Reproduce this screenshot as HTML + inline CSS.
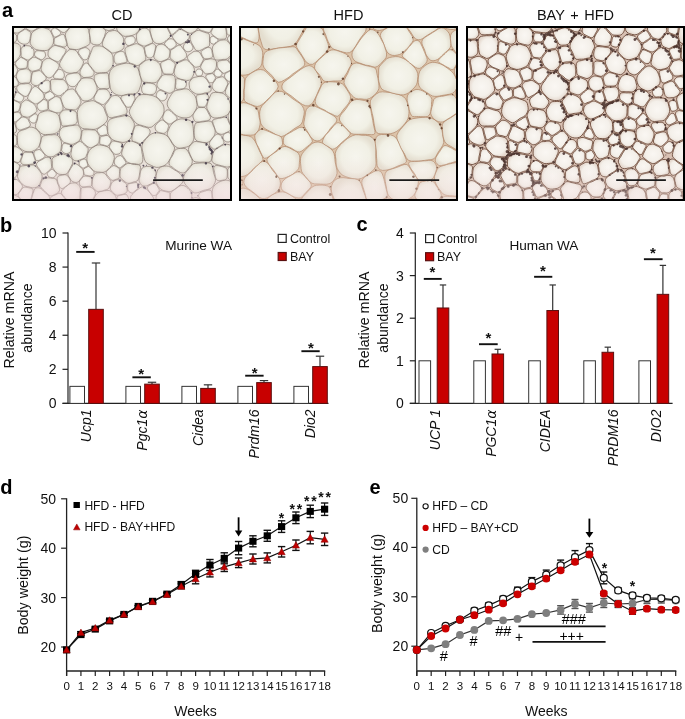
<!DOCTYPE html>
<html><head><meta charset="utf-8"><title>Figure</title>
<style>
html,body{margin:0;padding:0;background:#fff;}
body{width:685px;height:719px;overflow:hidden;}
svg{display:block;font-family:'Liberation Sans', Arial, Helvetica, sans-serif;}
</style></head><body>
<svg width="685" height="719" viewBox="0 0 685 719">
<rect width="685" height="719" fill="#fff"/>
<text x="1.9" y="17.4" font-size="20" font-weight="bold" fill="#000">a</text>
<text x="122" y="19.5" font-size="14.5" text-anchor="middle" fill="#111">CD</text>
<svg x="14" y="28" width="216" height="171" viewBox="0 0 216 171" overflow="hidden"><defs><filter id="blcd" x="0" y="0" width="1" height="1"><feGaussianBlur stdDeviation="0.45"/></filter></defs><g filter="url(#blcd)"><defs><linearGradient id="gcd" x1="0" y1="0" x2="0" y2="1"><stop offset="0" stop-color="#f0d4da" stop-opacity="0"/><stop offset="0.8" stop-color="#f0d4da" stop-opacity="0.0"/><stop offset="1" stop-color="#f0d4da" stop-opacity="0.55"/></linearGradient></defs><rect width="216" height="171" fill="#e8e0d8"/><defs><radialGradient id="rgcd" cx="0.5" cy="0.5" r="0.5"><stop offset="0" stop-color="#f6f5ee"/><stop offset="0.7" stop-color="#f0efe6"/><stop offset="1" stop-color="#e4e0d4"/></radialGradient></defs><g fill="url(#rgcd)" stroke="#766660" stroke-width="0.6"><path d="M45 102.6Q44 104.3 42.2 105Q40.4 105.7 38.6 106Q36.9 106.3 35.1 106.4Q33.4 106.4 31.6 106.6Q29.7 106.8 28.1 105.9Q26.4 105 25.2 103.6Q23.9 102.2 22.5 100.8Q21 99.4 21.4 97.4Q21.8 95.4 22.6 93.8Q23.5 92.1 23.6 90.4Q23.7 88.7 24.3 86.9Q24.9 85.1 26.7 84.5Q28.5 83.9 30.2 83.3Q31.8 82.8 33.5 82.7Q35.2 82.7 36.8 83.2Q38.4 83.7 40.1 84.1Q41.7 84.6 43.2 85.7Q44.7 86.7 45.1 88.5Q45.5 90.3 45.8 92Q46.1 93.7 46.5 95.5Q46.9 97.3 46.5 99.1Q46 100.9 45 102.6Z"/><path d="M221 173.8Q219.7 175.1 218.3 176.2Q216.9 177.4 215.4 178.7Q213.9 180.1 211.9 179.9Q209.9 179.7 208.1 179Q206.4 178.3 204.5 177.8Q202.6 177.2 201 176Q199.4 174.8 199.2 172.7Q199.1 170.6 198.6 168.9Q198.1 167.1 198.1 165.3Q198.2 163.4 198.5 161.5Q198.8 159.6 200 158.1Q201.2 156.5 202.8 155.4Q204.4 154.3 206.2 153.5Q208 152.8 210 152.3Q211.9 151.8 213.9 152.4Q215.9 152.9 217.6 153.9Q219.4 154.9 221.1 156.1Q222.8 157.3 223.5 159.3Q224.2 161.3 224.7 163.3Q225.2 165.2 225.2 167.3Q225.2 169.4 223.7 170.9Q222.2 172.5 221 173.8Z"/><path d="M24.3 119.3Q23.3 120.7 21.8 121.6Q20.3 122.5 18.7 123.2Q17.1 124 15.3 123.8Q13.6 123.7 11.9 123.5Q10.2 123.2 8.8 122.2Q7.4 121.3 6 120.2Q4.7 119.2 4.1 117.6Q3.4 115.9 3.5 114.3Q3.5 112.6 3.5 111Q3.4 109.4 3.3 107.5Q3.2 105.6 4.4 104.3Q5.6 103 7.4 102.4Q9.1 101.9 10.6 101.5Q12.2 101.1 13.8 100Q15.4 98.9 17.3 99.1Q19.2 99.2 20.9 100.2Q22.5 101.2 23.8 102.6Q25.1 103.9 26 105.6Q27 107.2 27.1 109.1Q27.2 111 26.7 112.7Q26.2 114.4 25.8 116.1Q25.3 117.8 24.3 119.3Z"/><path d="M216.2 28Q215.2 29 214.3 30.1Q213.3 31.1 211.9 31.3Q210.5 31.4 209.1 31.4Q207.8 31.5 206.3 31.8Q204.8 32.1 202.9 32.1Q201.1 32.1 200.3 30.5Q199.6 28.9 199.3 27.3Q199 25.8 198.7 24.4Q198.4 23 198.3 21.5Q198.2 20 198.7 18.6Q199.2 17.2 200.5 16.3Q201.8 15.5 202.8 14.5Q203.8 13.6 205 12.9Q206.3 12.2 207.8 12.1Q209.3 11.9 210.9 11.8Q212.5 11.6 213.5 13Q214.4 14.3 215.4 15.4Q216.3 16.4 217 17.6Q217.7 18.8 217.9 20.2Q218 21.6 218.1 23Q218.1 24.4 217.6 25.7Q217.2 27 216.2 28Z"/><path d="M97 138.5Q95.5 139.9 94.2 141.3Q92.8 142.7 91 143.7Q89.2 144.7 87.2 144.3Q85.2 144 83.1 144Q81.1 144 79.6 142.6Q78.1 141.2 76.8 139.8Q75.6 138.4 74.5 136.8Q73.4 135.2 73.1 133.3Q72.7 131.4 73 129.5Q73.2 127.6 73.8 125.8Q74.4 124 75.4 122.4Q76.5 120.7 78.1 119.8Q79.8 118.8 81.5 117.8Q83.2 116.8 85.2 116.9Q87.2 116.9 89 117.4Q90.9 117.9 92.8 118.5Q94.7 119.1 95.7 120.9Q96.7 122.6 98.1 124.1Q99.4 125.6 100 127.5Q100.7 129.5 100.1 131.4Q99.5 133.4 99 135.3Q98.4 137.2 97 138.5Z"/><path d="M180.6 84Q179.5 85.8 178 87.5Q176.5 89.1 174.4 89.6Q172.2 90.1 170 89.9Q167.9 89.7 165.9 89.1Q164 88.5 162.3 87.3Q160.7 86.2 159.4 84.8Q158 83.4 156.3 81.9Q154.7 80.5 153.7 78.4Q152.8 76.3 153.4 74.1Q154.1 71.9 155.2 70.1Q156.3 68.3 157.4 66.4Q158.4 64.6 160.1 63.4Q161.9 62.2 164 62.1Q166.1 61.9 168 61.4Q170 60.8 172.2 60.8Q174.3 60.8 175.8 62.5Q177.3 64.2 178.8 65.4Q180.4 66.7 181.3 68.5Q182.2 70.3 182.4 72.3Q182.6 74.2 183 76.3Q183.3 78.4 182.5 80.2Q181.6 82.1 180.6 84Z"/><path d="M156.2 130.8Q155.1 132.8 153.6 134.9Q152.1 136.9 149.7 137.9Q147.3 138.8 144.7 139.3Q142.1 139.8 139.8 138.6Q137.4 137.3 135 136.5Q132.6 135.7 131.3 133.4Q130.1 131.1 129.8 128.7Q129.5 126.3 128.9 124.3Q128.4 122.2 128 119.9Q127.6 117.7 128.7 115.6Q129.8 113.6 131.2 111.9Q132.6 110.2 134.2 108.6Q135.7 106.9 137.8 105.8Q139.9 104.7 142.3 104.8Q144.7 105 147 105.4Q149.2 105.8 151.4 106.8Q153.5 107.8 154.8 109.8Q156.1 111.7 157.1 113.7Q158.2 115.7 159.8 117.8Q161.4 119.9 160.2 122.2Q158.9 124.5 158.1 126.6Q157.4 128.7 156.2 130.8Z"/><path d="M125.2 61.8Q124.4 64.4 121.9 65.4Q119.3 66.3 116.7 66Q114.2 65.7 112 66.6Q109.8 67.5 107.3 67.5Q104.8 67.5 102.4 66.6Q100 65.6 98.2 63.7Q96.5 61.8 96.2 59.2Q95.9 56.6 95.5 54.3Q95.1 52.1 95.1 49.8Q95 47.5 95.5 45.1Q95.9 42.7 97.5 40.9Q99.1 39.1 101.3 38.1Q103.4 37.1 105.6 36.6Q107.8 36 110 35.5Q112.2 34.9 114.4 35.3Q116.7 35.7 118.9 36.6Q121.2 37.4 122.9 39.1Q124.6 40.9 124.9 43.3Q125.3 45.7 126.1 47.8Q126.9 49.9 127.3 52.3Q127.7 54.7 126.9 56.9Q126 59.2 125.2 61.8Z"/><path d="M101.5 182.2Q99.8 183.3 98.3 184.2Q96.9 185 95.3 185.9Q93.8 186.7 92 187.6Q90.2 188.6 88.5 187.6Q86.7 186.6 85.3 185.4Q84 184.3 82.3 183.4Q80.6 182.5 79.9 180.8Q79.1 179.1 79.1 177.3Q79.1 175.5 79.2 173.8Q79.3 172 80 170.5Q80.7 168.9 81.6 167.4Q82.4 165.8 83.9 164.8Q85.3 163.7 87 163.4Q88.7 163.1 90.4 162.8Q92.1 162.5 94 162.4Q95.8 162.3 97.2 163.6Q98.5 165 99.9 166Q101.3 167.1 101.8 168.8Q102.2 170.5 102.6 172.2Q102.9 173.8 103.1 175.6Q103.3 177.3 103.2 179.2Q103.1 181.2 101.5 182.2Z"/><path d="M37.5 18.3Q36.2 19.5 35.1 20.9Q34.1 22.4 32.2 22.5Q30.4 22.5 28.8 22.5Q27.2 22.5 25.6 22.3Q24 22 22.3 21.6Q20.6 21.2 19.4 19.9Q18.2 18.6 17.1 17.2Q16 15.7 16.2 13.9Q16.4 12.1 16.7 10.5Q17 8.9 17.1 7.1Q17.3 5.4 18.5 4.2Q19.8 3 21.2 2.2Q22.7 1.4 24.1 0.6Q25.5 -0.2 27.2 -0.5Q28.9 -0.8 30.5 -0.1Q32 0.6 33.7 1Q35.5 1.4 36.3 2.9Q37.1 4.5 37.8 5.9Q38.5 7.4 39.1 8.9Q39.6 10.5 39.6 12.2Q39.6 13.8 39.2 15.5Q38.8 17.2 37.5 18.3Z"/><path d="M-6.6 167.6Q-7.7 169 -9.1 170.4Q-10.4 171.8 -12.4 171.6Q-14.4 171.5 -16 171.1Q-17.7 170.7 -19.3 170.6Q-20.9 170.5 -22.7 170.2Q-24.4 169.8 -26.8 169.4Q-29.2 169 -31.4 167.5Q-33.6 166 -34.1 163.5Q-34.6 161 -34.4 158.5Q-34.1 156 -33.1 153.7Q-32.2 151.4 -30.5 149.6Q-28.9 147.7 -26.3 147.5Q-23.7 147.3 -21.7 146.9Q-19.8 146.4 -17.8 146.4Q-15.9 146.3 -14.2 147.3Q-12.5 148.2 -11.2 149.3Q-9.8 150.3 -8 151.1Q-6.3 151.9 -5.7 153.7Q-5.1 155.4 -5 157.2Q-4.9 159 -5 160.7Q-5 162.4 -5.2 164.3Q-5.4 166.1 -6.6 167.6Z"/><path d="M244.9 38.8Q243.8 40.6 242 41.7Q240.1 42.8 237.8 41.9Q235.5 41.1 233.9 40.8Q232.3 40.5 230.9 40Q229.5 39.5 228 39.1Q226.5 38.7 225.2 37.7Q223.9 36.7 223.6 35.1Q223.3 33.5 223 32.1Q222.6 30.6 222.3 29.1Q222.1 27.5 223 26.2Q224 24.9 224.8 23.6Q225.6 22.4 226.6 21.1Q227.6 19.8 229 18.6Q230.4 17.5 232.2 17.9Q233.9 18.3 235.6 18.5Q237.3 18.7 239.2 19Q241.1 19.3 243.1 20.1Q245.1 21 246.1 22.8Q247.2 24.7 247.6 26.8Q248 28.9 248 31Q248.1 33.2 247 35.1Q245.9 36.9 244.9 38.8Z"/><path d="M145.9 91.6Q144.7 93.5 142.9 94.7Q141 95.9 139.2 97.9Q137.4 99.8 134.9 99.4Q132.4 99 130.2 98.2Q128 97.4 125.6 96.9Q123.1 96.3 121.4 94.5Q119.8 92.7 118.4 90.6Q117 88.5 115.8 86.1Q114.6 83.7 115.9 81.2Q117.2 78.7 118.4 76.7Q119.6 74.7 120.8 72.6Q121.9 70.6 123.5 68.6Q125.1 66.6 127.7 66.6Q130.2 66.5 132.5 66.6Q134.8 66.6 137 67.2Q139.1 67.7 141.2 68.6Q143.3 69.5 144.7 71.3Q146 73.2 147.7 74.8Q149.4 76.5 149.8 78.9Q150.3 81.2 150 83.6Q149.8 85.9 148.5 87.8Q147.1 89.8 145.9 91.6Z"/><path d="M214.7 85.4Q213.7 86.9 212.1 87.6Q210.5 88.4 208.8 88.9Q207.2 89.3 205.5 89.6Q203.9 89.8 202 90Q200.1 90.2 198.5 89.3Q196.8 88.4 196.1 86.7Q195.4 84.9 194.5 83.5Q193.5 82.1 192.9 80.4Q192.4 78.8 193 77.1Q193.5 75.4 193.9 73.8Q194.3 72.2 195.1 70.6Q195.9 69 196.7 66.8Q197.6 64.7 199.7 64.5Q201.8 64.2 203.8 64.5Q205.7 64.7 207.6 65Q209.5 65.4 210.9 66.6Q212.3 67.9 213.4 69.2Q214.5 70.6 215.1 72.2Q215.8 73.8 216.2 75.4Q216.7 77.1 216.8 78.8Q217 80.6 216.4 82.3Q215.8 83.9 214.7 85.4Z"/><path d="M198.9 158.3Q197.7 160.2 195.6 160.9Q193.5 161.6 191.6 161.9Q189.6 162.2 187.7 163.1Q185.7 164 183.2 164.8Q180.7 165.6 178.8 164Q176.9 162.4 175.3 160.7Q173.7 159 172 157.2Q170.2 155.4 169.7 152.9Q169.2 150.5 169.9 148.1Q170.5 145.7 172.2 143.9Q174 142.2 175.2 140.5Q176.4 138.7 177.8 137.1Q179.3 135.4 181.5 135.3Q183.8 135.2 185.8 135Q187.9 134.8 190 134.9Q192.2 134.9 194.9 134.9Q197.6 134.9 198.2 137.6Q198.9 140.2 199.2 142.4Q199.4 144.6 200.1 146.4Q200.7 148.3 201.3 150.4Q201.9 152.6 201 154.5Q200 156.5 198.9 158.3Z"/><path d="M-5.6 126.7Q-6.3 128.2 -7.3 129.7Q-8.4 131.2 -10.2 131.6Q-11.9 132 -13.6 131.4Q-15.3 130.8 -16.8 130.3Q-18.2 129.9 -19.8 129.5Q-21.4 129.2 -23.5 128.7Q-25.5 128.2 -27.4 126.8Q-29.3 125.5 -29.9 123.3Q-30.6 121.1 -30.4 118.8Q-30.3 116.5 -29.5 114.3Q-28.7 112.2 -27 110.6Q-25.3 109.1 -23.2 108.6Q-21 108 -19.1 107.8Q-17.1 107.7 -15.4 107.5Q-13.6 107.2 -11.9 107.9Q-10.2 108.5 -8.8 109.5Q-7.4 110.5 -6.7 112.1Q-6 113.6 -5.2 114.9Q-4.4 116.2 -3.5 117.7Q-2.6 119.1 -3.3 120.7Q-4.1 122.2 -4.5 123.7Q-4.9 125.2 -5.6 126.7Z"/><path d="M74.7 16.9Q73 18.1 71.2 18.7Q69.5 19.3 67.9 20Q66.3 20.7 64.5 21.3Q62.7 21.8 60.8 21.5Q58.9 21.3 56.8 21Q54.6 20.7 53.9 18.6Q53.1 16.5 52.9 14.6Q52.7 12.7 52.2 11.1Q51.7 9.5 51.3 7.7Q51 5.9 52.1 4.4Q53.2 2.9 54.3 1.7Q55.4 0.4 56.6 -0.8Q57.8 -2 59.6 -2.2Q61.3 -2.3 62.9 -2.7Q64.5 -3 66.4 -3.5Q68.4 -3.9 69.9 -2.8Q71.5 -1.7 73 -0.6Q74.5 0.6 74.8 2.5Q75 4.5 75.4 6.1Q75.7 7.8 75.7 9.6Q75.7 11.3 76 13.5Q76.4 15.7 74.7 16.9Z"/><path d="M26 155.5Q25.2 157.3 23.7 158.5Q22.2 159.7 20.3 159.8Q18.3 160 16.6 159.4Q14.9 158.8 13.3 158.6Q11.7 158.4 10.3 157.6Q8.9 156.8 7.8 155.6Q6.6 154.5 5.7 153.1Q4.8 151.8 4 150.2Q3.2 148.6 3.6 146.9Q4.1 145.2 4.6 143.6Q5.1 141.9 5.6 140Q6 138 8.1 137.9Q10.2 137.7 11.8 137.5Q13.4 137.2 15 137.1Q16.5 137 18.2 136.9Q19.8 136.7 21.2 137.7Q22.6 138.6 23.4 140Q24.3 141.3 25.3 142.5Q26.4 143.8 27.3 145.3Q28.2 146.9 28.2 148.7Q28.1 150.5 27.4 152.1Q26.7 153.8 26 155.5Z"/><path d="M238.7 99.5Q236.8 101.1 234.3 101.2Q231.9 101.4 230 101.6Q228.1 101.7 226.4 101.8Q224.7 102 222.9 101.7Q221.2 101.4 219.5 100.7Q217.9 99.9 217.2 98.2Q216.5 96.5 215.9 95Q215.3 93.6 214.8 92.1Q214.4 90.6 214.1 88.9Q213.8 87.2 214.6 85.7Q215.5 84.3 216.3 82.8Q217.1 81.3 218.6 80.5Q220.1 79.7 221.6 79.3Q223.2 78.8 224.8 78.4Q226.4 78 227.9 78.7Q229.4 79.4 231 79.9Q232.6 80.4 234.2 81.3Q235.8 82.1 238.3 83.1Q240.8 84.1 241.6 86.4Q242.5 88.6 242.4 91Q242.3 93.4 241.4 95.7Q240.5 98 238.7 99.5Z"/><path d="M89.9 96.3Q88.2 97.7 86.5 98.7Q84.7 99.6 83 100.6Q81.2 101.5 79.2 101.4Q77.2 101.3 75.2 101.1Q73.2 100.8 70.7 100.8Q68.3 100.8 66.5 99.2Q64.8 97.6 64.4 95.2Q64.1 92.8 63.8 90.7Q63.6 88.6 63.3 86.4Q63 84.2 63.7 82.2Q64.5 80.1 65.9 78.4Q67.4 76.7 69.1 75.3Q70.7 73.9 72.9 73.6Q75.1 73.4 77.2 72.8Q79.3 72.2 81.2 73.4Q83 74.6 84.8 75.5Q86.6 76.4 88.1 77.7Q89.7 79 90.3 80.9Q90.8 82.9 91.6 84.7Q92.4 86.6 93.3 88.8Q94.2 91.1 92.9 93Q91.7 95 89.9 96.3Z"/><path d="M4.1 30.6Q3.3 31.7 2.3 32.8Q1.3 33.9 -0 34.5Q-1.4 35.1 -2.9 35Q-4.3 34.9 -5.9 35.1Q-7.5 35.3 -8.7 34.3Q-9.9 33.3 -10.8 32.1Q-11.7 30.9 -12.6 29.7Q-13.5 28.5 -13.8 27.1Q-14.2 25.6 -13.7 24.2Q-13.2 22.7 -12.8 21.4Q-12.4 20 -11.9 18.5Q-11.3 17.1 -10 16.3Q-8.6 15.5 -7.2 15.3Q-5.7 15.1 -4.3 15.1Q-2.9 15.1 -1.4 15Q0.2 14.9 1.8 15.1Q3.5 15.4 5 16.4Q6.4 17.4 6.5 19.2Q6.6 21.1 6.4 22.6Q6.3 24.2 6.4 25.6Q6.4 27 5.7 28.3Q5 29.5 4.1 30.6Z"/><path d="M39 198.2Q38.9 200.7 37.1 201.9Q35.2 203.1 33.2 203.8Q31.1 204.4 28.9 204.7Q26.8 204.9 24.7 204.3Q22.6 203.7 20.4 203.1Q18.2 202.5 17.8 200Q17.4 197.4 17.1 195.6Q16.8 193.8 16.8 192.1Q16.7 190.4 16.8 188.8Q16.9 187.2 17.3 185.7Q17.8 184.1 18.5 182.6Q19.3 181 20.8 180.1Q22.2 179.2 23.9 179Q25.6 178.9 27.1 178.6Q28.7 178.4 30.4 178.4Q32.1 178.4 33.7 179.1Q35.3 179.7 36.4 181.1Q37.5 182.5 38.4 183.9Q39.4 185.4 39.3 187.1Q39.1 188.9 39.3 190.5Q39.4 192.2 39.3 194Q39.1 195.8 39 198.2Z"/><path d="M-0.5 69.6Q-0.9 70.9 -2 71.7Q-3.1 72.5 -4.3 73.2Q-5.5 73.9 -6.9 74.3Q-8.3 74.6 -9.9 74.5Q-11.4 74.4 -12.4 73.2Q-13.4 71.9 -14.3 70.9Q-15.2 69.9 -16.2 68.9Q-17.2 67.8 -18.7 66.5Q-20.1 65.1 -19.1 63.5Q-18.1 61.9 -16.9 60.9Q-15.7 59.8 -14.7 59Q-13.7 58.1 -12.8 57.2Q-11.9 56.2 -10.8 55.3Q-9.7 54.3 -8.3 54.3Q-6.8 54.3 -5.6 55.1Q-4.4 55.8 -3.4 56.5Q-2.3 57.2 -1.2 57.9Q-0 58.6 1 59.6Q2.1 60.7 2 62.1Q1.9 63.6 1.4 64.8Q0.9 66.1 0.4 67.2Q-0 68.4 -0.5 69.6Z"/><path d="M194.6 18.4Q193.3 19.3 191.9 19.6Q190.6 20 189.5 20.7Q188.4 21.5 187 22.1Q185.7 22.8 184.1 22.9Q182.5 23 181.4 21.7Q180.4 20.4 179.9 19Q179.3 17.7 178.6 16.6Q177.9 15.5 177.3 14.3Q176.8 13 176.3 11.6Q175.9 10.1 176.2 8.5Q176.4 6.9 177.8 6Q179.2 5.1 180.3 4.2Q181.5 3.3 182.8 2.6Q184.2 2 185.7 2.5Q187.1 3 188.3 3.5Q189.6 4 190.9 4.4Q192.1 4.8 193.8 5.2Q195.4 5.6 195.5 7.3Q195.5 9 195.5 10.4Q195.6 11.7 195.5 13Q195.4 14.3 195.7 16Q196 17.6 194.6 18.4Z"/><path d="M97.3 40Q96 41.4 94.8 43Q93.5 44.6 91.4 44.6Q89.3 44.6 87.5 44.8Q85.6 44.9 83.6 45Q81.7 45 80.4 43.3Q79.2 41.7 78.1 40.4Q77 39 75.9 37.7Q74.7 36.3 74.1 34.6Q73.4 32.8 74.3 31.1Q75.2 29.4 75.7 27.8Q76.2 26.2 76.9 24.6Q77.6 22.9 78.3 20.5Q79 18 81.3 18Q83.5 17.9 85.6 17.9Q87.6 17.9 89.3 19Q91 20 92.4 21.2Q93.7 22.4 95.2 23.3Q96.8 24.3 97.8 25.8Q98.9 27.4 99 29.2Q99 31.1 99.2 32.9Q99.4 34.7 99 36.6Q98.6 38.5 97.3 40Z"/><path d="M45.8 124Q44.9 125.3 43.4 125.9Q41.9 126.5 40.7 127.6Q39.4 128.7 37.7 128.8Q36.1 129 34.5 128.6Q32.9 128.3 31.7 127.1Q30.5 125.9 29.6 124.7Q28.7 123.5 27.8 122.3Q26.9 121.1 26.1 119.6Q25.3 118.2 26 116.6Q26.6 115.1 26.9 113.5Q27.1 111.9 27.5 110.1Q27.9 108.3 29.7 107.8Q31.5 107.4 33.1 107.1Q34.7 106.8 36.2 106.9Q37.7 107 39.4 106.7Q41.1 106.4 42.7 107Q44.3 107.5 45.2 109.1Q46.1 110.6 46.8 112Q47.5 113.4 47.5 115Q47.5 116.6 47.4 118.1Q47.2 119.6 47 121.2Q46.8 122.8 45.8 124Z"/><path d="M66.3 40.9Q65.4 42.2 64.3 43.4Q63.2 44.5 61.6 44.6Q60 44.7 58.5 45Q57 45.3 55.4 45.2Q53.9 45.1 52.3 44.4Q50.8 43.8 49.8 42.6Q48.7 41.3 47.4 40.1Q46.1 38.9 45.7 37.1Q45.2 35.4 46.3 33.8Q47.3 32.2 48 30.9Q48.8 29.6 49.5 28.3Q50.3 27 51.3 25.7Q52.3 24.4 53.6 22.9Q55 21.4 56.9 21.4Q58.8 21.5 60.6 21.9Q62.4 22.3 63.3 24.1Q64.2 26 65 27.3Q65.8 28.6 66.7 29.8Q67.6 30.9 68.8 32.3Q70 33.7 69.3 35.3Q68.6 36.9 67.9 38.3Q67.2 39.7 66.3 40.9Z"/><path d="M178.7 113.8Q177.5 115.5 176 117.2Q174.6 118.8 172.3 119.1Q170.1 119.4 168 120Q165.9 120.6 163.8 119.9Q161.7 119.1 160.3 117.5Q158.8 115.9 157.9 114.2Q156.9 112.5 155.9 111Q154.8 109.5 153.7 107.8Q152.6 106 153.5 104.1Q154.4 102.2 155.1 100.5Q155.7 98.8 156.8 97.3Q157.8 95.8 159.3 94.6Q160.7 93.3 162.4 92.4Q164.1 91.4 166.1 91Q168.1 90.6 170.1 91.1Q172.1 91.6 174.4 91.9Q176.7 92.2 177.8 94.1Q178.9 96.1 179.1 98.3Q179.3 100.5 179.4 102.3Q179.5 104.1 179.7 106Q179.8 107.8 179.9 109.9Q179.9 112.1 178.7 113.8Z"/><path d="M221.1 135.1Q219.6 136.2 218.2 137Q216.8 137.9 215.4 138.6Q213.9 139.4 212.3 139Q210.6 138.6 209.2 138.2Q207.7 137.8 206.1 137.4Q204.6 137 202.6 136.5Q200.6 136 198.9 134.6Q197.3 133.2 197.9 131Q198.5 128.8 198.7 127Q198.9 125.2 199.8 123.6Q200.6 122 202.2 121.1Q203.8 120.3 205 119.3Q206.2 118.4 207.6 117.7Q209.1 116.9 210.7 116.5Q212.3 116 213.9 116.4Q215.6 116.7 217.1 117.6Q218.5 118.4 219.9 119.5Q221.2 120.6 222 122.2Q222.8 123.7 223.1 125.4Q223.3 127.1 223.2 128.8Q223.2 130.5 222.9 132.3Q222.6 134 221.1 135.1Z"/><path d="M194.1 188.8Q193.7 190.4 192.9 192.4Q192.2 194.4 190.4 195.3Q188.6 196.2 186.5 196.5Q184.5 196.8 182.5 196.3Q180.5 195.7 179 194.3Q177.6 192.9 177.2 190.8Q176.9 188.7 176.5 187.2Q176.1 185.8 175.5 184.4Q174.9 183 174.6 181.4Q174.4 179.8 174.3 177.9Q174.3 176.1 175.4 174.6Q176.5 173.1 177.7 171.5Q178.9 170 180.8 169.6Q182.7 169.3 184.5 170.4Q186.3 171.5 187.8 172Q189.2 172.5 190.4 173.4Q191.6 174.2 193.1 174.8Q194.7 175.4 195.9 176.7Q197.1 178 196.6 179.7Q196.1 181.5 195.7 183Q195.4 184.4 195 185.8Q194.5 187.1 194.1 188.8Z"/><path d="M10 1.2Q8.7 2 7.5 2.8Q6.3 3.6 5.1 4.5Q3.9 5.3 2.4 5.1Q1 4.9 -0.4 4.6Q-1.8 4.4 -3.1 3.7Q-4.3 3 -5.8 2.4Q-7.2 1.7 -8.3 0.4Q-9.4 -0.9 -10.2 -2.5Q-11.1 -4.1 -10.3 -5.8Q-9.6 -7.4 -8.8 -8.9Q-8 -10.3 -6.9 -11.4Q-5.8 -12.5 -4.6 -13.4Q-3.4 -14.4 -1.9 -14.2Q-0.3 -14 1.1 -14.3Q2.4 -14.5 3.7 -14.3Q5.1 -14.1 7 -14.3Q8.9 -14.5 10.2 -13.4Q11.5 -12.3 11.5 -10.4Q11.4 -8.6 11.4 -7.1Q11.4 -5.6 11.1 -4.3Q10.8 -3 11.1 -1.3Q11.4 0.3 10 1.2Z"/><path d="M183.1 1.1Q182.4 2.5 181.1 3.3Q179.7 4 178.3 4.8Q177 5.6 175.5 5.2Q173.9 4.8 172.7 4Q171.5 3.2 170.3 2.6Q169.2 2 168.1 1.2Q167.1 0.4 166.3 -0.8Q165.6 -1.9 165.3 -3.2Q164.9 -4.6 164.3 -6.1Q163.8 -7.6 164.9 -8.8Q166.1 -10 167 -11Q168 -12 169 -12.8Q170.1 -13.7 171.2 -14.7Q172.4 -15.7 173.9 -15.2Q175.3 -14.6 176.6 -14.1Q177.8 -13.7 179 -13.2Q180.2 -12.7 181.6 -12Q182.9 -11.4 184 -10.3Q185.1 -9.2 184.9 -7.6Q184.7 -6 184.6 -4.5Q184.4 -3.1 184.1 -1.7Q183.8 -0.3 183.1 1.1Z"/><path d="M237.5 190.7Q236.4 192.3 234.7 193.5Q233 194.7 231.1 195.2Q229.1 195.7 227.2 196Q225.2 196.3 223.7 194.6Q222.1 193 221.2 191.5Q220.3 190 219.5 188.9Q218.6 187.8 217.6 186.8Q216.7 185.7 216 184.3Q215.3 182.9 215.1 181.3Q215 179.7 216.4 178.6Q217.8 177.5 218.7 176.6Q219.7 175.6 220.7 174.6Q221.6 173.7 222.7 172.4Q223.8 171.1 225.5 170.6Q227.1 170.1 228.7 170.8Q230.2 171.5 231.7 172.3Q233.1 173 234.9 173.7Q236.7 174.3 237.9 175.8Q239.1 177.4 239.8 179.3Q240.5 181.2 240.3 183.2Q240.1 185.2 239.4 187.1Q238.7 189 237.5 190.7Z"/><path d="M122.9 192.9Q122.9 194.8 122.2 197Q121.4 199.1 119.4 199.5Q117.4 199.8 115.4 200.1Q113.4 200.5 111.4 200.3Q109.3 200.1 108.2 198.1Q107.1 196.2 106.7 194.3Q106.3 192.5 106.1 191Q106 189.5 105.4 188.3Q104.9 187 104.7 185.6Q104.4 184.1 104.2 182.4Q104 180.6 105.5 179.7Q107 178.8 108.3 178.1Q109.6 177.4 111 176.9Q112.3 176.3 113.8 175.8Q115.3 175.2 116.8 175.7Q118.3 176.2 119.5 177.1Q120.8 177.9 121.8 179Q122.8 180.1 123.7 181.4Q124.6 182.6 124.3 184.1Q124 185.7 123.8 187Q123.6 188.3 123.2 189.6Q122.9 191 122.9 192.9Z"/><path d="M123.1 4.7Q121.9 6 120.4 6.6Q118.9 7.3 117.4 7.6Q115.9 8 114.4 8.1Q112.9 8.2 111.3 8.4Q109.7 8.5 108.5 7.4Q107.3 6.2 106.1 5.3Q104.8 4.4 103.7 3.1Q102.7 1.8 102.7 0.2Q102.7 -1.5 103.2 -3Q103.6 -4.5 104.1 -5.9Q104.5 -7.3 104.9 -9Q105.2 -10.8 106.7 -11.6Q108.2 -12.5 109.8 -12.6Q111.5 -12.7 113 -12.6Q114.5 -12.5 116 -12.5Q117.6 -12.5 118.9 -11.7Q120.2 -10.9 121 -9.6Q121.8 -8.3 122.5 -7Q123.1 -5.8 123.8 -4.4Q124.4 -3 125.2 -1.3Q126 0.4 125.1 2Q124.2 3.5 123.1 4.7Z"/><path d="M178.7 48.5Q177.9 49.9 176.9 51.1Q175.8 52.4 174.1 52.4Q172.4 52.5 170.9 52.1Q169.5 51.7 168.1 51.5Q166.7 51.3 165.4 50.8Q164 50.2 162.8 49.4Q161.5 48.5 160.8 47.2Q160.1 45.8 160.1 44.3Q160.2 42.8 160.6 41.4Q161.1 40.1 161.4 38.8Q161.7 37.4 162.4 36.3Q163.2 35.1 164.5 34.6Q165.8 34.1 167 33.5Q168.2 32.9 169.6 32.3Q170.9 31.7 172.4 31.8Q173.9 32 174.8 33.3Q175.7 34.6 176.8 35.5Q177.8 36.4 178.7 37.5Q179.6 38.6 180.1 40Q180.6 41.3 180.4 42.8Q180.2 44.3 179.8 45.7Q179.4 47.1 178.7 48.5Z"/><path d="M117 109.5Q116.2 111.3 114.5 112.5Q112.9 113.7 110.9 114.2Q109 114.7 107 114.2Q105.1 113.8 103.4 113.4Q101.6 113 99.9 112.3Q98.1 111.7 97 110.2Q95.8 108.8 94.8 107.2Q93.7 105.7 93.7 103.9Q93.7 102 93.7 100.2Q93.6 98.4 93.5 96.3Q93.4 94.2 94.7 92.6Q96 91 98 90.5Q100 89.9 101.7 89.5Q103.4 89 105.2 88.8Q107 88.6 109.1 88Q111.2 87.3 113.5 87.7Q115.9 88.1 117.1 90Q118.4 91.9 119.6 93.8Q120.8 95.7 120.3 97.9Q119.9 100.2 119.1 102Q118.2 103.8 118 105.7Q117.9 107.6 117 109.5Z"/><path d="M163.4 159.2Q162.1 160.4 160.7 161.3Q159.3 162.3 157.7 163.1Q156.2 163.9 154.5 163.6Q152.8 163.2 151.2 162.9Q149.6 162.7 148.1 162Q146.5 161.3 145.5 160Q144.5 158.7 143.6 157.3Q142.7 155.9 142.1 154.3Q141.6 152.7 141.9 151.1Q142.2 149.4 142.3 147.6Q142.4 145.8 143 143.7Q143.5 141.7 145 140.3Q146.5 138.9 148.6 138.4Q150.6 138 152.6 138Q154.6 138 156.3 139.1Q158 140.3 159.4 141.2Q160.9 142.2 162.6 143.1Q164.2 144 165.8 145.4Q167.4 146.8 168.4 148.8Q169.4 150.8 169 153Q168.6 155.2 166.7 156.6Q164.8 158 163.4 159.2Z"/><path d="M40.4 -4.7Q39.9 -3.5 38.9 -2.4Q37.9 -1.3 36.6 -0.4Q35.4 0.6 33.8 0.1Q32.3 -0.4 31 -0.9Q29.6 -1.3 28 -1.5Q26.4 -1.6 26 -3.2Q25.6 -4.8 25.1 -6Q24.7 -7.2 24.3 -8.5Q23.9 -9.7 23.8 -11Q23.7 -12.4 24.3 -13.6Q24.9 -14.8 25.5 -16.1Q26.1 -17.3 26.9 -18.7Q27.7 -20 28.9 -21.9Q30.1 -23.7 32 -23.5Q34 -23.3 35.3 -21.7Q36.7 -20.1 37.7 -19.1Q38.8 -18 39.6 -16.9Q40.4 -15.9 41.4 -14.8Q42.3 -13.8 42.6 -12.4Q42.8 -11 42.3 -9.7Q41.7 -8.4 41.4 -7.2Q41 -6 40.4 -4.7Z"/><path d="M55.2 142Q54.5 143.2 53.7 144.6Q52.9 146 51.4 146.3Q49.9 146.5 48.4 146.5Q46.9 146.5 45.5 146.3Q44 146.2 43 145.1Q41.9 144.1 41 143.1Q40.1 142 39.3 140.9Q38.6 139.8 38.4 138.4Q38.2 137.1 38.4 135.7Q38.6 134.4 38.1 132.6Q37.6 130.9 38.9 129.8Q40.1 128.8 41.6 128.3Q43 127.7 44.2 126.8Q45.4 125.9 46.9 125.8Q48.5 125.7 49.9 126.2Q51.3 126.7 52.9 127.1Q54.4 127.5 55.7 128.4Q57 129.4 58 130.8Q58.9 132.2 58.8 133.9Q58.8 135.6 57.9 137Q57 138.4 56.5 139.7Q55.9 140.9 55.2 142Z"/><path d="M136.7 176.8Q135.5 177.9 134.4 179.2Q133.4 180.4 131.7 180.6Q130.1 180.7 128.5 181Q127 181.3 125.6 180.7Q124.1 180.1 122.9 179.2Q121.7 178.4 120.6 177.4Q119.6 176.4 118.1 175.4Q116.7 174.4 116.6 172.7Q116.4 171 116.5 169.4Q116.6 167.8 117.9 166.7Q119.3 165.5 120.2 164.5Q121.1 163.5 122.2 162.7Q123.3 162 124.5 161Q125.6 159.9 127.2 159.1Q128.7 158.4 130.2 159.2Q131.7 160 132.6 161.3Q133.6 162.6 134.7 163.4Q135.8 164.3 136.5 165.5Q137.2 166.8 138.4 168.1Q139.5 169.4 139.8 171.2Q140 172.9 138.9 174.3Q137.8 175.7 136.7 176.8Z"/><path d="M230.2 -3.9Q229.8 -2.6 229.2 -1Q228.5 0.6 227.1 1.1Q225.6 1.7 224.1 1Q222.6 0.3 221.4 -0.4Q220.3 -1.2 219.2 -1.8Q218.1 -2.3 217.1 -3.1Q216.1 -3.8 214.4 -4.5Q212.7 -5.3 212.8 -6.8Q212.9 -8.4 213.6 -9.8Q214.2 -11.1 214.7 -12.3Q215.2 -13.6 215.7 -14.9Q216.2 -16.2 217 -17.7Q217.8 -19.2 219.2 -20.3Q220.6 -21.3 222.4 -21.3Q224.1 -21.2 225.4 -19.7Q226.6 -18.1 227.5 -17.1Q228.4 -16.1 229.2 -15.1Q230 -14.2 230.9 -13.3Q231.8 -12.3 231.7 -11Q231.7 -9.7 231.4 -8.6Q231.2 -7.4 230.9 -6.3Q230.6 -5.1 230.2 -3.9Z"/><path d="M85.7 -5Q85.2 -3.5 83.6 -3.1Q82 -2.8 80.6 -2.4Q79.2 -2.1 77.8 -1.2Q76.4 -0.3 74.9 -0.8Q73.4 -1.2 72.1 -2.1Q70.8 -3 69.6 -3.9Q68.3 -4.9 68 -6.4Q67.7 -8 67.3 -9.4Q66.9 -10.8 66.9 -12.3Q66.8 -13.8 67.4 -15.1Q68 -16.5 68.4 -18.2Q68.8 -19.9 69.5 -22.2Q70.1 -24.5 72.2 -25Q74.2 -25.5 76.2 -25.9Q78.3 -26.2 79.7 -24Q81.1 -21.8 81.9 -20.4Q82.8 -19 83.8 -18Q84.7 -17 85.2 -15.9Q85.8 -14.7 86.4 -13.4Q87 -12.2 86.8 -10.8Q86.6 -9.4 86.4 -8Q86.2 -6.6 85.7 -5Z"/><path d="M145.5 50.4Q144.7 51.8 143.6 53.1Q142.5 54.4 140.9 54.7Q139.2 54.9 137.6 54.8Q136 54.6 134.4 54.5Q132.9 54.3 130.9 54.3Q128.9 54.3 128.1 52.6Q127.4 50.9 126.8 49.3Q126.2 47.8 126 46.2Q125.8 44.6 125.3 42.9Q124.7 41.2 124.9 39.3Q125.1 37.4 126.6 36.3Q128.2 35.2 129.5 34Q130.8 32.8 132.4 32.2Q134.1 31.6 135.9 31.5Q137.7 31.4 139.4 31.9Q141.1 32.4 142.6 33.2Q144.1 34.1 145.2 35.5Q146.2 36.9 146.6 38.4Q147.1 40 147.5 41.6Q147.8 43.1 148 44.7Q148.2 46.4 147.3 47.7Q146.3 49.1 145.5 50.4Z"/><path d="M139.4 -5.8Q138.7 -4.3 137.6 -3Q136.5 -1.7 135 -1Q133.4 -0.2 131.7 -0.1Q130 0 128.2 -0.3Q126.5 -0.7 125.6 -2.4Q124.7 -4.1 124.1 -5.3Q123.4 -6.6 122.7 -7.8Q122 -8.9 121.3 -10.2Q120.7 -11.5 120.9 -12.9Q121.1 -14.4 121.5 -15.7Q122 -17.1 122.7 -18.4Q123.4 -19.7 124.2 -21.2Q125.1 -22.8 126.5 -24.5Q127.8 -26.1 129.9 -26.2Q131.9 -26.4 133.9 -26.1Q136 -25.9 137.9 -25Q139.8 -24.1 140.3 -21.8Q140.8 -19.6 140.6 -17.7Q140.4 -15.7 140.2 -14.3Q140 -12.8 139.9 -11.5Q139.9 -10.2 140 -8.7Q140 -7.2 139.4 -5.8Z"/><path d="M153.9 11Q152.7 11.9 151.8 12.9Q150.8 13.9 149.5 14.6Q148.2 15.4 146.7 15.6Q145.3 15.8 143.7 15.7Q142.1 15.6 140.9 14.7Q139.6 13.8 138.9 12.4Q138.3 11 137.9 9.7Q137.5 8.4 137.2 7.1Q136.9 5.8 136.4 4.4Q135.9 3 135.9 1.3Q135.9 -0.4 137 -1.6Q138.1 -2.8 139.5 -3.6Q140.9 -4.3 142.4 -4.4Q144 -4.4 145.3 -4.2Q146.7 -4.1 148.1 -3.9Q149.4 -3.7 150.7 -3.3Q152.1 -2.8 152.7 -1.6Q153.4 -0.3 153.8 0.9Q154.2 2.2 154.8 3.4Q155.5 4.5 156.4 6.1Q157.2 7.6 156.2 8.9Q155.1 10.2 153.9 11Z"/><path d="M228.2 67.9Q228 69.4 226.6 69.9Q225.3 70.3 223.9 70.3Q222.6 70.2 221.4 70.4Q220.3 70.5 219 70.6Q217.7 70.7 216.5 70.2Q215.2 69.8 214.3 68.8Q213.3 67.9 212.3 66.9Q211.3 65.8 211.2 64.4Q211.1 62.9 211.8 61.7Q212.5 60.4 212.9 59.3Q213.2 58.1 213.8 56.9Q214.3 55.7 215.4 54.9Q216.4 54 217.7 53.7Q218.9 53.3 220.2 53.4Q221.5 53.6 222.6 54.1Q223.7 54.6 224.9 55Q226.1 55.3 227.3 56Q228.5 56.6 229.5 57.7Q230.4 58.7 230.3 60.2Q230.1 61.6 229.6 62.9Q229.1 64.1 228.8 65.3Q228.5 66.4 228.2 67.9Z"/><path d="M16.3 53.6Q15.9 54.8 14.6 55Q13.2 55.1 12.1 55Q11 54.9 10.1 55.1Q9.1 55.3 8.1 55.4Q7 55.4 6 55.1Q4.9 54.8 4.5 53.8Q4 52.7 3.5 51.8Q3.1 51 2.6 50Q2.2 49 2.3 48Q2.5 47 2.8 46Q3.1 44.9 3.6 44Q4.1 43 5 42.3Q5.9 41.6 7 41.6Q8.1 41.5 9.1 41.4Q10.2 41.2 11.4 40.9Q12.6 40.5 13.7 41.1Q14.7 41.7 15.6 42.6Q16.4 43.5 17 44.5Q17.5 45.6 17.3 46.8Q17 48 17 49.1Q17.1 50.2 16.9 51.3Q16.6 52.4 16.3 53.6Z"/><path d="M195.5 63.9Q193.6 64.6 192 64.8Q190.3 64.9 189.2 65.5Q188 66.1 186.7 66.1Q185.4 66.1 184 66.2Q182.6 66.3 181.4 65.6Q180.2 65 179 64.1Q177.8 63.3 176.7 62.1Q175.7 61 175.5 59.4Q175.4 57.8 175.1 56.2Q174.9 54.6 175.9 53.3Q176.9 52 177.8 50.9Q178.7 49.7 180.2 49.4Q181.8 49.1 183 48.8Q184.2 48.5 185.5 48.4Q186.7 48.4 188.1 48.3Q189.4 48.3 190.4 49.2Q191.3 50.1 192.2 51Q193.1 51.8 193.6 53Q194.1 54.1 195.1 55.3Q196.1 56.4 196.5 57.9Q197 59.5 197.2 61.4Q197.4 63.3 195.5 63.9Z"/><path d="M19.7 85.9Q18.7 86.5 17.9 87.1Q17.1 87.7 16.1 88.3Q15.2 89 14.1 89.2Q13 89.4 12 89Q10.9 88.7 9.6 88.5Q8.4 88.3 7.8 87.3Q7.1 86.2 6.7 85.2Q6.3 84.1 6.1 83Q5.8 81.9 6 80.9Q6.3 79.8 6.6 78.8Q6.9 77.7 7.1 76.4Q7.2 75 8.3 74.3Q9.4 73.7 10.5 72.6Q11.5 71.6 12.9 72Q14.3 72.4 15.3 73.2Q16.4 73.9 17.5 74.4Q18.5 74.9 19.4 75.7Q20.3 76.4 21 77.4Q21.7 78.4 22.2 79.6Q22.6 80.8 23 82.2Q23.3 83.5 22 84.4Q20.7 85.3 19.7 85.9Z"/><path d="M124 151.8Q123.4 153.2 121.7 153.5Q120.1 153.7 118.9 154.2Q117.6 154.8 116.3 155.1Q114.9 155.5 113.5 155.2Q112.1 154.8 111.1 153.9Q110 152.9 108.9 152.1Q107.7 151.4 106.8 150.2Q105.9 149 106 147.6Q106 146.1 106.1 144.8Q106.2 143.4 106.3 141.9Q106.4 140.4 107.7 139.6Q109 138.8 110 137.8Q110.9 136.8 112.2 136.1Q113.4 135.3 114.9 135.3Q116.4 135.2 117.7 135.9Q119 136.5 120.7 136.5Q122.4 136.4 124.6 136.8Q126.7 137.2 126.5 139.3Q126.3 141.5 126 143.1Q125.8 144.7 125.5 146.2Q125.3 147.6 125 149Q124.7 150.4 124 151.8Z"/><path d="M154.5 193.4Q153.7 195.2 152.1 196.4Q150.5 197.7 148.6 198.4Q146.8 199.1 144.8 199.1Q142.8 199 140.7 198.9Q138.7 198.8 137.7 196.8Q136.7 194.7 136.2 193Q135.7 191.3 135.4 189.9Q135.1 188.5 135 187.2Q134.9 185.9 134.5 184.5Q134 183.1 134.2 181.6Q134.4 180.1 135.4 179Q136.4 177.8 137.4 176.6Q138.5 175.5 139.9 174.9Q141.4 174.3 143 174.8Q144.5 175.4 145.8 175.8Q147.2 176.2 148.6 176.6Q150 176.9 150.8 178.2Q151.5 179.5 151.9 180.8Q152.2 182.1 152.6 183.4Q153.1 184.6 153.9 186.1Q154.7 187.6 155 189.6Q155.3 191.6 154.5 193.4Z"/><path d="M198.6 109.9Q197.6 111 196.6 112.3Q195.7 113.6 194.2 114.2Q192.8 114.8 191.2 114.6Q189.6 114.4 188.1 114.3Q186.5 114.1 184.9 113.7Q183.3 113.3 182 112.1Q180.8 110.9 180.5 109.2Q180.3 107.5 180.2 106Q180.1 104.5 180.1 103Q180.1 101.5 180.3 99.9Q180.5 98.4 181 96.6Q181.4 94.8 183.3 94.6Q185.2 94.3 186.7 94.1Q188.3 94 189.7 93.8Q191.1 93.5 192.8 93.2Q194.5 92.9 196.3 93.2Q198.2 93.4 198.6 95.4Q199.1 97.3 199.8 98.7Q200.6 100 200.9 101.5Q201.3 103 201.2 104.6Q201.1 106.2 200.3 107.5Q199.5 108.8 198.6 109.9Z"/><path d="M28.1 72.1Q27.2 72.8 26.4 73.4Q25.6 74 24.8 74.6Q23.9 75.2 22.8 75.8Q21.6 76.4 20.6 75.7Q19.5 75.1 18.6 74.5Q17.7 73.8 16.8 73.2Q15.9 72.5 14.6 71.8Q13.2 71.2 13.6 69.8Q14 68.4 14.5 67.3Q15 66.2 15.6 65.3Q16.2 64.5 16.6 63.5Q17 62.5 17.6 61.4Q18.2 60.3 19.2 59.3Q20.2 58.3 21.6 58.5Q22.9 58.6 23.9 59.7Q24.9 60.8 25.6 61.6Q26.3 62.4 27.1 63Q27.9 63.6 28.5 64.4Q29.2 65.2 29.6 66.2Q30.1 67.3 30.1 68.4Q30.2 69.5 29.6 70.5Q28.9 71.5 28.1 72.1Z"/><path d="M109.1 20.9Q107.8 22.1 106.3 22.8Q104.8 23.5 103.3 23.9Q101.8 24.3 100.2 24.9Q98.7 25.6 97.3 24.5Q95.9 23.4 94.9 22.5Q93.8 21.5 92.5 20.8Q91.2 20.1 89.8 19Q88.4 17.9 88.3 16.3Q88.2 14.6 88.9 13.1Q89.5 11.6 90.1 10.3Q90.8 9 91.4 7.6Q91.9 6.2 93 4.9Q94 3.6 95.6 3.3Q97.2 3 98.8 2.6Q100.4 2.3 102 2.7Q103.5 3.2 104.6 4.5Q105.6 5.8 106.7 6.7Q107.9 7.6 108.8 8.8Q109.7 10.1 109.6 11.6Q109.5 13.1 109.7 14.6Q109.9 16.1 110.1 17.9Q110.3 19.7 109.1 20.9Z"/><path d="M41.3 44.5Q40.8 45.5 40 46.4Q39.2 47.3 38.3 48.5Q37.3 49.6 35.9 49.9Q34.4 50.2 33.2 49.3Q32 48.4 31.1 47.4Q30.3 46.3 29.6 45.4Q28.9 44.5 28.2 43.6Q27.5 42.7 27.2 41.6Q26.9 40.4 27.3 39.3Q27.7 38.2 27.8 37Q27.9 35.9 28.3 34.6Q28.7 33.3 29.7 32.5Q30.7 31.6 31.9 30.9Q33.1 30.2 34.5 30.3Q35.9 30.4 37.1 31Q38.3 31.6 39.3 32.3Q40.4 32.9 41.5 33.6Q42.6 34.3 43.9 35.2Q45.1 36.2 45.2 37.7Q45.2 39.1 44.3 40.4Q43.4 41.7 42.6 42.6Q41.8 43.5 41.3 44.5Z"/><path d="M65.8 170.9Q65.7 172.6 64 172.6Q62.3 172.7 61.1 172.8Q59.8 172.9 58.6 173.3Q57.4 173.6 56 173.7Q54.7 173.9 53.7 172.9Q52.8 171.9 52.1 170.9Q51.4 169.8 50.4 169Q49.4 168.1 48.4 166.8Q47.4 165.6 47.4 164.1Q47.5 162.5 48.8 161.5Q50.2 160.5 51 159.6Q51.8 158.6 52.8 157.9Q53.9 157.2 54.9 156.3Q56 155.5 57.4 155.2Q58.8 154.9 60.3 154.9Q61.8 154.8 63.1 155.7Q64.3 156.5 65.3 157.7Q66.2 158.8 66.4 160.2Q66.6 161.7 66.3 163Q66 164.3 66.1 165.5Q66.1 166.6 66 167.9Q65.9 169.2 65.8 170.9Z"/><path d="M236.1 53.8Q235.1 55 233.8 55.8Q232.5 56.6 231 56.7Q229.6 56.8 228.3 56Q227 55.1 225.9 54.8Q224.9 54.5 223.9 54.1Q222.8 53.7 221.7 53.1Q220.6 52.6 220.3 51.4Q219.9 50.2 220 49.1Q220.1 47.9 220 46.8Q220 45.8 219.9 44.4Q219.7 43.1 219.9 41.6Q220.2 40 221.5 39.5Q222.9 38.9 224.3 38.8Q225.7 38.8 226.9 39.3Q228.1 39.9 229.1 40.2Q230.2 40.5 231.2 40.8Q232.3 41.1 233.7 41.4Q235.2 41.7 236.5 42.6Q237.9 43.6 238.3 45.1Q238.7 46.6 238.6 48.2Q238.4 49.8 237.8 51.3Q237.2 52.7 236.1 53.8Z"/><path d="M-4.8 89.8Q-5.2 91 -6.4 91.3Q-7.7 91.7 -8.8 92.1Q-9.8 92.5 -11 92.8Q-12.2 93.2 -13.3 92.8Q-14.4 92.3 -15.4 91.7Q-16.4 91.1 -17.4 90.4Q-18.4 89.7 -19.9 89Q-21.3 88.2 -21.7 86.8Q-22.1 85.3 -21.4 84Q-20.7 82.6 -19.7 81.6Q-18.7 80.6 -17.8 79.9Q-16.9 79.2 -16 78.7Q-15 78.2 -14.1 77.4Q-13.3 76.6 -12 75.8Q-10.8 75.1 -9.5 75.3Q-8.1 75.5 -7.3 76.7Q-6.5 77.9 -6 79Q-5.5 80.1 -5 81Q-4.5 82 -3.8 83Q-3.1 84 -3.1 85.2Q-3.2 86.4 -3.8 87.5Q-4.3 88.6 -4.8 89.8Z"/><path d="M7 182.2Q5.9 183 5 183.7Q4 184.4 3 185.2Q1.9 186 0.7 185.8Q-0.6 185.6 -1.8 185.4Q-3.1 185.2 -4.3 184.8Q-5.5 184.4 -6.4 183.5Q-7.4 182.6 -8.3 181.5Q-9.1 180.5 -10 179.1Q-10.8 177.8 -10.8 176.3Q-10.9 174.7 -10.3 173.2Q-9.7 171.8 -8.5 170.7Q-7.3 169.7 -6.2 168.6Q-5.1 167.6 -3.7 167.1Q-2.2 166.6 -0.8 166.9Q0.7 167.2 2 167.7Q3.4 168.2 4.3 169.1Q5.3 170 6.1 171Q6.9 171.9 7.4 173Q7.9 174.2 8 175.3Q8.1 176.5 8.1 177.7Q8.2 178.9 8.1 180.2Q8 181.5 7 182.2Z"/><path d="M94.7 160.3Q93.8 161.4 92.4 161.7Q91 162.1 89.8 162.4Q88.6 162.8 87.4 163.1Q86.2 163.3 84.7 163.5Q83.3 163.7 82.2 162.9Q81.1 162 80.2 161Q79.3 160 78.6 158.8Q77.8 157.7 78.1 156.3Q78.4 154.9 78.4 153.7Q78.5 152.5 78.6 151.2Q78.6 149.9 79.3 148.7Q79.9 147.5 80.8 146.1Q81.6 144.8 83.2 144.8Q84.8 144.9 86.2 144.7Q87.5 144.4 88.9 144.7Q90.3 145 91.3 146Q92.3 147 92.9 148.2Q93.5 149.3 94.4 150.3Q95.2 151.2 96.3 152.4Q97.3 153.6 96.8 155Q96.3 156.4 96 157.8Q95.6 159.2 94.7 160.3Z"/><path d="M81 66.6Q80.3 67.9 79.3 69.3Q78.4 70.7 76.9 71.5Q75.4 72.2 73.7 72.7Q71.9 73.1 70.1 72.9Q68.2 72.8 67.3 71Q66.4 69.1 65.4 68Q64.3 66.9 63.6 65.6Q62.9 64.2 61.9 62.8Q60.9 61.4 61.8 59.8Q62.7 58.3 63.3 56.9Q63.8 55.5 64.7 54.4Q65.6 53.2 66.5 51.9Q67.5 50.6 69 50.2Q70.6 49.9 72.1 49.9Q73.6 49.9 75.2 50Q76.8 50.1 78.3 50.7Q79.7 51.4 80.4 52.9Q81.1 54.3 81.7 55.7Q82.3 57 82.7 58.4Q83.2 59.8 83.2 61.3Q83.2 62.8 82.4 64.1Q81.7 65.3 81 66.6Z"/><path d="M53.2 181.9Q52.6 183.3 51 183.4Q49.5 183.5 48.3 183.7Q47.1 184 45.9 184.1Q44.8 184.3 43.5 184.4Q42.2 184.5 40.8 184.2Q39.4 183.9 38.5 182.9Q37.5 181.9 36.7 180.7Q35.8 179.5 35 178.2Q34.2 176.8 34.7 175.3Q35.3 173.8 35.7 172.3Q36 170.9 36.8 169.6Q37.6 168.2 39.1 167.7Q40.6 167.3 41.9 166.6Q43.2 165.9 44.7 165.3Q46.2 164.6 47.4 166.1Q48.5 167.6 49.3 168.6Q50.2 169.6 50.8 170.5Q51.5 171.4 52.4 172.2Q53.3 173 54 174.2Q54.6 175.4 54.4 176.7Q54.2 177.9 54 179.3Q53.7 180.6 53.2 181.9Z"/><path d="M2.9 147.2Q2.4 148.6 1.2 149.4Q0 150.3 -1.4 150.7Q-2.8 151.1 -4.3 151.3Q-5.7 151.6 -7 150.9Q-8.3 150.2 -9.4 149.4Q-10.5 148.5 -11.6 147.8Q-12.8 147 -13.7 145.9Q-14.7 144.8 -14.2 143.3Q-13.6 141.8 -13.3 140.6Q-12.9 139.4 -12.4 138.4Q-11.9 137.4 -11.5 136.1Q-11.2 134.9 -10.5 133.6Q-9.8 132.3 -8.4 131.7Q-7.1 131.2 -5.7 131.6Q-4.3 132.1 -3.2 132.8Q-2.1 133.5 -0.8 133.7Q0.5 134 1.8 134.6Q3.1 135.1 4.5 136.1Q5.9 137.1 5.5 138.8Q5.1 140.5 4.6 141.8Q4 143.1 3.7 144.4Q3.3 145.7 2.9 147.2Z"/><path d="M234.7 117.8Q233.1 118.5 231.8 118.9Q230.4 119.3 229.3 119.9Q228.1 120.4 226.8 120.6Q225.5 120.9 224 121.1Q222.5 121.3 221.4 120.3Q220.3 119.4 219.3 118.4Q218.2 117.5 217.6 116.2Q217.1 114.9 217.3 113.5Q217.5 112.1 217.8 111Q218.1 109.8 218.2 108.5Q218.4 107.2 218.7 105.8Q219 104.4 220.1 103.3Q221.2 102.3 222.7 102.4Q224.2 102.5 225.6 102.3Q226.9 102.2 228.3 102.1Q229.8 102 231.5 102Q233.3 102.1 235.3 102.7Q237.3 103.3 238.1 105Q239 106.8 239.4 108.7Q239.8 110.6 239.6 112.5Q239.4 114.4 237.8 115.7Q236.3 117.1 234.7 117.8Z"/><path d="M130.6 32.7Q129.2 33.7 127.9 34.5Q126.6 35.3 125.3 36.8Q124.1 38.2 122.4 37.5Q120.6 36.7 119.2 36.1Q117.8 35.5 116.2 35.2Q114.7 34.8 114.1 33.3Q113.4 31.8 113.1 30.4Q112.8 29 112.3 27.8Q111.9 26.5 111.4 25Q111 23.5 110.9 21.8Q110.8 20 112.4 19.2Q114 18.4 115.4 17.9Q116.8 17.4 118.1 17Q119.4 16.6 120.8 16Q122.2 15.3 123.6 15.9Q124.9 16.5 126.2 17.2Q127.5 17.8 128.6 18.7Q129.7 19.7 130.1 21.1Q130.5 22.4 130.6 23.8Q130.7 25.2 131.2 26.6Q131.7 28.1 131.9 29.9Q132 31.6 130.6 32.7Z"/><path d="M128.6 133.3Q128.3 135.4 126.4 136Q124.5 136.7 122.5 136.1Q120.5 135.5 119.1 135.6Q117.6 135.8 116.2 135.3Q114.8 134.8 113.5 134.2Q112.3 133.6 111.6 132.2Q111 130.9 110.1 129.9Q109.3 128.8 108.3 127.5Q107.3 126.2 107.7 124.7Q108.1 123.2 108.5 121.7Q109 120.3 109.5 118.7Q110.1 117.1 111.2 115.7Q112.3 114.3 114 113.5Q115.6 112.8 117.4 113.1Q119.2 113.5 120.8 114.1Q122.3 114.8 123.8 115.6Q125.2 116.3 126.2 117.6Q127.1 118.9 127.4 120.4Q127.6 122 127.8 123.4Q127.9 124.8 128.3 126.2Q128.6 127.7 128.8 129.5Q129 131.3 128.6 133.3Z"/><path d="M50.8 63.9Q50 64.8 49 65.5Q48.1 66.2 47.1 67.1Q46.1 68.1 44.8 67.9Q43.5 67.8 42.4 67.2Q41.3 66.6 40.4 65.9Q39.4 65.3 38.7 64.5Q37.9 63.7 37.4 62.6Q37 61.6 36.9 60.6Q36.8 59.5 36.8 58.4Q36.8 57.3 36.6 56Q36.4 54.7 36.5 53Q36.6 51.4 38.3 51.4Q40 51.3 41.3 51.3Q42.5 51.4 43.6 51.5Q44.7 51.6 45.8 51.6Q47 51.6 48.3 51.6Q49.7 51.6 50.6 52.6Q51.4 53.6 52.1 54.7Q52.9 55.7 53.6 57Q54.4 58.2 54.3 59.7Q54.2 61.2 52.9 62.1Q51.6 63 50.8 63.9Z"/><path d="M200.2 43Q199.6 43.9 198.8 44.5Q198 45.2 197 45.3Q196 45.5 195 45.6Q194 45.7 192.9 45.9Q191.7 46.2 190.9 45.5Q190 44.8 189.5 43.9Q188.9 43 188.3 42.1Q187.8 41.3 187 40.3Q186.3 39.4 186.7 38.3Q187.2 37.2 187.6 36.2Q188.1 35.3 188.7 34.4Q189.3 33.5 189.9 32.5Q190.6 31.5 191.8 31.5Q193 31.5 194 31.2Q195.1 30.9 196.3 30.8Q197.5 30.8 198.8 31Q200.2 31.3 201.3 32.1Q202.4 32.9 202.5 34.4Q202.5 35.8 202.5 37Q202.4 38.2 202.2 39.3Q202 40.4 201.4 41.3Q200.8 42.2 200.2 43Z"/><path d="M64.7 113.2Q63.4 114.2 62.2 114.8Q60.9 115.5 59.7 116Q58.4 116.5 57 116.4Q55.7 116.2 54.5 115.7Q53.3 115.2 52 115Q50.6 114.7 49.4 114Q48.1 113.2 47.5 111.9Q46.9 110.6 46.2 109.2Q45.5 107.8 45.2 106.2Q45 104.6 45.6 103.1Q46.3 101.6 47.4 100.3Q48.4 99.1 50.1 98.8Q51.7 98.6 53.1 98.3Q54.4 98.1 55.7 97.9Q57.1 97.7 58.5 97.5Q60 97.3 62.1 97Q64.1 96.7 65.1 98.3Q66.1 99.8 66.9 101.3Q67.6 102.9 67.3 104.6Q67 106.3 66.9 107.8Q66.7 109.4 66.3 110.8Q65.9 112.3 64.7 113.2Z"/><path d="M212.3 9.4Q212 10.7 210.6 11Q209.2 11.2 208 11.2Q206.9 11.3 205.8 11.2Q204.8 11.2 203.9 10.7Q203 10.2 202.3 9.7Q201.6 9.1 200.8 8.6Q200.1 8 199.1 7.4Q198.1 6.8 197.3 5.7Q196.6 4.7 197.2 3.6Q197.8 2.4 198.3 1.5Q198.8 0.5 199.2 -0.6Q199.7 -1.6 200.3 -2.8Q201 -3.9 202.1 -5Q203.1 -6 204.6 -5.8Q206 -5.5 207.5 -5.4Q208.9 -5.3 209.9 -4.3Q210.9 -3.4 211.2 -1.9Q211.5 -0.5 211.7 0.6Q211.9 1.6 212.1 2.6Q212.3 3.6 212.4 4.6Q212.4 5.6 212.6 6.9Q212.7 8.1 212.3 9.4Z"/><path d="M33.5 176.2Q32.8 177.4 31.3 177.7Q29.7 177.9 28.5 178.1Q27.2 178.3 26 178.4Q24.8 178.5 23.6 178.5Q22.3 178.6 21.2 177.9Q20.1 177.2 19.4 176.1Q18.8 175 18.2 174Q17.5 173 17.5 171.8Q17.4 170.6 17.9 169.6Q18.4 168.5 18.6 167.4Q18.7 166.3 19.1 165.3Q19.6 164.2 20 162.4Q20.4 160.7 21.8 160.1Q23.2 159.6 24.7 159.8Q26.2 159.9 27.4 160.9Q28.5 161.9 29.3 162.8Q30.2 163.8 31 164.5Q31.9 165.3 32.9 166.1Q33.8 166.9 35 168.1Q36.1 169.3 35.6 170.7Q35.1 172.2 34.6 173.5Q34.2 174.9 33.5 176.2Z"/><path d="M174.1 175.5Q173.3 177 171.5 177.1Q169.7 177.2 168.3 177.5Q167 177.8 165.7 178Q164.3 178.2 163.1 177.7Q161.8 177.3 161 176.3Q160.1 175.3 159 174.7Q157.9 174.1 157.3 172.9Q156.7 171.8 156.6 170.6Q156.5 169.3 156.3 168Q156.1 166.8 156.5 165.5Q156.8 164.2 157.9 163.5Q159.1 162.7 160 162Q161 161.3 162.1 160.6Q163.1 159.9 164.5 158.7Q165.9 157.6 167.6 157.4Q169.4 157.1 170.9 158Q172.5 158.8 173.7 160.1Q174.9 161.4 176.3 162.7Q177.6 164.1 177.8 165.9Q178 167.8 177.6 169.6Q177.3 171.4 176.1 172.8Q174.8 174.1 174.1 175.5Z"/><path d="M64.9 78.5Q63.9 79.8 62.8 81.1Q61.7 82.3 59.9 81.9Q58.1 81.5 56.7 81.5Q55.3 81.5 53.9 81.3Q52.5 81 51.3 80.3Q50.1 79.6 49.6 78.3Q49 77 48.6 75.9Q48.2 74.7 47.8 73.6Q47.4 72.4 46.9 71.1Q46.4 69.7 47.2 68.6Q48 67.4 48.9 66.6Q49.9 65.7 50.7 64.7Q51.6 63.8 52.7 62.7Q53.8 61.7 55.3 61.4Q56.8 61 58.4 60.9Q60.1 60.8 60.9 62.5Q61.7 64.3 62.6 65.3Q63.4 66.3 64.1 67.4Q64.8 68.6 65.6 69.8Q66.3 71.1 66.9 72.7Q67.4 74.3 66.6 75.8Q65.8 77.2 64.9 78.5Z"/><path d="M44.8 163.9Q43.8 164.9 42.6 165.6Q41.4 166.3 40.1 166.9Q38.9 167.6 37.4 167.9Q36 168.2 34.9 167.1Q33.7 166 32.8 165.2Q31.9 164.4 31.1 163.5Q30.4 162.7 29.4 161.8Q28.5 160.9 27.1 159.8Q25.8 158.6 26.3 157.2Q26.9 155.7 27.3 154.3Q27.7 152.9 28.5 151.6Q29.3 150.4 30.8 150.1Q32.4 149.8 33.7 149.8Q35 149.8 36.2 150Q37.3 150.3 38.5 150.3Q39.6 150.4 40.8 150.6Q42.1 150.8 42.6 152Q43.2 153.1 43.3 154.2Q43.5 155.4 44 156.4Q44.5 157.3 44.9 158.5Q45.2 159.7 45.5 161.3Q45.8 162.8 44.8 163.9Z"/><path d="M197.1 132.4Q196.5 134.3 194.2 134.3Q191.9 134.2 190.3 134.2Q188.6 134.1 187.2 134.2Q185.8 134.4 184.3 134.2Q182.8 134.1 181.2 133.8Q179.6 133.5 178.8 132.1Q178 130.7 177.4 129.3Q176.7 128 176.1 126.5Q175.5 125.1 174.8 123.4Q174 121.6 174.7 119.9Q175.3 118.2 176.6 116.9Q177.9 115.7 179.2 114.4Q180.5 113.2 182.3 113.5Q184.2 113.8 185.7 114Q187.2 114.3 188.7 114.5Q190.1 114.7 191.6 115.2Q193 115.7 194.1 116.8Q195.2 117.8 196.1 119.2Q196.9 120.5 197.5 122Q198 123.5 198 125.2Q198 126.9 197.9 128.7Q197.8 130.5 197.1 132.4Z"/><path d="M29.3 53.3Q28.5 53.9 27.8 54.4Q27.1 54.8 26.3 55.4Q25.6 56 24.6 56.8Q23.6 57.6 22.4 57.6Q21.1 57.7 19.9 57.2Q18.8 56.8 17.8 55.8Q16.9 54.9 17.1 53.5Q17.2 52.1 17.3 51.1Q17.4 50 17.5 49Q17.6 48.1 17.8 47.1Q18.1 46.2 18.3 45Q18.5 43.8 19.7 43.7Q20.9 43.5 21.9 43.3Q22.8 43.1 23.8 42.8Q24.7 42.5 25.7 42.6Q26.7 42.7 27.3 43.6Q27.9 44.6 28.5 45.2Q29.1 45.9 29.8 46.5Q30.4 47.2 31.3 48.1Q32.3 49 32.3 50.1Q32.3 51.3 31.2 52Q30.1 52.8 29.3 53.3Z"/><path d="M102.2 -2.2Q102 -0.8 101 0.2Q100 1.2 98.6 1.6Q97.3 2 95.9 2.4Q94.5 2.7 93.1 2.3Q91.7 1.8 90.5 1Q89.4 0.2 88.1 -0.6Q86.9 -1.4 86.3 -2.7Q85.7 -4.1 86.1 -5.5Q86.6 -7 86.9 -8.2Q87.2 -9.3 87.4 -10.5Q87.6 -11.8 88.5 -12.6Q89.4 -13.4 90.5 -13.8Q91.6 -14.2 92.6 -14.8Q93.6 -15.3 94.7 -15.8Q95.9 -16.3 97 -15.8Q98.1 -15.2 99 -14.5Q99.9 -13.9 100.9 -13.2Q102 -12.6 103.3 -11.8Q104.7 -11.1 104.3 -9.6Q103.8 -8.2 103.8 -7Q103.7 -5.7 103 -4.7Q102.4 -3.6 102.2 -2.2Z"/><path d="M170.1 31.3Q169 31.9 168 32.2Q166.9 32.6 166 33Q165.1 33.3 164 33.9Q163 34.4 161.9 34.2Q160.7 34 159.9 33.2Q159.1 32.4 158.1 31.8Q157.2 31.2 156.5 30.3Q155.8 29.3 156 28.2Q156.2 27 156.2 25.9Q156.3 24.9 156.3 23.7Q156.3 22.5 157.3 21.8Q158.3 21.2 159.3 20.7Q160.2 20.2 161 19.5Q161.9 18.7 163.1 17.9Q164.3 17 165.6 17.2Q167 17.3 167.7 18.7Q168.4 20.1 169.1 20.9Q169.9 21.8 170.5 22.7Q171.1 23.7 171.9 24.8Q172.7 25.8 172.7 27.2Q172.7 28.5 172 29.6Q171.2 30.7 170.1 31.3Z"/><path d="M2 46.9Q1.4 47.7 0.5 48Q-0.5 48.3 -1.3 48.7Q-2.1 49 -3 49.2Q-3.9 49.3 -5.1 49.6Q-6.2 50 -7.6 50.1Q-9.1 50.2 -9.8 49.1Q-10.5 48 -11 46.9Q-11.6 45.8 -11.9 44.6Q-12.2 43.4 -11.7 42.2Q-11.2 41.1 -10.6 40.2Q-10 39.2 -9.6 38.1Q-9.2 37 -8.3 36.4Q-7.3 35.8 -6.1 35.8Q-5 35.8 -4 35.8Q-3 35.7 -1.8 35.6Q-0.7 35.4 0.1 36.2Q0.9 36.9 1.5 37.8Q2.1 38.6 2.6 39.5Q3.1 40.3 3.5 41.3Q3.9 42.3 3.4 43.2Q2.9 44.2 2.7 45.1Q2.5 46 2 46.9Z"/><path d="M1 104.9Q-0.4 105.5 -1.6 105.9Q-2.7 106.2 -3.7 106.8Q-4.7 107.4 -5.8 107.8Q-7 108.2 -8.3 108.1Q-9.5 108 -10.7 107.4Q-11.9 106.8 -12.8 106Q-13.8 105.1 -13.6 103.6Q-13.4 102.2 -13.3 101.1Q-13.2 100 -12.9 99.1Q-12.7 98.2 -12.7 97.1Q-12.7 96.1 -12.4 95Q-12 93.9 -11 93.4Q-9.9 93 -8.9 92.8Q-7.9 92.6 -6.8 92.1Q-5.8 91.6 -4.7 91.8Q-3.5 92 -2.6 92.6Q-1.6 93.2 -0.7 93.9Q0.2 94.7 0.7 95.7Q1.2 96.7 1.5 97.9Q1.7 99 2.1 100.2Q2.5 101.5 2.5 102.9Q2.4 104.3 1 104.9Z"/><path d="M15.2 64.9Q14.8 65.7 14.3 66.6Q13.8 67.5 12.9 68.1Q12 68.7 10.9 68.4Q9.9 68.1 9.1 67.5Q8.2 66.9 7.5 66.4Q6.8 66 6.2 65.4Q5.5 64.9 4.7 64.2Q3.9 63.6 3.5 62.7Q3 61.8 2.7 60.6Q2.4 59.5 3.2 58.6Q3.9 57.7 4.6 57Q5.3 56.2 6.4 56Q7.4 55.8 8.3 55.9Q9.2 55.9 10 55.9Q10.8 55.9 11.6 55.7Q12.5 55.6 13.6 55.5Q14.7 55.4 15.7 56Q16.6 56.6 17.3 57.5Q18 58.4 17.6 59.6Q17.2 60.8 16.8 61.7Q16.4 62.6 16 63.4Q15.6 64.1 15.2 64.9Z"/><path d="M216.1 42.4Q215.1 42.9 214.3 43.3Q213.5 43.8 212.6 44.1Q211.8 44.4 210.8 45.1Q209.9 45.8 209 45.2Q208.1 44.5 207.5 43.6Q207 42.8 206.3 42.2Q205.7 41.7 205 41.1Q204.4 40.4 203.8 39.6Q203.2 38.7 203.2 37.6Q203.1 36.6 203 35.4Q203 34.1 204 33.4Q205 32.7 206.2 32.7Q207.4 32.6 208.3 32.4Q209.2 32.3 210 32.2Q210.9 32.2 211.9 32Q212.8 31.7 213.5 32.4Q214.2 33.1 214.7 33.9Q215.2 34.6 215.9 35.3Q216.6 35.9 217 36.8Q217.5 37.7 218.4 38.9Q219.4 40.2 218.3 41Q217.2 41.9 216.1 42.4Z"/><path d="M54.7 0.3Q54.1 1.1 53.3 2Q52.6 2.9 51.6 3.9Q50.6 5 49.3 4.6Q48 4.3 47 3.5Q46 2.7 45.2 2.1Q44.3 1.5 43.4 0.8Q42.6 0.2 41.5 -0.5Q40.5 -1.3 40.6 -2.5Q40.7 -3.8 41.1 -4.8Q41.5 -5.9 42 -6.8Q42.4 -7.7 42.9 -8.7Q43.3 -9.7 43.9 -10.8Q44.5 -11.9 45.6 -12.5Q46.7 -13.2 48 -13.4Q49.3 -13.6 50.4 -12.8Q51.5 -11.9 52.4 -11.2Q53.3 -10.5 54.4 -10Q55.5 -9.4 55.7 -8.2Q55.9 -7 56.2 -5.9Q56.5 -4.9 56.7 -3.7Q57 -2.5 56.2 -1.5Q55.4 -0.6 54.7 0.3Z"/><path d="M48.4 82.3Q47.5 83.3 46.5 84.2Q45.5 85 44.2 84.9Q42.8 84.8 41.6 84.5Q40.5 84.2 39.6 83.8Q38.6 83.3 37.6 83Q36.6 82.7 35.6 82.2Q34.5 81.7 34.5 80.5Q34.4 79.3 34.4 78.3Q34.4 77.3 34.3 76.3Q34.3 75.3 34.4 74.2Q34.4 73.1 35.3 72.5Q36.2 71.9 37 71.4Q37.8 70.9 38.7 70.3Q39.5 69.7 40.6 69Q41.7 68.3 42.9 68.6Q44 68.8 45.1 69.4Q46.2 69.9 46.6 71.1Q47 72.4 47.3 73.4Q47.6 74.4 47.9 75.3Q48.2 76.3 48.5 77.4Q48.8 78.5 49.1 79.9Q49.4 81.3 48.4 82.3Z"/><path d="M26.4 40.1Q26.1 41.1 25.1 41.5Q24.1 41.9 23.2 42.1Q22.3 42.4 21.3 42.6Q20.4 42.7 19.2 43.2Q17.9 43.8 17.1 43Q16.2 42.1 15.3 41.5Q14.3 40.8 14 39.7Q13.8 38.5 13.9 37.5Q14.1 36.4 14.1 35.4Q14.2 34.4 14.4 33.5Q14.7 32.5 15.5 31.9Q16.3 31.3 17 30.7Q17.7 30.1 18.5 29.5Q19.4 29 20.4 29.2Q21.4 29.4 22.2 29.7Q23 30.1 23.8 30.6Q24.5 31 25.4 31.5Q26.2 31.9 27.3 32.5Q28.3 33.1 28 34.3Q27.6 35.4 27.5 36.4Q27.3 37.3 27 38.2Q26.7 39.1 26.4 40.1Z"/><path d="M72.2 128.3Q72 129.6 70.8 130Q69.6 130.4 68.6 130.9Q67.5 131.3 66.3 131.8Q65.1 132.3 63.6 132.7Q62.1 133.1 60.6 132.6Q59.2 132.1 58.4 130.7Q57.7 129.3 57.2 128Q56.6 126.7 56.9 125.3Q57.2 123.9 57.4 122.7Q57.5 121.5 57.8 120.3Q58.2 119.2 58.8 118.1Q59.5 117 60.6 116.5Q61.8 116 62.8 115.1Q63.8 114.2 65.2 113.5Q66.5 112.9 67.7 114.1Q68.8 115.3 69.7 116.1Q70.6 116.9 71.4 117.8Q72.1 118.6 73.3 119.4Q74.4 120.1 74.2 121.4Q74.1 122.7 73.8 123.9Q73.6 125 73 126Q72.4 127 72.2 128.3Z"/><path d="M160.7 61.3Q160.3 62.8 159.1 63.7Q157.9 64.5 156.6 65.1Q155.2 65.6 153.8 64.9Q152.3 64.1 151.2 63.7Q150 63.2 149.1 62.6Q148.1 62 146.7 61.6Q145.3 61.2 144.3 60.1Q143.4 59 143 57.6Q142.6 56.1 143.4 54.8Q144.1 53.5 144.8 52.4Q145.5 51.3 146.2 50.4Q147 49.4 147.7 48.3Q148.5 47.2 149.8 46.8Q151.1 46.5 152.3 46.7Q153.6 46.9 154.9 46.8Q156.2 46.8 157.8 46.9Q159.3 47 160.3 48.1Q161.2 49.3 161.3 50.8Q161.4 52.3 161.4 53.6Q161.4 54.8 161.2 56Q161 57.2 161 58.5Q161 59.8 160.7 61.3Z"/><path d="M175.5 138.9Q174.4 139.9 173.5 141.3Q172.6 142.8 171.3 144.1Q169.9 145.3 168.1 145Q166.3 144.6 164.8 143.7Q163.3 142.8 162 142Q160.7 141.2 159.6 140.2Q158.5 139.1 156.6 138.2Q154.8 137.2 155 135.4Q155.2 133.5 155.9 131.9Q156.6 130.3 157.5 129.1Q158.4 127.9 159 126.5Q159.6 125 160.3 123.3Q161.1 121.5 162.8 121Q164.5 120.5 166.3 120.4Q168 120.4 169.9 120.4Q171.8 120.3 172.9 121.9Q174.1 123.4 174.8 124.9Q175.5 126.4 176.1 127.8Q176.7 129.1 177.5 130.5Q178.3 131.9 178.3 133.5Q178.3 135.1 177.5 136.5Q176.7 137.9 175.5 138.9Z"/><path d="M48.2 28.9Q47.8 29.8 47.2 30.7Q46.6 31.6 45.7 33Q44.9 34.3 43.6 33.8Q42.3 33.3 41.2 32.9Q40.1 32.4 39.1 31.9Q38.1 31.3 37.1 30.7Q36.1 30 35.1 29.1Q34 28.2 34 26.9Q34 25.6 34.1 24.3Q34.1 23 35 22Q35.8 21 36.7 20.3Q37.6 19.6 38.3 18.7Q39.1 17.9 40.2 17.6Q41.3 17.2 42.3 17.6Q43.4 18.1 44.4 18.3Q45.3 18.5 46.3 18.8Q47.3 19 48.5 19.5Q49.7 19.9 51.1 20.6Q52.6 21.4 52 22.9Q51.4 24.3 50.7 25.4Q50 26.5 49.3 27.3Q48.6 28 48.2 28.9Z"/><path d="M215.7 102.8Q214.5 103.5 213.4 104.1Q212.3 104.6 211.3 105.1Q210.2 105.6 209 106.1Q207.8 106.6 206.5 106.2Q205.3 105.9 204 105.5Q202.7 105.1 202.2 103.8Q201.6 102.6 201.2 101.4Q200.8 100.3 200.4 99.2Q200.1 98 199.5 96.7Q199 95.4 198.6 93.6Q198.2 91.8 200.1 91.4Q201.9 90.9 203.2 90.6Q204.6 90.3 205.7 90.2Q206.9 90.1 207.9 89.7Q209 89.3 210.3 89.2Q211.6 89.1 212.6 89.8Q213.7 90.5 214 91.8Q214.3 93.1 214.7 94.1Q215.1 95 215.7 96Q216.3 96.9 216.7 98.1Q217 99.4 217 100.8Q217 102.2 215.7 102.8Z"/><path d="M229 149.8Q229.1 151.6 227.9 152.5Q226.8 153.5 225.4 154.2Q224.1 154.9 222.5 155Q221 155.1 219.7 154.2Q218.4 153.2 217.1 152.7Q215.8 152.1 214.8 151.1Q213.8 150.1 213.8 148.7Q213.8 147.2 213.8 146Q213.8 144.8 213.7 143.6Q213.6 142.4 213.8 141.2Q214.1 140 215.3 139.4Q216.5 138.9 217.3 138.2Q218.1 137.5 219 136.7Q220 135.9 221.2 135.2Q222.5 134.6 223.9 134.5Q225.4 134.5 226.5 135.5Q227.6 136.4 228.4 137.6Q229.1 138.7 229.1 140.1Q229.1 141.5 229 142.6Q228.8 143.7 229 144.8Q229.1 145.8 229 147Q228.9 148.1 229 149.8Z"/><path d="M112.2 164.7Q111.2 165.5 110.1 165.9Q108.9 166.3 107.8 166.5Q106.7 166.6 105.7 166.9Q104.6 167.1 103.4 167.3Q102.2 167.4 101.3 166.6Q100.4 165.8 99.5 165.1Q98.6 164.4 97.8 163.4Q97 162.5 96.4 161.3Q95.9 160.1 96.3 158.8Q96.7 157.6 97.1 156.4Q97.6 155.3 98.3 154.2Q99 153.2 100.1 152.8Q101.3 152.3 102.4 152Q103.5 151.7 104.7 151.3Q105.8 150.9 106.8 151.6Q107.9 152.3 108.6 153.1Q109.4 153.8 110.4 154.3Q111.4 154.8 112.2 155.7Q112.9 156.6 112.8 157.7Q112.7 158.9 112.9 160Q113.1 161.2 113.2 162.5Q113.2 163.8 112.2 164.7Z"/><path d="M84 115.8Q83.1 116.7 82 117.2Q81 117.8 79.9 118.4Q78.9 119.1 77.7 119.6Q76.4 120.1 75.2 119.5Q74 119 73 118.2Q72 117.4 71.2 116.6Q70.4 115.7 69.2 114.9Q68 114.1 67.4 112.7Q66.8 111.4 67.1 110Q67.5 108.5 67.6 107Q67.7 105.5 68 103.6Q68.2 101.8 70.2 101.7Q72.2 101.7 73.7 101.7Q75.2 101.7 76.5 101.8Q77.8 101.9 79.1 101.9Q80.4 101.8 81.6 102.5Q82.7 103.3 83.3 104.4Q84 105.6 84.7 106.6Q85.4 107.6 85.4 108.8Q85.4 110.1 85.3 111.3Q85.2 112.4 85 113.7Q84.9 115 84 115.8Z"/><path d="M227.9 16.7Q227.3 17.7 225.9 17.6Q224.5 17.5 223.5 17.5Q222.6 17.5 221.7 17.5Q220.9 17.6 220 17.7Q219 17.8 218.3 17.3Q217.5 16.8 216.9 16.1Q216.3 15.4 215.7 14.7Q215.1 14 214.4 13.1Q213.8 12.2 213.4 11.1Q213.1 9.9 214 9.1Q214.9 8.2 215.8 7.7Q216.8 7.1 217.6 6.8Q218.5 6.5 219.3 6.2Q220.1 5.8 220.9 5.4Q221.8 5 223 4.5Q224.2 4 225.4 4.4Q226.5 4.8 226.7 6.2Q226.9 7.6 227.2 8.5Q227.5 9.4 227.5 10.3Q227.6 11.3 227.8 12.2Q228 13.2 228.3 14.4Q228.6 15.7 227.9 16.7Z"/><path d="M197.6 1.5Q197.1 2.5 196.5 3.6Q195.9 4.7 194.6 4.5Q193.3 4.3 192.3 4Q191.2 3.7 190.4 3.3Q189.5 3 188.5 2.8Q187.5 2.7 186.5 2.2Q185.5 1.7 184.8 0.8Q184 -0.1 184.4 -1.2Q184.8 -2.4 184.9 -3.4Q185 -4.4 185 -5.5Q185.1 -6.6 185.3 -7.8Q185.6 -9.1 186.6 -9.7Q187.7 -10.3 189 -10Q190.3 -9.7 191.2 -9.7Q192.2 -9.7 193.2 -9.6Q194.2 -9.6 195.5 -9.6Q196.7 -9.5 197.8 -8.9Q198.8 -8.2 199.4 -7.1Q199.9 -6 200.1 -4.7Q200.2 -3.5 199.6 -2.4Q199.1 -1.3 198.6 -0.3Q198.1 0.6 197.6 1.5Z"/><path d="M154.4 -6.5Q153.5 -5.6 152.6 -4.8Q151.7 -4 150.5 -4.2Q149.2 -4.4 148.2 -4.4Q147.2 -4.5 146.2 -4.7Q145.2 -4.9 143.9 -4.8Q142.7 -4.8 141.4 -5.3Q140.1 -5.8 140.5 -7.4Q140.8 -8.9 140.6 -9.9Q140.4 -11 140.6 -12Q140.8 -13 140.8 -14.1Q140.8 -15.2 140.9 -16.8Q140.9 -18.3 141.9 -19.3Q142.9 -20.3 144.2 -20.9Q145.5 -21.5 147 -21.9Q148.5 -22.3 149.9 -21.7Q151.3 -21.1 151.9 -19.5Q152.5 -17.9 153 -16.9Q153.5 -15.8 154 -14.9Q154.5 -14 155 -13Q155.5 -12 156.1 -10.8Q156.6 -9.5 155.9 -8.4Q155.2 -7.3 154.4 -6.5Z"/><path d="M79.4 170.5Q78.9 171.5 78 172.2Q77.1 172.8 76 172.9Q74.9 172.9 73.9 173Q72.9 173 72 172.7Q71 172.5 69.8 172.4Q68.7 172.3 67.6 171.8Q66.4 171.3 66.7 169.9Q66.9 168.4 66.8 167.5Q66.8 166.5 66.9 165.6Q67 164.6 66.9 163.5Q66.9 162.4 67 161.1Q67.1 159.7 68.4 159.5Q69.8 159.3 70.9 159.3Q72 159.3 72.9 159.2Q73.9 159.1 75 159.1Q76.1 159 77 159.4Q78 159.9 78.9 160.6Q79.9 161.2 80.5 162.2Q81.1 163.2 81.4 164.3Q81.6 165.5 81.2 166.6Q80.9 167.7 80.3 168.6Q79.8 169.5 79.4 170.5Z"/><path d="M68 149.3Q67.3 150.1 66.6 151Q66 152 65.1 153.1Q64.2 154.2 62.8 154.4Q61.5 154.6 60.2 154.2Q58.9 153.9 57.8 153Q56.7 152.2 56.3 151Q55.8 149.7 54.9 148.9Q54.1 148 53.9 146.8Q53.7 145.6 54.4 144.5Q55.1 143.4 55.6 142.5Q56.1 141.6 56.6 140.7Q57.1 139.8 57.7 138.9Q58.3 137.9 59.2 136.3Q60 134.8 61.4 135.5Q62.8 136.2 63.9 136.9Q64.9 137.7 65.7 138.5Q66.5 139.3 67.4 139.8Q68.3 140.4 68.7 141.4Q69.2 142.4 69.4 143.4Q69.5 144.5 69.6 145.5Q69.7 146.6 69.2 147.6Q68.7 148.5 68 149.3Z"/><path d="M154.7 29.9Q154 30.9 152.9 31.3Q151.8 31.7 150.8 32.2Q149.8 32.6 148.7 33Q147.6 33.5 146.2 33.6Q144.9 33.8 143.8 33Q142.7 32.3 141.6 31.5Q140.4 30.8 140 29.5Q139.5 28.2 140 26.9Q140.6 25.5 140.9 24.5Q141.1 23.4 141.4 22.4Q141.7 21.4 141.9 20.2Q142.1 18.9 142.9 17.8Q143.6 16.7 145 16.5Q146.3 16.4 147.6 16.2Q148.8 16.1 149.9 16.8Q151 17.5 151.8 18.2Q152.7 19 153.4 19.8Q154.1 20.6 154.9 21.4Q155.8 22.2 155.9 23.3Q156 24.4 155.7 25.5Q155.5 26.6 155.4 27.8Q155.4 28.9 154.7 29.9Z"/><path d="M110.7 86.6Q108.5 87.1 107 87.5Q105.5 87.8 104.3 88.2Q103 88.6 101.7 88.7Q100.4 88.9 98.8 89.5Q97.2 90.1 95.6 89.6Q94.1 89 93.5 87.4Q93 85.7 92.4 84.4Q91.9 83.1 91.5 81.7Q91.1 80.3 90.8 78.8Q90.5 77.3 91.6 76.2Q92.7 75 93.6 74Q94.5 73 95.2 71.6Q95.9 70.1 97.2 68.8Q98.5 67.6 100.3 67.5Q102 67.3 103.7 67.8Q105.4 68.3 106.2 70Q107.1 71.6 107.8 72.9Q108.5 74.1 109.2 75.3Q110 76.4 110.9 77.6Q111.9 78.9 112.6 80.6Q113.3 82.3 113.1 84.2Q112.8 86.1 110.7 86.6Z"/><path d="M211.9 59.9Q211.6 60.8 211.1 62Q210.6 63.2 209.5 63.9Q208.5 64.5 207.2 64.6Q205.9 64.6 204.7 64.4Q203.4 64.2 202.2 63.8Q200.9 63.4 200.1 62.3Q199.2 61.3 198.5 60.2Q197.8 59.1 198 57.7Q198.1 56.4 198.9 55.3Q199.6 54.3 200.2 53.5Q200.9 52.7 201.3 51.8Q201.7 50.9 202.5 50.4Q203.4 49.9 204.3 49.7Q205.2 49.4 206.1 49.2Q207.1 48.9 208.2 48.7Q209.3 48.5 210 49.4Q210.7 50.3 211.3 51.1Q211.9 51.9 212.5 52.6Q213.2 53.4 213.6 54.3Q214 55.3 213.6 56.3Q213.2 57.3 212.8 58.1Q212.3 59 211.9 59.9Z"/><path d="M36.4 141.4Q35.7 142.1 35 142.7Q34.3 143.4 33.4 144Q32.6 144.7 31.5 145.7Q30.4 146.6 29.2 146.1Q28 145.6 27.3 144.5Q26.6 143.4 26.1 142.4Q25.6 141.5 25 140.7Q24.4 139.9 23.6 139Q22.8 138 22.5 136.8Q22.2 135.5 23.2 134.6Q24.2 133.7 25.1 133.1Q26.1 132.5 27 132.1Q27.9 131.7 28.8 131.2Q29.6 130.7 30.6 130Q31.7 129.3 32.9 129.2Q34.2 129.1 35.5 129.5Q36.7 129.9 37 131.4Q37.2 132.9 37.3 134Q37.3 135.1 37.4 136.1Q37.5 137 37.6 138Q37.8 138.9 37.5 139.9Q37.2 140.8 36.4 141.4Z"/><path d="M187.3 35.5Q186.8 36.3 186.4 37.5Q185.9 38.7 184.8 38.8Q183.6 38.9 182.5 39.2Q181.4 39.5 180.5 38.7Q179.6 37.9 179 37.1Q178.5 36.2 177.8 35.7Q177.2 35.1 176.6 34.4Q176 33.7 175.1 32.9Q174.3 32 173.7 30.8Q173.2 29.6 173.6 28.4Q174 27.1 175.2 26.5Q176.4 25.8 177.3 25.2Q178.2 24.5 179.2 23.8Q180.2 23.2 181.4 23.2Q182.6 23.1 183.8 23.4Q185 23.6 185.7 24.6Q186.5 25.5 186.9 26.5Q187.4 27.5 187.9 28.3Q188.3 29.2 189.1 30.1Q189.8 31 189.3 32Q188.8 33 188.3 33.8Q187.8 34.7 187.3 35.5Z"/><path d="M172.9 12.6Q171.9 13.3 171.1 13.9Q170.3 14.6 169.4 15.2Q168.4 15.8 167.3 16.3Q166.1 16.7 165 16.3Q163.9 15.9 163 15Q162.2 14.2 161.5 13.3Q160.9 12.5 160.2 11.7Q159.5 10.8 158.8 9.8Q158.1 8.7 158.7 7.6Q159.3 6.5 160.3 5.8Q161.4 5.2 162 4.5Q162.5 3.8 163.2 3.3Q163.9 2.7 164.6 2Q165.3 1.3 166.3 1.3Q167.3 1.4 168.1 1.9Q168.9 2.4 169.7 2.8Q170.5 3.1 171.3 3.6Q172.1 4.1 173.2 4.7Q174.2 5.3 174.9 6.4Q175.5 7.5 175.4 8.7Q175.4 10 174.6 11Q173.9 12 172.9 12.6Z"/><path d="M89.1 11.1Q88.8 12.2 88.2 13.6Q87.7 15 86.5 15.9Q85.3 16.8 83.8 16.9Q82.3 16.9 80.8 16.7Q79.3 16.6 78 15.8Q76.7 15 76.5 13.2Q76.4 11.5 76.3 10.3Q76.1 9.1 75.9 8Q75.7 7 75.5 5.9Q75.2 4.8 75.3 3.5Q75.3 2.3 75.8 0.9Q76.2 -0.4 77.6 -0.6Q79.1 -0.7 80.2 -1.1Q81.3 -1.4 82.5 -1.9Q83.7 -2.3 85 -2.3Q86.3 -2.2 87.3 -1.4Q88.3 -0.5 89.3 0.3Q90.3 1.1 91.4 2.1Q92.4 3 91.7 4.5Q91.1 5.9 90.8 7Q90.6 8.2 90.1 9.1Q89.5 10 89.1 11.1Z"/><path d="M24 -0.3Q23 0.2 22.3 0.8Q21.6 1.4 20.7 1.9Q19.9 2.4 18.9 2.9Q17.8 3.4 16.8 3.1Q15.8 2.7 14.8 2.2Q13.8 1.7 12.9 1.1Q11.9 0.5 11.9 -0.7Q12 -2 11.9 -3Q11.9 -3.9 11.8 -4.9Q11.7 -5.8 11.9 -6.9Q12.1 -7.9 12.1 -9.3Q12.2 -10.7 13.5 -10.9Q14.7 -11.1 15.8 -11.2Q16.9 -11.3 17.9 -11.1Q18.9 -11 19.9 -11Q20.9 -10.9 21.8 -10.5Q22.8 -10.2 23.1 -9.2Q23.5 -8.2 23.9 -7.4Q24.3 -6.6 24.6 -5.7Q24.8 -4.8 25.2 -3.8Q25.6 -2.8 25.3 -1.8Q25 -0.8 24 -0.3Z"/><path d="M20.5 135.5Q19.4 136.1 18.3 136.2Q17.1 136.3 16.2 136.4Q15.4 136.4 14.5 136.5Q13.7 136.6 12.8 136.7Q11.9 136.7 10.8 136.7Q9.7 136.7 8.6 136.3Q7.5 135.8 7 134.7Q6.6 133.6 6.9 132.5Q7.2 131.3 7.7 130.4Q8.1 129.5 8.3 128.6Q8.5 127.7 8.8 126.7Q9.1 125.7 9.8 124.9Q10.5 124.1 11.6 124.2Q12.7 124.2 13.7 124.3Q14.6 124.4 15.6 124.3Q16.6 124.2 17.7 124.5Q18.7 124.7 19.1 125.8Q19.6 126.8 19.8 127.7Q19.9 128.7 20.3 129.5Q20.7 130.4 21 131.4Q21.4 132.4 21.5 133.7Q21.6 134.9 20.5 135.5Z"/><path d="M5.1 82.2Q5.1 83.2 4.1 83.4Q3.2 83.7 2.4 83.8Q1.6 83.9 0.8 84.1Q-0 84.4 -0.9 84.4Q-1.8 84.4 -2.5 83.8Q-3.1 83.3 -3.6 82.6Q-4 81.9 -4.3 81.1Q-4.5 80.4 -4.8 79.6Q-5.2 78.9 -5.8 78Q-6.5 77 -6.5 75.9Q-6.5 74.8 -5.4 74.3Q-4.3 73.9 -3.5 73.4Q-2.7 72.9 -1.8 72.5Q-1 72.1 -0.1 72.4Q0.8 72.6 1.6 73.1Q2.3 73.6 3.1 73.7Q4 73.8 4.7 74.3Q5.5 74.7 6.1 75.5Q6.7 76.2 6.4 77.2Q6 78.2 6 79Q5.9 79.8 5.6 80.5Q5.2 81.2 5.1 82.2Z"/><path d="M137.5 15.4Q136.1 15.9 135.1 16.3Q134.2 16.7 133.2 17.1Q132.3 17.5 131.3 17.9Q130.2 18.4 129.2 18Q128.1 17.6 127.2 17.1Q126.2 16.7 125.2 16.1Q124.2 15.5 123.5 14.5Q122.9 13.5 122.7 12.3Q122.6 11.1 122.5 9.9Q122.3 8.7 122.4 7.3Q122.5 6 123.4 5Q124.4 4.1 125.2 2.8Q126 1.6 127.3 0.9Q128.6 0.2 130.1 0.1Q131.6 0.1 132.9 0.6Q134.3 1.2 135.1 2.5Q135.9 3.7 136.2 5.1Q136.4 6.4 136.7 7.3Q137 8.2 137.3 9.2Q137.6 10.1 138.1 11.2Q138.6 12.3 138.8 13.6Q138.9 15 137.5 15.4Z"/><path d="M7 130.5Q6.6 131.5 6.2 132.9Q5.8 134.3 4.5 134.5Q3.3 134.7 2.1 134.2Q0.9 133.7 -0 133.2Q-1 132.8 -1.9 132.4Q-2.8 132 -3.8 131.5Q-4.8 131 -5.3 130Q-5.9 129.1 -5.5 127.9Q-5.1 126.8 -4.8 125.9Q-4.4 125.1 -4.2 124.2Q-3.9 123.4 -3.5 122.6Q-3.1 121.8 -2.7 120.6Q-2.3 119.5 -1.2 119.2Q-0.1 118.8 0.9 118.7Q2 118.5 3 119Q4 119.5 4.8 120.2Q5.6 120.8 6.4 121.5Q7.1 122.1 8.1 122.8Q9.1 123.5 8.8 124.7Q8.4 125.9 8.2 126.8Q8 127.8 7.7 128.7Q7.4 129.6 7 130.5Z"/><path d="M14 99.4Q13 99.8 12.1 100Q11.2 100.2 10.5 100.6Q9.8 100.9 9 101.1Q8.2 101.4 7.1 101.9Q6 102.3 5 102Q3.9 101.7 3.3 100.8Q2.7 99.9 2.3 98.9Q2 97.9 1.8 96.9Q1.6 95.9 1.8 95Q2 94 2.9 93.4Q3.8 92.8 4.4 92.3Q4.9 91.8 5.5 91.3Q6.1 90.9 6.7 90.2Q7.3 89.5 8.2 89.1Q9.1 88.8 10 89.1Q10.9 89.4 11.8 89.7Q12.7 90.1 13.5 90.7Q14.2 91.3 14.5 92.2Q14.7 93.2 15.3 94.1Q16 94.9 16.3 96.1Q16.7 97.2 15.9 98.1Q15 99 14 99.4Z"/><path d="M139.9 153.9Q139.1 154.8 138.1 155.4Q137 155.9 136 156.3Q134.9 156.8 133.7 157.4Q132.6 158 131.2 158.1Q129.8 158.1 128.4 157.6Q127.1 157.1 126.4 155.8Q125.7 154.5 125.2 153.3Q124.7 152.1 125.2 150.7Q125.7 149.4 125.9 148.4Q126 147.3 126.1 146.2Q126.2 145 126.5 143.7Q126.8 142.4 127.5 141.1Q128.2 139.7 129.6 139.1Q131 138.6 132.5 138.4Q134 138.3 135.6 138.4Q137.1 138.5 138.4 139.4Q139.7 140.3 140.7 141.4Q141.7 142.6 141.9 144.1Q142.2 145.6 141.7 147Q141.2 148.3 141.2 149.5Q141.1 150.6 140.9 151.8Q140.7 153 139.9 153.9Z"/><path d="M1.3 13.9Q0.4 14.5 -0.8 14.4Q-2 14.3 -2.7 14.4Q-3.5 14.6 -4.2 14.7Q-4.9 14.8 -5.7 14.8Q-6.5 14.8 -7.6 14.9Q-8.6 15 -9.6 14.5Q-10.5 14 -11.1 13.1Q-11.6 12.2 -11.3 11.1Q-11 10 -10.8 9.1Q-10.6 8.2 -10.3 7.4Q-10 6.6 -9.7 5.7Q-9.4 4.7 -8.7 4Q-8 3.2 -7 3Q-6 2.7 -5.1 3.1Q-4.1 3.4 -3.4 3.9Q-2.6 4.5 -1.9 4.7Q-1.1 4.9 -0.2 5.3Q0.7 5.6 1.6 6.3Q2.5 6.9 2.7 8Q2.8 9.1 2.8 10.1Q2.8 11.2 2.5 12.2Q2.2 13.3 1.3 13.9Z"/><path d="M18 29.5Q17.2 30 16.5 30.5Q15.9 31.1 15.1 31.7Q14.4 32.3 13.5 32Q12.6 31.7 11.8 31.4Q11.1 31 10.4 30.6Q9.7 30.3 9 29.8Q8.2 29.4 7.5 28.8Q6.7 28.2 7 27.2Q7.2 26.2 7.2 25.4Q7.1 24.5 7 23.5Q6.8 22.4 7 21.2Q7.2 19.9 8.1 19.2Q9 18.4 10.1 18Q11.2 17.5 12.4 17.6Q13.6 17.7 14.8 17.8Q16 17.9 16.9 18.7Q17.7 19.6 18.6 20.3Q19.4 21 19.8 22.1Q20.2 23.2 20.1 24.2Q19.9 25.3 19.9 26.3Q19.8 27.3 19.3 28.1Q18.7 28.9 18 29.5Z"/><path d="M61.6 96Q60.3 96.7 58.9 97Q57.6 97.2 56.5 97.2Q55.3 97.3 54.3 97.5Q53.2 97.8 52 97.9Q50.9 98 49.3 98.1Q47.8 98.2 47.5 96.7Q47.3 95.1 47 93.9Q46.8 92.8 46.5 91.8Q46.1 90.8 45.9 89.6Q45.7 88.4 45.6 87.1Q45.5 85.7 46.5 84.8Q47.5 83.9 48.4 83Q49.4 82.1 50.7 81.9Q52 81.7 53.2 81.8Q54.4 81.8 55.6 82Q56.8 82.1 58.2 82.3Q59.6 82.5 61 83.2Q62.3 83.9 62.7 85.3Q63.1 86.8 62.9 88.2Q62.8 89.6 63.1 91Q63.5 92.3 63.2 93.8Q62.9 95.2 61.6 96Z"/><path d="M6.1 162.6Q5.7 163.3 5.1 163.9Q4.5 164.5 3.8 165.6Q3.2 166.7 2.1 166.7Q1 166.7 -0.1 166.5Q-1.2 166.4 -2.1 165.8Q-3 165.2 -3.8 164.5Q-4.6 163.7 -4.6 162.5Q-4.5 161.4 -4.6 160.5Q-4.6 159.6 -4.5 158.7Q-4.4 157.8 -4.6 156.8Q-4.7 155.7 -4.4 154.5Q-4.1 153.4 -3.1 152.9Q-2.1 152.3 -1.1 151.9Q-0.1 151.5 1 151.3Q2.1 151.2 3.1 151.7Q4.1 152.3 4.8 153.1Q5.5 153.9 6.1 154.6Q6.8 155.2 7.3 156Q7.9 156.8 8.4 157.7Q8.9 158.6 8.3 159.5Q7.7 160.5 7.2 161.2Q6.6 161.9 6.1 162.6Z"/><path d="M17.1 170.6Q16.8 171.6 15.9 172Q15 172.4 14 172.3Q13 172.2 12.2 172.4Q11.4 172.6 10.4 172.7Q9.5 172.7 8.6 172.4Q7.7 172 7.1 171.3Q6.4 170.6 5.7 169.8Q5 169.1 4.3 168.1Q3.7 167.1 4.3 166.1Q4.9 165 5.6 164.3Q6.3 163.5 6.7 162.7Q7.2 161.9 7.8 161.1Q8.4 160.3 9.3 159.6Q10.2 158.9 11.3 159.1Q12.3 159.3 13.4 159.5Q14.4 159.7 15.5 159.9Q16.7 160 18 160.5Q19.4 160.9 19.1 162.4Q18.8 164 18.6 165Q18.4 166.1 18 166.9Q17.6 167.8 17.5 168.7Q17.3 169.6 17.1 170.6Z"/><path d="M12.9 39.2Q12.6 40.1 11.6 40.3Q10.6 40.4 9.8 40.5Q8.9 40.6 8.2 40.7Q7.4 40.7 6.5 40.9Q5.6 41 4.8 40.6Q4 40.3 3.5 39.5Q2.9 38.8 2.5 38.1Q2 37.4 1.5 36.5Q1 35.7 1.5 34.8Q2.1 34 2.6 33.3Q3.2 32.7 3.7 32.2Q4.3 31.8 4.8 31.2Q5.3 30.6 5.9 29.8Q6.4 29 7.3 29.5Q8.2 29.9 8.8 30.3Q9.5 30.6 10.1 30.9Q10.7 31.3 11.3 31.7Q11.9 32.2 12.8 32.6Q13.6 33 13.5 33.9Q13.3 34.8 13.4 35.6Q13.4 36.5 13.3 37.3Q13.2 38.2 12.9 39.2Z"/><path d="M113.2 175.6Q112.2 176 111.5 176.3Q110.8 176.6 110.1 177Q109.4 177.4 108.6 177.7Q107.7 178 106.8 178.2Q105.8 178.3 104.9 177.8Q104.1 177.4 103.9 176.3Q103.7 175.3 103.6 174.5Q103.6 173.6 103.4 172.9Q103.3 172.2 103.2 171.5Q103.1 170.8 103 169.9Q102.9 169 103.5 168.4Q104.1 167.8 104.9 167.6Q105.7 167.4 106.5 167.3Q107.2 167.2 107.9 167Q108.6 166.7 109.4 166.6Q110.2 166.5 111.3 166.3Q112.5 166.2 113 167.1Q113.5 167.9 114 168.8Q114.4 169.6 114.6 170.5Q114.8 171.4 114.9 172.4Q114.9 173.4 114.6 174.3Q114.2 175.2 113.2 175.6Z"/><path d="M15.7 12.3Q15.6 13.3 15 14.2Q14.5 15.2 13.5 15.6Q12.5 16.1 11.4 16.2Q10.3 16.3 9.2 16.1Q8.1 15.8 7.1 15.4Q6.1 14.9 5.2 14.1Q4.3 13.4 3.9 12.4Q3.4 11.3 3.4 10.2Q3.5 9.1 3.4 8Q3.3 6.9 4.1 6.1Q4.9 5.3 5.6 4.7Q6.3 4 7.1 3.6Q7.9 3.2 8.7 2.7Q9.5 2.2 10.4 1.6Q11.4 1 12.3 1.5Q13.3 2.1 14.1 2.6Q15 3.1 15.9 3.6Q16.9 4.1 16.9 5.2Q16.9 6.3 16.7 7.2Q16.5 8.2 16.3 8.9Q16.2 9.7 16.1 10.5Q15.9 11.3 15.7 12.3Z"/><path d="M35.7 62.5Q35.2 63.1 34.5 63.4Q33.8 63.8 33.1 64.2Q32.4 64.5 31.6 64.8Q30.8 65.1 30 64.8Q29.2 64.4 28.7 63.8Q28.2 63.2 27.7 62.6Q27.3 62.1 26.6 61.6Q25.9 61.1 25.2 60.3Q24.5 59.6 24.5 58.6Q24.4 57.6 25.3 57Q26.2 56.4 26.8 55.9Q27.5 55.4 28.1 54.9Q28.7 54.5 29.4 54Q30 53.6 30.9 53Q31.7 52.4 32.8 52.2Q33.9 52 34.8 52.5Q35.7 53.1 36 54.2Q36.3 55.3 36.2 56.3Q36.1 57.3 36.1 58Q36.1 58.8 36.1 59.5Q36.2 60.2 36.2 61.1Q36.3 61.9 35.7 62.5Z"/><path d="M207.6 117.1Q206.9 117.6 206.2 118Q205.5 118.5 204.8 118.8Q204.1 119 203.2 119.7Q202.4 120.4 201.1 121.1Q199.9 121.7 199 120.8Q198.1 120 197.4 119.2Q196.6 118.4 195.9 117.4Q195.2 116.5 195.4 115.3Q195.6 114.1 196.3 113.2Q196.9 112.3 197.5 111.7Q198.1 111 198.5 110.3Q199 109.7 199.5 109.1Q200.1 108.5 200.8 107.6Q201.4 106.8 202.5 106.3Q203.5 105.8 204.5 106.3Q205.5 106.7 206.5 107.1Q207.5 107.5 207.8 108.6Q208 109.8 208.5 110.6Q209 111.4 209.3 112.3Q209.7 113.2 210 114.2Q210.4 115.3 209.4 115.9Q208.3 116.6 207.6 117.1Z"/><path d="M159.8 43.2Q159.7 44.4 159 45.5Q158.3 46.5 157 46.3Q155.7 46.1 154.6 46.1Q153.6 46.1 152.5 46.1Q151.4 46 150.3 45.8Q149.1 45.5 148.8 44.3Q148.5 43 148.1 42.1Q147.8 41.2 147.5 40.2Q147.2 39.3 147 38.3Q146.7 37.2 146.6 36Q146.6 34.7 147.7 34.1Q148.8 33.5 149.8 33.2Q150.8 32.8 151.7 32.4Q152.6 32 153.7 31.5Q154.7 31 155.7 31.4Q156.7 31.8 157.5 32.6Q158.3 33.3 159.2 33.8Q160.1 34.3 160.9 35.2Q161.6 36 161.2 37.2Q160.8 38.4 160.6 39.3Q160.3 40.2 160.1 41.1Q159.9 42 159.8 43.2Z"/><path d="M155.2 173.1Q154.5 173.7 153.7 174.2Q152.9 174.6 152.1 175.2Q151.3 175.9 150.3 176.1Q149.3 176.3 148.3 176.1Q147.3 175.8 146.3 175.4Q145.3 175 144.4 174.4Q143.4 173.8 142.9 172.8Q142.4 171.8 142.1 170.7Q141.9 169.6 142.2 168.5Q142.4 167.4 143.2 166.6Q143.9 165.8 144.5 165.1Q145.2 164.3 145.7 163.3Q146.2 162.3 147.3 162.6Q148.5 162.9 149.4 163.2Q150.2 163.4 151 163.5Q151.8 163.7 152.7 163.9Q153.5 164.1 154.7 164.3Q155.9 164.5 155.9 165.7Q155.8 166.8 155.8 167.7Q155.8 168.6 155.8 169.5Q155.9 170.4 155.9 171.4Q156 172.4 155.2 173.1Z"/><path d="M198.3 29.2Q197.7 30 196.8 30.2Q195.9 30.5 195.1 30.6Q194.2 30.7 193.4 30.7Q192.7 30.7 191.8 30.8Q190.9 31 190.2 30.5Q189.5 30 189.1 29.3Q188.7 28.5 188.3 27.9Q187.9 27.2 187.7 26.4Q187.4 25.7 187.1 24.8Q186.7 23.9 187.3 23.2Q187.9 22.4 188.7 22.1Q189.5 21.7 190.1 21.3Q190.7 20.9 191.3 20.6Q192 20.2 192.7 19.8Q193.5 19.4 194.4 19.3Q195.3 19.2 196.2 19.6Q197 20.1 197.3 21Q197.7 21.8 197.9 22.6Q198 23.4 198.1 24.2Q198.1 24.9 198.4 25.7Q198.6 26.5 198.7 27.5Q198.9 28.5 198.3 29.2Z"/><path d="M163.3 2.4Q162.8 3 162.2 3.4Q161.6 3.8 161 4.4Q160.4 4.9 159.6 5.7Q158.7 6.5 157.7 6.4Q156.6 6.4 156.3 5.1Q155.9 3.9 155.6 3.1Q155.2 2.4 154.9 1.8Q154.6 1.2 154.2 0.5Q153.8 -0.2 153.5 -1.1Q153.2 -1.9 153.1 -3Q153 -4 153.6 -4.8Q154.3 -5.5 155.1 -6.2Q155.8 -6.9 156.8 -7.2Q157.7 -7.5 158.8 -7.5Q159.8 -7.6 160.7 -7.4Q161.7 -7.2 162.6 -6.7Q163.5 -6.2 164 -5.3Q164.5 -4.5 164.6 -3.6Q164.8 -2.6 165 -1.8Q165.3 -1 165.2 -0.1Q165.2 0.7 164.5 1.3Q163.8 1.9 163.3 2.4Z"/><path d="M194.6 92.3Q193.3 92.8 192.1 92.9Q190.9 93 189.9 93.1Q189 93.2 188.2 93.3Q187.3 93.4 186.3 93.7Q185.3 93.9 184 94Q182.6 94.2 181.4 93.6Q180.2 93 179.9 91.7Q179.5 90.4 179 89.2Q178.6 88 179.1 86.8Q179.6 85.5 180.3 84.6Q180.9 83.6 181.6 82.7Q182.3 81.8 183 80.8Q183.6 79.7 184.8 79.5Q186.1 79.3 187.2 79.4Q188.4 79.4 189.6 79.4Q190.8 79.3 191.6 80.3Q192.3 81.3 192.9 82.2Q193.5 83.1 193.9 84Q194.2 85 194.8 85.9Q195.4 86.8 196.1 88.1Q196.9 89.3 196.4 90.6Q195.9 91.8 194.6 92.3Z"/><path d="M105.3 149.3Q105.1 150.4 104 150.8Q103 151.1 102 151.4Q101.1 151.6 100.1 152.1Q99.1 152.6 98 152.3Q97 152.1 96.3 151.1Q95.7 150.2 95.1 149.4Q94.6 148.7 93.9 148Q93.2 147.3 92.6 146.4Q92.1 145.5 92.2 144.4Q92.4 143.3 93.3 142.6Q94.2 141.9 94.8 141.3Q95.4 140.7 96 140.1Q96.7 139.6 97.4 138.8Q98.2 138.1 99.2 137.7Q100.2 137.4 101.1 137.9Q102.1 138.3 103 138.9Q103.8 139.4 104.7 139.9Q105.5 140.5 105.6 141.6Q105.6 142.7 105.5 143.6Q105.5 144.5 105.5 145.4Q105.4 146.2 105.4 147.2Q105.4 148.1 105.3 149.3Z"/><path d="M93.4 72.8Q92.8 73.6 92.1 74.4Q91.4 75.2 90.5 76.1Q89.6 77.1 88.4 76.6Q87.2 76.2 86.3 75.6Q85.4 74.9 84.5 74.6Q83.5 74.3 82.6 73.8Q81.7 73.2 80.7 72.4Q79.7 71.7 79.9 70.4Q80.1 69.2 80.6 68.2Q81.1 67.1 81.6 66.3Q82.2 65.5 82.6 64.7Q83 63.8 83.5 62.7Q84 61.6 85.1 61.5Q86.2 61.4 87.3 61.2Q88.4 61.1 89.5 61.1Q90.6 61.2 91.9 61.3Q93.2 61.5 94 62.4Q94.8 63.4 95.4 64.5Q96 65.6 96.3 66.8Q96.6 68 96.1 69.2Q95.6 70.3 94.8 71.2Q94 72 93.4 72.8Z"/><path d="M64.3 54.4Q63.8 55 63.2 55.8Q62.7 56.5 62 57.4Q61.3 58.4 60.2 58.6Q59.1 58.8 57.9 58.7Q56.7 58.6 55.8 57.9Q54.8 57.3 54.1 56.4Q53.4 55.5 52.9 54.5Q52.4 53.6 51.9 52.5Q51.4 51.5 51.5 50.3Q51.7 49.1 52.2 48.1Q52.6 47 53.7 46.6Q54.8 46.1 55.8 45.9Q56.8 45.7 57.6 45.6Q58.5 45.4 59.3 45.3Q60.1 45.2 60.9 45.1Q61.8 45.1 63.1 44.9Q64.3 44.6 65 45.5Q65.6 46.4 66.2 47.3Q66.8 48.2 67.1 49.3Q67.3 50.4 66.6 51.3Q66 52.3 65.4 53Q64.8 53.7 64.3 54.4Z"/><path d="M192.8 75.5Q192.4 76.2 192.1 77.3Q191.7 78.4 190.7 78.8Q189.7 79.1 188.7 79.1Q187.6 79 186.6 79Q185.5 79 184.6 78.5Q183.6 77.9 183.5 76.7Q183.4 75.5 183.2 74.7Q183 73.8 182.9 73.1Q182.7 72.3 182.6 71.5Q182.5 70.7 182.3 69.6Q182.1 68.6 182.6 67.7Q183.1 66.9 184.2 66.8Q185.3 66.6 186.1 66.5Q187 66.4 187.8 66.3Q188.6 66.3 189.5 66Q190.5 65.8 191.7 65.7Q192.9 65.6 193.6 66.5Q194.2 67.4 194.6 68.4Q195 69.4 194.5 70.5Q194.1 71.5 193.8 72.3Q193.5 73.1 193.4 73.9Q193.2 74.7 192.8 75.5Z"/><path d="M52.3 17.9Q51.6 18.8 50.4 19Q49.2 19.1 48.1 18.7Q47.1 18.3 46.3 18.1Q45.6 17.9 45 17.8Q44.3 17.7 43.5 17.5Q42.8 17.4 41.9 17.1Q41 16.9 40.3 16.2Q39.6 15.5 39.9 14.6Q40.2 13.6 40.2 12.8Q40.2 11.9 40.3 11Q40.3 10.1 41.3 9.8Q42.3 9.5 42.9 9.1Q43.5 8.7 44.2 8.4Q44.9 8 45.6 7.6Q46.4 7.1 47.6 6.5Q48.7 5.9 49.7 6.4Q50.6 7 50.8 8.2Q51 9.4 51.2 10.3Q51.5 11.1 51.7 12Q52 12.8 52.3 13.7Q52.6 14.6 52.8 15.8Q53 17 52.3 17.9Z"/><path d="M95.5 58.9Q95.6 60.6 94 60.7Q92.4 60.8 91.1 60.6Q89.8 60.5 88.8 60.6Q87.7 60.7 86.6 60.6Q85.5 60.6 84.6 59.9Q83.8 59.2 83.3 58.2Q82.9 57.3 82.4 56.4Q82 55.6 81.6 54.7Q81.2 53.7 80.7 52.6Q80.3 51.5 80.1 50.1Q79.9 48.7 80.7 47.5Q81.4 46.4 82.8 46Q84.1 45.6 85.3 45.4Q86.6 45.3 87.7 45.3Q88.8 45.2 90.1 45.2Q91.3 45.1 92.9 45Q94.5 45 94.5 46.8Q94.5 48.6 94.6 49.7Q94.6 50.9 94.8 51.8Q95.1 52.8 95 53.7Q95 54.7 95.2 55.9Q95.4 57.1 95.5 58.9Z"/><path d="M34 80.5Q34.1 81.6 33.1 81.8Q32.2 82 31.4 82.2Q30.6 82.3 29.8 82.6Q29 82.8 28 83Q27.1 83.1 26.2 82.8Q25.3 82.4 24.7 81.7Q24 81 23.6 80.1Q23.1 79.3 23 78.4Q22.9 77.4 23.5 76.6Q24 75.8 24.7 75.3Q25.4 74.8 25.9 74.4Q26.4 74 26.9 73.6Q27.4 73.3 27.9 72.8Q28.4 72.3 29.1 71.8Q29.8 71.2 30.6 71.5Q31.3 71.8 32 72.2Q32.6 72.7 33.2 73.2Q33.7 73.8 33.7 74.6Q33.7 75.4 33.7 76Q33.8 76.7 33.8 77.3Q33.8 77.9 33.8 78.7Q33.8 79.4 34 80.5Z"/><path d="M213.1 149.4Q212.9 150.7 211.8 151.4Q210.7 152 209.4 152.1Q208.2 152.3 207 152.5Q205.9 152.8 204.6 152.7Q203.4 152.6 202.5 151.6Q201.7 150.6 201.5 149.4Q201.3 148.2 201.1 147.2Q201 146.3 200.8 145.5Q200.7 144.7 200.5 143.8Q200.3 142.9 199.9 141.7Q199.5 140.4 199.9 139.3Q200.3 138.1 201.5 137.7Q202.7 137.3 203.9 137.6Q205.1 137.8 206 138.1Q206.9 138.3 207.7 138.5Q208.6 138.7 209.4 139Q210.2 139.3 211.2 139.6Q212.3 140 212.8 140.9Q213.3 141.8 213.3 142.8Q213.4 143.8 213.3 144.8Q213.3 145.8 213.3 146.9Q213.3 148 213.1 149.4Z"/><path d="M219.5 50.9Q219.6 51.8 218.9 52.2Q218.3 52.6 217.6 52.9Q216.9 53.3 216.1 53.3Q215.4 53.4 214.6 53.3Q213.8 53.2 213.3 52.5Q212.9 51.8 212.4 51.3Q211.9 50.8 211.4 50.3Q210.9 49.8 210.7 49.1Q210.5 48.3 210.5 47.6Q210.5 46.8 211 46.2Q211.4 45.6 212 45.2Q212.5 44.7 213.1 44.5Q213.7 44.3 214.3 43.9Q214.8 43.6 215.5 43.3Q216.1 43 216.9 43Q217.6 43 218.3 43.3Q219 43.7 219.1 44.5Q219.3 45.3 219.3 46Q219.3 46.6 219.4 47.2Q219.4 47.7 219.4 48.2Q219.4 48.8 219.5 49.4Q219.5 50 219.5 50.9Z"/><path d="M8.6 72.6Q8.2 73.3 7.5 73.8Q6.9 74.2 6 74.1Q5.2 74 4.5 73.8Q3.9 73.5 3.3 73.2Q2.8 72.9 2.3 72.7Q1.7 72.6 1.1 72.3Q0.5 72 -0 71.5Q-0.5 71 -0.2 70.3Q0.2 69.5 0.4 69Q0.6 68.5 0.8 68Q1.1 67.6 1.3 67Q1.4 66.5 1.7 65.8Q1.9 65.2 2.5 64.4Q3 63.6 3.7 64.2Q4.5 64.7 5 65.1Q5.6 65.6 6 65.9Q6.4 66.3 6.9 66.6Q7.4 66.9 7.9 67.3Q8.5 67.7 9.2 68.3Q9.9 68.9 9.8 69.7Q9.8 70.5 9.4 71.2Q9 71.9 8.6 72.6Z"/><path d="M79.1 47.6Q78.3 48.5 77.1 48.8Q76 49.1 75 49.2Q74 49.3 73 49.3Q72.1 49.3 71 49.5Q69.9 49.8 69 49.3Q68 48.8 67.4 48Q66.7 47.2 66.2 46.2Q65.8 45.3 65.9 44.3Q66.1 43.2 66.4 42.4Q66.8 41.5 67.2 40.8Q67.6 40.1 68 39.4Q68.4 38.6 68.9 37.8Q69.4 36.9 70.1 36Q70.9 35.1 72 34.9Q73.2 34.7 74 35.8Q74.8 36.8 75.3 37.6Q75.9 38.4 76.4 39Q76.9 39.6 77.3 40.2Q77.7 40.9 78.3 41.6Q78.9 42.3 79.7 43.4Q80.4 44.5 80.1 45.6Q79.9 46.8 79.1 47.6Z"/><path d="M77.6 157.2Q77.5 158.3 76.5 158.4Q75.4 158.4 74.6 158.4Q73.7 158.4 73 158.5Q72.3 158.6 71.4 158.7Q70.6 158.8 69.5 158.9Q68.4 159 67.5 158.5Q66.5 157.9 65.9 157Q65.2 156.1 65.2 155Q65.1 153.9 65.8 152.9Q66.5 152 67 151.3Q67.6 150.6 68.1 150Q68.6 149.3 69.2 148.8Q69.8 148.2 70.7 148.1Q71.5 147.9 72.2 148.1Q73 148.2 73.8 148.3Q74.5 148.3 75.3 148.5Q76.2 148.7 77 149.1Q77.9 149.5 77.9 150.4Q77.9 151.4 77.8 152.2Q77.7 153 77.6 153.7Q77.4 154.4 77.6 155.3Q77.7 156.1 77.6 157.2Z"/><path d="M5.2 90.7Q4.8 91.1 4.4 91.5Q4 91.9 3.5 92.3Q3.1 92.8 2.4 93.4Q1.7 94 0.9 94Q0 94 -0.6 93.5Q-1.3 93 -1.9 92.4Q-2.4 91.8 -2.9 91.1Q-3.3 90.4 -3.4 89.6Q-3.5 88.8 -3.3 88.1Q-3.1 87.3 -2.9 86.6Q-2.6 85.8 -2 85.3Q-1.4 84.9 -0.7 84.8Q0.1 84.7 0.7 84.6Q1.3 84.5 1.9 84.4Q2.4 84.2 3.1 84.2Q3.7 84.2 4.6 84.1Q5.5 84 5.7 84.7Q6 85.5 6.4 86.1Q6.9 86.7 7.3 87.4Q7.8 88 7.3 88.7Q6.7 89.4 6.2 89.9Q5.7 90.4 5.2 90.7Z"/><path d="M131.5 110.7Q130.7 111.3 130.1 112.1Q129.5 112.8 128.7 114.1Q128 115.4 126.8 115.6Q125.5 115.7 124.4 115.2Q123.2 114.6 122.1 114.2Q120.9 113.8 119.4 113.4Q118 112.9 117.9 111.4Q117.8 109.9 118.1 108.6Q118.4 107.3 118.7 106.3Q118.9 105.2 119.1 104.1Q119.2 103 119.7 101.9Q120.2 100.8 120.6 99.1Q121.1 97.4 122.6 97.3Q124.1 97.2 125.5 97.5Q126.8 97.7 128 98.3Q129.1 98.9 130.5 99.1Q131.8 99.3 133.3 99.8Q134.8 100.4 135.6 101.7Q136.5 103 136.1 104.5Q135.7 106.1 134.6 107.3Q133.4 108.4 132.9 109.3Q132.3 110.1 131.5 110.7Z"/><path d="M17.5 180.6Q17 181.2 16.3 181.8Q15.7 182.3 14.9 182.6Q14.1 182.9 13.3 182.8Q12.4 182.7 11.6 182.6Q10.8 182.5 10.1 182.1Q9.4 181.7 9 181Q8.6 180.3 8.6 179.4Q8.7 178.6 8.5 178Q8.4 177.4 8.6 176.8Q8.7 176.2 8.7 175.5Q8.6 174.7 8.8 174Q9.1 173.3 9.9 173.2Q10.7 173 11.3 173Q12 173 12.6 172.9Q13.2 172.9 13.8 172.9Q14.4 172.8 15.3 172.7Q16.3 172.6 16.8 173.2Q17.3 173.8 17.7 174.4Q18.2 175.1 18.5 175.9Q18.7 176.7 18.6 177.5Q18.5 178.3 18.3 179.1Q18.1 180 17.5 180.6Z"/><path d="M153.4 102.6Q153 103.5 152.2 104.2Q151.5 104.9 150.5 105.2Q149.5 105.6 148.5 105.3Q147.4 105.1 146.5 104.8Q145.6 104.5 144.6 104.4Q143.5 104.3 142.8 103.5Q142.1 102.8 141.6 101.8Q141.2 100.9 141 99.9Q140.9 98.9 141.2 98Q141.5 97 142.3 96.4Q143 95.7 143.6 95.2Q144.1 94.6 144.7 94Q145.2 93.4 145.9 93Q146.7 92.5 147.5 92.1Q148.4 91.7 149.2 92.3Q150 92.8 150.6 93.5Q151.1 94.1 151.8 94.6Q152.5 95 153.2 95.6Q153.9 96.2 154.5 97.1Q155.2 97.9 154.7 98.8Q154.1 99.8 153.9 100.7Q153.7 101.6 153.4 102.6Z"/><path d="M112.3 34.3Q111.2 34.7 110.3 34.8Q109.5 35 108.7 35.1Q108 35.1 107.3 35.3Q106.7 35.5 105.8 35.7Q105 35.9 103.7 36.2Q102.5 36.5 101.8 35.7Q101.1 34.9 100.6 34Q100 33.1 100.1 32Q100.1 31 100 30Q99.8 28.9 100.2 27.9Q100.6 27 101.1 26.1Q101.7 25.2 102.7 24.7Q103.7 24.3 104.6 23.9Q105.5 23.6 106.5 23.4Q107.6 23.2 108.6 23.4Q109.6 23.5 110.2 24.5Q110.9 25.4 111 26.4Q111.2 27.4 111.5 28.1Q111.8 28.7 112 29.4Q112.2 30.1 112.5 30.9Q112.7 31.8 113.1 32.9Q113.5 34 112.3 34.3Z"/><path d="M53.9 156.9Q53.2 157.4 52.5 157.8Q51.9 158.3 51.2 158.8Q50.5 159.3 49.6 160Q48.7 160.8 47.6 160.6Q46.6 160.4 46 159.4Q45.3 158.5 45.1 157.6Q44.9 156.6 44.5 156Q44 155.3 43.9 154.5Q43.7 153.8 43.5 152.9Q43.4 152.1 43.1 151Q42.9 149.9 43.5 149.1Q44.1 148.2 45 147.8Q46 147.4 46.9 147.3Q47.9 147.2 48.8 147Q49.7 146.9 50.7 146.7Q51.8 146.6 52.7 147.1Q53.6 147.6 54.1 148.4Q54.7 149.3 55.2 150.1Q55.7 151 56.2 151.9Q56.7 152.9 56.4 153.9Q56.2 154.9 55.4 155.6Q54.5 156.3 53.9 156.9Z"/><path d="M160.5 182.1Q160.2 182.6 159.8 183.3Q159.3 183.9 158.8 184.9Q158.3 185.8 157.3 185.9Q156.4 186.1 155.5 185.7Q154.6 185.4 154 184.6Q153.5 183.8 153.2 183Q153 182.2 152.6 181.6Q152.2 181 152 180.4Q151.7 179.7 151.3 178.9Q151 178 151.2 177.2Q151.4 176.4 152.2 175.9Q152.9 175.4 153.6 174.9Q154.2 174.4 154.9 173.9Q155.6 173.4 156.4 173.7Q157.2 174 157.9 174.6Q158.5 175.1 159 175.4Q159.5 175.8 160 176.2Q160.5 176.6 161.1 177.1Q161.8 177.5 162.5 178.2Q163.1 178.9 162.5 179.6Q161.8 180.4 161.3 181Q160.8 181.5 160.5 182.1Z"/><path d="M49.2 50.4Q48.6 51 47.8 51Q46.9 51.1 46.2 51Q45.5 51 45 50.9Q44.4 50.8 43.8 50.7Q43.3 50.7 42.5 50.8Q41.8 50.8 41 50.6Q40.1 50.4 39.7 49.7Q39.2 49 39.4 48.2Q39.7 47.3 40.2 46.7Q40.7 46.1 41.1 45.7Q41.5 45.2 41.8 44.8Q42.1 44.4 42.4 43.9Q42.8 43.5 43.2 42.8Q43.6 42.1 44.4 41.6Q45.1 41.2 45.9 41.3Q46.7 41.5 47.5 41.9Q48.2 42.3 48.8 42.9Q49.3 43.5 49.7 44.3Q50.1 45 50.2 45.8Q50.4 46.6 50.4 47.4Q50.4 48.3 50.1 49Q49.8 49.8 49.2 50.4Z"/><path d="M143.7 164.7Q143.3 165.4 142.8 166.2Q142.4 167 141.5 167.3Q140.7 167.6 139.8 167.6Q138.9 167.6 138.2 167Q137.4 166.4 137 165.7Q136.6 165 136.1 164.6Q135.7 164.1 135.3 163.5Q134.9 163 134.5 162.4Q134 161.7 133.5 160.9Q133 160 133.4 159.1Q133.7 158.3 134.5 157.8Q135.3 157.3 136 157Q136.8 156.7 137.5 156.3Q138.1 155.8 139 155.5Q139.8 155.1 140.7 155.3Q141.5 155.5 142 156.3Q142.5 157.1 143 157.7Q143.4 158.3 143.8 159Q144.1 159.6 144.6 160.3Q145.1 161 145.3 161.8Q145.5 162.7 144.8 163.4Q144.1 164 143.7 164.7Z"/><path d="M200.2 52.4Q199.9 53 199.5 53.6Q199.1 54.2 198.4 54.5Q197.8 54.8 197 54.8Q196.3 54.9 195.6 54.5Q195 54.1 194.6 53.5Q194.2 52.9 194 52.4Q193.7 51.9 193.4 51.5Q193.1 51 192.7 50.5Q192.2 50 191.9 49.3Q191.6 48.6 191.8 47.9Q192.1 47.2 192.8 46.9Q193.5 46.5 194.1 46.4Q194.8 46.2 195.3 46.1Q195.9 46 196.4 45.9Q197 45.8 197.6 45.6Q198.3 45.4 198.8 45.7Q199.4 46 199.8 46.6Q200.1 47.1 200.5 47.6Q200.8 48.1 201.2 48.8Q201.6 49.4 201.5 50Q201.3 50.7 200.9 51.3Q200.5 51.8 200.2 52.4Z"/><path d="M160.7 93.1Q159.9 93.7 159.1 94.2Q158.4 94.7 157.6 95.3Q156.9 95.9 155.9 96.1Q154.9 96.3 154.1 95.7Q153.3 95 152.6 94.5Q151.9 94 151.2 93.5Q150.6 92.9 149.9 92.3Q149.2 91.6 148.9 90.7Q148.5 89.8 148.8 88.8Q149.1 87.9 149.4 87Q149.7 86.1 150 85.2Q150.4 84.2 151.1 83.4Q151.8 82.5 152.8 82Q153.8 81.6 154.9 82Q156 82.3 156.7 83.2Q157.5 84 158 84.5Q158.6 85.1 159.2 85.6Q159.8 86 160.4 86.6Q161.1 87.2 161.8 88Q162.6 88.8 163.1 89.9Q163.5 91.1 162.5 91.8Q161.5 92.6 160.7 93.1Z"/><path d="M29 130.2Q28.4 130.6 27.9 130.9Q27.3 131.2 26.7 131.5Q26.2 131.8 25.5 132.2Q24.8 132.6 24 132.7Q23.2 132.8 22.4 132.5Q21.6 132.2 21.4 131.3Q21.2 130.4 21 129.7Q20.8 129 20.6 128.4Q20.3 127.7 20.1 127Q19.9 126.2 19.8 125.3Q19.8 124.4 20.3 123.7Q20.8 122.9 21.6 122.5Q22.3 122.1 23.2 121.9Q24 121.6 24.8 121.5Q25.7 121.4 26.4 121.9Q27.1 122.3 27.6 123Q28.1 123.6 28.5 124.1Q28.9 124.6 29.3 125.2Q29.8 125.7 30.4 126.3Q31.1 127 31.1 127.8Q31.2 128.7 30.4 129.3Q29.6 129.8 29 130.2Z"/><path d="M4 56.9Q3.4 57.5 2.8 58.1Q2.2 58.7 1.3 58.6Q0.4 58.5 -0.3 58.1Q-1 57.7 -1.5 57.3Q-2 57 -2.4 56.6Q-2.8 56.3 -3.3 56Q-3.8 55.8 -4.5 55.4Q-5.1 55 -6 54.4Q-6.9 53.8 -6.7 53Q-6.5 52.1 -6.2 51.3Q-5.9 50.5 -5 50.2Q-4.2 49.9 -3.5 49.7Q-2.8 49.5 -2.2 49.5Q-1.6 49.5 -1 49.1Q-0.4 48.8 0.4 48.7Q1.1 48.6 1.6 49.2Q2 49.8 2.3 50.3Q2.6 50.9 2.8 51.5Q2.9 52.1 3.3 52.6Q3.7 53.1 4 53.8Q4.3 54.5 4.4 55.4Q4.5 56.3 4 56.9Z"/><path d="M198.3 172.7Q197.9 173.7 197.1 174.5Q196.3 175.4 195.1 174.9Q193.8 174.4 193 174Q192.1 173.7 191.4 173.4Q190.7 173.1 190.1 172.7Q189.4 172.4 188.7 172Q188 171.7 187 171.2Q186.1 170.7 185.3 169.8Q184.5 168.9 184.6 167.7Q184.7 166.6 185.2 165.6Q185.7 164.6 186.9 164.2Q188.1 163.9 189 163.7Q189.9 163.5 190.6 163.2Q191.4 163 192.2 162.7Q192.9 162.4 193.9 162.2Q194.9 162 196 162.1Q197.2 162.1 197.4 163.3Q197.7 164.4 197.8 165.4Q197.9 166.3 197.9 167.1Q197.9 167.9 197.9 168.7Q198 169.5 198.3 170.6Q198.6 171.6 198.3 172.7Z"/><path d="M222.7 35Q222.5 35.7 222 36.1Q221.5 36.5 220.8 36.8Q220.2 37 219.5 37Q218.8 37 218.2 36.9Q217.6 36.7 217.2 36.1Q216.8 35.5 216.5 35Q216.2 34.6 215.9 34.1Q215.5 33.7 215.1 33.2Q214.7 32.7 214.7 32Q214.6 31.3 215 30.8Q215.4 30.3 215.8 29.8Q216.3 29.4 216.7 28.9Q217.1 28.5 217.6 28.2Q218.2 27.9 218.9 27.7Q219.5 27.6 220.2 27.7Q220.9 27.9 221.4 28.3Q221.9 28.8 222 29.5Q222.1 30.2 222.3 30.7Q222.4 31.2 222.5 31.6Q222.5 32.1 222.6 32.6Q222.8 33.1 222.8 33.8Q222.9 34.4 222.7 35Z"/><path d="M77.1 180.8Q76.6 181.4 75.9 181.8Q75.1 182.2 74.4 182.6Q73.7 183 72.9 182.9Q72.1 182.7 71.5 182.2Q70.8 181.8 70.2 181.5Q69.7 181.1 69 180.8Q68.4 180.4 67.7 179.9Q67 179.4 66.8 178.5Q66.7 177.7 66.7 176.9Q66.8 176.1 67.1 175.3Q67.5 174.6 67.9 173.8Q68.3 173.1 69.2 173Q70.1 173 70.9 173.1Q71.6 173.2 72.2 173.3Q72.8 173.3 73.4 173.3Q74 173.2 74.8 173.3Q75.5 173.4 76.4 173.6Q77.2 173.8 77.6 174.5Q78 175.3 78.1 176.1Q78.3 176.9 78.2 177.8Q78.2 178.6 77.9 179.3Q77.6 180.1 77.1 180.8Z"/><path d="M178.2 21.8Q177.8 22.4 177.2 22.8Q176.6 23.2 176 23.4Q175.3 23.5 174.6 23.7Q173.9 23.9 173.2 23.7Q172.5 23.5 171.9 23.2Q171.3 22.9 170.9 22.3Q170.5 21.7 170.1 21.1Q169.6 20.6 169.5 19.9Q169.3 19.2 169.4 18.5Q169.5 17.8 169.8 17.2Q170.1 16.6 170.4 15.9Q170.8 15.3 171.4 15Q172 14.6 172.6 14.4Q173.2 14.1 173.9 14.1Q174.6 14.1 175.3 14.2Q176 14.2 176.5 14.7Q177 15.2 177.3 15.8Q177.6 16.4 177.9 16.9Q178.1 17.4 178.4 18Q178.7 18.5 178.9 19.2Q179.2 19.9 178.9 20.6Q178.6 21.2 178.2 21.8Z"/><path d="M30.4 30Q30 30.6 29.3 31.1Q28.7 31.6 27.9 31.7Q27.1 31.9 26.4 31.4Q25.7 30.9 25.2 30.7Q24.6 30.4 24.1 30.2Q23.5 29.9 23.1 29.6Q22.6 29.2 21.9 28.8Q21.2 28.4 20.8 27.7Q20.4 27 20.4 26.2Q20.5 25.4 20.9 24.7Q21.3 24 21.7 23.4Q22 22.7 22.9 22.7Q23.8 22.7 24.5 22.7Q25.2 22.8 25.7 22.8Q26.3 22.9 26.8 23Q27.4 23 28 23.1Q28.6 23.2 29.6 23.3Q30.5 23.3 30.8 24Q31.1 24.8 31.3 25.5Q31.5 26.3 31.6 27.1Q31.6 27.9 31.2 28.6Q30.9 29.3 30.4 30Z"/><path d="M79 147.3Q78.4 148 77.5 148Q76.5 148.1 75.7 148Q75 147.9 74.4 147.7Q73.8 147.6 73.2 147.5Q72.6 147.4 71.9 147.3Q71.3 147.3 70.6 146.9Q70 146.5 70 145.8Q70 145.1 69.8 144.5Q69.6 143.9 69.6 143.2Q69.5 142.6 69.4 141.8Q69.3 141 70 140.6Q70.7 140.2 71.3 139.9Q71.9 139.6 72.5 139.3Q73.1 139 73.8 138.6Q74.4 138.1 75 138.7Q75.6 139.3 76.1 139.8Q76.5 140.3 76.9 140.7Q77.3 141.1 77.8 141.5Q78.3 142 79 142.6Q79.7 143.2 80 144Q80.3 144.9 79.9 145.8Q79.6 146.6 79 147.3Z"/><path d="M171.1 59.6Q170.5 60.3 169.6 60.5Q168.8 60.7 168 60.8Q167.2 60.9 166.5 61Q165.8 61.1 164.9 61.3Q164 61.6 163.1 61.4Q162.2 61.2 161.8 60.3Q161.4 59.4 161.5 58.5Q161.5 57.6 161.7 56.9Q161.9 56.2 161.9 55.6Q161.8 54.9 161.8 54.3Q161.9 53.6 161.8 52.5Q161.7 51.4 162.4 50.9Q163.1 50.4 164.1 50.7Q165.1 51 165.8 51.2Q166.5 51.4 167 51.7Q167.6 51.9 168.3 52.1Q168.9 52.2 169.7 52.4Q170.6 52.6 171.3 53.1Q172 53.7 172.2 54.6Q172.5 55.5 172.4 56.4Q172.3 57.3 172 58.1Q171.8 59 171.1 59.6Z"/><path d="M2.8 115.4Q2.8 116.3 2.3 116.8Q1.7 117.4 0.9 117.7Q0.1 118 -0.7 118.2Q-1.5 118.3 -2.2 117.7Q-2.9 117.2 -3.3 116.5Q-3.7 115.8 -4.1 115.3Q-4.4 114.8 -4.7 114.3Q-5 113.8 -5.3 113.2Q-5.6 112.6 -6.1 111.9Q-6.5 111.1 -6.4 110.3Q-6.3 109.5 -5.7 108.8Q-5.2 108.2 -4.5 107.8Q-3.8 107.3 -3 107.1Q-2.3 106.8 -1.5 106.6Q-0.7 106.4 0.2 106.6Q1 106.7 1.7 107.2Q2.3 107.8 2.5 108.6Q2.7 109.5 2.6 110.2Q2.5 111 2.6 111.5Q2.7 112 2.7 112.6Q2.8 113.2 2.8 113.8Q2.8 114.5 2.8 115.4Z"/><path d="M220.6 4.9Q219.9 5.2 219.4 5.4Q218.8 5.6 218.3 5.9Q217.8 6.2 217.2 6.5Q216.7 6.8 215.9 7.1Q215.1 7.4 214.4 7.1Q213.7 6.7 213.2 6Q212.8 5.4 212.8 4.6Q212.8 3.8 212.7 3.2Q212.7 2.6 212.6 1.9Q212.4 1.3 212.4 0.5Q212.3 -0.3 212.7 -1Q213.1 -1.6 213.8 -2Q214.4 -2.5 215.1 -2.8Q215.8 -3.2 216.6 -2.7Q217.3 -2.3 217.9 -1.9Q218.4 -1.6 219 -1.3Q219.5 -1.1 220 -0.7Q220.6 -0.4 221.4 -0Q222.1 0.4 222.3 1.1Q222.4 1.9 222.3 2.6Q222.1 3.4 221.7 4Q221.4 4.7 220.6 4.9Z"/><path d="M140.2 25.4Q140.1 26.2 139.7 27.2Q139.4 28.3 138.5 29Q137.7 29.8 136.5 30Q135.4 30.1 134.3 29.8Q133.2 29.6 132.7 28.5Q132.1 27.3 131.8 26.4Q131.5 25.5 131.4 24.7Q131.3 23.9 131.1 23.2Q130.9 22.5 130.7 21.7Q130.5 20.9 130.5 20Q130.5 19.1 131.3 18.6Q132 18.1 132.8 17.9Q133.5 17.6 134.2 17.4Q134.9 17.2 135.7 16.7Q136.4 16.2 137.5 15.7Q138.6 15.2 139.5 15.7Q140.5 16.1 141.2 16.9Q141.9 17.7 141.7 18.9Q141.5 20.1 141.3 20.9Q141.1 21.8 140.9 22.5Q140.6 23.1 140.5 23.8Q140.4 24.5 140.2 25.4Z"/><path d="M110.3 136.7Q109.7 137.1 109.2 137.4Q108.6 137.8 108.1 138.3Q107.6 138.9 106.8 139.5Q106.1 140.2 105.2 139.8Q104.4 139.5 103.8 138.9Q103.2 138.4 102.4 137.9Q101.7 137.5 101.1 136.8Q100.6 136.1 100.4 135.2Q100.2 134.3 100.3 133.4Q100.3 132.5 100.6 131.7Q100.9 130.8 101.5 130.1Q102 129.3 102.7 128.8Q103.4 128.2 104.3 128Q105.2 127.8 106.1 127.5Q107 127.1 107.7 128Q108.4 129 108.9 129.5Q109.4 130.1 109.7 130.7Q110.1 131.2 110.4 131.8Q110.8 132.3 111.1 132.9Q111.5 133.5 112 134.4Q112.5 135.2 111.7 135.7Q110.9 136.3 110.3 136.7Z"/><path d="M63 180.5Q62.4 180.8 62 181Q61.5 181.2 61.1 181.4Q60.6 181.6 60.1 181.9Q59.6 182.2 58.9 182.5Q58.2 182.8 57.5 182.5Q56.8 182.3 56.2 181.8Q55.6 181.4 55.3 180.7Q55 180 54.8 179.3Q54.6 178.6 54.7 177.8Q54.8 177.1 55.1 176.4Q55.4 175.7 55.8 175.1Q56.2 174.5 56.9 174.3Q57.7 174.2 58.3 174.1Q59 174 59.6 174Q60.2 174 60.8 173.9Q61.5 173.8 62.3 173.9Q63 174 63.5 174.6Q64 175.1 64.4 175.7Q64.8 176.3 64.9 177.1Q65 177.8 65 178.6Q64.9 179.3 64.2 179.7Q63.5 180.2 63 180.5Z"/><path d="M160 19.4Q159.5 19.8 159 20.1Q158.4 20.4 157.9 20.8Q157.3 21.2 156.7 21.3Q156 21.5 155.4 21.1Q154.8 20.7 154.4 20.2Q154 19.7 153.6 19.4Q153.2 19 152.7 18.6Q152.2 18.2 151.6 17.6Q151 17 150.6 16.1Q150.2 15.3 150.9 14.6Q151.6 14 152.1 13.5Q152.6 12.9 153.2 12.4Q153.8 11.9 154.4 11.4Q155.1 10.9 155.9 10.8Q156.8 10.7 157.6 10.8Q158.5 10.9 159.2 11.4Q160 11.8 160.4 12.6Q160.8 13.3 161.3 13.9Q161.9 14.6 162.1 15.4Q162.4 16.2 162.3 17.1Q162.1 17.9 161.3 18.4Q160.5 18.9 160 19.4Z"/><path d="M141 65.2Q140.5 66.2 139.3 66.3Q138.2 66.5 137.3 66.6Q136.4 66.7 135.5 66.7Q134.6 66.6 133.8 66.5Q133 66.4 132 66.2Q131 66.1 129.9 65.8Q128.9 65.4 128.4 64.4Q127.9 63.4 127.7 62.3Q127.6 61.3 127.6 60.2Q127.6 59.1 128.1 58.1Q128.6 57.2 129.1 56.2Q129.6 55.2 130.8 55.1Q131.9 54.9 132.9 55Q133.9 55 134.7 55.1Q135.5 55.2 136.3 55.2Q137.1 55.3 138 55.5Q138.9 55.6 140 56Q141 56.3 141.6 57.2Q142.1 58.1 142.4 59.2Q142.6 60.2 142.5 61.3Q142.4 62.3 142 63.3Q141.6 64.3 141 65.2Z"/><path d="M22.4 92.2Q22.3 92.7 22.1 93.4Q22 94.2 21.4 94.6Q20.8 95 20.1 95.1Q19.4 95.1 18.8 95Q18.1 94.9 17.4 94.5Q16.8 94.2 16.3 93.7Q15.8 93.2 15.5 92.6Q15.2 91.9 15 91.3Q14.8 90.6 15.2 89.9Q15.7 89.3 16.3 89Q16.8 88.6 17.2 88.3Q17.6 88.1 18 87.8Q18.4 87.6 18.7 87.3Q19.1 87 19.6 86.6Q20.1 86.2 20.8 85.9Q21.5 85.6 22.1 86Q22.7 86.3 23.2 86.8Q23.7 87.3 23.6 88.1Q23.5 88.8 23.4 89.4Q23.2 90 23.1 90.4Q22.9 90.9 22.8 91.3Q22.6 91.7 22.4 92.2Z"/><path d="M122.4 161.8Q121.9 162.2 121.4 162.6Q120.9 162.9 120.4 163.4Q119.9 164 119.1 164.7Q118.4 165.3 117.6 165Q116.8 164.7 116 164.3Q115.3 164 114.7 163.3Q114.1 162.7 113.8 161.9Q113.6 161.1 113.6 160.3Q113.6 159.5 113.6 158.8Q113.7 158 113.6 157.1Q113.5 156.2 114.4 155.9Q115.3 155.6 116.1 155.5Q116.8 155.4 117.4 155.3Q118 155.3 118.6 155.1Q119.2 154.9 119.9 154.8Q120.5 154.7 121.5 154.5Q122.5 154.4 123.1 154.9Q123.7 155.5 124.1 156.3Q124.5 157.1 124.7 157.9Q124.8 158.7 124.6 159.5Q124.3 160.3 123.6 160.8Q122.8 161.3 122.4 161.8Z"/><path d="M107.2 123.4Q107 124.5 106.1 125.2Q105.3 125.8 104.3 126.1Q103.2 126.3 102.2 126.4Q101.2 126.5 100.3 125.9Q99.4 125.3 98.9 124.5Q98.4 123.7 97.9 123Q97.4 122.4 97 121.8Q96.7 121.1 96 120.4Q95.4 119.6 95.4 118.7Q95.5 117.8 95.8 117Q96.1 116.1 96.6 115.4Q97.1 114.6 97.7 113.7Q98.3 112.9 99.3 113Q100.4 113.2 101.3 113.4Q102.1 113.5 102.9 113.7Q103.7 113.8 104.5 114.1Q105.4 114.3 106.4 114.6Q107.5 114.9 108.1 115.8Q108.7 116.6 108.9 117.7Q109.2 118.7 108.7 119.7Q108.3 120.6 107.8 121.5Q107.4 122.4 107.2 123.4Z"/><path d="M45.1 7.2Q44.4 7.5 44 7.8Q43.5 8.1 43 8.3Q42.5 8.5 42 8.8Q41.4 9.2 40.7 9.2Q40 9.3 39.7 8.5Q39.5 7.8 39.2 7.3Q39 6.8 38.7 6.4Q38.5 6 38.3 5.5Q38.1 5 37.8 4.4Q37.5 3.8 37.4 3.1Q37.2 2.3 37.6 1.7Q38.1 1.1 38.7 0.8Q39.4 0.4 40 0Q40.6 -0.3 41.3 0Q42 0.3 42.5 0.8Q43 1.2 43.5 1.5Q43.9 1.9 44.4 2.2Q44.8 2.5 45.3 2.9Q45.8 3.3 46.3 3.8Q46.9 4.4 46.8 5.1Q46.7 5.9 46.2 6.4Q45.7 7 45.1 7.2Z"/><path d="M38.4 70Q37.9 70.3 37.5 70.4Q37.1 70.6 36.7 70.9Q36.3 71.2 35.7 71.6Q35.2 71.9 34.5 72.2Q33.8 72.4 33.2 72.1Q32.6 71.7 32 71.3Q31.4 70.9 31 70.3Q30.5 69.7 30.6 68.9Q30.6 68.2 30.6 67.5Q30.5 66.7 30.9 66.1Q31.4 65.6 32 65.3Q32.7 65 33.2 64.7Q33.7 64.5 34.2 64.3Q34.7 64.1 35.3 63.7Q35.9 63.4 36.5 63.5Q37.1 63.7 37.5 64.2Q37.9 64.6 38.3 65Q38.7 65.4 39.3 65.8Q40 66.2 40.4 66.8Q40.8 67.5 40.6 68.2Q40.3 68.9 39.6 69.3Q38.9 69.7 38.4 70Z"/><path d="M95.5 116.1Q95 116.8 94.5 117.6Q94 118.5 92.9 118.1Q91.9 117.8 91.1 117.5Q90.4 117.3 89.7 117Q89.1 116.8 88.3 116.8Q87.5 116.8 86.6 116.5Q85.7 116.2 85.7 115.3Q85.6 114.4 85.7 113.6Q85.7 112.8 85.8 112.1Q85.9 111.4 86 110.7Q86 109.9 86.3 109.1Q86.6 108.4 87.5 108.2Q88.4 108.1 89.1 108.1Q89.8 108 90.4 107.8Q91.1 107.6 91.8 107.5Q92.6 107.5 93.5 107.5Q94.4 107.6 94.8 108.4Q95.2 109.1 95.8 109.8Q96.4 110.4 97 111.2Q97.5 112 97.3 112.9Q97 113.9 96.5 114.6Q96.1 115.4 95.5 116.1Z"/><path d="M56.8 123.2Q56.6 124 56 124.5Q55.4 125.1 54.6 125.2Q53.8 125.4 53 125.6Q52.2 125.7 51.5 125.5Q50.7 125.3 49.9 125Q49.1 124.7 48.7 124Q48.2 123.4 47.7 122.7Q47.3 122 47.6 121.2Q48 120.3 48 119.7Q48 119 48.1 118.3Q48.3 117.6 48.5 116.9Q48.8 116.1 49.4 115.6Q50 115.1 50.8 115.2Q51.7 115.3 52.3 115.6Q53 115.8 53.5 116Q54.1 116.3 54.7 116.3Q55.4 116.4 56.2 116.6Q56.9 116.8 57.3 117.5Q57.7 118.1 57.7 118.9Q57.7 119.7 57.4 120.3Q57.2 121 57.1 121.7Q57 122.4 56.8 123.2Z"/><path d="M74.4 28.8Q74.2 29.6 73.8 30.5Q73.4 31.3 72.5 31.5Q71.6 31.8 70.7 31.9Q69.8 32.1 69.1 31.4Q68.4 30.7 68 30Q67.6 29.4 67.2 28.9Q66.8 28.4 66.5 27.8Q66.1 27.3 65.7 26.7Q65.2 26.1 64.6 25.2Q64.1 24.4 64.4 23.5Q64.7 22.6 65.3 21.9Q65.8 21.2 66.7 20.9Q67.6 20.6 68.3 20.4Q69.1 20.2 69.9 19.8Q70.8 19.4 71.7 19.6Q72.6 19.7 73.3 20.2Q74.1 20.7 74.8 21.3Q75.5 21.9 75.8 22.7Q76.2 23.5 75.9 24.4Q75.7 25.3 75.5 26.1Q75.2 26.8 74.9 27.4Q74.6 28.1 74.4 28.8Z"/><path d="M118.7 75.6Q118.2 76.4 117.8 77.5Q117.5 78.7 116.4 78.9Q115.3 79.2 114.3 79.3Q113.2 79.4 112.4 78.7Q111.5 78 111 77.1Q110.5 76.2 110.1 75.6Q109.7 74.9 109.4 74.3Q109 73.7 108.6 73Q108.2 72.3 107.5 71.4Q106.9 70.4 107 69.4Q107.1 68.3 108.2 67.9Q109.3 67.4 110.2 67.3Q111.2 67.1 111.9 67Q112.7 67 113.4 66.8Q114.2 66.6 115 66.6Q115.8 66.6 116.9 66.4Q118 66.3 119 66.8Q119.9 67.4 120.4 68.4Q120.9 69.3 121 70.4Q121 71.4 120.4 72.3Q119.7 73.2 119.4 74.1Q119.2 74.9 118.7 75.6Z"/><path d="M217.1 111.9Q217.1 112.7 216.5 113.1Q216 113.5 215.3 113.8Q214.7 114.1 214 114Q213.3 114 212.6 113.9Q212 113.7 211.4 113.3Q210.8 113 210.3 112.5Q209.8 112.1 209.6 111.5Q209.4 110.8 209.1 110.2Q208.9 109.6 208.9 108.9Q208.9 108.2 209.2 107.6Q209.5 106.9 209.9 106.4Q210.3 105.8 210.9 105.6Q211.5 105.3 212.1 105Q212.7 104.8 213.4 104.5Q214 104.3 214.7 104.5Q215.3 104.8 215.9 105.1Q216.5 105.5 216.9 106Q217.4 106.5 217.6 107.1Q217.8 107.7 217.7 108.3Q217.6 109 217.4 109.5Q217.3 110 217.2 110.6Q217.2 111.2 217.1 111.9Z"/><path d="M202.6 13.9Q202.3 14.2 202 14.5Q201.6 14.8 201.2 15.1Q200.9 15.4 200.3 15.9Q199.8 16.3 199.2 16.2Q198.6 16 198 15.8Q197.5 15.6 197 15.1Q196.6 14.7 196.3 14.1Q196.1 13.5 196.2 12.9Q196.2 12.3 196.1 11.7Q196 11.1 196.1 10.5Q196.2 9.9 196.6 9.4Q197 8.9 197.5 8.6Q198 8.2 198.7 8.2Q199.3 8.3 199.8 8.6Q200.3 9 200.7 9.2Q201.1 9.4 201.4 9.7Q201.7 9.9 202.1 10.1Q202.4 10.4 202.8 10.6Q203.2 10.9 203.9 11.3Q204.6 11.7 204.3 12.3Q204 12.9 203.5 13.2Q202.9 13.6 202.6 13.9Z"/><path d="M73.4 138.2Q72.8 138.6 72.2 138.8Q71.7 139 71.2 139.3Q70.7 139.6 70.2 139.9Q69.6 140.3 68.9 140.1Q68.3 140 67.8 139.6Q67.3 139.2 66.9 138.7Q66.5 138.2 66 137.8Q65.4 137.4 65.2 136.7Q65 136 65.1 135.4Q65.1 134.7 65.4 134Q65.7 133.4 66.1 132.8Q66.4 132.2 67.1 132Q67.8 131.7 68.4 131.6Q69 131.4 69.6 131.2Q70.3 131 71 131Q71.7 131 72 131.7Q72.3 132.5 72.6 133Q72.8 133.6 72.9 134Q73.1 134.5 73.2 135Q73.4 135.5 73.5 136Q73.7 136.5 73.8 137.2Q74 137.9 73.4 138.2Z"/><path d="M207.3 47.5Q207 47.9 206.5 48.3Q206.1 48.7 205.5 48.8Q204.9 48.9 204.3 49Q203.8 49.1 203.2 49Q202.6 48.9 202.1 48.6Q201.6 48.3 201.3 47.9Q201 47.4 200.6 46.9Q200.3 46.5 200.1 45.9Q199.9 45.3 200 44.7Q200.1 44.2 200.5 43.7Q200.9 43.3 201.1 42.8Q201.4 42.3 201.7 41.8Q202 41.3 202.6 41.1Q203.2 41 203.8 41.1Q204.4 41.3 204.7 41.8Q205.1 42.2 205.4 42.5Q205.7 42.8 206.1 43.1Q206.4 43.3 206.7 43.6Q207.1 43.9 207.6 44.4Q208.1 44.8 208.2 45.4Q208.3 46 207.9 46.5Q207.6 47 207.3 47.5Z"/><path d="M119.8 15.5Q119.1 15.9 118.5 16.1Q117.9 16.3 117.4 16.5Q116.9 16.7 116.3 17.1Q115.7 17.4 115 17.6Q114.2 17.7 113.5 17.4Q112.9 17 112.3 16.5Q111.8 16 111.5 15.3Q111.2 14.6 111 13.9Q110.8 13.2 110.7 12.4Q110.7 11.6 110.9 10.9Q111.2 10.1 111.7 9.6Q112.2 9 113 8.8Q113.8 8.7 114.5 8.6Q115.1 8.4 115.7 8.4Q116.4 8.3 117.1 8.1Q117.9 8 118.6 8.2Q119.3 8.4 119.9 8.9Q120.5 9.5 120.9 10.2Q121.3 10.8 121.3 11.6Q121.3 12.4 121.2 13.2Q121.1 13.9 120.8 14.6Q120.5 15.2 119.8 15.5Z"/><path d="M152.1 70.8Q151.7 71.5 151 72Q150.4 72.5 149.6 72.7Q148.8 72.9 148 72.9Q147.2 73 146.6 72.4Q146 71.8 145.5 71.4Q145 71 144.5 70.6Q144 70.1 143.5 69.6Q143 69.2 142.5 68.5Q142 67.8 142.2 67Q142.3 66.3 142.6 65.5Q142.8 64.8 143.2 64.1Q143.6 63.4 144.3 63Q145 62.6 145.7 62.4Q146.5 62.3 147.2 62.6Q148 62.9 148.5 63.2Q149.1 63.5 149.7 63.7Q150.2 64 150.8 64.3Q151.5 64.6 152.3 65Q153.1 65.4 153.2 66.2Q153.3 67 153.1 67.8Q153 68.6 152.8 69.4Q152.6 70.1 152.1 70.8Z"/><path d="M188 46.9Q187.8 47.4 187.3 47.6Q186.8 47.8 186.3 47.9Q185.8 47.9 185.3 48Q184.8 48.1 184.3 48.1Q183.7 48.2 183.3 47.9Q182.8 47.7 182.4 47.3Q182.1 46.9 182 46.4Q181.8 45.9 181.7 45.4Q181.5 44.9 181.5 44.4Q181.5 43.9 181.7 43.4Q181.8 42.9 182.2 42.5Q182.6 42.2 182.9 41.7Q183.2 41.3 183.8 41.2Q184.3 41 184.8 41Q185.3 40.9 185.8 41.1Q186.4 41.2 186.8 41.5Q187.3 41.8 187.6 42.1Q188 42.5 188.2 43Q188.5 43.4 188.6 43.9Q188.7 44.4 188.6 44.9Q188.6 45.4 188.4 45.9Q188.3 46.4 188 46.9Z"/><path d="M93.2 106.3Q92.8 106.9 92 106.9Q91.2 107 90.6 107.1Q90 107.2 89.5 107.3Q88.9 107.5 88.2 107.6Q87.6 107.7 86.7 107.7Q85.9 107.7 85.5 107Q85.2 106.3 84.9 105.7Q84.5 105 84 104.4Q83.5 103.7 83.1 102.8Q82.8 101.9 83.5 101.3Q84.3 100.6 85 100.2Q85.6 99.7 86.2 99.3Q86.8 99 87.4 98.4Q88 97.9 88.9 97.3Q89.7 96.6 90.6 96.9Q91.5 97.2 92.1 97.9Q92.8 98.5 92.9 99.5Q92.9 100.5 93.1 101.2Q93.2 101.8 93.3 102.4Q93.3 103 93.5 103.6Q93.7 104.3 93.7 105Q93.7 105.8 93.2 106.3Z"/><path d="M225.3 76.8Q225 77.4 224.4 77.7Q223.9 78 223.2 78.1Q222.6 78.1 222 78.3Q221.4 78.5 220.8 78.4Q220.1 78.3 219.6 77.9Q219.1 77.6 218.6 77.2Q218.1 76.8 217.8 76.2Q217.6 75.6 217.5 75Q217.3 74.4 217.3 73.8Q217.4 73.1 217.7 72.6Q218 72.1 218.4 71.6Q218.8 71.2 219.4 71.1Q220 71 220.5 71Q221.1 71 221.5 71Q221.9 71 222.4 71Q222.9 70.9 223.5 70.9Q224.1 70.9 224.7 71.1Q225.3 71.4 225.6 72Q225.9 72.5 226 73.2Q226.2 73.8 226.1 74.4Q226.1 75 225.8 75.6Q225.6 76.2 225.3 76.8Z"/><path d="M41.4 148.1Q41 148.6 40.5 149Q39.9 149.3 39.3 149.6Q38.7 149.8 38.1 149.7Q37.5 149.6 36.9 149.5Q36.3 149.4 35.7 149.2Q35.1 149.1 34.6 148.6Q34.1 148.2 33.8 147.6Q33.5 147 33.3 146.4Q33.1 145.8 33.3 145.1Q33.6 144.5 34.1 144.1Q34.7 143.7 35.1 143.4Q35.5 143.1 35.8 142.8Q36.2 142.5 36.6 142.1Q37 141.8 37.6 141.4Q38.1 141 38.7 141.4Q39.2 141.7 39.5 142.2Q39.8 142.7 40.2 143Q40.6 143.3 41 143.7Q41.3 144.1 41.7 144.6Q42.2 145.1 42.3 145.8Q42.4 146.4 42.1 147Q41.8 147.6 41.4 148.1Z"/><path d="M224.3 23.2Q223.9 23.6 223.6 24Q223.3 24.4 222.8 24.7Q222.3 25 221.8 25Q221.2 25 220.7 25Q220.1 24.9 219.6 24.6Q219.2 24.3 218.9 23.8Q218.7 23.3 218.7 22.8Q218.7 22.2 218.6 21.8Q218.5 21.4 218.5 20.9Q218.4 20.5 218.4 20Q218.5 19.5 218.6 18.9Q218.7 18.4 219.3 18.3Q219.9 18.2 220.4 18.2Q220.9 18.2 221.3 18.2Q221.7 18.3 222.2 18.2Q222.7 18.1 223.3 18.1Q223.9 18 224.3 18.4Q224.7 18.8 224.9 19.3Q225.2 19.8 225.3 20.4Q225.4 20.9 225.3 21.5Q225.3 22 224.9 22.4Q224.6 22.9 224.3 23.2Z"/></g><path fill="#3a3040" opacity="0.8" d="M47 124.1a0.9 0.9 0 1 0 0.01 0ZM29.5 149.2a1.1 1.1 0 1 0 0.01 0ZM112.1 86.9a0.6 0.6 0 1 0 0.01 0ZM20.6 133.2a1.4 1.4 0 1 0 0.01 0ZM136.8 30.9a1 1 0 1 0 0.01 0ZM77.9 149a0.9 0.9 0 1 0 0.01 0ZM191.9 134.1a1.2 1.2 0 1 0 0.01 0ZM60.6 134.6a0.9 0.9 0 1 0 0.01 0ZM178.4 93.1a1 1 0 1 0 0.01 0ZM178.5 92.8a1 1 0 1 0 0.01 0ZM139.8 153.5a1.1 1.1 0 1 0 0.01 0ZM177.5 164a1 1 0 1 0 0.01 0ZM129.4 136.7a0.9 0.9 0 1 0 0.01 0ZM132.4 136.8a0.5 0.5 0 1 0 0.01 0ZM115.1 112a1 1 0 1 0 0.01 0ZM192.5 115.1a1 1 0 1 0 0.01 0ZM171.8 53.1a0.7 0.7 0 1 0 0.01 0ZM128.1 113.9a0.9 0.9 0 1 0 0.01 0ZM172.1 90.6a1.2 1.2 0 1 0 0.01 0ZM46.4 124.1a0.7 0.7 0 1 0 0.01 0ZM3.1 142.5a1.4 1.4 0 1 0 0.01 0ZM183.6 167.2a0.6 0.6 0 1 0 0.01 0ZM124.1 157.9a1 1 0 1 0 0.01 0ZM112.4 157.8a0.6 0.6 0 1 0 0.01 0ZM10.3 16.7a0.8 0.8 0 1 0 0.01 0ZM130.2 54.3a1.2 1.2 0 1 0 0.01 0ZM174.8 12.5a1.2 1.2 0 1 0 0.01 0ZM125.9 0.3a0.9 0.9 0 1 0 0.01 0ZM64 132.7a0.6 0.6 0 1 0 0.01 0ZM56.5 82a1 1 0 1 0 0.01 0ZM7.5 125.2a1.2 1.2 0 1 0 0.01 0ZM109.4 14.5a1.3 1.3 0 1 0 0.01 0ZM141.2 141.6a0.8 0.8 0 1 0 0.01 0ZM173.1 13.3a0.9 0.9 0 1 0 0.01 0ZM163.1 33.8a1 1 0 1 0 0.01 0ZM3.3 142.2a1.3 1.3 0 1 0 0.01 0ZM64.3 132.6a0.7 0.7 0 1 0 0.01 0ZM141.4 104a0.7 0.7 0 1 0 0.01 0ZM6.1 136.4a0.6 0.6 0 1 0 0.01 0ZM115 66.2a1.1 1.1 0 1 0 0.01 0ZM166.2 0.6a0.6 0.6 0 1 0 0.01 0ZM175 12a1.2 1.2 0 1 0 0.01 0ZM140.9 148.8a1 1 0 1 0 0.01 0ZM99.1 36.9a0.8 0.8 0 1 0 0.01 0ZM36.3 129.6a0.6 0.6 0 1 0 0.01 0ZM57.4 117a0.9 0.9 0 1 0 0.01 0ZM198.6 137.7a0.7 0.7 0 1 0 0.01 0ZM195.9 119.6a1.3 1.3 0 1 0 0.01 0ZM31.8 148.2a1.3 1.3 0 1 0 0.01 0ZM196.8 120.5a1.4 1.4 0 1 0 0.01 0ZM131.2 159.6a0.8 0.8 0 1 0 0.01 0ZM126 116.1a1 1 0 1 0 0.01 0ZM212.3 88.4a0.7 0.7 0 1 0 0.01 0ZM173.3 13.6a0.9 0.9 0 1 0 0.01 0ZM211.2 115.7a0.9 0.9 0 1 0 0.01 0ZM120.4 65.5a1 1 0 1 0 0.01 0ZM199.2 137.6a0.6 0.6 0 1 0 0.01 0ZM214 70.2a0.7 0.7 0 1 0 0.01 0ZM54.3 126a1.1 1.1 0 1 0 0.01 0ZM168.6 146.1a1.3 1.3 0 1 0 0.01 0ZM124.6 155.4a1 1 0 1 0 0.01 0ZM138.4 138.4a1.2 1.2 0 1 0 0.01 0ZM174.4 12.2a0.7 0.7 0 1 0 0.01 0ZM171.8 13.5a0.7 0.7 0 1 0 0.01 0ZM123.9 156.3a0.9 0.9 0 1 0 0.01 0ZM178.1 169.1a0.6 0.6 0 1 0 0.01 0ZM44.4 125.6a1 1 0 1 0 0.01 0ZM177.5 5.7a0.6 0.6 0 1 0 0.01 0ZM25.1 157a0.8 0.8 0 1 0 0.01 0ZM0.9 150.6a0.6 0.6 0 1 0 0.01 0ZM117.7 105a0.9 0.9 0 1 0 0.01 0ZM120.7 37.3a1.2 1.2 0 1 0 0.01 0ZM173.9 11.5a0.6 0.6 0 1 0 0.01 0ZM197.6 121.2a1.2 1.2 0 1 0 0.01 0ZM208.1 109.5a0.5 0.5 0 1 0 0.01 0ZM17.8 19.4a0.5 0.5 0 1 0 0.01 0ZM47.6 125a1 1 0 1 0 0.01 0ZM55 127.3a0.9 0.9 0 1 0 0.01 0ZM173.8 5.7a0.9 0.9 0 1 0 0.01 0ZM125.6 65a1.1 1.1 0 1 0 0.01 0ZM18.7 123.7a0.6 0.6 0 1 0 0.01 0ZM54.9 127.8a0.8 0.8 0 1 0 0.01 0ZM151.4 64.7a0.8 0.8 0 1 0 0.01 0ZM1.7 63.2a0.8 0.8 0 1 0 0.01 0ZM180.1 43.1a0.8 0.8 0 1 0 0.01 0ZM43.7 105.3a0.7 0.7 0 1 0 0.01 0ZM-0.6 68.7a0.8 0.8 0 1 0 0.01 0ZM21.3 137.5a0.6 0.6 0 1 0 0.01 0ZM192.4 115.6a1.1 1.1 0 1 0 0.01 0ZM198.3 122.6a1.3 1.3 0 1 0 0.01 0ZM195 118.2a0.9 0.9 0 1 0 0.01 0ZM27.7 54a1.1 1.1 0 1 0 0.01 0ZM131.6 159.2a0.6 0.6 0 1 0 0.01 0ZM197.4 124.4a1 1 0 1 0 0.01 0ZM202.9 119.7a0.6 0.6 0 1 0 0.01 0ZM108.3 115.7a0.7 0.7 0 1 0 0.01 0ZM195.5 57.5a1.1 1.1 0 1 0 0.01 0ZM108 117.1a1.2 1.2 0 1 0 0.01 0ZM105.8 151.5a1.2 1.2 0 1 0 0.01 0ZM14.8 136.7a1.4 1.4 0 1 0 0.01 0ZM56.9 116.9a1.2 1.2 0 1 0 0.01 0ZM193.3 64.9a0.9 0.9 0 1 0 0.01 0ZM53.7 126.2a1.3 1.3 0 1 0 0.01 0ZM97.5 63.9a0.5 0.5 0 1 0 0.01 0ZM124.2 65a0.5 0.5 0 1 0 0.01 0ZM112.4 86.3a1.2 1.2 0 1 0 0.01 0ZM97 66.1a0.8 0.8 0 1 0 0.01 0ZM193.4 70.7a1 1 0 1 0 0.01 0ZM130.1 158.3a1.2 1.2 0 1 0 0.01 0ZM156.8 6.7a1.1 1.1 0 1 0 0.01 0Z"/><rect width="216" height="171" fill="url(#gcd)"/></g></svg>
<rect x="13" y="27" width="218" height="173" fill="none" stroke="#000" stroke-width="2"/>
<line x1="153.1" y1="180.2" x2="202.8" y2="180.2" stroke="#1a1a1a" stroke-width="1.8"/>
<text x="348.5" y="19.5" font-size="14.5" text-anchor="middle" fill="#111">HFD</text>
<svg x="241" y="28" width="215" height="171" viewBox="0 0 215 171" overflow="hidden"><defs><filter id="blhfd" x="0" y="0" width="1" height="1"><feGaussianBlur stdDeviation="0.45"/></filter></defs><g filter="url(#blhfd)"><defs><linearGradient id="ghfd" x1="0" y1="0" x2="0" y2="1"><stop offset="0" stop-color="#f2d8da" stop-opacity="0"/><stop offset="0.75" stop-color="#f2d8da" stop-opacity="0.0"/><stop offset="1" stop-color="#f2d8da" stop-opacity="0.45"/></linearGradient></defs><rect width="215" height="171" fill="#dcc4aa"/><defs><radialGradient id="rghfd" cx="0.5" cy="0.5" r="0.5"><stop offset="0" stop-color="#f6f5ee"/><stop offset="0.7" stop-color="#f1f0e5"/><stop offset="1" stop-color="#e4decf"/></radialGradient></defs><g fill="url(#rghfd)" stroke="#b08466" stroke-width="0.7"><path d="M61.8 3.3Q60.1 6.3 58.5 9.2Q57 12.1 54.9 15Q52.8 17.9 49.3 18.4Q45.8 19 42.5 19.3Q39.3 19.7 35.7 20.3Q32.1 21 27.3 21.6Q22.6 22.3 21.3 17.7Q19.9 13.2 18.9 9.7Q18 6.1 17.7 2.8Q17.4 -0.5 16.8 -3.8Q16.2 -7 17.3 -10.2Q18.4 -13.4 19.9 -16.4Q21.4 -19.5 23 -23.4Q24.6 -27.3 27.1 -32.9Q29.7 -38.5 34.9 -44.2Q40.1 -49.8 46.6 -48.7Q53.1 -47.5 55.2 -38.9Q57.2 -30.2 59.3 -26.1Q61.4 -21.9 63 -18.2Q64.6 -14.5 65.5 -10.7Q66.3 -6.9 64.9 -3.3Q63.4 0.3 61.8 3.3Z"/><path d="M201.7 117.5Q200 120.2 198.3 122.6Q196.5 125.1 195 128.3Q193.6 131.5 190.1 131.7Q186.6 131.8 183.6 132.4Q180.6 133 177.4 133.1Q174.1 133.2 170.3 133.1Q166.5 133 165.1 129.4Q163.6 125.8 161.7 123.1Q159.8 120.5 158.4 117.4Q157.1 114.3 156 110.7Q155 107.1 157.3 104.2Q159.6 101.2 161.8 98.7Q164 96.2 166.2 93.8Q168.5 91.4 171.7 90.7Q175 90.1 178 89.7Q181.1 89.3 184.4 89.2Q187.7 89.1 190.8 90.3Q193.9 91.5 196.4 93.7Q198.9 95.9 200.1 99.1Q201.2 102.2 201.5 105.3Q201.8 108.4 202.6 111.6Q203.3 114.7 201.7 117.5Z"/><path d="M61.6 93.3Q61 96.4 58 98Q55 99.5 52.8 101.1Q50.6 102.7 48.3 104.4Q46 106.1 43.1 107.7Q40.3 109.4 37.4 108Q34.5 106.6 32 105Q29.5 103.5 26.7 102.2Q23.8 100.9 21.7 98.5Q19.5 96.1 19.2 92.8Q18.8 89.6 18.6 86.4Q18.5 83.3 19.6 80.4Q20.8 77.4 23.2 75.4Q25.5 73.4 27.5 71.2Q29.5 69.1 31.8 66.3Q34 63.5 37.4 63.2Q40.9 62.9 43.8 64.8Q46.7 66.7 49 68.6Q51.2 70.6 53.7 72.1Q56.1 73.6 58.9 75.5Q61.6 77.4 62.7 80.6Q63.9 83.7 63 86.9Q62.2 90.1 61.6 93.3Z"/><path d="M20.3 134.2Q17.4 136.8 15 138.6Q12.5 140.4 10.7 142.7Q9 144.9 6.5 146.6Q4 148.3 1 148.6Q-2 148.9 -4.9 148Q-7.7 147 -10.2 145.6Q-12.7 144.2 -15.9 143.3Q-19.1 142.3 -23.1 140.6Q-27.1 138.9 -34.4 135.9Q-41.7 133 -36.7 128Q-31.8 123 -27.2 120.4Q-22.7 117.9 -19.6 116.3Q-16.5 114.7 -14.3 113Q-12 111.3 -9.6 109.9Q-7.2 108.6 -4.3 107.5Q-1.5 106.5 1.5 106.9Q4.5 107.3 7.7 108Q10.8 108.6 12.7 111.2Q14.6 113.8 15.8 116.6Q16.9 119.5 18.2 122.2Q19.5 124.9 21.3 128.3Q23.2 131.6 20.3 134.2Z"/><path d="M135.1 135.2Q135.4 138.6 133.2 141.1Q131.1 143.6 128.5 145.3Q125.8 147.1 123.2 148.9Q120.5 150.8 117.3 151.1Q114 151.3 111 150.5Q107.9 149.7 104.8 148.7Q101.7 147.8 99.5 145.4Q97.3 143 96.1 140.2Q94.9 137.3 95 134.2Q95.1 131.2 94.4 128.3Q93.7 125.5 95 122.8Q96.3 120.2 98.2 118.1Q100.2 116.1 102.1 114.2Q104.1 112.4 106.4 110.6Q108.8 108.9 111.7 107.6Q114.6 106.3 117.7 106.8Q120.9 107.4 124.6 107.3Q128.4 107.3 131.3 109.6Q134.2 111.8 134.7 115.7Q135.1 119.5 134.9 122.7Q134.8 126 134.8 128.9Q134.9 131.9 135.1 135.2Z"/><path d="M20.9 35.2Q20.6 39 17 40.9Q13.4 42.8 10.7 44.7Q8.1 46.6 4.9 47Q1.8 47.5 -1.2 46.8Q-4.1 46.2 -6.7 45.7Q-9.3 45.2 -12.2 44.9Q-15.1 44.6 -18.7 43.8Q-22.2 43 -27.5 41.7Q-32.8 40.3 -37.3 36.4Q-41.9 32.5 -38.6 27.5Q-35.4 22.6 -30.3 20Q-25.2 17.4 -21.9 15.9Q-18.7 14.3 -16.1 13.1Q-13.6 11.9 -11.2 11Q-8.8 10 -6.2 8.9Q-3.6 7.8 -1.1 9.1Q1.4 10.4 3.8 11.4Q6.2 12.4 8.9 13.4Q11.6 14.5 15.4 15.9Q19.3 17.3 20.7 20.7Q22.2 24.1 21.7 27.8Q21.2 31.4 20.9 35.2Z"/><path d="M120.4 9Q118.6 11.2 117.4 13.4Q116.1 15.7 114.7 18.1Q113.2 20.6 111 23Q108.7 25.4 105.6 24.9Q102.4 24.3 99.6 23.4Q96.9 22.5 94.1 21.8Q91.3 21 89.7 18.4Q88.2 15.9 87.1 13.5Q85.9 11.1 85.3 8.6Q84.6 6.1 82.9 3.2Q81.3 0.4 83.7 -1.9Q86 -4.1 87.9 -5.9Q89.9 -7.7 91.6 -9.4Q93.4 -11.1 95.5 -12.8Q97.5 -14.6 100.2 -16.9Q102.9 -19.2 105.6 -16.9Q108.3 -14.6 110.3 -12.7Q112.3 -10.9 114.2 -9.3Q116.1 -7.7 118.1 -5.8Q120.2 -4 123.4 -1.7Q126.6 0.6 124.4 3.7Q122.2 6.8 120.4 9Z"/><path d="M167.6 88.2Q167.2 90.8 165.7 93.1Q164.2 95.3 162.4 97.3Q160.6 99.4 158.3 101.4Q156 103.5 153 104.7Q150 106 146.6 105.9Q143.2 105.9 139.1 105.8Q135.1 105.7 134.2 101.5Q133.2 97.2 132.8 94Q132.5 90.7 131.8 88Q131.1 85.3 130.5 82.5Q129.9 79.7 129.3 76.1Q128.6 72.6 130.9 70.2Q133.3 67.8 135.7 65.7Q138.2 63.6 141.6 63.8Q145 64.1 147.7 64.4Q150.5 64.7 152.9 65.3Q155.4 66 158 66.6Q160.5 67.2 162.7 68.9Q164.8 70.5 165.7 73.1Q166.6 75.6 167.3 78Q167.9 80.5 168 83.1Q168.1 85.6 167.6 88.2Z"/><path d="M240.1 110.4Q235.8 112.5 233.3 113.8Q230.7 115.2 229 116.8Q227.2 118.4 225.1 119.6Q223.1 120.9 220.6 122.1Q218.2 123.3 215.8 121.9Q213.4 120.6 211.3 119.3Q209.3 118.1 207 116.9Q204.8 115.7 203.7 113.5Q202.6 111.2 202.2 108.8Q201.7 106.4 201.6 104Q201.5 101.6 201.1 98.8Q200.8 95.9 202.9 94.1Q205 92.3 207.2 91.1Q209.4 89.9 211.5 88.5Q213.6 87 216.1 85.4Q218.6 83.9 221.7 83.8Q224.7 83.7 227.3 85.3Q229.8 86.9 232.8 88.3Q235.7 89.6 239.9 91.2Q244.1 92.9 249 96.2Q253.8 99.6 249.1 103.9Q244.4 108.3 240.1 110.4Z"/><path d="M176.3 54.1Q175.9 57 173.8 59.1Q171.8 61.2 169.7 63.2Q167.6 65.1 165 66.2Q162.3 67.3 159.5 66.8Q156.7 66.3 154.2 65.8Q151.7 65.3 149.2 64.4Q146.7 63.5 143.7 62.7Q140.6 61.9 139.5 59.1Q138.4 56.3 137.8 53.5Q137.2 50.7 137.5 47.9Q137.8 45.1 137.6 42Q137.4 38.9 139.7 36.8Q142 34.8 143.9 32.5Q145.7 30.1 148.6 29.5Q151.5 28.8 154.4 28.6Q157.2 28.4 159.8 29.4Q162.4 30.4 164.6 31.7Q166.9 33 168.7 34.8Q170.5 36.6 172.5 38.5Q174.5 40.3 175.8 42.9Q177.1 45.4 176.9 48.3Q176.7 51.2 176.3 54.1Z"/><path d="M95.9 142.1Q96.6 145.4 95.2 148.2Q93.8 151.1 91.6 153.6Q89.4 156.1 85.9 156.2Q82.5 156.3 79.5 156.1Q76.6 155.9 73.7 155.9Q70.8 155.8 68.7 153.6Q66.7 151.3 65 149.4Q63.4 147.4 61.8 145.4Q60.2 143.4 60.1 140.8Q60 138.2 59.6 135.8Q59.3 133.3 59.5 130.6Q59.6 127.9 61.2 125.7Q62.7 123.5 64.7 121.6Q66.6 119.7 68.8 117.4Q70.9 115 74 114.3Q77.1 113.5 80.1 114.6Q83.1 115.7 85.5 117.5Q87.9 119.3 90.1 121.1Q92.3 122.9 93.1 125.7Q93.8 128.5 93.9 131.1Q94 133.8 94.6 136.3Q95.2 138.9 95.9 142.1Z"/><path d="M227.1 156.2Q225.9 158.3 224.5 160.1Q223 161.8 221.7 163.9Q220.4 165.9 218.2 167.2Q216.1 168.5 213.6 168.1Q211.1 167.7 208.7 167.7Q206.3 167.7 204 166.9Q201.6 166.1 200.3 164Q198.9 162 197.5 160.1Q196.1 158.2 195 156Q194 153.7 193.5 151.2Q193.1 148.6 194.1 146.2Q195.1 143.8 196.2 141.4Q197.3 139 200 138.3Q202.6 137.5 204.8 136.8Q207 136.1 209.3 135.7Q211.5 135.3 214.1 134.7Q216.7 134 218.3 136.3Q219.8 138.5 221.7 139.8Q223.5 141.1 225 142.9Q226.4 144.8 228.7 146.8Q230.9 148.9 229.6 151.5Q228.3 154.1 227.1 156.2Z"/><path d="M126.5 175.6Q127.6 178.8 126.1 181.6Q124.6 184.4 123.2 188.1Q121.8 191.8 119.8 198Q117.7 204.2 112.6 205.6Q107.5 207 103 203.8Q98.4 200.6 97.1 194.3Q95.8 188 95.1 184.5Q94.4 181 93.9 178.5Q93.3 176 93.5 173.7Q93.6 171.5 92.5 169.2Q91.3 167 90.6 164Q89.9 161.1 90.6 157.9Q91.3 154.8 93.6 152.5Q95.9 150.3 99.1 149.8Q102.3 149.4 105.2 150Q108.2 150.7 111 150.6Q113.8 150.6 116.5 151.6Q119.1 152.6 120.1 155.6Q121 158.5 121.7 160.9Q122.4 163.2 123.3 165.3Q124.2 167.4 124.8 169.9Q125.4 172.3 126.5 175.6Z"/><path d="M216.3 58.2Q215.8 61.2 213.8 63.4Q211.7 65.7 208.7 66.2Q205.6 66.8 203.2 67.1Q200.7 67.5 198.4 68Q196.2 68.5 193.8 68.4Q191.4 68.4 189.4 66.9Q187.5 65.5 185.4 64.3Q183.4 63.1 180.9 61.5Q178.5 59.9 177.8 57.3Q177 54.6 177.2 51.8Q177.4 49.1 177.8 46.3Q178.2 43.5 180.1 41.3Q181.9 39.2 184.1 37.6Q186.3 35.9 188.8 34.9Q191.3 34 193.9 34.4Q196.6 34.9 198.9 35.7Q201.1 36.5 203 37.8Q204.9 39.1 206.8 40.4Q208.6 41.7 210.5 43.3Q212.3 45 213.6 47.3Q214.9 49.6 215.9 52.4Q216.9 55.2 216.3 58.2Z"/><path d="M223.3 189.1Q222.5 191.1 222.2 193.7Q222 196.4 221.1 199.7Q220.2 203 219 210Q217.8 217 213 219.1Q208.3 221.3 202.9 221Q197.6 220.7 194 216.6Q190.3 212.5 190.1 206.5Q189.8 200.6 189.9 196.7Q189.9 192.9 189.9 190Q189.9 187.1 189.7 184.3Q189.5 181.6 191.5 179.5Q193.6 177.5 194.9 175.5Q196.3 173.6 197.9 171.8Q199.6 170 201.8 169.1Q204.1 168.1 206.5 168.4Q208.9 168.6 211.3 168.6Q213.7 168.5 216.2 168.9Q218.8 169.4 220.3 171.5Q221.8 173.6 223 175.7Q224.1 177.8 224.5 180.1Q224.8 182.5 224.5 184.8Q224.2 187 223.3 189.1Z"/><path d="M20.9 184.3Q20.6 187.2 20.1 190.7Q19.5 194.2 19.3 200.2Q19.1 206.2 15.1 209.2Q11.2 212.2 6.2 212.2Q1.2 212.3 -3.5 211.4Q-8.3 210.6 -12.6 208.5Q-17 206.5 -21 203.7Q-25 200.9 -27.3 196.5Q-29.6 192.1 -30 187.3Q-30.4 182.5 -25.1 178.7Q-19.9 174.9 -17.4 172.7Q-15 170.5 -12.7 169.1Q-10.4 167.6 -8.5 166.3Q-6.7 164.9 -4.8 163.5Q-2.9 162.1 -0.5 160.9Q1.9 159.6 4.4 160.4Q6.9 161.2 9 162.6Q11.1 164.1 13.1 165.5Q15.1 167 17 168.8Q19 170.6 20.8 173.1Q22.5 175.6 21.8 178.5Q21.2 181.4 20.9 184.3Z"/><path d="M61.5 189.6Q62.6 193.1 63.5 198.3Q64.5 203.6 62.8 209Q61.2 214.5 56.1 215.7Q51 216.9 46.1 219Q41.1 221.2 36.2 218.9Q31.3 216.7 26.5 215.1Q21.6 213.5 20.1 208Q18.6 202.6 19.5 197.6Q20.3 192.6 21 189.2Q21.7 185.8 22.1 183Q22.5 180.2 22.4 177.2Q22.4 174.2 24.6 172.2Q26.9 170.2 29 168.4Q31.2 166.6 33.7 165.6Q36.3 164.5 39.1 164Q41.8 163.5 44.4 164.4Q47.1 165.4 49.2 166.9Q51.4 168.4 53.5 169.8Q55.7 171.3 57.4 173.4Q59.1 175.5 59.8 178.1Q60.5 180.7 60.4 183.4Q60.4 186.2 61.5 189.6Z"/><path d="M175.7 161Q175.2 163.3 174 165.4Q172.7 167.5 170.8 168.9Q168.8 170.3 166.7 171.6Q164.7 173 162.2 174Q159.7 174.9 157.3 173.8Q154.9 172.7 152.6 171.7Q150.4 170.7 148.7 168.9Q146.9 167.1 146.4 164.8Q145.8 162.4 145.5 160.2Q145.2 158.1 144.7 155.9Q144.3 153.7 143.9 151Q143.5 148.3 144.2 145.6Q145 142.8 147.7 141.9Q150.5 141 152.9 140.3Q155.3 139.7 157.8 138.6Q160.2 137.4 163.2 136.5Q166.3 135.6 168 138.4Q169.7 141.3 171 143.5Q172.3 145.7 173.9 147.5Q175.6 149.2 176.7 151.5Q177.9 153.8 177.1 156.2Q176.2 158.7 175.7 161Z"/><path d="M94 181.3Q94.6 184 95.2 187.9Q95.7 191.9 95.9 198.3Q96 204.8 91.6 206.6Q87.1 208.5 82.4 209.4Q77.7 210.3 72.9 209.3Q68.2 208.4 65.8 203.4Q63.4 198.5 62.8 194.1Q62.1 189.7 61.7 186.7Q61.2 183.7 60.4 181.1Q59.5 178.6 59.4 175.9Q59.2 173.2 60.6 170.9Q61.9 168.6 63.7 166.8Q65.5 165 67.1 163.2Q68.8 161.3 70.8 159.4Q72.9 157.5 75.6 157.3Q78.3 157.1 81.1 157.1Q83.9 157.1 86.7 158.1Q89.4 159.1 89.8 162.5Q90.2 165.9 91.1 168Q92 170 92.3 172.2Q92.7 174.3 93 176.4Q93.3 178.6 94 181.3Z"/><path d="M198.2 -0.6Q195.9 1.5 193.6 2.9Q191.4 4.2 189.6 5.3Q187.7 6.4 185.9 7.6Q184.1 8.7 181.9 10.4Q179.8 12 177.2 11.8Q174.6 11.6 173 9.3Q171.4 7.1 170.3 5.1Q169.2 3.2 167.8 1.6Q166.4 0 165 -1.9Q163.6 -3.8 162.6 -6.3Q161.5 -8.8 161.8 -11.6Q162.2 -14.4 163.2 -17.1Q164.3 -19.9 165.3 -23.8Q166.4 -27.7 168.5 -33.4Q170.7 -39.1 175.5 -40Q180.4 -40.8 185.3 -40.1Q190.2 -39.3 191.9 -32.9Q193.6 -26.6 195.1 -23.3Q196.5 -20 197 -16.8Q197.5 -13.7 198.7 -11.1Q199.9 -8.6 200.2 -5.7Q200.5 -2.8 198.2 -0.6Z"/><path d="M77.4 63.1Q76.5 65.3 75.5 67.5Q74.5 69.7 73.2 72.3Q72 74.9 69.7 76.8Q67.3 78.6 64.3 77.7Q61.4 76.7 59.2 75Q57 73.3 55.2 71.9Q53.5 70.5 51.9 69.2Q50.3 67.8 48.1 66.5Q45.9 65.2 43.2 63.1Q40.4 61.1 40.8 58.1Q41.2 55.1 44 53.2Q46.7 51.2 48.7 49.9Q50.6 48.5 52.2 47.2Q53.8 45.9 55.6 44.5Q57.4 43.1 59.6 41.5Q61.8 39.9 65 38.3Q68.2 36.7 70.9 38.4Q73.6 40.1 75.1 42.9Q76.5 45.6 78.1 48Q79.6 50.3 80.2 53Q80.8 55.7 79.6 58.3Q78.3 60.9 77.4 63.1Z"/><path d="M244.6 -8.2Q240.2 -5.4 235.9 -4.5Q231.6 -3.7 229.3 -2.6Q226.9 -1.5 224.5 -1.4Q222 -1.3 219.9 -0.6Q217.7 0.1 215.1 0.9Q212.5 1.8 209.6 1.5Q206.7 1.2 203.9 -0.3Q201.2 -1.7 200.6 -4.9Q200.1 -8 199.5 -10.7Q198.8 -13.4 198.1 -16.2Q197.3 -19.1 196.7 -22.6Q196.2 -26.1 195.6 -31.2Q194.9 -36.3 197.9 -39.7Q200.9 -43.1 205.2 -44.6Q209.4 -46.1 213.9 -46.5Q218.3 -47 222.8 -46.8Q227.4 -46.6 231.3 -44.4Q235.3 -42.2 238.7 -39.3Q242.2 -36.4 244.6 -32.6Q247 -28.7 248.1 -24.4Q249.2 -20 249.1 -15.5Q249 -11 244.6 -8.2Z"/><path d="M255.6 24.6Q254.3 28.8 247.8 28.9Q241.3 29 238.1 29.4Q235 29.7 232.5 29.6Q230 29.4 228 29.8Q225.9 30.2 223.8 30Q221.7 29.8 219.7 29.1Q217.6 28.4 216.3 26.7Q214.9 25 213.8 23.2Q212.6 21.5 211.3 19.6Q210 17.7 209.8 15.3Q209.7 13 209.4 10.2Q209.1 7.5 210.5 5.2Q211.9 2.9 214.6 2.2Q217.3 1.4 219.5 0.5Q221.6 -0.5 224 -0.5Q226.3 -0.5 229.1 -1.8Q231.8 -3.1 235.6 -3.8Q239.4 -4.6 244.3 -4.3Q249.2 -4 252 -0.6Q254.7 2.9 255.8 7.2Q256.8 11.5 256.9 15.9Q256.9 20.3 255.6 24.6Z"/><path d="M263.7 139.6Q262.1 143.9 258.1 146.3Q254.1 148.8 249.7 149.1Q245.3 149.3 242 149.4Q238.7 149.5 235.9 149.2Q233.1 148.9 231 147Q228.9 145.1 227.3 143.5Q225.8 141.8 224.4 140.5Q222.9 139.2 221.4 137.8Q219.8 136.4 218.6 134.4Q217.4 132.5 217.6 130.2Q217.8 127.9 218.3 125.7Q218.8 123.5 221.1 122.5Q223.3 121.5 224.9 120.3Q226.4 119.2 228.1 118.3Q229.7 117.3 231.6 116Q233.6 114.7 236.4 113.1Q239.2 111.4 244.3 108.7Q249.5 105.9 253.3 108.1Q257.1 110.3 259.8 113.9Q262.5 117.5 263.6 121.9Q264.7 126.2 265 130.8Q265.2 135.3 263.7 139.6Z"/><path d="M61.7 39.1Q58.9 41.1 56.9 42.4Q54.9 43.8 53.2 44.9Q51.4 46 49.8 47.6Q48.2 49.2 45.9 50.5Q43.7 51.9 40.5 53.6Q37.4 55.4 35.2 52.9Q33.1 50.4 31.4 48.2Q29.7 46 27.3 44.2Q24.9 42.4 23.1 39.7Q21.4 37 21.9 33.8Q22.3 30.6 22.6 27.4Q22.9 24.1 26.4 22.8Q29.9 21.6 32.7 21Q35.4 20.5 37.7 20.1Q39.9 19.7 42 19.6Q44.1 19.5 46.3 19.2Q48.5 19 51.4 18.7Q54.3 18.3 55.6 20.6Q57 23 58.5 24.9Q59.9 26.9 61.4 29.2Q62.9 31.5 63.7 34.4Q64.5 37.2 61.7 39.1Z"/><path d="M39.2 157.8Q38.7 160.4 37 162.5Q35.3 164.6 32.9 165.8Q30.5 167 28.4 168.5Q26.3 170 23.7 170.6Q21 171.1 18.7 169.5Q16.5 167.9 14.7 166.3Q13 164.7 11.2 163.5Q9.5 162.2 7.3 160.8Q5.1 159.4 3.7 157Q2.3 154.7 3 152.1Q3.8 149.5 5.8 147.7Q7.9 145.9 9.5 144.5Q11 143.1 12.3 141.5Q13.6 139.9 15.3 138.4Q17 136.9 19.2 134.7Q21.5 132.5 24.1 133.5Q26.7 134.5 28.2 136.9Q29.8 139.3 30.9 141.2Q32.1 143 33.5 144.6Q34.9 146.2 36.6 148.1Q38.4 150 39.1 152.5Q39.7 155.1 39.2 157.8Z"/><path d="M260.1 76.1Q259.2 79.9 257 83.3Q254.8 86.6 251.8 89.2Q248.7 91.7 244.3 90.8Q240 89.9 236.8 88.9Q233.6 87.9 231 86.8Q228.4 85.8 226 84.5Q223.7 83.3 221.8 81.5Q219.9 79.8 218.9 77.4Q218 75 217.1 72.6Q216.1 70.3 215.1 67.6Q214.1 64.9 214.9 62.2Q215.7 59.4 218 57.7Q220.3 56 222.9 55.3Q225.4 54.5 227.6 54.1Q229.8 53.7 231.9 52.9Q234 52 236.6 51.1Q239.3 50.2 243.1 49.2Q246.9 48.1 250.8 49.2Q254.8 50.2 257.1 53.4Q259.5 56.6 260.4 60.5Q261.2 64.4 261.1 68.3Q261.1 72.2 260.1 76.1Z"/><path d="M2.7 64.6Q2.8 66.7 2.8 69.5Q2.7 72.3 0.7 73.7Q-1.4 75.2 -3.7 76.2Q-6 77.1 -8.5 78.4Q-10.9 79.8 -13.9 80Q-16.8 80.3 -20.3 80.3Q-23.8 80.2 -27.6 79.1Q-31.4 77.9 -35.8 75.6Q-40.1 73.4 -41.3 69Q-42.6 64.6 -42.7 60Q-42.8 55.4 -40.9 51.2Q-39.1 47 -35.9 43.9Q-32.8 40.7 -27.2 41.9Q-21.5 43.1 -18.3 43.9Q-15.1 44.6 -12.8 45.2Q-10.5 45.9 -8.5 46.4Q-6.6 46.9 -4.3 47.1Q-2.1 47.4 0.6 47.9Q3.3 48.5 3.4 51.3Q3.4 54.2 3.3 56.3Q3.3 58.5 3 60.5Q2.6 62.5 2.7 64.6Z"/><path d="M171.1 14.4Q169.4 16.2 168.4 18Q167.4 19.7 165.7 21Q164.1 22.2 162.5 24Q160.9 25.7 158.6 26.5Q156.3 27.2 153.7 27.5Q151.1 27.7 148.8 26.4Q146.5 25.2 145.4 22.8Q144.3 20.4 143.5 18.3Q142.7 16.2 142 14.1Q141.2 12.1 140 9.7Q138.7 7.3 139.9 5.1Q141 2.8 143.3 1.6Q145.6 0.4 147.3 -0.8Q149 -1.9 150.8 -2.9Q152.6 -3.8 154.6 -4.7Q156.7 -5.6 159.1 -6.1Q161.6 -6.5 163.1 -4.3Q164.6 -2.2 165.7 -0.4Q166.7 1.4 167.8 3Q168.8 4.6 170.1 6.4Q171.5 8.1 172.1 10.4Q172.7 12.6 171.1 14.4Z"/><path d="M107.2 75.9Q105.7 77.9 104.2 79.5Q102.6 81.1 101.4 83.1Q100.2 85.1 98.4 87.2Q96.5 89.3 93.9 87.7Q91.3 86.1 89.3 85.4Q87.3 84.7 85.7 83.5Q84.1 82.2 82.2 81.4Q80.2 80.7 78 79.4Q75.7 78.1 74.7 75.8Q73.6 73.5 74.5 71.1Q75.3 68.6 76.3 66.6Q77.3 64.5 78.3 62.4Q79.3 60.4 80.4 57.7Q81.4 55.1 84 54.3Q86.5 53.6 89.1 53.7Q91.7 53.8 94.2 54Q96.7 54.2 99.2 54.9Q101.7 55.6 103.3 57.7Q104.8 59.9 106.2 62Q107.5 64.1 108.8 66.4Q110.2 68.7 109.4 71.3Q108.7 73.9 107.2 75.9Z"/><path d="M58.1 138.8Q57.9 141 56.2 142.5Q54.5 144 53 145.3Q51.4 146.7 49.5 147.6Q47.6 148.5 45.5 149.3Q43.5 150.1 41 150.6Q38.5 151.1 37 148.8Q35.6 146.6 34.4 144.8Q33.3 143.1 32 141.5Q30.7 140 29.3 138.2Q27.8 136.4 26.4 133.9Q25 131.4 27.2 129.5Q29.3 127.6 31.2 126.2Q33.1 124.9 34.8 123.9Q36.5 122.8 38 121.3Q39.6 119.8 41.7 118.9Q43.9 118 46 118.8Q48.2 119.6 50 120.8Q51.8 121.9 54 122.8Q56.2 123.7 57.5 125.6Q58.9 127.6 58.8 129.9Q58.6 132.3 58.4 134.4Q58.2 136.6 58.1 138.8Z"/><path d="M160.7 -9.6Q159.5 -7.4 157.2 -6.2Q154.9 -5.1 153 -4.2Q151.2 -3.4 149.5 -2.3Q147.9 -1.3 145.9 -0.2Q144 0.8 141.4 1.8Q138.8 2.8 136.1 2.4Q133.3 1.9 131.7 -0.4Q130.1 -2.7 130.3 -5.6Q130.6 -8.6 130.7 -10.7Q130.7 -12.8 130.9 -14.7Q131.1 -16.6 131.2 -18.6Q131.3 -20.6 131.5 -23.2Q131.6 -25.8 132.1 -29.4Q132.6 -33.1 134.3 -38.5Q135.9 -43.9 140.2 -44.6Q144.5 -45.2 148.8 -44.5Q153.1 -43.8 157.1 -42.1Q161.2 -40.4 163.7 -36.8Q166.2 -33.2 165.5 -28.5Q164.7 -23.7 163.7 -20.3Q162.6 -17 162.3 -14.4Q161.9 -11.8 160.7 -9.6Z"/><path d="M145.6 27Q145.6 29.6 143.7 31.4Q141.9 33.2 140.2 35.2Q138.6 37.1 136.3 38.5Q134.1 39.9 131.4 38.7Q128.8 37.5 126.5 37.4Q124.2 37.3 122.1 36.3Q120 35.4 117.3 34.7Q114.6 34 112.8 31.9Q111 29.7 110.9 27Q110.8 24.2 112.5 21.8Q114.1 19.5 115.3 17.7Q116.5 15.9 117.6 14.3Q118.6 12.6 119.9 10.9Q121.1 9.2 122.8 7.4Q124.4 5.6 126.8 3.1Q129.2 0.7 132 1.7Q134.8 2.8 136.6 5.1Q138.4 7.5 139.5 9.8Q140.5 12.1 141.6 13.9Q142.8 15.7 143.4 17.8Q143.9 19.8 144.8 22.1Q145.7 24.4 145.6 27Z"/><path d="M160.3 189.9Q160.2 192.1 160.3 195.1Q160.5 198.2 160.5 203.2Q160.5 208.3 157.3 210.7Q154 213.1 150 213.8Q145.9 214.6 142 213.3Q138.2 212 134.3 210.8Q130.4 209.6 127.7 206.6Q124.9 203.6 122.3 200.4Q119.7 197.3 121.6 192.9Q123.5 188.5 125 185.5Q126.6 182.5 128.3 180.1Q129.9 177.8 132.2 176.5Q134.5 175.1 136.6 174.2Q138.7 173.4 140.5 172.3Q142.3 171.3 144.4 170.5Q146.5 169.7 148.6 170.5Q150.6 171.3 152.5 172.3Q154.3 173.3 156.4 174.3Q158.4 175.3 159.2 177.3Q160.1 179.4 160.1 181.6Q160.2 183.7 160.3 185.7Q160.5 187.7 160.3 189.9Z"/><path d="M32 66.1Q30.3 67.9 28.7 69.4Q27.1 70.8 25.7 72.3Q24.3 73.8 22.6 75.3Q20.9 76.8 18.6 77.9Q16.3 79 14 78.1Q11.7 77.2 9.5 76.4Q7.3 75.5 5.1 74.3Q2.9 73 3.1 70.2Q3.4 67.3 3.2 65.3Q3.1 63.2 3.3 61.4Q3.6 59.5 3.7 57.5Q3.8 55.5 4 52.9Q4.1 50.4 5.8 48.6Q7.4 46.9 9.6 45.5Q11.7 44.2 14.3 42.8Q16.8 41.4 19.7 41.5Q22.7 41.6 24.8 43.6Q27 45.7 28.9 47.6Q30.7 49.5 32.8 51.5Q34.8 53.4 36.5 56Q38.2 58.6 36 61.4Q33.8 64.2 32 66.1Z"/><path d="M138 57.9Q138.4 60.7 136.8 63.1Q135.2 65.4 133.1 67.3Q131.1 69.2 128.5 70.5Q126 71.8 123.1 71.3Q120.3 70.7 117.5 70.9Q114.8 71.1 112.7 69.2Q110.6 67.3 109.1 65.3Q107.6 63.2 106.4 61.2Q105.3 59.1 103.8 56.9Q102.4 54.7 103.3 52.3Q104.2 49.8 105.4 47.8Q106.7 45.8 107.5 43.6Q108.3 41.5 109.4 38.9Q110.5 36.4 113 35.4Q115.5 34.5 118.1 35.4Q120.7 36.4 122.9 37Q125 37.7 127.3 38.1Q129.6 38.6 132.4 39.3Q135.2 39.9 135.5 42.8Q135.8 45.6 136.4 47.9Q137 50.2 137.3 52.6Q137.7 55 138 57.9Z"/><path d="M19 96.8Q18.6 99.2 17.7 101.7Q16.7 104.1 14.6 105.7Q12.5 107.4 9.8 107.2Q7 107.1 4.8 107.1Q2.5 107 0.5 106.3Q-1.5 105.6 -3.3 104.5Q-5 103.4 -6 101.7Q-6.9 99.9 -7.8 98.3Q-8.6 96.7 -9 95Q-9.5 93.3 -10.3 91.4Q-11.1 89.5 -12.7 86.6Q-14.2 83.7 -12.5 81.8Q-10.7 79.8 -8.1 79.1Q-5.6 78.4 -3.7 77Q-1.8 75.7 0.6 75Q2.9 74.2 5.3 75.1Q7.6 75.9 9.8 76.8Q11.9 77.7 14.1 79Q16.3 80.2 17 82.6Q17.8 85 17.9 87.4Q18.1 89.7 18.8 92Q19.5 94.3 19 96.8Z"/><path d="M87.4 20.1Q87 22.4 85.3 24Q83.6 25.7 82 27.3Q80.4 28.9 78.5 30.5Q76.7 32.1 74.2 34.7Q71.7 37.2 68.7 36.3Q65.8 35.3 64.1 32.5Q62.4 29.7 61.1 27.6Q59.9 25.5 58.5 23.6Q57.1 21.8 55.9 19.7Q54.6 17.5 56 15.3Q57.5 13 58.5 11.2Q59.5 9.4 60.6 7.8Q61.7 6.2 62.7 4.3Q63.8 2.3 65.3 -0.2Q66.8 -2.8 69.5 -2.7Q72.1 -2.5 74.5 -1.7Q76.9 -0.9 79.4 -0.3Q81.8 0.2 82.4 3.1Q82.9 6 83.8 7.8Q84.7 9.6 85.5 11.5Q86.2 13.4 87 15.6Q87.9 17.8 87.4 20.1Z"/><path d="M207.9 21.3Q206.2 22.9 204.8 24.1Q203.4 25.2 202.2 26.4Q200.9 27.6 199.6 29.1Q198.2 30.5 196.3 31.6Q194.4 32.6 192.1 32.8Q189.8 33.1 188.2 31.2Q186.7 29.3 185.6 27.6Q184.5 25.9 184.2 24Q183.8 22.2 183 20.6Q182.2 19 181.4 17.1Q180.6 15.2 180.9 13.2Q181.3 11.2 183.1 10Q184.8 8.8 186.4 7.8Q188 6.9 189.5 5.9Q191.1 4.9 192.9 3.8Q194.7 2.6 197.5 0.8Q200.2 -0.9 202.6 0.2Q205.1 1.4 206.9 3.5Q208.6 5.5 209 8.2Q209.3 10.9 209.6 13.1Q209.8 15.4 209.7 17.6Q209.6 19.7 207.9 21.3Z"/><path d="M91.8 97.8Q90 99.3 89.1 100.8Q88.3 102.3 87.1 103.8Q85.9 105.2 84.5 107Q83.1 108.7 80.9 111Q78.8 113.2 76 113Q73.3 112.8 71.3 110.8Q69.3 108.8 68.1 106.5Q67 104.2 65.7 102.4Q64.4 100.5 63.4 98.4Q62.3 96.3 62.9 94Q63.5 91.7 63.8 89.4Q64.2 87.1 64.5 84.3Q64.9 81.5 66.8 79.6Q68.7 77.6 71.6 77.9Q74.6 78.2 76.9 79.5Q79.2 80.7 80.9 81.5Q82.6 82.3 84.2 83.1Q85.7 83.9 87.3 84.8Q88.9 85.7 91 86.8Q93.1 87.9 95 89.8Q96.8 91.8 95.2 94.1Q93.5 96.4 91.8 97.8Z"/><path d="M132.2 95.1Q132.7 97.9 133.8 102.5Q134.9 107.1 130.4 106.7Q125.9 106.4 123 106.3Q120.1 106.3 117.7 106.3Q115.3 106.3 112.9 106.2Q110.5 106.2 108.8 104.3Q107.2 102.4 105.6 100.9Q104.1 99.4 102.7 97.7Q101.3 96 99.6 94.1Q97.9 92.1 98.5 89.7Q99.2 87.2 100.9 85.5Q102.7 83.7 103.9 82.1Q105.1 80.6 106.3 78.7Q107.4 76.9 109.1 74.8Q110.7 72.6 113.2 71.9Q115.7 71.1 118.3 71.6Q120.9 72.1 123.8 72.5Q126.6 72.9 127.9 75.5Q129.2 78.2 129.6 80.7Q130.1 83.3 130.4 85.5Q130.8 87.8 131.3 90Q131.8 92.3 132.2 95.1Z"/><path d="M189.3 190Q189.6 192.6 189.7 196Q189.7 199.4 188.3 203Q187 206.6 183.8 208.5Q180.6 210.4 176.8 210.4Q173.1 210.3 169.4 210.2Q165.7 210.1 163.2 207.1Q160.8 204.1 160.9 199.8Q161 195.5 160.6 193.1Q160.3 190.8 160.5 188.7Q160.7 186.6 160.6 184.8Q160.5 183 160.6 180.9Q160.6 178.9 161.2 176.8Q161.7 174.6 163.8 173.7Q165.8 172.7 167.6 171.9Q169.5 171 171.6 170.3Q173.6 169.7 175.4 171Q177.3 172.4 178.6 173.8Q179.9 175.2 181.4 176.1Q182.9 177 184.5 178.2Q186.2 179.3 187.7 181.1Q189.2 182.9 189.1 185.1Q189 187.4 189.3 190Z"/><path d="M-3.9 4.1Q-3.7 6.1 -5.2 7.3Q-6.7 8.5 -8.3 9.3Q-9.9 10.2 -11.4 10.9Q-12.9 11.6 -14.6 12.3Q-16.3 13.1 -18.5 14.1Q-20.7 15.2 -24.3 16.7Q-28 18.1 -32.5 18Q-37 17.9 -39.1 14.5Q-41.1 11.2 -42.7 7.6Q-44.4 3.9 -44.2 -0.1Q-43.9 -4.2 -42.3 -7.8Q-40.7 -11.4 -38.8 -14.8Q-36.8 -18.2 -33.8 -20.8Q-30.9 -23.4 -27.2 -24.9Q-23.6 -26.4 -19.7 -25.3Q-15.8 -24.1 -13.2 -20.9Q-10.7 -17.6 -8.7 -15.7Q-6.8 -13.9 -5.4 -12Q-4.1 -10 -4.1 -7.5Q-4.2 -5.1 -4.1 -3.2Q-3.9 -1.4 -4 0.3Q-4.1 2 -3.9 4.1Z"/><path d="M257.4 174.3Q256.5 177.7 252 178.3Q247.6 179 244.6 179Q241.7 179 239.6 178.9Q237.5 178.8 235.8 178.8Q234.1 178.9 232.4 178.8Q230.7 178.7 228.7 178.7Q226.6 178.8 225.2 177.5Q223.7 176.1 222.6 174.5Q221.4 172.9 220.2 171Q219.1 169.2 220.6 167.2Q222 165.3 222.9 163.8Q223.8 162.2 224.8 161Q225.8 159.7 226.7 158Q227.5 156.3 228.8 154.4Q230.1 152.4 232.3 151Q234.5 149.7 237.1 149.6Q239.7 149.6 242.7 149.7Q245.7 149.8 249.4 150.5Q253.1 151.3 255.1 154.2Q257.1 157.1 258.1 160.5Q259.1 163.9 258.7 167.4Q258.2 170.9 257.4 174.3Z"/><path d="M107.1 42.4Q106.2 44.4 105 46.2Q103.8 47.9 102.7 50.3Q101.7 52.6 99.3 52.9Q96.9 53.1 94.7 53Q92.5 52.9 90.2 53.3Q87.9 53.6 85.1 53.6Q82.4 53.5 81.2 51.1Q80 48.8 78.5 46.9Q76.9 45 74.9 42.8Q73 40.6 73.6 37.9Q74.2 35.2 76.3 33.2Q78.3 31.3 80 29.8Q81.7 28.3 83.2 26.9Q84.8 25.5 86.5 24Q88.3 22.5 90.5 22Q92.8 21.5 95.1 22.2Q97.3 23 99.4 23.7Q101.6 24.5 104 25.5Q106.4 26.5 108 28.5Q109.6 30.5 110.3 33.1Q111 35.6 109.5 38Q107.9 40.4 107.1 42.4Z"/><path d="M94.9 -13.5Q93.2 -12 91.9 -10.8Q90.6 -9.7 89.5 -8.5Q88.3 -7.2 87 -5.9Q85.6 -4.6 83.8 -2.4Q81.9 -0.1 79.7 -1.1Q77.5 -2.1 75.1 -2.6Q72.8 -3.2 69.9 -3.8Q67 -4.5 66.4 -7.3Q65.8 -10 65 -12.5Q64.2 -14.9 63.1 -17.6Q62 -20.4 61.5 -23.8Q60.9 -27.2 62.9 -29.9Q64.8 -32.6 67.4 -34.5Q70.1 -36.4 73 -37.9Q75.8 -39.5 79.1 -39.9Q82.4 -40.2 85.7 -39.9Q89 -39.6 92.1 -38.3Q95.2 -37 97.3 -34.5Q99.5 -31.9 101.1 -29.2Q102.8 -26.4 102.5 -23.1Q102.2 -19.9 99.4 -17.4Q96.6 -15 94.9 -13.5Z"/><path d="M165.2 131.4Q166.4 134.3 163.7 135.5Q161 136.6 158.9 137.3Q156.8 138 155 138.9Q153.2 139.8 151.2 140.5Q149.3 141.2 146.9 141.8Q144.5 142.4 141.7 142.4Q138.9 142.3 137.3 140.1Q135.8 137.8 135.8 135.1Q135.9 132.3 135.6 130.2Q135.4 128.1 135.4 126.1Q135.4 124.1 135.2 121.8Q134.9 119.4 134.3 115.9Q133.6 112.3 135.3 109.3Q136.9 106.3 140.4 106.5Q143.9 106.6 146.8 106.6Q149.7 106.6 152.2 107.8Q154.8 109 156.1 111.6Q157.4 114.2 158.3 116.2Q159.1 118.1 159.8 119.8Q160.5 121.4 161.5 123Q162.4 124.6 163.2 126.6Q163.9 128.6 165.2 131.4Z"/><path d="M216.9 84.3Q214.6 85.9 212.9 87.1Q211.3 88.2 209.8 89.2Q208.3 90.1 206.8 91Q205.3 91.9 203.6 93.1Q201.8 94.3 199.7 94.1Q197.7 93.9 195.9 93Q194 92.1 192.6 90.6Q191.2 89.1 190.3 87.3Q189.4 85.6 189.8 83.5Q190.3 81.5 190.7 79.9Q191.2 78.3 191.6 76.8Q192 75.3 192.2 73.4Q192.4 71.5 193.8 70.3Q195.2 69.2 197 68.8Q198.7 68.5 200.4 68.3Q202.1 68.2 204 67.7Q205.9 67.2 208.5 66.8Q211 66.3 213 67.6Q215 69 215.6 71.3Q216.3 73.7 217.2 75.8Q218.1 77.9 218.6 80.3Q219.1 82.7 216.9 84.3Z"/><path d="M190.2 79.9Q189.8 81.5 189.6 83.5Q189.4 85.5 188.2 87.1Q187 88.8 184.9 88.7Q182.8 88.7 181 88.7Q179.2 88.6 177.5 88.6Q175.7 88.5 173.5 88.7Q171.2 88.9 170.2 87.1Q169.1 85.3 168.6 83.4Q168.1 81.6 167.9 79.8Q167.7 78.1 167.1 76.4Q166.6 74.6 166.2 72.4Q165.8 70.2 166.4 67.9Q167.1 65.7 169 64.4Q170.9 63 173 62.1Q175 61.1 177.3 61.5Q179.6 61.9 181.5 62.8Q183.4 63.7 184.9 64.8Q186.4 66 187.9 67.1Q189.3 68.2 190.3 69.7Q191.3 71.3 190.8 73.2Q190.4 75.1 190.5 76.7Q190.6 78.3 190.2 79.9Z"/><path d="M246.7 46.4Q243.5 48.7 240.4 49.6Q237.4 50.5 235.2 51Q232.9 51.5 231.2 52.2Q229.5 52.9 227.7 53.2Q225.8 53.5 223.7 54.1Q221.6 54.8 219.1 54.7Q216.6 54.7 215.8 52.2Q215 49.7 214.3 47.8Q213.5 45.9 213.3 44Q213.1 42.1 214 40.4Q214.9 38.7 215.5 37.2Q216 35.7 216.8 34.3Q217.5 32.9 218.6 31.6Q219.7 30.4 221.4 30.1Q223 29.8 224.6 29.9Q226.1 30 227.7 30Q229.2 30 231.1 29.9Q232.9 29.9 235.6 30Q238.2 30.1 243.2 30.3Q248.3 30.5 248.9 33.9Q249.5 37.3 249.7 40.7Q249.9 44.1 246.7 46.4Z"/><path d="M-2.4 161Q-3.8 162.4 -5.2 163.3Q-6.6 164.2 -7.7 165Q-8.8 165.8 -9.9 166.8Q-11.1 167.9 -12.6 168.9Q-14.1 169.9 -16.5 171.8Q-18.9 173.7 -22.4 174.8Q-26 175.9 -28.3 173.8Q-30.5 171.7 -32.2 169Q-33.8 166.4 -34.7 163.4Q-35.5 160.5 -35.4 157.4Q-35.4 154.3 -34.6 151.3Q-33.7 148.3 -31.9 145.8Q-30.1 143.2 -27.2 142.1Q-24.3 141 -21.1 142.3Q-17.9 143.5 -15.8 144.4Q-13.8 145.3 -12.2 146Q-10.6 146.6 -8.9 147.1Q-7.2 147.5 -5.5 148.3Q-3.7 149 -1.4 150Q0.9 151 1.2 153.3Q1.4 155.6 0.2 157.6Q-0.9 159.7 -2.4 161Z"/><path d="M146.2 165Q146.8 167.1 145.7 168.7Q144.6 170.3 142.8 170.9Q140.9 171.6 139.4 172.5Q137.8 173.3 136 174.3Q134.3 175.3 131.8 176.7Q129.3 178 128 175.5Q126.7 173 125.7 171.2Q124.8 169.4 124.5 167.6Q124.1 165.8 123.6 164.3Q123.1 162.7 122.6 161Q122 159.3 121.2 157Q120.4 154.6 121.1 152.4Q121.9 150.1 123.9 148.9Q125.9 147.6 127.9 146.4Q129.9 145.3 132.3 143.9Q134.7 142.6 137.4 142.6Q140.1 142.7 141.3 145.9Q142.5 149.1 143 151.3Q143.5 153.6 143.9 155.2Q144.2 156.9 144.6 158.4Q144.9 159.9 145.3 161.4Q145.6 163 146.2 165Z"/><path d="M257.5 197Q256.1 200.2 254.2 203Q252.3 205.9 250 208.5Q247.7 211.2 244.3 212.3Q240.9 213.4 237.5 214.4Q234 215.3 230.6 214.4Q227.1 213.5 224 212Q220.9 210.4 221.3 205.5Q221.8 200.6 222.2 197.9Q222.6 195.1 223.2 193.2Q223.7 191.3 223.7 189.8Q223.7 188.3 224.3 186.9Q224.9 185.5 225.2 183.8Q225.4 182 226.7 180.9Q228 179.8 229.7 179.7Q231.5 179.7 233 179.6Q234.5 179.5 236.1 179.4Q237.6 179.3 239.6 179.2Q241.5 179.2 244.4 179Q247.4 178.9 251.9 179.5Q256.5 180.1 257.4 183.5Q258.3 186.8 258.6 190.3Q258.9 193.8 257.5 197Z"/><path d="M199.6 169.4Q198.4 171 197.1 172.2Q195.8 173.4 194.7 174.6Q193.5 175.9 192.2 177.5Q190.9 179 188.9 179.1Q187 179.2 185.4 178.1Q183.7 176.9 182.5 175.8Q181.3 174.7 179.7 174Q178.2 173.3 176.7 172.1Q175.3 171 174.3 169.2Q173.3 167.5 174.1 165.7Q175 163.8 175.8 162.3Q176.7 160.8 177.1 159Q177.5 157.1 178.6 155.5Q179.7 153.8 181.7 153.5Q183.7 153.2 185.5 152.8Q187.3 152.4 189.3 152.3Q191.3 152.2 192.6 153.8Q194 155.4 194.8 156.9Q195.7 158.5 196.6 159.8Q197.5 161.2 198.4 162.6Q199.4 164.1 200.1 166Q200.8 167.8 199.6 169.4Z"/><path d="M17.6 3.9Q17.9 5.7 18.1 8.1Q18.2 10.4 17.4 13.2Q16.6 15.9 13.7 14.8Q10.8 13.7 8.8 12.9Q6.9 12.1 5.4 11.4Q4 10.6 2.5 10.1Q1.1 9.5 -0.3 8.8Q-1.8 8 -2.7 6.6Q-3.6 5.3 -3.5 3.6Q-3.3 1.9 -3.5 0.4Q-3.7 -1.1 -3.3 -2.7Q-3 -4.2 -3.3 -6.5Q-3.5 -8.9 -1.6 -9.6Q0.3 -10.3 2.1 -10.3Q4 -10.3 5.6 -10.3Q7.2 -10.4 8.8 -10.6Q10.5 -10.7 12.3 -10.5Q14.2 -10.2 15.4 -8.9Q16.6 -7.6 16.6 -5.6Q16.6 -3.7 16.6 -2.2Q16.7 -0.7 17 0.7Q17.2 2.1 17.6 3.9Z"/><path d="M69.3 159.8Q67.8 161.5 66.5 162.8Q65.3 164.2 64 165.5Q62.8 166.9 61.4 168.5Q59.9 170.2 57.9 170Q55.8 169.8 53.9 169.2Q52.1 168.5 50.5 167.6Q48.9 166.6 47.2 165.6Q45.5 164.7 43.2 163.6Q40.9 162.6 40.3 160.3Q39.7 158 40.4 155.8Q41.1 153.6 42.8 152Q44.5 150.5 46.1 149.5Q47.7 148.6 49.1 147.9Q50.5 147.2 51.8 146.3Q53 145.5 54.6 144.6Q56.1 143.7 57.9 143.8Q59.6 143.9 60.8 145.3Q62.1 146.6 63.2 147.7Q64.4 148.7 65.3 150Q66.2 151.3 67.8 152.7Q69.3 154.1 70.1 156.2Q70.9 158.2 69.3 159.8Z"/><path d="M-6.1 104.7Q-5.8 106.6 -7.5 107.7Q-9.1 108.8 -10.7 109.4Q-12.2 110.1 -13.5 111.2Q-14.7 112.3 -16.4 113.3Q-18.1 114.3 -20.5 115.8Q-22.9 117.2 -26.4 118.1Q-29.9 119 -31.9 116.7Q-33.9 114.4 -35.5 111.9Q-37.1 109.4 -37.7 106.5Q-38.2 103.6 -38.5 100.6Q-38.8 97.7 -38 94.8Q-37.2 91.9 -35.4 89.4Q-33.7 87 -31.4 85Q-29.1 83.1 -26.3 81.9Q-23.6 80.7 -20.6 81.6Q-17.7 82.5 -15.5 84.1Q-13.3 85.7 -12.4 88.5Q-11.5 91.2 -10.8 92.7Q-10 94.3 -9.4 95.6Q-8.8 96.9 -8.2 98.2Q-7.6 99.6 -6.9 101.2Q-6.3 102.8 -6.1 104.7Z"/><path d="M130.3 -14Q130 -12.6 130 -10.8Q129.9 -9 129.7 -6.2Q129.4 -3.5 127.7 -1.3Q126 0.8 123.5 -1.8Q121 -4.3 119.4 -5.3Q117.9 -6.3 116.8 -7.5Q115.7 -8.6 114.7 -9.5Q113.6 -10.4 112.5 -11.5Q111.4 -12.5 109.8 -13.8Q108.2 -15.1 106 -17.3Q103.8 -19.5 103.2 -22.5Q102.6 -25.5 104 -28.2Q105.4 -30.8 107.7 -32.6Q110.1 -34.3 112.9 -35.3Q115.7 -36.2 118.5 -36.9Q121.4 -37.6 124.2 -36.8Q127 -36 129.7 -34.9Q132.3 -33.8 131.9 -29.7Q131.5 -25.6 131.3 -23.4Q131.1 -21.2 130.7 -19.6Q130.2 -18 130.4 -16.7Q130.6 -15.3 130.3 -14Z"/><path d="M216.8 131.4Q216.5 133.1 214.5 133.6Q212.5 134.2 211.2 134.6Q210 135.1 208.7 135.2Q207.5 135.3 206.4 135.9Q205.3 136.6 204 136.8Q202.6 137 200.6 137.5Q198.7 138.1 197.3 137Q195.9 135.9 194.9 134.4Q194 132.9 194.4 131.1Q194.8 129.2 195.8 127.9Q196.8 126.5 197.4 125.4Q198.1 124.4 198.8 123.5Q199.4 122.5 200.1 121.4Q200.7 120.4 201.6 119Q202.5 117.5 204 117.5Q205.5 117.6 206.8 118.2Q208.1 118.9 209.4 119.5Q210.6 120 211.7 120.8Q212.8 121.6 214.6 122.3Q216.3 123 216.7 124.7Q217.1 126.3 217 128Q217 129.7 216.8 131.4Z"/><path d="M194.4 144.9Q193.9 146.5 193.2 148.1Q192.6 149.8 191.2 150.9Q189.8 152.1 188 152.2Q186.2 152.3 184.6 152.6Q183 153 181.3 153.2Q179.5 153.4 178.1 152.3Q176.7 151.2 175.8 149.8Q174.9 148.4 174.3 147Q173.6 145.7 172.6 144.3Q171.5 143 170.2 141.1Q168.9 139.2 167.8 136.5Q166.8 133.7 170.5 133.6Q174.1 133.4 176.1 133.4Q178.1 133.3 179.5 133.2Q180.8 133 182 132.9Q183.3 132.8 184.6 132.8Q185.9 132.7 187.6 132.4Q189.3 132.2 191 132.7Q192.8 133.3 193.8 134.8Q194.8 136.3 195.5 138Q196.2 139.7 195.5 141.5Q194.9 143.3 194.4 144.9Z"/><path d="M40.4 118.3Q38.9 119.7 37.5 120.7Q36.1 121.6 35.1 122.8Q34.1 123.9 32.8 124.9Q31.4 125.8 29.8 127.2Q28.2 128.6 25.7 129.9Q23.3 131.3 21.9 128.9Q20.6 126.5 19.8 124.6Q18.9 122.7 18.3 121.1Q17.7 119.5 16.7 117.9Q15.7 116.4 15.1 114.5Q14.6 112.6 13.9 110.1Q13.1 107.6 14.7 105.8Q16.3 104 17.9 102.4Q19.6 100.8 22.2 101.5Q24.8 102.3 26.7 103.1Q28.5 103.8 29.9 104.5Q31.3 105.2 32.6 105.7Q33.9 106.3 35.5 106.8Q37.2 107.3 39 108.2Q40.8 109.2 41.1 111.1Q41.3 113 41.6 114.9Q41.8 116.8 40.4 118.3Z"/><path d="M185.8 29.6Q186.7 31.6 185.9 33.4Q185.2 35.2 183.7 36.6Q182.2 37.9 180.6 39.4Q178.9 40.9 176.7 40.3Q174.6 39.7 173 38.2Q171.4 36.8 170.1 35.9Q168.7 35.1 167.7 34Q166.7 32.8 165.3 31.8Q164 30.7 162.1 29.3Q160.3 27.9 161.8 26Q163.4 24.2 164.6 23Q165.8 21.8 166.6 20.6Q167.3 19.4 168.4 18.5Q169.5 17.6 170.5 16Q171.5 14.4 173.2 13.2Q174.9 11.9 176.8 12.5Q178.7 13 179.6 15.1Q180.5 17.2 181.2 18.6Q181.8 20 182.3 21.2Q182.7 22.4 183.3 23.6Q183.9 24.8 184.4 26.2Q184.9 27.6 185.8 29.6Z"/><path d="M70.3 115.3Q68.3 117.1 66.5 118.4Q64.8 119.7 63.4 121Q62 122.3 60.2 123.4Q58.5 124.4 56.5 123.7Q54.5 122.9 53 121.9Q51.6 120.8 50.2 120.1Q48.9 119.5 47.2 118.9Q45.5 118.4 43.9 117.3Q42.3 116.1 42.3 114.2Q42.3 112.3 42.5 110.5Q42.6 108.8 44.1 107.6Q45.6 106.4 47 105.7Q48.3 105 49.4 104.5Q50.5 104 51.5 103.3Q52.4 102.7 53.6 102.1Q54.8 101.4 56.5 100.4Q58.1 99.3 60.2 99.2Q62.3 99.1 63.4 100.7Q64.4 102.4 65.8 103.8Q67.3 105.1 68.2 106.9Q69.2 108.8 70.8 111.1Q72.4 113.4 70.3 115.3Z"/><path d="M105.3 110.6Q104 111.7 103 112.6Q102 113.4 101.1 114.2Q100.2 115 99.2 115.9Q98.2 116.8 96.9 118.3Q95.5 119.7 93.4 120.8Q91.3 121.9 89.8 120.5Q88.2 119.1 86.3 118.2Q84.5 117.3 82.6 115.9Q80.6 114.5 81.8 112Q82.9 109.5 84.1 107.8Q85.4 106.2 86.5 105.1Q87.6 104 88.4 103Q89.2 102.1 90 101.1Q90.9 100.1 91.8 98.9Q92.8 97.7 94.3 96Q95.8 94.3 97.7 94.7Q99.5 95.2 100.8 96.6Q102.1 98.1 103.5 99Q104.9 100 105.9 101.4Q107 102.8 108.6 104.3Q110.3 105.9 108.4 107.7Q106.6 109.5 105.3 110.6Z"/><path d="M216.4 34.3Q215.8 35.5 215.3 36.6Q214.7 37.7 214.1 39Q213.5 40.4 212.3 41.3Q211.1 42.3 209.6 41.2Q208.1 40 207 39.5Q206 39.1 205 38.5Q204.1 38 203.2 37.4Q202.3 36.8 201 36.2Q199.8 35.6 197.9 34.5Q196.1 33.4 197.5 31.9Q198.9 30.4 199.8 29.4Q200.8 28.4 201.7 27.7Q202.7 27 203.4 26.2Q204.2 25.5 205 24.6Q205.9 23.7 207.1 22.6Q208.3 21.5 209.7 21.7Q211.2 21.9 212.4 22.9Q213.5 23.8 214.4 24.8Q215.2 25.9 216.1 26.9Q217 28 217.5 29.3Q218 30.6 217.4 31.9Q216.9 33.2 216.4 34.3Z"/></g><path fill="#5a3420" opacity="0.8" d="M145.7 168.2a0.9 0.9 0 1 0 0.01 0ZM110.9 70.5a1.2 1.2 0 1 0 0.01 0ZM38.7 119.4a1 1 0 1 0 0.01 0ZM186.9 152a0.7 0.7 0 1 0 0.01 0ZM188.6 89a1.2 1.2 0 1 0 0.01 0ZM168.6 89.5a0.8 0.8 0 1 0 0.01 0ZM146.8 105.9a0.7 0.7 0 1 0 0.01 0ZM172.4 147.4a1.3 1.3 0 1 0 0.01 0ZM63.6 101.1a0.7 0.7 0 1 0 0.01 0ZM126.5 71.7a1.1 1.1 0 1 0 0.01 0ZM12.6 16.3a0.5 0.5 0 1 0 0.01 0ZM100.7 97a0.6 0.6 0 1 0 0.01 0ZM133.7 110.8a0.9 0.9 0 1 0 0.01 0ZM86.1 53.4a0.6 0.6 0 1 0 0.01 0ZM171.7 9.1a0.6 0.6 0 1 0 0.01 0ZM88.4 18a1 1 0 1 0 0.01 0ZM161.8 23.2a0.9 0.9 0 1 0 0.01 0ZM136.8 3.4a0.8 0.8 0 1 0 0.01 0ZM101.9 49.5a1.2 1.2 0 1 0 0.01 0ZM62.1 2.3a1.1 1.1 0 1 0 0.01 0ZM35.4 147.2a0.7 0.7 0 1 0 0.01 0ZM62.8 99a0.6 0.6 0 1 0 0.01 0ZM27.9 20.1a0.7 0.7 0 1 0 0.01 0ZM128.7 0.2a0.7 0.7 0 1 0 0.01 0ZM175.4 159.4a1.2 1.2 0 1 0 0.01 0ZM185.7 65.3a0.7 0.7 0 1 0 0.01 0ZM118.3 151.6a0.6 0.6 0 1 0 0.01 0ZM54.6 14.7a1.3 1.3 0 1 0 0.01 0ZM129.1 78.8a0.8 0.8 0 1 0 0.01 0ZM97.4 54.6a1.4 1.4 0 1 0 0.01 0ZM196.2 138.8a0.7 0.7 0 1 0 0.01 0ZM43.5 65.3a0.7 0.7 0 1 0 0.01 0ZM15.4 79.6a1 1 0 1 0 0.01 0ZM0.9 151.4a0.8 0.8 0 1 0 0.01 0ZM110.6 34.8a0.6 0.6 0 1 0 0.01 0ZM37.2 62.3a0.7 0.7 0 1 0 0.01 0ZM32.9 51.6a1.2 1.2 0 1 0 0.01 0ZM89.4 157.9a0.7 0.7 0 1 0 0.01 0ZM211.2 21a0.5 0.5 0 1 0 0.01 0ZM98.6 147.6a0.9 0.9 0 1 0 0.01 0ZM197.3 161.2a0.5 0.5 0 1 0 0.01 0ZM72.3 75.8a1.3 1.3 0 1 0 0.01 0ZM147 106.2a1.3 1.3 0 1 0 0.01 0ZM58 143.1a0.5 0.5 0 1 0 0.01 0ZM128.3 77.1a1.1 1.1 0 1 0 0.01 0ZM200.6 99.1a1.1 1.1 0 1 0 0.01 0ZM170.3 62.5a0.8 0.8 0 1 0 0.01 0ZM166.7 76.6a0.7 0.7 0 1 0 0.01 0ZM111.2 70.4a1.1 1.1 0 1 0 0.01 0ZM77.8 47.9a0.9 0.9 0 1 0 0.01 0ZM106.9 27.6a0.6 0.6 0 1 0 0.01 0ZM211.7 65.9a0.6 0.6 0 1 0 0.01 0ZM168.7 89.4a1 1 0 1 0 0.01 0ZM21.1 99.9a0.9 0.9 0 1 0 0.01 0ZM200.8 168a1.3 1.3 0 1 0 0.01 0ZM1.3 156.3a0.5 0.5 0 1 0 0.01 0ZM134.8 141.3a0.8 0.8 0 1 0 0.01 0ZM82.3 5.2a0.9 0.9 0 1 0 0.01 0ZM86.1 22.2a1.3 1.3 0 1 0 0.01 0ZM23.2 132.1a0.9 0.9 0 1 0 0.01 0ZM35.3 147.7a1.1 1.1 0 1 0 0.01 0ZM0.7 10.2a1 1 0 1 0 0.01 0ZM37.9 161.6a1.3 1.3 0 1 0 0.01 0ZM199.1 95.2a1.2 1.2 0 1 0 0.01 0ZM126.3 146.4a0.8 0.8 0 1 0 0.01 0ZM89.2 165.1a1.4 1.4 0 1 0 0.01 0ZM38 161a0.8 0.8 0 1 0 0.01 0ZM80.4 53.6a0.6 0.6 0 1 0 0.01 0ZM190.7 152a0.9 0.9 0 1 0 0.01 0ZM111.7 71.6a0.6 0.6 0 1 0 0.01 0Z"/><rect width="215" height="171" fill="url(#ghfd)"/></g></svg>
<rect x="240" y="27" width="217" height="173" fill="none" stroke="#000" stroke-width="2"/>
<line x1="389.4" y1="180.2" x2="439.2" y2="180.2" stroke="#1a1a1a" stroke-width="1.8"/>
<text x="575.5" y="19.5" font-size="14.5" text-anchor="middle" fill="#111" word-spacing="1.6">BAY + HFD</text>
<svg x="468" y="28" width="215" height="171" viewBox="0 0 215 171" overflow="hidden"><defs><filter id="blbay" x="0" y="0" width="1" height="1"><feGaussianBlur stdDeviation="0.45"/></filter></defs><g filter="url(#blbay)"><defs><linearGradient id="gbay" x1="0" y1="0" x2="0" y2="1"><stop offset="0" stop-color="#f0dada" stop-opacity="0"/><stop offset="0.8" stop-color="#f0dada" stop-opacity="0.0"/><stop offset="1" stop-color="#f0dada" stop-opacity="0.4"/></linearGradient></defs><rect width="215" height="171" fill="#d8c0b2"/><defs><radialGradient id="rgbay" cx="0.5" cy="0.5" r="0.5"><stop offset="0" stop-color="#faf7f3"/><stop offset="0.7" stop-color="#f4f0ea"/><stop offset="1" stop-color="#e6dad0"/></radialGradient></defs><g fill="url(#rgbay)" stroke="#664232" stroke-width="0.85"><path d="M201.6 83.5Q201.3 85.2 200.4 86.7Q199.6 88.1 198.7 89.6Q197.8 91 196.4 92Q195 93 193.2 92.9Q191.5 92.9 189.9 93.2Q188.2 93.4 186.4 93.5Q184.6 93.6 183.1 92.6Q181.6 91.5 180.6 90.1Q179.5 88.6 178.7 87Q177.9 85.5 177.3 83.7Q176.6 82 177.4 80.2Q178.1 78.5 178.8 76.9Q179.6 75.3 180.5 73.8Q181.5 72.4 182.9 71Q184.2 69.7 186.2 69.8Q188.1 69.9 189.8 69.9Q191.5 69.8 193.4 69.9Q195.2 70 197.1 70.7Q198.9 71.4 199.6 73.3Q200.2 75.2 200.6 76.9Q200.9 78.6 201.4 80.2Q201.9 81.9 201.6 83.5Z"/><path d="M92.5 181.7Q91.2 183.5 90.1 184.9Q88.9 186.3 87.8 187.5Q86.6 188.7 85.6 190.4Q84.6 192.2 83 194.3Q81.4 196.5 78.8 197.7Q76.3 199 73.7 198.1Q71.1 197.2 69.4 195.1Q67.8 192.9 67.5 190.2Q67.2 187.5 67.3 185.4Q67.4 183.3 67.4 181.6Q67.3 180 66.8 178.1Q66.3 176.2 67.2 174.6Q68.1 173 69.4 171.7Q70.7 170.5 72.3 169.7Q73.9 168.9 75.5 168.3Q77.1 167.7 79 167Q80.9 166.3 82.3 167.7Q83.8 169.2 85.2 170.2Q86.5 171.2 87.7 172.3Q89 173.4 90.7 174.7Q92.5 175.9 93.2 177.9Q93.8 179.9 92.5 181.7Z"/><path d="M100.5 60.8Q100.6 62.8 99.6 64.6Q98.6 66.4 97.1 67.7Q95.6 69 94.3 70.6Q92.9 72.2 90.8 72.4Q88.8 72.6 86.8 72.5Q84.8 72.4 83 71.8Q81.1 71.2 79.8 69.8Q78.5 68.4 77.2 67.1Q75.9 65.8 74.7 64.3Q73.5 62.8 73.1 60.8Q72.8 58.9 73.8 57.1Q74.8 55.3 75.9 54Q77.1 52.7 77.9 51.1Q78.7 49.6 80 48.4Q81.4 47.2 82.9 45.5Q84.5 43.7 86.6 44Q88.8 44.3 90.4 45.7Q92 47.2 93.3 48.5Q94.5 49.8 95.8 50.9Q97.2 52.1 98.6 53.5Q100 54.9 100.2 56.8Q100.4 58.8 100.5 60.8Z"/><path d="M84.4 -5.7Q83.9 -3.9 83.8 -1.9Q83.8 0.1 82.7 1.7Q81.5 3.4 79.7 4.2Q77.8 5 75.9 4.8Q73.9 4.6 72.3 4.3Q70.6 3.9 68.8 3.9Q67.1 3.9 65.5 3.1Q63.9 2.2 62.9 0.8Q61.9 -0.7 60.2 -2Q58.6 -3.3 58.1 -5.3Q57.6 -7.3 58.9 -9.1Q60.2 -10.8 61.1 -12.3Q62 -13.8 63.2 -15.1Q64.3 -16.3 65.5 -17.9Q66.6 -19.5 68.2 -21.5Q69.8 -23.6 72.2 -24Q74.6 -24.4 76.2 -22.2Q77.9 -19.9 78.9 -18.2Q80 -16.4 81 -15Q81.9 -13.7 83 -12.3Q84.1 -10.9 84.4 -9.1Q84.8 -7.4 84.4 -5.7Z"/><path d="M62.9 30.1Q62.2 31.8 61.5 33.3Q60.8 34.9 60 36.5Q59.3 38.2 57.5 38.8Q55.8 39.5 54.2 40.2Q52.6 40.9 50.7 41.3Q48.8 41.7 47 41.1Q45.3 40.5 43.3 39.9Q41.3 39.3 40.6 37.4Q39.9 35.4 39.3 33.7Q38.7 32 38.3 30.2Q37.9 28.5 38.5 26.8Q39.2 25.1 40.1 23.6Q40.9 22.2 41.5 20.3Q42 18.5 43.7 17.6Q45.4 16.8 47.1 16.4Q48.9 16 50.7 16.1Q52.4 16.2 54.1 16.8Q55.7 17.4 57.5 17.9Q59.3 18.4 60.1 20.1Q60.9 21.8 61.7 23.4Q62.4 24.9 63 26.7Q63.6 28.4 62.9 30.1Z"/><path d="M9.3 96.1Q8.6 97.9 7.3 99.3Q5.9 100.7 4.8 101.9Q3.6 103.1 2.4 104.3Q1.1 105.5 -0.6 106.3Q-2.2 107 -4 106.9Q-5.9 106.8 -7.8 106.7Q-9.7 106.6 -10.9 105.1Q-12.1 103.5 -13.5 102.4Q-14.8 101.2 -16.8 99.9Q-18.7 98.6 -17.7 96.5Q-16.7 94.3 -16.1 92.6Q-15.5 91 -14.6 89.5Q-13.8 88.1 -13.1 86.4Q-12.4 84.8 -11.3 83Q-10.1 81.2 -8.1 80.7Q-6.2 80.2 -4.2 80.5Q-2.2 80.7 -0.7 82Q0.9 83.3 2.5 84Q4.1 84.7 5.4 86Q6.7 87.3 8.1 88.8Q9.4 90.2 9.7 92.2Q9.9 94.2 9.3 96.1Z"/><path d="M32.4 175.7Q32.8 177.6 31.7 179.2Q30.7 180.8 29.3 182Q27.8 183.1 26.4 184.2Q25 185.3 23.4 186.1Q21.7 186.9 19.9 186.2Q18.1 185.5 16.5 185.1Q14.9 184.6 13.1 184.2Q11.2 183.7 10.1 182.3Q8.9 180.9 8.5 179.1Q8.2 177.3 7.8 175.6Q7.5 173.9 7.4 172.1Q7.3 170.2 8.5 168.8Q9.7 167.4 10.8 166.1Q11.8 164.8 13 163.3Q14.2 161.8 15.9 160.5Q17.6 159.3 19.6 160Q21.6 160.7 23.1 161.9Q24.7 163 26.3 163.7Q27.9 164.4 29.1 165.7Q30.4 167 30.7 168.7Q31 170.5 31.5 172.2Q32 173.8 32.4 175.7Z"/><path d="M26.6 60.6Q26.9 62.5 25.6 63.9Q24.3 65.3 23.1 66.5Q21.9 67.7 20.5 68.8Q19.2 69.8 17.6 70.9Q16 71.9 14.2 71.1Q12.4 70.4 10.8 70Q9.2 69.6 7.4 69.1Q5.6 68.6 4.7 67Q3.8 65.4 2.6 64Q1.4 62.5 1.3 60.7Q1.1 58.8 1.2 56.9Q1.2 55 1.5 53Q1.8 50.9 3.2 49.4Q4.6 47.9 6.7 47.6Q8.8 47.3 10.5 46.9Q12.2 46.4 14.1 45.9Q16 45.4 17.4 46.7Q18.9 48.1 20.4 48.9Q21.8 49.7 23.1 50.9Q24.3 52.1 24.9 53.8Q25.5 55.4 25.9 57.1Q26.3 58.7 26.6 60.6Z"/><path d="M237.9 5.8Q235.8 7.8 234.1 9Q232.4 10.3 231.2 11.4Q230 12.6 228.8 13.8Q227.5 15 225.9 15.6Q224.3 16.3 222.5 16.1Q220.8 15.9 219 15.7Q217.2 15.5 214.8 15.5Q212.5 15.5 211.7 13.4Q211 11.3 210.6 9.4Q210.1 7.6 210.5 5.8Q210.8 4 211 2.3Q211.3 0.7 211.8 -0.9Q212.3 -2.6 213.5 -3.7Q214.8 -4.8 216 -6.1Q217.2 -7.4 218.9 -8Q220.6 -8.6 222.4 -8.4Q224.1 -8.2 226 -8Q227.8 -7.9 229.8 -7.4Q231.7 -6.9 234.2 -6.1Q236.7 -5.3 238.1 -3.2Q239.4 -1.1 239.7 1.4Q240 3.9 237.9 5.8Z"/><path d="M96.9 150.9Q97.4 152.8 96.3 154.3Q95.2 155.8 93.9 157.1Q92.6 158.3 91.2 159.4Q89.7 160.4 88 160.6Q86.2 160.8 84.5 161.1Q82.8 161.3 81.1 160.8Q79.4 160.3 78.2 159.1Q76.9 157.8 75.7 156.7Q74.5 155.5 73.7 154Q72.9 152.5 72.9 150.8Q72.9 149.1 73 147.4Q73.1 145.7 73.7 144.1Q74.3 142.5 75.1 140.8Q75.9 139.1 77.5 138.2Q79.1 137.4 80.8 136.3Q82.5 135.3 84.4 135.6Q86.3 136 87.8 137.2Q89.3 138.4 90.7 139.3Q92 140.3 93.4 141.3Q94.8 142.4 95.6 143.9Q96.5 145.5 96.4 147.2Q96.3 149 96.9 150.9Z"/><path d="M-2.8 -4.1Q-3.9 -2.4 -4.6 -0.9Q-5.3 0.6 -6 2.3Q-6.7 4 -8.1 5.3Q-9.5 6.6 -11.4 6.4Q-13.4 6.2 -15 5.8Q-16.7 5.5 -18.3 5.2Q-20 5 -22.2 5.1Q-24.4 5.1 -27.4 4.6Q-30.3 4.1 -31.8 1.9Q-33.2 -0.3 -33.3 -3Q-33.5 -5.6 -33.3 -8.3Q-33.2 -10.9 -31.8 -13.2Q-30.5 -15.5 -28.7 -17.3Q-26.9 -19.2 -24.9 -20.9Q-23 -22.7 -20.2 -22Q-17.4 -21.3 -15.4 -19.7Q-13.4 -18.1 -11.9 -17Q-10.5 -15.9 -9 -15.2Q-7.5 -14.5 -6.2 -13.4Q-4.9 -12.3 -4 -10.8Q-3.2 -9.2 -2.4 -7.5Q-1.6 -5.7 -2.8 -4.1Z"/><path d="M228.2 125.9Q228 127.5 227.9 129.3Q227.7 131.1 226.5 132.4Q225.2 133.7 224 135Q222.7 136.4 221 137.6Q219.3 138.9 217.3 138Q215.4 137.1 213.8 136.1Q212.3 135.1 210.9 134.2Q209.5 133.3 208.1 132.2Q206.8 131.1 205.4 129.7Q204 128.3 204.4 126.4Q204.8 124.4 205.3 122.7Q205.8 121.1 206.4 119.5Q207 117.9 207.9 116.4Q208.8 114.8 210.6 114.4Q212.4 114 213.9 113.2Q215.4 112.5 217.2 111.8Q219 111.1 220.7 111.9Q222.4 112.7 223.9 113.8Q225.3 114.8 226.9 116Q228.4 117.1 228.6 119Q228.8 120.9 228.5 122.6Q228.3 124.3 228.2 125.9Z"/><path d="M59.8 83.1Q59.1 85 58.1 86.5Q57.1 88 55.4 88.8Q53.7 89.5 52.3 90.2Q51 91 49.7 92.1Q48.3 93.2 46.5 94.3Q44.6 95.4 42.9 94.3Q41.2 93.2 39.5 92.3Q37.9 91.4 36.5 90.1Q35.2 88.7 34.4 87Q33.5 85.2 33.6 83.3Q33.6 81.4 34.2 79.6Q34.7 77.9 35.3 76.2Q35.9 74.6 37.3 73.5Q38.7 72.4 40.3 71.8Q41.9 71.2 43.4 70.4Q44.8 69.6 46.5 69.7Q48.2 69.9 49.8 70.3Q51.3 70.8 53 71.3Q54.7 71.9 56.7 72.7Q58.8 73.4 59.3 75.4Q59.8 77.4 60.1 79.3Q60.5 81.3 59.8 83.1Z"/><path d="M54.9 169.9Q54.9 171.6 53.9 173Q52.9 174.3 51.8 175.5Q50.8 176.7 49.7 178Q48.5 179.3 46.9 180Q45.3 180.7 43.5 180.9Q41.7 181.1 39.7 181.1Q37.7 181.1 35.9 180.1Q34.2 179.1 33.7 177Q33.2 174.9 32.9 173.2Q32.6 171.6 32.3 169.9Q32 168.3 31.9 166.6Q31.8 164.9 32.8 163.5Q33.8 162.1 35 161Q36.1 159.9 37.3 158.7Q38.5 157.4 40.2 157.5Q41.9 157.5 43.5 157.4Q45 157.2 46.9 156.8Q48.9 156.4 50.3 157.6Q51.7 158.8 53 160.1Q54.2 161.4 54.6 163.1Q54.9 164.9 54.9 166.6Q55 168.3 54.9 169.9Z"/><path d="M126 20.5Q125 22.1 124.5 23.8Q124 25.4 123.6 27.6Q123.3 29.9 121.1 30Q118.9 30.2 117.2 30.7Q115.5 31.3 113.7 31.2Q111.9 31.1 109.9 31.4Q107.8 31.8 106.8 29.9Q105.8 27.9 105.3 26.3Q104.7 24.6 104 23.3Q103.2 21.9 102.4 20.4Q101.7 18.9 102 17.2Q102.3 15.5 103.1 14.1Q104 12.6 104.9 11.2Q105.8 9.8 106.9 8.3Q108.1 6.8 109.8 5.9Q111.6 5 113.4 6Q115.3 7 116.7 8.1Q118.1 9.1 119.8 9.4Q121.5 9.7 123 10.7Q124.6 11.7 125 13.5Q125.5 15.3 126.3 17.1Q127.1 18.8 126 20.5Z"/><path d="M173.1 21.6Q172.7 23.2 171.8 24.5Q171 25.8 170.3 27.4Q169.6 28.9 168.1 29.6Q166.6 30.2 165.1 30.7Q163.5 31.2 161.9 31.6Q160.2 31.9 158.6 31.4Q157 30.9 155.7 29.8Q154.4 28.8 153.3 27.5Q152.3 26.3 150.9 25Q149.6 23.7 149.9 21.9Q150.2 20.1 150.8 18.6Q151.5 17 152.3 15.7Q153.1 14.5 153.6 12.8Q154.2 11.2 155.2 9.6Q156.3 7.9 158.1 7Q159.8 6.1 161.7 6.9Q163.6 7.6 165.5 7.8Q167.4 8 168.3 9.7Q169.3 11.4 170.4 12.7Q171.4 13.9 172.4 15.3Q173.4 16.6 173.5 18.3Q173.6 20 173.1 21.6Z"/><path d="M89.8 125.4Q89 127 88.5 128.5Q87.9 129.9 87 131.3Q86.1 132.6 84.9 133.9Q83.7 135.3 82 135.3Q80.2 135.4 78.5 135.6Q76.8 135.9 75.3 135.1Q73.8 134.3 72.4 133.5Q70.9 132.7 69.5 131.7Q68.1 130.7 66.6 129.3Q65.1 127.9 65.1 125.9Q65.1 124 65.2 122Q65.3 120.1 66.7 118.7Q68 117.2 69.5 116.3Q71 115.3 72.3 114.4Q73.7 113.4 75.3 113.6Q77 113.7 78.5 113.2Q80.1 112.7 81.6 113.3Q83.1 113.8 84.3 114.8Q85.5 115.8 86.3 117.1Q87.1 118.4 88.4 119.5Q89.7 120.6 90.2 122.2Q90.6 123.9 89.8 125.4Z"/><path d="M192.2 52.4Q192.3 54 191.7 55.6Q191.2 57.2 189.5 57.9Q187.9 58.6 186.7 59.5Q185.5 60.4 184.1 61.5Q182.8 62.5 181 62.9Q179.3 63.3 177.7 62.5Q176.1 61.7 174.4 61Q172.8 60.3 171.6 59Q170.4 57.6 169.8 56Q169.1 54.3 168.8 52.6Q168.6 50.8 169 49.1Q169.4 47.4 170.6 46.1Q171.8 44.9 172.8 43.7Q173.9 42.6 175 41.4Q176.2 40.2 177.7 39.1Q179.1 38 181 37.9Q182.8 37.9 184.3 39.1Q185.8 40.3 187.1 41.2Q188.5 42.1 189.3 43.5Q190.1 44.9 190.6 46.4Q191.1 47.8 191.6 49.3Q192.1 50.7 192.2 52.4Z"/><path d="M119.2 99.1Q118.5 100.6 117.7 101.9Q116.8 103.2 116 104.4Q115.1 105.7 114.1 107Q113 108.4 111.5 109.2Q109.9 110 108.1 110Q106.3 110.1 104.6 109.6Q102.8 109.2 101.5 108Q100.2 106.7 98.9 105.5Q97.7 104.3 96.6 102.8Q95.5 101.3 95.2 99.5Q94.9 97.6 95.2 95.8Q95.6 93.9 96.9 92.6Q98.1 91.2 98.9 89.6Q99.7 88 101.6 87.7Q103.4 87.4 104.9 87.1Q106.5 86.9 108.1 86.5Q109.7 86.2 111.6 85.7Q113.6 85.2 115.1 86.5Q116.5 87.8 117.8 89.1Q119.2 90.4 120.3 92Q121.4 93.6 120.7 95.6Q120 97.5 119.2 99.1Z"/><path d="M144.8 101.2Q144.9 102.7 144.3 104.1Q143.7 105.5 142.6 106.6Q141.5 107.7 140.5 108.9Q139.4 110.1 137.8 110.4Q136.2 110.7 134.6 110.7Q133 110.6 131.4 110.4Q129.8 110.2 128.7 109Q127.6 107.8 126.8 106.5Q126.1 105.2 125.5 103.8Q125 102.5 124.2 101.1Q123.3 99.7 122.7 97.9Q122.2 96.1 122.7 94.2Q123.1 92.4 125.1 91.7Q127.1 91.1 128.4 90.2Q129.8 89.3 131.3 88.6Q132.8 87.8 134.7 86.8Q136.5 85.9 137.9 87.4Q139.4 89 140.8 89.9Q142.1 90.9 143.2 92.1Q144.3 93.3 144.5 95Q144.6 96.7 144.6 98.2Q144.6 99.6 144.8 101.2Z"/><path d="M118.7 184.2Q118.9 185.8 119.3 188.1Q119.8 190.4 118.5 192Q117.2 193.7 115.5 195Q113.9 196.4 111.8 196.8Q109.6 197.2 107.5 197.2Q105.4 197.2 103.8 195.8Q102.1 194.5 101.1 192.8Q100.1 191.1 99.5 189.6Q98.9 188.1 98 186.8Q97.1 185.6 96.2 184.1Q95.3 182.6 94.8 180.6Q94.2 178.7 95.2 177Q96.2 175.3 97.8 174.3Q99.4 173.3 101.2 173.1Q103 172.8 104.5 172.4Q105.9 172 107.5 171.4Q109.1 170.8 110.5 171.9Q111.8 172.9 112.9 173.9Q114 174.9 115.2 175.8Q116.4 176.7 117.2 178.1Q117.9 179.4 118.2 181Q118.5 182.5 118.7 184.2Z"/><path d="M27.4 146.8Q26.4 148.4 25.5 149.8Q24.6 151.1 23.7 152.4Q22.8 153.6 21.7 155Q20.6 156.4 18.9 157.3Q17.3 158.1 15.5 157.8Q13.7 157.5 12.3 156.4Q10.9 155.4 9.5 154.6Q8.1 153.8 6.8 152.7Q5.5 151.6 5.1 150Q4.7 148.4 4.7 146.9Q4.7 145.3 4.8 143.7Q5 142.2 5.3 140.6Q5.6 139 6.8 137.8Q8 136.7 9.3 135.7Q10.6 134.7 12.2 134.7Q13.9 134.6 15.4 134.9Q16.8 135.3 18.3 135.5Q19.8 135.7 20.9 136.7Q21.9 137.7 22.7 138.8Q23.5 140 24.7 141.1Q26 142.1 27.1 143.7Q28.3 145.2 27.4 146.8Z"/><path d="M-5.2 192.5Q-4.8 194.3 -4.2 196.7Q-3.6 199.1 -4.8 201.1Q-5.9 203.1 -7.7 204.5Q-9.6 206 -11.8 206.8Q-14.1 207.7 -16.5 207.5Q-18.9 207.3 -21.2 206.7Q-23.5 206.1 -25.3 204.6Q-27 203 -28.7 201.4Q-30.3 199.7 -31.2 197.6Q-32.1 195.5 -32.5 193.2Q-32.9 190.9 -32.6 188.6Q-32.3 186.3 -31.1 184.3Q-30 182.3 -27.1 182.2Q-24.1 182.2 -22.5 181.9Q-20.8 181.6 -19.4 181.3Q-18 180.9 -16.6 181.1Q-15.2 181.2 -13.6 181Q-12 180.8 -10 180.9Q-8 180.9 -7.4 182.7Q-6.8 184.6 -6.4 186.1Q-5.9 187.7 -5.7 189.3Q-5.6 190.8 -5.2 192.5Z"/><path d="M40 120Q40.2 121.5 40.3 123.3Q40.5 125.2 39.7 126.8Q38.8 128.5 36.9 128.8Q35 129.1 33.3 128.8Q31.6 128.5 30.2 128.4Q28.8 128.3 27.4 128.1Q26 127.8 24.8 127Q23.7 126.2 22.8 125Q21.9 123.9 20.8 122.8Q19.7 121.7 18.4 120.2Q17.2 118.6 17.7 116.9Q18.3 115.1 19.6 113.9Q20.9 112.7 22.2 111.8Q23.5 111 24.8 110.3Q26 109.6 27.3 108.6Q28.6 107.7 30.1 108Q31.6 108.3 33.1 108.6Q34.6 108.9 36.2 109.3Q37.8 109.8 38.7 111.1Q39.7 112.5 39.6 114.1Q39.5 115.8 39.6 117.2Q39.8 118.6 40 120Z"/><path d="M29.5 19.7Q29.4 21 29.4 22.7Q29.5 24.3 28.2 25.2Q26.9 26 25.7 26.8Q24.4 27.5 23.1 28.5Q21.9 29.5 20.2 30.2Q18.5 30.9 17 29.8Q15.5 28.7 13.9 28.2Q12.2 27.6 11.7 26Q11.1 24.3 10.9 22.8Q10.6 21.2 10.5 19.8Q10.4 18.4 10.4 17Q10.3 15.5 10.2 13.7Q10 11.9 10.9 10.2Q11.7 8.6 13.6 8.3Q15.4 7.9 17 7.8Q18.6 7.6 20.2 7.7Q21.7 7.8 23.5 7.5Q25.2 7.3 26.8 8.1Q28.4 8.9 29.3 10.4Q30.2 11.9 30.2 13.7Q30.1 15.4 29.9 16.9Q29.7 18.3 29.5 19.7Z"/><path d="M203.5 32.8Q202.9 34.1 202.4 35.4Q201.9 36.7 201.2 37.9Q200.4 39.1 199.2 39.8Q197.9 40.4 196.6 40.8Q195.2 41.1 193.8 41.4Q192.4 41.7 190.8 41.6Q189.2 41.6 188.1 40.6Q186.9 39.5 185.4 38.7Q183.9 37.9 183.3 36.4Q182.6 34.8 183.3 33.2Q183.9 31.5 184 30.1Q184.2 28.7 184.6 27.3Q185 25.9 186 24.8Q187.1 23.8 188.2 22.8Q189.4 21.9 190.7 20.6Q192 19.4 193.7 19.6Q195.5 19.7 196.9 20.7Q198.3 21.6 199.5 22.5Q200.8 23.4 201.2 24.9Q201.5 26.5 202.1 27.7Q202.7 28.9 203.3 30.2Q204 31.5 203.5 32.8Z"/><path d="M202.3 -17.1Q201.8 -15.4 201 -13.9Q200.3 -12.4 199.5 -10.8Q198.7 -9.3 197 -8.7Q195.3 -8.2 193.6 -8.4Q192 -8.6 190.5 -8.6Q189.1 -8.5 187.5 -8.7Q186 -8.8 184 -8.9Q182.1 -8.9 181.4 -10.6Q180.6 -12.3 180.9 -14.1Q181.1 -15.9 181.1 -17.3Q181.1 -18.7 181.3 -20Q181.5 -21.3 181.5 -22.9Q181.5 -24.4 181.7 -26.5Q181.8 -28.6 183.1 -30.2Q184.4 -31.8 186.4 -32.2Q188.4 -32.6 190.5 -33Q192.5 -33.4 194.5 -32.6Q196.4 -31.8 197.9 -30.4Q199.4 -29.1 200.8 -27.7Q202.3 -26.3 202.9 -24.4Q203.5 -22.5 203.1 -20.6Q202.7 -18.7 202.3 -17.1Z"/><path d="M226.7 153.8Q226.7 155.1 226.6 156.6Q226.4 158.1 225.6 159.4Q224.7 160.6 223.2 161.1Q221.7 161.5 220.3 161.5Q218.9 161.5 217.6 161.7Q216.3 161.8 214.8 161.8Q213.4 161.8 212 161.1Q210.6 160.5 209.4 159.5Q208.1 158.6 207.8 157Q207.6 155.4 207.1 153.9Q206.7 152.5 206.6 150.9Q206.6 149.2 207.4 147.9Q208.3 146.5 209.5 145.6Q210.8 144.7 212 143.8Q213.2 143 214.6 142.1Q215.9 141.2 217.6 140.5Q219.3 139.9 220.7 141.1Q222.1 142.4 223.1 143.6Q224.2 144.8 225 146Q225.8 147.1 226.3 148.4Q226.9 149.7 226.8 151Q226.7 152.4 226.7 153.8Z"/><path d="M243.9 59.4Q243.7 61.7 242.6 63.6Q241.4 65.5 239 66Q236.6 66.5 234.8 66.7Q233 66.9 231.6 67.2Q230.1 67.5 228.6 68Q227 68.5 225.5 68Q224 67.5 222.7 66.5Q221.5 65.6 219.9 64.7Q218.3 63.9 218 62.2Q217.7 60.5 218.3 58.9Q218.9 57.3 219 55.9Q219.1 54.5 219.1 52.9Q219.1 51.2 220.4 50.3Q221.8 49.5 223.2 49.1Q224.6 48.6 226 48.5Q227.3 48.3 228.6 47.9Q230 47.5 231.7 47Q233.5 46.6 236 46.1Q238.6 45.7 240.1 47.3Q241.7 48.8 242.5 50.9Q243.3 52.9 243.7 55.1Q244.1 57.2 243.9 59.4Z"/><path d="M62 136.4Q61.5 137.8 61.1 139.2Q60.7 140.6 59.7 141.8Q58.7 142.9 57.2 143.1Q55.6 143.3 54.4 143.8Q53.2 144.4 51.8 145Q50.3 145.7 48.9 145.1Q47.5 144.5 46.2 143.8Q44.8 143.2 43.7 142.1Q42.6 141 40.9 139.9Q39.3 138.7 39.4 136.9Q39.5 135 39.5 133.2Q39.4 131.4 40.2 129.8Q41 128.1 42.7 127.3Q44.5 126.6 45.9 125.9Q47.4 125.3 48.9 125.2Q50.4 125.1 51.7 125.6Q53.1 126 54.4 126.2Q55.7 126.4 57.2 126.7Q58.6 127.1 60.7 127.5Q62.8 127.9 63 129.8Q63.2 131.6 62.8 133.3Q62.5 135 62 136.4Z"/><path d="M247.4 107.7Q247 109.7 246.2 111.6Q245.3 113.5 243.8 114.9Q242.3 116.3 240.2 116.6Q238.2 116.9 236.4 116.8Q234.7 116.7 233 116.9Q231.4 117.2 229.9 116.6Q228.4 116 227.2 114.8Q226.1 113.7 224.7 112.9Q223.2 112 222.2 110.6Q221.2 109.2 221.4 107.5Q221.7 105.7 221.6 104Q221.5 102.4 222.1 100.7Q222.6 99.1 224.6 98.6Q226.5 98.2 227.8 97.6Q229 97 230.3 96.5Q231.6 96 233.1 95.6Q234.5 95.2 236.5 94.4Q238.5 93.6 240.5 94.1Q242.5 94.7 244.1 96.1Q245.7 97.5 246.5 99.5Q247.3 101.4 247.6 103.5Q247.8 105.6 247.4 107.7Z"/><path d="M159 84.6Q159 86 158.7 87.3Q158.4 88.7 157.4 89.6Q156.3 90.6 155.2 91.3Q154.1 92.1 152.7 92.3Q151.4 92.5 150 92.6Q148.7 92.7 147.3 92.6Q145.9 92.6 144.6 91.9Q143.3 91.1 142.3 90.1Q141.3 89 140.1 87.8Q138.8 86.7 138 85Q137.2 83.4 137.6 81.6Q138 79.8 138.8 78.3Q139.7 76.7 141.2 75.9Q142.8 75.1 144.2 74.5Q145.7 73.9 147.1 73.3Q148.5 72.6 150 72.6Q151.5 72.6 152.8 73.5Q154.1 74.5 155.2 75.2Q156.4 75.9 157.9 76.6Q159.4 77.3 159.3 79Q159.2 80.6 159.1 82Q159 83.3 159 84.6Z"/><path d="M158 36.8Q158.1 38.4 157.9 40.2Q157.7 42 156.7 43.6Q155.6 45.2 154 46.2Q152.4 47.1 150.4 46.4Q148.4 45.7 146.9 45.3Q145.5 44.9 144.1 44.5Q142.8 44.1 141.7 43.3Q140.5 42.5 139.9 41.2Q139.3 40 138.9 38.8Q138.5 37.6 137.9 36.4Q137.2 35.2 137.3 33.8Q137.3 32.4 138.2 31.3Q139.1 30.2 139.9 29.2Q140.8 28.2 141.7 27Q142.6 25.9 143.8 24.4Q145 22.9 146.8 23.2Q148.5 23.5 149.6 25Q150.8 26.4 151.8 27.4Q152.7 28.3 153.9 29.1Q155.1 29.8 155.9 31Q156.8 32.2 157.4 33.6Q158 35.1 158 36.8Z"/><path d="M220.6 105.6Q220.5 107.2 219.8 108.7Q219 110.1 217.5 110.8Q215.9 111.4 214.6 111.8Q213.3 112.2 212.1 112.8Q210.9 113.4 209.4 114.1Q208 114.7 206.7 113.8Q205.5 112.8 204.2 112.2Q202.9 111.7 201.9 110.6Q200.9 109.6 200.5 108.2Q200.1 106.8 199.5 105.5Q198.9 104.1 199 102.6Q199.1 101 200 99.8Q200.8 98.5 202.1 97.8Q203.4 97.1 204.6 96.6Q205.9 96.2 207 95.6Q208.2 95 209.5 94.9Q210.8 94.7 212.1 95.1Q213.4 95.4 214.8 95.8Q216.2 96.2 217.9 96.9Q219.5 97.5 220.3 99.1Q221.1 100.6 220.9 102.3Q220.8 104 220.6 105.6Z"/><path d="M11.3 127.3Q10.9 128.6 10.9 130Q10.9 131.5 10.4 133Q9.8 134.5 8.4 135.1Q6.9 135.6 5.5 136.3Q4.1 136.9 2.7 136.3Q1.2 135.6 -0.1 135.3Q-1.4 134.9 -2.7 134.4Q-4.1 133.8 -4.8 132.6Q-5.5 131.3 -5.8 130Q-6.1 128.7 -6.7 127.5Q-7.3 126.2 -7.5 124.7Q-7.8 123.2 -6.4 122.2Q-5 121.3 -4.1 120.5Q-3.1 119.6 -2.2 118.8Q-1.2 118 -0.1 117Q1.1 116 2.5 115.8Q4 115.7 5.4 116.3Q6.8 116.9 8.3 117.3Q9.8 117.8 11.2 118.7Q12.7 119.6 12.5 121.4Q12.2 123.3 11.9 124.7Q11.7 126.1 11.3 127.3Z"/><path d="M178.5 -2.2Q178 -0.8 177.2 0.4Q176.3 1.6 175.1 2.4Q174 3.2 172.9 3.9Q171.8 4.7 170.7 5.5Q169.5 6.3 168 6.7Q166.5 7 165 6.6Q163.5 6.2 161.9 5.8Q160.3 5.3 159 4.2Q157.7 3 157.5 1.3Q157.3 -0.5 157 -2.1Q156.8 -3.6 157.3 -5.1Q157.8 -6.6 159 -7.7Q160.1 -8.7 160.8 -9.9Q161.6 -11.1 162.5 -12.4Q163.4 -13.7 164.9 -14.3Q166.3 -15 167.9 -14.3Q169.4 -13.5 170.6 -12.9Q171.9 -12.3 173.2 -11.8Q174.6 -11.3 176.3 -10.7Q178 -10.1 178.9 -8.6Q179.8 -7.2 179.3 -5.4Q178.9 -3.7 178.5 -2.2Z"/><path d="M131.3 -10.6Q131.2 -9.3 131.2 -7.9Q131.2 -6.4 131 -4.6Q130.8 -2.8 128.9 -2.8Q127 -2.9 125.6 -3.1Q124.2 -3.4 123 -3.5Q121.8 -3.6 120.4 -3.4Q119 -3.2 117.4 -3.3Q115.8 -3.5 115.4 -5.1Q115.1 -6.7 114.5 -7.9Q113.9 -9.1 113.6 -10.4Q113.2 -11.7 112.8 -13.3Q112.4 -14.8 113.1 -16.2Q113.8 -17.6 114.3 -19.3Q114.9 -21 116 -22.7Q117.1 -24.5 119 -25.2Q120.9 -25.8 122.8 -25.6Q124.8 -25.3 126.7 -24.8Q128.6 -24.4 130.3 -23.3Q131.9 -22.2 131.8 -19.8Q131.6 -17.4 131.6 -15.8Q131.6 -14.3 131.4 -13Q131.3 -11.8 131.3 -10.6Z"/><path d="M79.1 92.1Q79.1 93.6 78.3 94.9Q77.6 96.1 76.7 97.3Q75.8 98.5 74.6 99.3Q73.3 100.1 71.8 99.8Q70.3 99.5 69.1 99.2Q67.8 99 66.6 98.7Q65.5 98.4 64 98.3Q62.6 98.1 62 96.9Q61.4 95.6 61 94.4Q60.6 93.2 60.3 91.9Q60 90.7 59.4 89.2Q58.7 87.7 59.3 86.3Q59.9 84.9 60.6 83.3Q61.2 81.8 62.8 81.2Q64.4 80.7 66 81Q67.6 81.3 69 81.3Q70.3 81.3 71.7 81.5Q73 81.8 74.5 82.2Q76 82.5 76.9 83.7Q77.9 84.9 78.1 86.4Q78.3 87.9 78.7 89.3Q79.1 90.6 79.1 92.1Z"/><path d="M178.5 170.6Q179 171.9 177.9 172.9Q176.9 173.9 175.9 174.7Q174.9 175.4 174.1 176.5Q173.3 177.5 172.2 178.6Q171 179.7 169.6 179.4Q168.1 179.2 166.6 179Q165.2 178.7 163.5 178.4Q161.9 178 161.6 176.3Q161.3 174.5 161.2 173.1Q161 171.7 160.8 170.5Q160.7 169.2 160.4 167.9Q160.1 166.5 159.8 164.6Q159.5 162.8 160.6 161.5Q161.6 160.2 163.3 159.8Q165 159.4 166.4 158.8Q167.9 158.2 169.4 158.6Q170.9 159.1 172.2 159.8Q173.4 160.5 174.7 161.1Q175.9 161.8 176.5 163Q177.2 164.2 177.5 165.5Q177.8 166.7 177.9 168Q178 169.2 178.5 170.6Z"/><path d="M158.1 154.6Q158.5 156.1 158.9 158.2Q159.4 160.2 157.5 160.9Q155.6 161.5 154 161.9Q152.5 162.2 151.1 162.5Q149.7 162.8 148.4 162.7Q147 162.5 145.9 161.8Q144.7 161.2 143.6 160.6Q142.4 160.1 141 159.4Q139.7 158.8 139 157.5Q138.3 156.2 137.7 154.7Q137 153.2 137.4 151.7Q137.7 150.1 139.1 149.2Q140.6 148.3 141.7 147.5Q142.7 146.8 143.7 146.1Q144.7 145.4 145.8 144.6Q146.9 143.9 148.4 142.9Q149.9 141.9 151.8 141.5Q153.8 141.1 154.8 142.8Q155.7 144.6 156.1 146.2Q156.5 147.9 156.6 149.3Q156.8 150.7 157.2 151.9Q157.6 153.2 158.1 154.6Z"/><path d="M131.1 145.8Q131.5 147.4 130.5 148.7Q129.6 150.1 128.2 150.8Q126.8 151.6 125.5 151.9Q124.2 152.3 123 153Q121.9 153.7 120.4 154.4Q119 155 116.9 155.8Q114.9 156.5 114.2 154.4Q113.5 152.3 113.1 150.8Q112.6 149.3 112.4 148Q112.3 146.7 112.1 145.5Q112 144.3 111.8 143Q111.5 141.7 111.1 139.8Q110.7 138 112.2 137.2Q113.6 136.4 114.9 135.7Q116.2 134.9 117.5 134.4Q118.9 133.9 120.4 134.3Q121.8 134.7 123.4 134.6Q124.9 134.5 126.7 134.6Q128.6 134.8 129.2 136.5Q129.8 138.2 130 139.8Q130.2 141.4 130.5 142.8Q130.8 144.2 131.1 145.8Z"/><path d="M138.6 180.8Q137.3 182.1 136.4 183.1Q135.5 184 134.8 185Q134.1 186 133.2 186.9Q132.3 187.8 131.2 189Q130.1 190.3 128.3 191.6Q126.6 193 124.6 192.7Q122.7 192.4 121.6 190.7Q120.5 188.9 120.3 186.9Q120.1 185 119.6 183.6Q119.2 182.3 119.1 180.9Q118.9 179.6 119.3 178.3Q119.7 177 120.4 175.9Q121 174.8 121.9 173.9Q122.8 173 123.6 171.9Q124.5 170.8 125.8 170.3Q127.1 169.7 128.5 169.7Q129.9 169.7 131.3 169.8Q132.8 170 134 170.9Q135.2 171.7 136.4 172.7Q137.5 173.7 138.5 175Q139.5 176.3 139.7 177.9Q139.9 179.5 138.6 180.8Z"/><path d="M33.1 90.9Q32.1 92.4 31 93.5Q30 94.6 29 95.5Q28.1 96.4 27 97.2Q25.9 98 24.6 98Q23.3 97.9 22 98Q20.8 98 19.5 98Q18.2 98 16.3 98.1Q14.5 98.2 13.1 97.2Q11.6 96.2 11.2 94.6Q10.7 92.9 10.5 91.2Q10.4 89.6 11 88Q11.7 86.5 12.7 85.4Q13.7 84.2 14.8 83.4Q15.9 82.5 16.8 81.3Q17.7 80.1 19.2 80.1Q20.6 80.2 21.9 80.6Q23.2 81.1 24.3 81.5Q25.5 81.9 26.8 82.2Q28.1 82.5 29.8 82.9Q31.4 83.4 32 84.9Q32.6 86.4 33.4 87.9Q34.2 89.5 33.1 90.9Z"/><path d="M207.2 157.7Q207.6 159.2 206.2 160.1Q204.8 161.1 203.8 161.9Q202.9 162.8 201.9 163.6Q200.9 164.5 199.6 164.8Q198.4 165.1 197.1 164.9Q195.9 164.8 194.5 164.9Q193.1 165 192.2 163.9Q191.4 162.8 190.6 161.8Q189.8 160.8 188.8 159.9Q187.8 158.9 187.8 157.5Q187.7 156.2 187.8 154.8Q188 153.5 188.2 152Q188.3 150.6 189.6 149.8Q190.8 149 192 148.4Q193.3 147.9 194.6 148.1Q195.9 148.3 197.1 147.9Q198.3 147.5 199.7 147.4Q201.1 147.2 202.6 147.6Q204 148.1 204.9 149.3Q205.8 150.5 206.1 151.9Q206.5 153.4 206.7 154.7Q206.9 156.1 207.2 157.7Z"/><path d="M15.7 -10.8Q15.9 -9.5 15 -8.6Q14 -7.7 13.3 -6.7Q12.6 -5.8 11.7 -4.8Q10.9 -3.8 9.7 -3Q8.5 -2.1 7.2 -2.7Q5.8 -3.2 4.6 -3.5Q3.3 -3.8 1.9 -4.2Q0.5 -4.5 -0.4 -5.6Q-1.4 -6.6 -1.7 -8Q-2.1 -9.4 -2.5 -10.7Q-2.8 -12.1 -2.3 -13.4Q-1.8 -14.7 -1 -15.7Q-0.1 -16.7 0.3 -18Q0.8 -19.3 1.7 -20.5Q2.6 -21.8 3.9 -23.4Q5.2 -25.1 7.1 -25.5Q9 -25.9 10.6 -24.7Q12.2 -23.4 12.7 -21.3Q13.2 -19.3 13.6 -17.9Q13.9 -16.6 14.2 -15.4Q14.5 -14.3 15.1 -13.2Q15.6 -12.1 15.7 -10.8Z"/><path d="M185.9 108Q185.7 109.2 185.2 110.2Q184.6 111.3 184.4 112.8Q184.1 114.3 182.9 115Q181.7 115.8 180.4 116.1Q179 116.4 177.7 115.7Q176.4 115.1 175.4 114.6Q174.3 114 173.2 113.6Q172.1 113.2 170.8 112.6Q169.5 112.1 169 110.8Q168.5 109.5 168.4 108.2Q168.2 106.8 168 105.4Q167.9 104 168.3 102.6Q168.7 101.1 169.9 100.2Q171 99.3 172.4 98.8Q173.7 98.3 175 98.4Q176.4 98.4 177.7 97.7Q179 97 180.4 97.3Q181.8 97.5 182.5 98.9Q183.2 100.3 183.9 101.3Q184.5 102.4 185.2 103.3Q185.9 104.3 186 105.6Q186.2 106.8 185.9 108Z"/><path d="M112 164.2Q111.1 165.6 110.6 166.9Q110 168.1 109.1 169.2Q108.2 170.3 106.9 170.7Q105.6 171.2 104.3 171.6Q103.1 171.9 101.7 172.3Q100.4 172.6 98.6 173.1Q96.9 173.6 96.1 172Q95.3 170.4 95 168.9Q94.7 167.4 94.2 166.3Q93.7 165.2 93.4 164.1Q93.2 162.9 92.7 161.5Q92.2 160.1 93.3 159.1Q94.3 158.1 95.1 157.1Q95.9 156.1 96.7 154.9Q97.5 153.7 98.9 153.6Q100.3 153.5 101.6 154Q102.9 154.5 104.1 154.7Q105.3 154.9 106.6 155.3Q107.9 155.7 110 155.9Q112.1 156.1 113.2 157.6Q114.4 159.1 113.6 161Q112.9 162.8 112 164.2Z"/><path d="M91.9 32Q92.1 33.3 92.1 34.8Q92.1 36.3 91.3 37.7Q90.6 39 89.4 40.1Q88.2 41.2 86.7 42.1Q85.2 43 83.4 42.7Q81.7 42.4 80.4 41.4Q79 40.3 77.8 39.4Q76.6 38.6 75.9 37.3Q75.2 36 74.7 34.8Q74.2 33.5 73.7 32.1Q73.2 30.8 74.3 29.6Q75.3 28.4 75.9 27.4Q76.6 26.4 77.4 25.6Q78.1 24.8 78.9 23.7Q79.6 22.5 80.8 22.4Q82.1 22.3 83.3 22.2Q84.6 22.1 86.1 21.7Q87.7 21.2 88.7 22.3Q89.7 23.4 90 24.8Q90.4 26.2 90.7 27.3Q91 28.5 91.3 29.6Q91.6 30.7 91.9 32Z"/><path d="M171.6 130.9Q170.5 132.2 169.9 133.4Q169.3 134.6 168.5 135.7Q167.7 136.8 166.6 137.7Q165.6 138.7 164.2 139.2Q162.9 139.7 161.4 139.9Q159.9 140 158.1 140.5Q156.2 140.9 154.5 140.3Q152.7 139.7 152 137.9Q151.3 136.1 150.5 134.6Q149.8 133 150.9 131.3Q152.1 129.6 152.9 128.5Q153.6 127.3 154.1 126.3Q154.6 125.3 155.3 124.3Q155.9 123.3 156.6 122Q157.3 120.8 158.6 120.3Q160 119.8 161.4 119.6Q162.8 119.5 164 120.4Q165.1 121.4 166 122.3Q166.9 123.2 167.9 124Q168.8 124.7 169.8 125.8Q170.8 126.8 171.7 128.2Q172.7 129.5 171.6 130.9Z"/><path d="M98.4 86.1Q98.9 87.6 97.8 88.8Q96.7 90 96 91.3Q95.2 92.5 94.1 93.8Q93 95 91.3 94.4Q89.6 93.9 88.3 93.7Q87 93.4 85.7 93.2Q84.4 93 82.9 92.7Q81.5 92.3 80.9 91Q80.3 89.7 79.6 88.5Q79 87.3 78.7 85.9Q78.4 84.6 78.3 83.1Q78.2 81.6 79 80.4Q79.8 79.2 80.6 77.9Q81.4 76.7 82.3 75.1Q83.2 73.6 84.9 73.6Q86.6 73.6 88.2 73.5Q89.8 73.4 91.4 73.6Q93.1 73.8 93.8 75.5Q94.6 77.1 95.1 78.5Q95.5 79.8 96 80.9Q96.5 82.1 97.3 83.3Q98 84.5 98.4 86.1Z"/><path d="M163.4 -15Q162.4 -13.6 161.5 -12.5Q160.7 -11.3 159.6 -10.5Q158.5 -9.8 157.7 -8.5Q156.9 -7.2 155.5 -6.8Q154.1 -6.4 152.8 -6.8Q151.4 -7.1 150.1 -7.6Q148.9 -8 147.7 -8.7Q146.5 -9.3 146.1 -10.6Q145.7 -11.9 145.2 -13Q144.6 -14 144.3 -15.2Q144 -16.4 143.5 -17.8Q143 -19.2 142.2 -21.4Q141.4 -23.6 142.7 -25Q144 -26.3 145.6 -27.3Q147.2 -28.2 149 -28.5Q150.8 -28.8 152.7 -29.1Q154.5 -29.4 156.2 -28.8Q158 -28.1 159.7 -27.3Q161.4 -26.6 162.5 -25Q163.6 -23.5 163.6 -21.6Q163.6 -19.7 164 -18.1Q164.5 -16.5 163.4 -15Z"/><path d="M115 78.3Q114.9 79.8 114.6 81.4Q114.4 83 113.1 83.9Q111.7 84.8 110.2 85Q108.7 85.2 107.4 85.3Q106.1 85.4 104.8 85.7Q103.6 86 102 86.3Q100.4 86.6 99.6 85.3Q98.7 84 98.2 82.7Q97.7 81.5 97.3 80.4Q96.9 79.3 96.2 78.1Q95.5 76.9 94.6 75.3Q93.7 73.7 94.6 72.3Q95.6 71 96.6 69.8Q97.7 68.7 98.8 67.4Q99.9 66.1 101.6 66Q103.2 65.9 104.7 66.5Q106.2 67 107.5 67.6Q108.8 68.2 110 68.9Q111.2 69.5 111.9 70.7Q112.5 71.9 113.3 73Q114 74.2 114.5 75.5Q115.1 76.9 115 78.3Z"/><path d="M195.5 127.1Q196.4 128.9 195 130Q193.5 131.2 192.2 132Q190.9 132.8 189.7 133.5Q188.5 134.2 187.3 135.1Q186 136 184.6 135.6Q183.1 135.2 181.9 134.5Q180.7 133.8 179.7 133Q178.6 132.2 177.6 131.4Q176.6 130.5 175.3 129.5Q174 128.5 174.8 127Q175.6 125.5 176.1 124.3Q176.6 123.1 177.2 122.1Q177.7 121.1 178.3 120Q178.8 118.9 179.7 117.9Q180.6 116.9 181.8 116.5Q183.1 116.2 184.5 116.1Q185.8 116.1 186.9 116.8Q188.1 117.5 189.3 118Q190.5 118.4 191.6 119.3Q192.6 120.1 193.2 121.4Q193.7 122.7 194.2 124Q194.6 125.4 195.5 127.1Z"/><path d="M113.9 -5.3Q114.4 -3.8 113.9 -2.5Q113.4 -1.1 112.7 0.3Q112 1.7 110.9 3Q109.8 4.4 108 3.9Q106.2 3.5 104.9 2.7Q103.5 1.9 102.4 1.3Q101.4 0.8 100.5 -0Q99.7 -0.8 98.4 -1.3Q97.1 -1.7 97.1 -3.1Q97.1 -4.4 97 -5.5Q97 -6.6 96.7 -7.8Q96.3 -9.1 96.4 -10.5Q96.4 -11.9 97.4 -12.9Q98.3 -14 99.7 -14.2Q101.1 -14.5 102.3 -14.5Q103.6 -14.6 104.7 -14.5Q105.8 -14.4 107 -14.4Q108.3 -14.5 110 -14.6Q111.7 -14.8 112 -13.2Q112.3 -11.5 112.6 -10.3Q113 -9.1 113.2 -7.9Q113.3 -6.7 113.9 -5.3Z"/><path d="M198.7 2.6Q198.8 4 197.7 5Q196.6 6 195.7 6.8Q194.8 7.7 194 8.8Q193.2 10 191.9 10.8Q190.7 11.6 189.3 11.2Q187.8 10.8 186.5 10.3Q185.2 9.9 184.2 9Q183.2 8.1 182.8 6.9Q182.3 5.7 181.3 4.7Q180.3 3.8 179.8 2.5Q179.3 1.2 179.4 -0.2Q179.5 -1.6 179.8 -3.1Q180.1 -4.5 180.5 -6.5Q180.8 -8.4 182.8 -8.2Q184.9 -8 186.4 -7.8Q187.9 -7.6 189.1 -7.4Q190.3 -7.2 191.7 -7.4Q193.1 -7.6 194.9 -7.6Q196.7 -7.6 198 -6.4Q199.2 -5.3 198.8 -3.4Q198.5 -1.6 198.5 -0.2Q198.5 1.2 198.7 2.6Z"/><path d="M54.2 52.8Q54.5 54.2 53.7 55.4Q53 56.5 51.8 57.2Q50.7 57.9 49.6 58.4Q48.5 58.9 47.4 59.5Q46.3 60 45.1 60Q43.8 60 42.7 59.6Q41.5 59.2 40.4 58.7Q39.2 58.2 38.6 57.1Q37.9 56 37.8 54.8Q37.6 53.7 37.4 52.6Q37.2 51.5 36.8 50.2Q36.4 48.9 35.9 47.2Q35.5 45.4 36.4 44Q37.3 42.6 38.6 41.4Q39.9 40.3 41.7 40.8Q43.5 41.3 45 41.4Q46.4 41.5 47.8 42Q49.1 42.5 50.1 43.5Q51 44.5 51.5 45.8Q51.9 47 52.2 48.1Q52.6 49.2 53.2 50.3Q53.9 51.4 54.2 52.8Z"/><path d="M143 11.4Q142.8 12.4 142.6 13.6Q142.5 14.7 142.2 16.1Q142 17.6 140.7 18Q139.4 18.4 138.1 18.4Q136.9 18.4 135.7 18.2Q134.6 18 133.5 17.8Q132.5 17.5 130.9 17.6Q129.4 17.6 128.3 16.8Q127.1 15.9 126.5 14.6Q126 13.3 126 11.8Q126 10.4 126.5 9.1Q127 7.9 127.7 6.7Q128.3 5.6 129.1 4.6Q129.8 3.7 130.5 2.2Q131.2 0.7 132.6 -0.2Q134 -1.1 135.6 -0.5Q137.1 0.1 138.1 1.4Q139.1 2.7 139.9 3.7Q140.6 4.7 141.4 5.4Q142.2 6.1 143 7.1Q143.7 8 143.5 9.2Q143.3 10.3 143 11.4Z"/><path d="M141.5 121Q141.2 122.2 141 123.5Q140.8 124.9 140.5 126.5Q140.2 128.2 138.7 128.8Q137.3 129.4 135.8 130Q134.4 130.6 132.8 130.9Q131.2 131.2 130 130Q128.7 128.8 128 127.5Q127.3 126.2 126.8 125.1Q126.3 124 125.5 123.1Q124.8 122.2 124.8 121Q124.8 119.8 125 118.7Q125.1 117.5 125.2 116.3Q125.4 115 125.8 113.6Q126.3 112.3 127.5 111.5Q128.7 110.7 130.1 111Q131.6 111.3 132.8 111.2Q134.1 111.1 135.3 111.4Q136.5 111.7 137.6 112.3Q138.8 112.9 139.6 113.9Q140.4 114.9 141 116Q141.6 117.2 141.7 118.5Q141.8 119.7 141.5 121Z"/><path d="M105.3 134.2Q105.8 135.7 104.9 136.7Q104 137.8 102.8 138.5Q101.7 139.2 100.6 139.8Q99.6 140.4 98.5 141.2Q97.5 142 96.2 141.6Q94.9 141.3 93.9 140.6Q92.9 139.9 92.1 139.2Q91.2 138.5 90.2 137.9Q89.3 137.3 88.1 136.4Q86.9 135.6 87.2 134.2Q87.4 132.9 87.9 131.7Q88.3 130.6 88.9 129.6Q89.5 128.6 90 127.5Q90.5 126.4 91.2 125Q91.8 123.5 93.3 123.5Q94.7 123.5 96 124.1Q97.3 124.7 98.3 125.1Q99.4 125.6 100.4 126.1Q101.5 126.6 102.3 127.5Q103.1 128.3 103.5 129.4Q103.8 130.5 104.3 131.7Q104.7 132.8 105.3 134.2Z"/><path d="M228.5 26.4Q227.9 27.4 227.5 28.4Q227.1 29.4 226.6 30.4Q226.1 31.3 225.4 32.6Q224.8 33.9 223.5 34.3Q222.2 34.7 220.8 35.1Q219.4 35.5 218.3 34.6Q217.1 33.7 216 32.9Q215 32.2 214.1 31.3Q213.3 30.3 213.2 29Q213.1 27.7 213.3 26.5Q213.4 25.4 213.4 24.3Q213.3 23.2 213.4 21.9Q213.5 20.6 213.3 18.6Q213.2 16.6 215 16.5Q216.8 16.5 218.2 16.6Q219.6 16.8 220.8 16.9Q222.1 16.9 223.3 17Q224.6 17.1 225.7 17.8Q226.8 18.5 227.4 19.6Q228 20.8 228.7 21.8Q229.5 22.8 229.3 24.1Q229.1 25.3 228.5 26.4Z"/><path d="M64.6 9Q64.5 10.1 64.5 11.5Q64.5 12.9 63.8 14.1Q63.1 15.3 62.1 16.4Q61 17.5 59.5 17.2Q57.9 16.9 56.6 16.6Q55.4 16.2 54.2 16Q53 15.7 51.8 15.3Q50.5 14.8 49.7 13.8Q48.9 12.8 48.7 11.5Q48.6 10.2 48.4 9Q48.3 7.9 48.4 6.7Q48.5 5.5 48.4 4Q48.2 2.5 48.7 1Q49.3 -0.5 50.7 -1.1Q52.2 -1.6 53.6 -2.4Q54.9 -3.2 56.5 -3.1Q58.1 -3 59.2 -1.7Q60.3 -0.5 61.2 0.5Q62.1 1.4 63 2.2Q64 3 64.6 4.1Q65.1 5.3 64.8 6.6Q64.6 7.8 64.6 9Z"/><path d="M124.8 42.5Q124.7 43.5 124.9 44.9Q125.1 46.3 124.2 47.2Q123.3 48.1 122.3 48.9Q121.3 49.7 120.1 50.3Q118.9 50.8 117.6 50.3Q116.3 49.7 115.2 49.4Q114 49.1 112.8 48.6Q111.6 48.2 110.4 47.5Q109.1 46.9 108.9 45.5Q108.6 44.1 108.7 42.8Q108.8 41.5 108.5 40.1Q108.3 38.8 108.2 37.1Q108.1 35.5 109.1 34.2Q110.1 32.9 111.8 32.8Q113.5 32.7 114.8 32.2Q116 31.7 117.5 31.6Q118.9 31.4 120.6 31.2Q122.2 30.9 123.6 31.8Q125 32.7 124.9 34.7Q124.8 36.7 124.8 38Q124.8 39.2 124.9 40.3Q125 41.4 124.8 42.5Z"/><path d="M73.3 108Q73 109 72.9 110.2Q72.9 111.5 72.2 112.5Q71.5 113.5 70.5 114.3Q69.5 115 68.3 115.9Q67.2 116.8 65.8 116.8Q64.4 116.9 63.2 115.9Q62.1 115 61.2 114.1Q60.3 113.2 59.4 112.5Q58.4 111.7 58.1 110.5Q57.8 109.3 57.7 108.1Q57.6 106.9 57.5 105.7Q57.3 104.5 57.9 103.4Q58.5 102.3 59.3 101.3Q60 100.3 61 99.5Q61.9 98.6 63.3 98.9Q64.6 99.2 65.7 99.5Q66.8 99.8 67.8 99.9Q68.9 100 70 100.3Q71.2 100.6 72.8 100.9Q74.5 101.3 74.2 102.9Q73.9 104.5 73.8 105.7Q73.7 106.9 73.3 108Z"/><path d="M105.5 8.7Q104.5 9.9 103.8 10.9Q103.2 11.9 102.5 12.9Q101.9 14 101.1 15.2Q100.3 16.3 99 16.7Q97.7 17.1 96.3 17.1Q94.9 17.2 93.4 17.2Q91.9 17.2 90.9 16Q90 14.8 89.6 13.5Q89.1 12.1 88.3 11.1Q87.5 10.1 86.9 8.8Q86.3 7.5 85.5 5.8Q84.6 4.1 86.5 3.3Q88.3 2.4 89.6 1.9Q91 1.4 92.1 1Q93.1 0.6 94.1 0.3Q95.2 -0 96.3 -0.3Q97.4 -0.5 98.4 0Q99.4 0.6 100.3 1.1Q101.3 1.7 102.3 2.3Q103.4 2.9 104.7 3.7Q106.1 4.6 106.3 6Q106.5 7.5 105.5 8.7Z"/><path d="M56 -9.9Q56.8 -8.3 56.3 -6.8Q55.8 -5.3 54.5 -4.3Q53.2 -3.3 51.9 -2.6Q50.6 -1.9 49.2 -1.1Q47.8 -0.4 46.2 -0.8Q44.7 -1.1 43.4 -1.8Q42.1 -2.5 41.3 -3.7Q40.5 -4.9 40 -6Q39.5 -7.1 39.1 -8.2Q38.6 -9.2 38 -10.3Q37.3 -11.4 37.5 -12.6Q37.7 -13.9 38.3 -15Q38.9 -16 39.6 -17.1Q40.3 -18.2 41 -19.5Q41.8 -20.8 43.2 -21.7Q44.5 -22.6 46.1 -22.6Q47.7 -22.7 48.9 -21.3Q50 -20 50.8 -18.8Q51.5 -17.6 52.1 -16.6Q52.6 -15.6 53.2 -14.6Q53.7 -13.7 54.5 -12.6Q55.2 -11.5 56 -9.9Z"/><path d="M136.8 161.5Q136.2 162.7 135.7 163.7Q135.2 164.8 134.7 165.9Q134.2 167 133.2 167.9Q132.3 168.8 130.9 168.9Q129.6 168.9 128.4 169Q127.2 169 125.9 168.9Q124.6 168.9 123.8 167.8Q123 166.7 122.1 165.9Q121.3 165 120.4 164Q119.6 163 118.7 161.8Q117.8 160.5 118 159Q118.1 157.5 119.2 156.3Q120.2 155.2 121.5 154.6Q122.8 154.1 124 153.7Q125.1 153.3 126.1 152.7Q127.1 152 128.4 151.6Q129.7 151.1 131.3 150.8Q132.9 150.5 134.1 151.4Q135.4 152.3 136.1 153.6Q136.8 155 137.2 156.3Q137.7 157.7 137.5 159Q137.3 160.4 136.8 161.5Z"/><path d="M-1.8 157.2Q-2.1 158.3 -2.7 159.2Q-3.3 160.1 -3.6 161.3Q-3.9 162.5 -4.5 163.9Q-5.1 165.3 -6.5 166Q-7.8 166.6 -9.2 165.9Q-10.6 165.1 -11.7 164.4Q-12.7 163.7 -13.8 163.1Q-14.8 162.6 -16.1 162Q-17.4 161.4 -18.5 160.3Q-19.6 159.3 -20 157.8Q-20.4 156.2 -19.2 155Q-18.1 153.7 -17.2 152.7Q-16.3 151.8 -15.6 150.8Q-14.9 149.8 -13.9 149.1Q-13 148.4 -11.8 147.7Q-10.7 147.1 -9.5 147.7Q-8.2 148.3 -7.2 148.8Q-6.2 149.3 -5.3 149.9Q-4.4 150.5 -3.3 151Q-2.1 151.5 -1.3 152.5Q-0.5 153.6 -1 154.9Q-1.5 156.2 -1.8 157.2Z"/><path d="M167.8 110.9Q168 112.2 167.2 113.3Q166.4 114.3 165.7 115.3Q164.9 116.2 164 117.3Q163.2 118.3 161.9 118.6Q160.6 118.9 159.2 119Q157.9 119.1 156.8 118.2Q155.7 117.4 154.8 116.6Q153.9 115.9 153.2 115Q152.5 114 152.4 112.9Q152.2 111.8 152.1 110.7Q151.9 109.7 151.8 108.6Q151.7 107.5 151.9 106.3Q152.1 105.1 153.1 104.5Q154.1 103.9 155 103.1Q155.8 102.3 157 102.3Q158.1 102.4 159.2 102.5Q160.2 102.6 161.3 102.6Q162.4 102.7 163.6 102.9Q164.9 103.1 166 103.9Q167.1 104.6 167.3 105.9Q167.6 107.2 167.6 108.4Q167.7 109.7 167.8 110.9Z"/><path d="M225.1 76.7Q225.2 77.9 225.1 79.2Q224.9 80.5 223.9 81.3Q222.9 82.2 221.8 82.9Q220.8 83.6 219.5 83.5Q218.2 83.4 217.1 83.1Q216 82.8 215 82.5Q214 82.2 212.9 82Q211.7 81.7 211 80.8Q210.4 79.8 210.2 78.7Q210 77.6 209.8 76.6Q209.6 75.5 209.2 74.3Q208.8 73.1 208.6 71.5Q208.5 70 209.3 68.8Q210.2 67.6 211.4 66.8Q212.7 66 214.1 65.2Q215.4 64.3 217 64.8Q218.5 65.2 219.7 66.1Q220.9 67.1 222.1 67.7Q223.3 68.2 224.2 69.3Q225 70.4 225.2 71.7Q225.4 73 225.2 74.2Q225.1 75.5 225.1 76.7Z"/><path d="M66.1 182.6Q66.3 183.8 66.5 185.4Q66.6 187 66.1 188.5Q65.5 190.1 64.2 191.1Q62.8 192 61.2 192.5Q59.7 193 58 192.8Q56.4 192.7 55.5 190.8Q54.6 188.9 53.8 188Q53.1 187.1 52.6 186.2Q52.2 185.2 51.5 184.4Q50.8 183.6 50.3 182.5Q49.7 181.5 49.8 180.3Q49.9 179.1 50.8 178.3Q51.7 177.4 52.4 176.6Q53.1 175.9 53.8 175Q54.6 174.1 55.7 173.8Q56.8 173.4 57.9 173.4Q59.1 173.5 60.2 173.8Q61.3 174.1 62.7 174.2Q64.1 174.3 64.7 175.5Q65.3 176.7 65.6 177.9Q65.8 179.1 65.8 180.3Q65.9 181.4 66.1 182.6Z"/><path d="M119.7 59Q119.7 60.2 118.7 61Q117.7 61.8 116.9 62.5Q116.2 63.2 115.3 63.7Q114.5 64.3 113.6 65.1Q112.7 66 111.4 66.6Q110.1 67.3 108.9 66.8Q107.6 66.3 106.2 65.9Q104.9 65.4 103.2 64.8Q101.5 64.2 101.5 62.5Q101.6 60.7 101.5 59.3Q101.5 57.8 101.3 56.3Q101.2 54.8 102.1 53.6Q102.9 52.4 104.1 51.6Q105.3 50.8 106.4 50Q107.5 49.2 108.8 49Q110.2 48.9 111.4 49.3Q112.6 49.7 113.7 50.1Q114.7 50.6 115.9 51Q117 51.4 118.1 52.1Q119.2 52.8 119.4 54.1Q119.7 55.3 119.7 56.6Q119.8 57.8 119.7 59Z"/><path d="M201.7 184.1Q201.1 185.2 200.7 186.1Q200.3 187.1 199.9 188.3Q199.6 189.5 198.9 191Q198.3 192.5 196.9 193.4Q195.6 194.3 194 194.2Q192.4 194.1 190.8 193.8Q189.2 193.6 187.7 192.9Q186.1 192.2 185.9 190.4Q185.6 188.5 185.9 187Q186.2 185.4 186.4 184.3Q186.6 183.1 186.6 182.1Q186.7 181 186.9 179.9Q187.1 178.7 187.3 177.2Q187.5 175.7 188.8 175.1Q190 174.6 191.4 175Q192.8 175.3 193.9 175.6Q195 175.8 196 176.1Q197.1 176.3 198.3 176.4Q199.5 176.6 200.6 177.4Q201.6 178.1 202.7 179.2Q203.7 180.2 203 181.6Q202.2 183.1 201.7 184.1Z"/><path d="M187.1 154.1Q187 155.3 186.8 156.7Q186.7 158 185.4 158.4Q184 158.9 183 159.3Q181.9 159.7 180.9 160Q179.9 160.4 178.8 160.9Q177.7 161.4 176.6 160.9Q175.5 160.4 174.3 160Q173.1 159.6 171.9 158.9Q170.6 158.3 170 157Q169.4 155.8 170 154.4Q170.5 153 170.8 151.9Q171.1 150.7 171.4 149.6Q171.7 148.4 172.5 147.5Q173.2 146.5 174.4 146.2Q175.6 145.9 176.7 145.6Q177.7 145.3 178.8 145.1Q180 144.9 181.4 144.5Q182.8 144.2 184.1 144.8Q185.4 145.4 186.2 146.5Q187 147.7 187.3 149Q187.5 150.4 187.3 151.7Q187.1 152.9 187.1 154.1Z"/><path d="M-5.8 133.4Q-5.5 134.7 -6.3 135.6Q-7.2 136.6 -8 137.5Q-8.7 138.4 -9.6 139.3Q-10.5 140.1 -11.7 140.9Q-12.8 141.6 -14.1 141.1Q-15.4 140.6 -16.5 140.1Q-17.5 139.6 -18.6 139.1Q-19.7 138.6 -21 138Q-22.4 137.5 -24 136.5Q-25.7 135.6 -25.7 133.9Q-25.7 132.2 -25.8 130.5Q-25.8 128.8 -25.1 127.2Q-24.4 125.6 -23.1 124.5Q-21.8 123.4 -20.3 122.9Q-18.7 122.4 -17.2 122Q-15.7 121.7 -14.2 121.8Q-12.8 122 -11.4 122.5Q-10 122.9 -9.2 124.1Q-8.3 125.4 -7.9 126.6Q-7.4 127.8 -7.2 128.9Q-6.9 130 -6.5 131.1Q-6.2 132.1 -5.8 133.4Z"/><path d="M228.6 182.8Q228 184.1 227.2 185.1Q226.5 186.2 225.9 187.4Q225.4 188.6 224.6 190Q223.8 191.3 222.4 192Q220.9 192.6 219.3 192.8Q217.7 193 216.7 191.4Q215.6 189.8 214.9 188.6Q214.3 187.4 213.7 186.5Q213.2 185.5 212.6 184.6Q212 183.8 211.3 182.7Q210.6 181.6 210.6 180.4Q210.7 179.1 211.6 178.2Q212.5 177.2 213.3 176.5Q214.2 175.7 215 174.9Q215.9 174.1 217 173.8Q218.1 173.4 219.3 173.4Q220.4 173.5 221.7 173.4Q223.1 173.3 224 174.2Q224.9 175.1 225.5 176.1Q226.2 177.1 227.4 178Q228.6 178.8 228.9 180.2Q229.3 181.6 228.6 182.8Z"/><path d="M2.8 41.8Q3.1 43 3.4 44.7Q3.7 46.3 3 47.7Q2.3 49.2 0.6 49.5Q-1 49.8 -2.5 49.5Q-4 49.2 -5.1 48.8Q-6.3 48.5 -7.6 48.5Q-8.8 48.5 -10 48.1Q-11.2 47.6 -11.7 46.4Q-12.2 45.2 -12.7 44.1Q-13.2 43 -13.6 41.8Q-14.1 40.7 -14.8 39.1Q-15.6 37.6 -14.3 36.6Q-13 35.6 -11.9 35Q-10.7 34.3 -9.8 33.5Q-8.8 32.7 -7.7 31.9Q-6.6 31.1 -5.1 30.3Q-3.6 29.4 -2.1 30Q-0.6 30.5 0.3 31.8Q1.2 33.2 1.6 34.6Q1.9 36 2 37.3Q2 38.5 2.2 39.5Q2.4 40.6 2.8 41.8Z"/><path d="M160.2 173.2Q160.5 174.4 160.9 176.1Q161.2 177.7 160 178.6Q158.8 179.4 157.6 180.1Q156.4 180.9 155 180.6Q153.5 180.4 152.3 180.5Q151.1 180.5 149.8 180.6Q148.4 180.6 146.8 180.4Q145.3 180.2 144.3 179.1Q143.3 177.9 143.2 176.3Q143 174.8 143.6 173.4Q144.2 172.1 144.9 171.1Q145.5 170.1 146.1 169.2Q146.6 168.4 147 167.4Q147.4 166.5 148 165.2Q148.6 163.9 149.8 163.8Q151.1 163.7 152.3 163.3Q153.6 162.9 155.2 162.6Q156.7 162.3 157.8 163.4Q158.8 164.5 159 166.1Q159.1 167.6 159.4 168.8Q159.6 169.9 159.7 171Q159.8 172 160.2 173.2Z"/><path d="M136.4 82.2Q136.3 83.8 135.2 85Q134.1 86.2 132.8 86.9Q131.5 87.6 130.4 88.1Q129.2 88.6 128 89.2Q126.8 89.7 125.4 90.4Q124 91.2 122.4 91Q120.9 90.8 119.7 89.7Q118.6 88.6 117.7 87.5Q116.7 86.3 116.1 85Q115.4 83.6 115.5 82.1Q115.7 80.7 116 79.3Q116.4 78 117.4 77Q118.4 76.1 119.6 75.7Q120.8 75.3 121.7 74.8Q122.5 74.2 123.5 73.7Q124.4 73.3 125.5 73.1Q126.6 73 127.5 73.5Q128.5 74 129.5 74.4Q130.5 74.8 131.5 75.4Q132.6 76 134.2 76.8Q135.9 77.5 136.2 79.1Q136.5 80.6 136.4 82.2Z"/><path d="M215.1 170.9Q215.4 172 214.8 173Q214.2 173.9 213.5 174.8Q212.8 175.7 212 176.5Q211.2 177.3 210.2 178.3Q209.1 179.3 207.8 179.2Q206.4 179 205 179Q203.6 178.9 202.7 177.8Q201.8 176.7 201.6 175.3Q201.3 173.9 201.3 172.8Q201.2 171.8 201 170.8Q200.9 169.8 200.8 168.8Q200.8 167.8 201 166.7Q201.2 165.6 201.9 164.8Q202.7 164 203.6 163.4Q204.5 162.8 205.5 162Q206.5 161.2 207.7 161Q209 160.9 210.1 161.4Q211.3 161.9 212.3 162.6Q213.3 163.3 213.6 164.6Q213.8 165.9 214.2 166.8Q214.5 167.8 214.6 168.8Q214.8 169.8 215.1 170.9Z"/><path d="M217.5 40.8Q217.3 41.9 217.2 43.3Q217.2 44.6 216.5 45.8Q215.9 47 214.5 47.2Q213.1 47.4 211.9 47.7Q210.7 47.9 209.5 48Q208.4 48 207 48.1Q205.7 48.1 205.2 46.8Q204.6 45.4 204 44.6Q203.3 43.7 202.6 42.8Q202 41.9 201.5 40.8Q201 39.7 201.8 38.7Q202.6 37.7 203.1 36.8Q203.6 35.9 204 34.9Q204.5 33.9 205.4 33.3Q206.3 32.7 207.4 32.6Q208.5 32.5 209.6 32Q210.7 31.6 211.8 31.8Q213 31.9 214 32.6Q215.1 33.3 215.8 34.2Q216.6 35.1 217.5 36.1Q218.3 37.1 218 38.4Q217.7 39.7 217.5 40.8Z"/><path d="M65.2 153Q65.8 154.1 65.4 155.3Q65 156.5 64.4 157.6Q63.7 158.7 62.5 159.2Q61.3 159.6 60.1 159.8Q58.9 160 57.7 160.3Q56.5 160.5 55.3 160.2Q54 159.9 53.2 159Q52.3 158.1 51.2 157.4Q50.1 156.7 49.8 155.5Q49.5 154.2 49.7 153Q49.8 151.8 49.7 150.6Q49.6 149.5 49.9 148.2Q50.1 146.9 51.3 146.4Q52.5 145.8 53.5 145.4Q54.6 145 55.6 144.8Q56.7 144.6 57.8 144Q58.9 143.3 60.2 143.5Q61.4 143.6 62.1 144.8Q62.8 145.9 63.2 146.9Q63.7 147.9 64.1 148.9Q64.4 149.8 64.5 150.8Q64.6 151.8 65.2 153Z"/><path d="M47.6 9.3Q47.5 10.4 47.7 11.8Q48 13.2 47.1 14.2Q46.3 15.3 45.1 15.8Q43.9 16.4 42.6 16.2Q41.3 16 40.2 15.4Q39.2 14.9 38.3 14.7Q37.3 14.5 36.4 14.1Q35.4 13.7 34.4 13.2Q33.3 12.7 32 11.9Q30.8 11 30 9.6Q29.2 8.3 29.4 6.7Q29.7 5.2 31.3 4.4Q32.9 3.6 33.9 2.9Q34.9 2.2 35.9 1.7Q36.9 1.2 37.9 0.6Q38.9 -0 40.2 -0.7Q41.5 -1.4 42.8 -1Q44.2 -0.7 45.6 -0.2Q47 0.3 47.2 1.9Q47.4 3.5 47.2 4.9Q47.1 6.2 47.4 7.2Q47.6 8.2 47.6 9.3Z"/><path d="M168.9 58.7Q168.9 60.1 168 61.3Q167.1 62.4 166 63.2Q164.9 64 163.6 64Q162.2 63.9 161.1 63.8Q160.1 63.7 159.1 63.8Q158.2 63.8 157.2 63.7Q156.2 63.6 154.8 63.7Q153.5 63.9 152.4 63.1Q151.3 62.3 150.7 61.2Q150.1 60 150 58.7Q149.9 57.3 150.3 56.1Q150.6 54.8 151.1 53.7Q151.5 52.5 152 51.1Q152.5 49.7 153.5 48.6Q154.6 47.6 156 46.9Q157.5 46.2 159 46.5Q160.6 46.8 162 47.3Q163.4 47.8 164.8 48.4Q166.2 49 166.8 50.5Q167.4 51.9 167.7 53.3Q168 54.7 168.4 56Q168.9 57.3 168.9 58.7Z"/><path d="M38.5 35.1Q38.8 36.4 38.7 37.9Q38.5 39.4 37.4 40.4Q36.3 41.4 35.3 42.5Q34.3 43.7 32.6 42.7Q30.9 41.7 29.8 41.2Q28.7 40.8 27.8 40.4Q26.9 40 25.9 39.7Q24.9 39.3 24 38.7Q23.2 38 21.9 37.3Q20.6 36.5 20.3 35.2Q20 33.8 20.1 32.4Q20.3 31.1 21.6 30.3Q23 29.5 23.9 28.8Q24.8 28.2 25.7 27.6Q26.6 27.1 27.6 26.5Q28.5 25.8 29.7 25.7Q30.9 25.5 31.9 26Q33 26.5 34.1 26.9Q35.3 27.3 36.2 28.2Q37 29 37.3 30.2Q37.6 31.5 37.9 32.6Q38.3 33.8 38.5 35.1Z"/><path d="M56.5 108.4Q56.4 109.5 56.3 110.7Q56.2 111.9 54.9 112.3Q53.7 112.7 52.9 113.2Q52 113.7 51.1 114.2Q50.2 114.7 49.2 114.3Q48.2 113.9 47.3 113.6Q46.4 113.2 45.6 112.8Q44.7 112.4 43.6 112Q42.5 111.6 41.2 110.8Q39.9 110.1 40.4 108.7Q40.8 107.4 41.2 106.3Q41.6 105.2 42.1 104.2Q42.5 103.2 43 102Q43.4 100.9 44 99.3Q44.6 97.7 46.2 98.1Q47.8 98.5 49 99.2Q50.1 99.9 51.1 100.3Q52.1 100.8 53 101.2Q53.9 101.7 55.1 102.2Q56.4 102.6 56.3 103.9Q56.3 105.2 56.4 106.3Q56.6 107.3 56.5 108.4Z"/><path d="M148.8 141.1Q147.8 142.3 146.8 143.1Q145.7 143.8 144.8 144.4Q143.9 144.9 143.1 145.3Q142.3 145.7 141.4 146.4Q140.6 147.1 139.5 148.1Q138.3 149.1 137 148.9Q135.6 148.6 134.3 148.1Q133 147.5 132.5 146.2Q132 144.8 131.5 143.6Q131.1 142.4 131 141.2Q130.9 139.9 130.5 138.5Q130.1 137.2 130.6 135.8Q131.1 134.5 132 133.4Q132.9 132.2 134.2 131.6Q135.5 131.1 136.8 130.6Q138.1 130.1 139.6 129.9Q141 129.7 142.3 130.3Q143.6 131 144.8 131.7Q146 132.4 147 133.5Q147.9 134.5 148.5 135.8Q149.1 137.1 149.4 138.5Q149.7 139.9 148.8 141.1Z"/><path d="M17 78.6Q16.8 79.9 15.9 80.8Q15.1 81.8 14.2 82.5Q13.3 83.3 12.6 84.3Q11.8 85.3 10.7 86.2Q9.6 87 8.3 86.5Q7 85.9 5.9 85.2Q4.9 84.5 3.9 84Q2.9 83.4 2.1 82.7Q1.2 81.9 -0 81Q-1.2 80.2 -0.7 78.8Q-0.3 77.4 0.5 76.4Q1.3 75.4 1.8 74.5Q2.3 73.7 2.9 72.8Q3.4 71.9 4 70.8Q4.6 69.7 5.8 69.8Q7 69.8 8.1 70.1Q9.1 70.3 10.1 70.7Q11 71.1 12 71.4Q13 71.7 14.3 72.2Q15.5 72.6 15.9 73.8Q16.4 74.9 16.8 76.1Q17.2 77.3 17 78.6Z"/><path d="M135.7 56.7Q136.1 57.8 135.8 58.9Q135.5 59.9 134.8 60.9Q134.2 61.9 133 62Q131.7 62.2 130.8 62.5Q129.8 62.8 128.7 63.1Q127.6 63.4 126.6 63.1Q125.5 62.9 124.6 62.2Q123.7 61.5 122.8 60.8Q121.9 60 121.5 59Q121.1 57.9 120.9 56.8Q120.7 55.7 120.6 54.5Q120.6 53.3 121 52.2Q121.5 51 122.4 50.2Q123.3 49.4 124.3 48.8Q125.3 48.2 126.4 48Q127.6 47.9 128.7 48.2Q129.7 48.5 130.8 48.7Q131.8 48.9 132.8 49.3Q133.9 49.7 134.1 50.9Q134.4 52 134.7 52.9Q135 53.8 135.2 54.7Q135.3 55.6 135.7 56.7Z"/><path d="M77.9 22.9Q77.3 23.9 76.7 24.7Q76.1 25.4 75.5 26.2Q75 26.9 74.4 27.9Q73.8 28.9 72.9 29.7Q71.9 30.5 70.7 30Q69.6 29.6 68.4 29.6Q67.2 29.7 65.9 29.3Q64.7 28.9 64.3 27.6Q63.9 26.3 63.6 25.2Q63.2 24.2 62.8 23.1Q62.4 22 61.9 20.6Q61.5 19.3 62.2 18.2Q62.9 17 63.8 16.1Q64.8 15.2 66.1 15.1Q67.4 14.9 68.5 14.9Q69.6 14.9 70.6 14.8Q71.7 14.8 72.8 14.8Q73.9 14.8 74.6 15.7Q75.3 16.6 75.7 17.5Q76.2 18.4 76.7 19.2Q77.2 20 77.8 21Q78.4 21.9 77.9 22.9Z"/><path d="M181.1 71.6Q180.2 72.7 179.6 73.6Q179 74.5 178.4 75.4Q177.8 76.2 177.1 77.3Q176.4 78.5 175.3 78.8Q174.1 79.2 172.9 78.7Q171.7 78.3 170.8 77.7Q169.8 77.1 168.8 76.8Q167.8 76.5 166.6 75.9Q165.4 75.4 165.3 74.1Q165.2 72.8 165.5 71.7Q165.7 70.6 165.7 69.6Q165.7 68.5 165.8 67.3Q165.9 66.2 166.4 65Q166.9 63.8 167.8 62.8Q168.7 61.7 170.1 61.3Q171.4 61 172.7 61.4Q174 61.8 175.2 62.2Q176.4 62.7 177.6 63.1Q178.9 63.5 179.9 64.4Q180.9 65.3 181.4 66.6Q181.9 67.9 182 69.2Q182.1 70.5 181.1 71.6Z"/><path d="M0.2 58.7Q0 59.9 -0.4 61Q-0.8 62.2 -2.1 62.6Q-3.4 62.9 -4.4 63.3Q-5.4 63.6 -6.3 63.8Q-7.2 64.1 -8.2 64.6Q-9.2 65.1 -10.4 65Q-11.5 64.9 -12.5 64.3Q-13.5 63.7 -14.5 63Q-15.6 62.3 -16.4 61.2Q-17.3 60.2 -17.6 58.9Q-17.9 57.5 -17.1 56.3Q-16.3 55.1 -15.6 54.2Q-14.8 53.3 -14 52.5Q-13.1 51.8 -12.5 50.7Q-11.8 49.7 -10.6 49.5Q-9.4 49.3 -8.2 49.6Q-7.1 49.9 -6 50Q-4.8 50 -3.4 50.2Q-2 50.3 -1 51.3Q-0.1 52.2 0.3 53.6Q0.6 54.9 0.5 56.2Q0.4 57.5 0.2 58.7Z"/><path d="M99.1 112.9Q98.4 113.9 97.8 114.7Q97.1 115.5 96.6 116.3Q96.1 117.1 95.4 117.9Q94.8 118.8 93.9 120Q93 121.3 91.7 120.6Q90.5 120 89.6 119.1Q88.7 118.3 88.1 117.5Q87.5 116.7 86.9 116Q86.3 115.4 85.6 114.7Q84.8 114 84.3 113Q83.7 112 83.9 110.9Q84.2 109.8 84.8 108.9Q85.5 108 86.3 107.5Q87.2 106.9 88.1 106.6Q89 106.2 89.8 105.6Q90.6 104.9 91.7 104Q92.9 103.1 94.2 103.1Q95.6 103.1 96.6 104.1Q97.6 105 98.4 106Q99.2 107.1 100 108.2Q100.8 109.2 100.3 110.6Q99.9 111.9 99.1 112.9Z"/><path d="M34.9 75Q34.2 76.2 33.9 77.4Q33.6 78.6 33.1 79.8Q32.5 81.1 31.2 81.4Q29.9 81.7 28.6 81.5Q27.3 81.3 26.3 81Q25.3 80.8 24.4 80.3Q23.5 79.9 22.4 79.8Q21.3 79.6 20 79.2Q18.6 78.8 18.3 77.6Q18 76.3 17.5 75.1Q17 73.9 17.6 72.7Q18.2 71.5 19.2 70.8Q20.1 70 21 69.4Q21.9 68.9 22.6 68.3Q23.4 67.7 24.2 66.9Q25.1 66.1 26.3 65.3Q27.6 64.5 28.8 65Q30 65.5 30.8 66.6Q31.6 67.7 32.1 68.7Q32.7 69.7 33.2 70.7Q33.8 71.6 34.7 72.7Q35.6 73.8 34.9 75Z"/><path d="M26.6 -0.6Q26.9 0.6 27.3 2.2Q27.7 3.8 26.9 5.2Q26.2 6.6 24.4 6.4Q22.6 6.3 21.4 6.5Q20.2 6.7 19 6.7Q17.7 6.7 16.4 6.8Q15 7 13.6 6.5Q12.3 6 11.7 4.6Q11.2 3.3 10.9 2Q10.5 0.7 10.2 -0.5Q9.9 -1.7 11 -2.7Q12 -3.8 12.8 -4.5Q13.5 -5.2 14 -6Q14.6 -6.7 15.2 -7.6Q15.8 -8.4 16.8 -8.8Q17.8 -9.2 18.9 -8.9Q19.9 -8.7 20.9 -8.5Q21.9 -8.3 23 -8.1Q24.2 -7.8 24.8 -6.9Q25.4 -6 25.6 -4.9Q25.8 -3.8 26 -2.8Q26.2 -1.8 26.6 -0.6Z"/><path d="M12.4 162.7Q11.4 163.8 10.8 164.6Q10.2 165.5 9.5 166.2Q8.8 166.9 8.2 167.9Q7.6 168.9 6.5 169Q5.4 169.2 4.3 168.9Q3.3 168.7 2.3 168.4Q1.3 168.2 0.3 167.9Q-0.7 167.6 -2.1 167.2Q-3.5 166.8 -3.8 165.5Q-4 164.2 -3.4 163Q-2.9 161.7 -2.2 160.9Q-1.5 160 -1.4 159.1Q-1.2 158.2 -0.8 157.3Q-0.4 156.3 0 154.9Q0.4 153.4 1.7 152.9Q2.9 152.4 4.2 152.6Q5.5 152.8 6.6 153.5Q7.7 154.2 8.6 154.9Q9.6 155.6 10.6 156.3Q11.6 157 12.6 158Q13.5 159 13.5 160.3Q13.5 161.7 12.4 162.7Z"/><path d="M156.5 1.6Q156.3 3 155.6 4.2Q154.9 5.3 153.9 6.3Q153 7.2 151.6 7.2Q150.2 7.3 149.1 7.3Q148 7.2 147 7.2Q146 7.2 145 7Q144 6.8 143.4 6Q142.7 5.2 142.1 4.5Q141.5 3.8 140.9 3Q140.3 2.3 139.2 1.3Q138.1 0.3 138.3 -0.9Q138.5 -2.2 139.5 -3Q140.4 -3.9 141.4 -4.5Q142.3 -5.1 143.1 -5.6Q143.9 -6.2 144.8 -7Q145.8 -7.8 146.9 -7.6Q148 -7.4 149 -7Q150.1 -6.7 151.3 -6.4Q152.4 -6.1 153.7 -5.5Q155 -5 155.5 -3.7Q156 -2.4 156.3 -1.1Q156.6 0.2 156.5 1.6Z"/><path d="M80.8 74.5Q80.5 75.9 79.7 77Q78.9 78.1 78.2 79.1Q77.4 80.2 76.2 80.7Q75 81.3 73.7 81.1Q72.4 80.9 71.4 80.7Q70.3 80.5 69.2 80.3Q68.2 80.1 66.9 80Q65.6 79.9 64.3 79.2Q63 78.6 62.7 77.2Q62.3 75.9 61.9 74.6Q61.4 73.3 61.7 71.9Q61.9 70.5 63.2 69.7Q64.4 68.8 65.3 68.1Q66.2 67.4 67.1 66.6Q67.9 65.9 69 65.2Q70 64.5 71.4 64Q72.7 63.5 73.7 64.6Q74.7 65.7 75.7 66.4Q76.6 67.1 77.3 68Q78 68.9 78.6 69.9Q79.2 70.9 80.2 72Q81.1 73.2 80.8 74.5Z"/><path d="M16.4 108.7Q16.8 109.8 17.2 111.3Q17.7 112.8 17.1 114.2Q16.5 115.6 15.2 116.3Q13.9 117 12.5 117.2Q11 117.4 9.7 116.8Q8.4 116.2 7.2 115.9Q6 115.6 5 114.9Q3.9 114.3 2.9 113.5Q1.9 112.6 1.4 111.5Q0.8 110.3 0.3 109Q-0.1 107.7 1.1 106.6Q2.3 105.6 3 104.7Q3.7 103.9 4.4 103.2Q5.1 102.6 5.9 101.9Q6.7 101.3 7.5 100.3Q8.4 99.3 9.7 98.4Q11 97.5 12.3 98.2Q13.6 98.9 14.1 100.3Q14.7 101.7 15 102.9Q15.3 104 15.4 104.9Q15.6 105.9 15.8 106.8Q16 107.6 16.4 108.7Z"/><path d="M18.6 39Q18.2 40.2 17.6 41.2Q17.1 42.3 16.5 43.4Q16 44.5 14.7 44.8Q13.4 45.1 12.4 45.4Q11.3 45.8 10.1 46Q8.9 46.3 7.5 46.4Q6.2 46.5 5.1 45.6Q4.1 44.8 3.9 43.4Q3.7 42 3.5 40.9Q3.4 39.8 3.2 38.8Q3 37.8 2.8 36.8Q2.6 35.7 2.3 34.2Q2 32.7 2.8 31.5Q3.6 30.4 4.9 29.9Q6.2 29.4 7.5 28.9Q8.7 28.4 10.1 28.3Q11.4 28.2 12.7 28.8Q13.9 29.4 15.1 30Q16.4 30.5 17.4 31.5Q18.4 32.4 18.8 33.8Q19.3 35.1 19.2 36.4Q19.1 37.8 18.6 39Z"/><path d="M111.5 148Q111.7 149 111.9 150.3Q112.1 151.6 111.8 153Q111.5 154.5 110 154.6Q108.5 154.7 107.3 154.4Q106.1 154.2 105.1 154Q104.1 153.8 103.1 153.7Q102.1 153.5 101.1 153.2Q100 152.9 99 152.3Q98 151.6 97.7 150.5Q97.4 149.3 97.4 148.2Q97.4 147.1 97.4 146Q97.3 144.8 97.7 143.7Q98.1 142.6 99.1 142.1Q100.2 141.5 101 140.9Q101.9 140.2 102.9 139.6Q103.8 139 105.1 138.3Q106.4 137.6 107.7 137.9Q109 138.2 109.8 139.5Q110.5 140.7 110.6 142Q110.8 143.3 110.9 144.3Q111.1 145.3 111.2 146.2Q111.3 147.1 111.5 148Z"/><path d="M237 90.9Q236.8 92.3 235.5 93.2Q234.3 94.1 233.3 94.7Q232.3 95.3 231.1 95.5Q230 95.6 229.1 96.1Q228.2 96.7 227.2 97Q226.1 97.2 224.6 97.9Q223 98.6 221.9 97.8Q220.7 97 220.3 95.6Q219.9 94.2 220 92.9Q220.1 91.6 220.2 90.6Q220.4 89.5 220.4 88.5Q220.5 87.6 220.5 86.4Q220.5 85.3 221.3 84.5Q222.1 83.7 223 83Q223.8 82.2 224.9 81.6Q225.9 80.9 227.1 81.5Q228.2 82 229.2 82.5Q230.2 82.9 231.3 83.2Q232.4 83.5 233.6 84Q234.9 84.5 235.9 85.6Q236.9 86.6 237 88.1Q237.1 89.5 237 90.9Z"/><path d="M71.6 61.3Q71.3 62.6 70.2 63.5Q69.1 64.4 68.2 65.1Q67.2 65.8 66.3 66.5Q65.4 67.1 64.3 67.6Q63.3 68.1 62 69.1Q60.6 70.1 59.5 69.1Q58.3 68.2 57.9 66.7Q57.5 65.3 57.2 64.3Q56.8 63.3 56.4 62.5Q56 61.7 55.5 60.8Q55 60 54.4 58.7Q53.8 57.5 54.4 56.5Q55.1 55.5 55.8 54.6Q56.6 53.7 57.8 53.5Q59 53.3 60 53.1Q61 52.9 62.1 52.5Q63.2 52.1 64.2 52.5Q65.3 52.8 66.1 53.5Q67 54.2 68 54.8Q69 55.4 70.3 56.3Q71.5 57.1 71.7 58.5Q71.9 59.9 71.6 61.3Z"/><path d="M107.8 44Q107.6 45.1 107.7 46.5Q107.7 47.9 106.6 48.6Q105.4 49.3 104.5 50.1Q103.5 50.9 102.4 51.9Q101.3 53 99.9 52.1Q98.6 51.3 97.6 50.6Q96.6 49.8 95.9 49Q95.1 48.3 94.2 47.7Q93.2 47.1 92.1 46.3Q91 45.5 90.3 44.2Q89.7 42.9 90.1 41.5Q90.6 40.2 91.4 39.1Q92.3 38.1 93.1 37.1Q93.8 36 95 35.6Q96.2 35.1 97.4 35.2Q98.7 35.4 99.8 35.1Q100.9 34.9 102.2 34.7Q103.5 34.6 104.8 35Q106.1 35.5 106.8 36.7Q107.5 37.9 107.4 39.2Q107.4 40.6 107.6 41.7Q107.9 42.8 107.8 44Z"/><path d="M173.8 85.2Q173 86.2 172.2 86.9Q171.4 87.6 170.8 88.2Q170.2 88.8 169.6 89.4Q168.9 90.1 168.1 90.9Q167.3 91.7 166.3 91.2Q165.3 90.6 164.4 90.4Q163.6 90.1 162.8 89.6Q162 89.1 160.9 88.8Q159.8 88.4 159.8 87.3Q159.8 86.1 159.9 85.2Q160 84.3 160 83.4Q160.1 82.5 160 81.3Q160 80.2 160.2 78.9Q160.4 77.5 161.5 77Q162.7 76.6 163.8 76.2Q165 75.8 166.1 76.5Q167.2 77.1 168.1 77.5Q169.1 78 170 78.4Q170.9 78.8 172 79.3Q173.1 79.8 174 80.7Q174.9 81.7 174.8 82.9Q174.7 84.2 173.8 85.2Z"/><path d="M211.5 62.3Q212.6 63.8 211.8 64.9Q210.9 66.1 210 67.1Q209.1 68.1 207.9 68.7Q206.7 69.3 205.4 69.5Q204.2 69.7 202.9 69.8Q201.6 69.9 200.3 69.8Q198.9 69.7 198 68.7Q197 67.8 196.7 66.4Q196.4 65.1 196.1 64.1Q195.8 63 195.7 62Q195.5 61 195.1 59.8Q194.8 58.6 195.1 57.4Q195.5 56.2 196.6 55.7Q197.8 55.1 198.9 54.8Q199.9 54.5 200.8 54Q201.8 53.5 202.9 53.1Q204 52.8 205 53.5Q205.9 54.2 206.5 55.2Q207 56.1 207.5 56.9Q208 57.6 208.5 58.4Q209 59.1 209.6 60Q210.3 60.9 211.5 62.3Z"/><path d="M200.1 111.7Q199.7 112.8 198.9 113.5Q198.2 114.3 197.5 115Q196.9 115.6 196.1 116.2Q195.3 116.7 194.5 117.6Q193.7 118.5 192.6 118.4Q191.5 118.3 190.6 117.8Q189.6 117.2 188.7 116.7Q187.8 116.3 186.7 115.7Q185.7 115.2 185.5 114Q185.3 112.9 185.7 111.8Q186.1 110.7 186.3 109.9Q186.6 109 186.7 108Q186.9 107.1 187.5 106.3Q188 105.5 189 105.3Q190 105.1 190.9 104.9Q191.7 104.6 192.6 104.4Q193.5 104.1 194.6 103.9Q195.8 103.7 197 104Q198.2 104.2 198.6 105.4Q199 106.6 199.4 107.6Q199.9 108.6 200.2 109.6Q200.5 110.7 200.1 111.7Z"/><path d="M9.7 20.7Q9.8 21.7 9.9 23Q10 24.3 9.4 25.5Q8.9 26.7 7.8 27.4Q6.6 28.1 5.4 28.7Q4.2 29.3 2.8 29.3Q1.4 29.3 0.1 28.9Q-1.3 28.5 -2.5 27.8Q-3.6 27.1 -4.4 25.9Q-5.1 24.7 -5.7 23.5Q-6.2 22.3 -6.5 21Q-6.8 19.7 -6.6 18.4Q-6.3 17 -5.8 15.8Q-5.3 14.5 -4.4 13.5Q-3.5 12.4 -2.1 12.3Q-0.7 12.2 0.5 12.1Q1.6 12 2.7 12.1Q3.8 12.2 5 12Q6.3 11.9 7.6 12.2Q8.9 12.5 9.2 13.9Q9.5 15.3 9.4 16.5Q9.3 17.7 9.4 18.7Q9.5 19.6 9.7 20.7Z"/><path d="M139.3 42.4Q139.8 43.5 138.9 44.3Q138.1 45.1 137.2 45.7Q136.4 46.2 135.7 47Q135.1 47.8 134.1 48.2Q133.2 48.6 132.1 48.3Q131.1 48.1 130.2 47.8Q129.3 47.5 128.3 47.2Q127.3 46.8 126.5 46.1Q125.7 45.4 125.7 44.3Q125.7 43.2 125.8 42.2Q125.9 41.3 126 40.4Q126.1 39.6 126 38.4Q125.8 37.3 125.8 35.7Q125.9 34.2 127 33.5Q128.2 32.8 129.5 33Q130.9 33.2 132.1 33.3Q133.2 33.3 134.3 33.7Q135.4 34 136 35Q136.7 36 137 37Q137.3 37.9 137.6 38.7Q138 39.5 138.4 40.4Q138.9 41.3 139.3 42.4Z"/><path d="M176.6 38.8Q175.4 39.8 174.5 40.5Q173.6 41.2 173.1 42Q172.6 42.8 171.9 43.5Q171.1 44.1 170.2 44.9Q169.4 45.7 168.1 46.5Q166.8 47.2 165.5 46.8Q164.3 46.4 163 45.9Q161.7 45.3 160.8 44.2Q160 43 159.4 41.8Q158.8 40.5 158.7 39.2Q158.6 37.8 158.8 36.4Q159 35.1 159.8 34Q160.7 32.9 162.1 32.6Q163.5 32.3 164.4 32Q165.4 31.7 166.3 31.4Q167.2 31 168.2 30.6Q169.2 30.2 170.2 30.7Q171.2 31.1 171.8 32Q172.4 32.8 173.3 33.4Q174.2 33.9 175 34.7Q175.8 35.5 176.8 36.6Q177.9 37.7 176.6 38.8Z"/><path d="M79 48.2Q78.4 49.2 77.8 49.9Q77.2 50.7 76.7 51.4Q76.2 52.2 75.4 52.8Q74.7 53.5 73.9 54.7Q73.2 55.9 71.9 55.9Q70.7 55.8 69.7 55Q68.8 54.1 67.9 53.5Q67.1 52.9 66.1 52.2Q65.2 51.6 65 50.5Q64.7 49.4 64.9 48.4Q65 47.3 65.2 46.4Q65.4 45.4 65.5 44.4Q65.7 43.3 66.7 43Q67.8 42.6 68.6 42.2Q69.4 41.9 70.2 41.5Q71 41.1 71.9 40.6Q72.9 40.2 74.2 39.6Q75.6 39.1 76.7 39.8Q77.8 40.4 78.8 41.3Q79.9 42.1 80.9 43.2Q81.8 44.3 80.7 45.8Q79.6 47.3 79 48.2Z"/><path d="M141.9 25.8Q141.1 26.8 140.4 27.6Q139.7 28.3 139 28.9Q138.3 29.5 137.8 30.4Q137.3 31.4 136.4 32.1Q135.5 32.9 134.3 32.8Q133.2 32.6 132.1 32.4Q131 32.1 129.7 31.9Q128.5 31.6 127.5 30.8Q126.5 29.9 126.1 28.7Q125.6 27.4 125.7 26.2Q125.8 24.9 126 23.7Q126.3 22.5 126.7 21.4Q127 20.2 127.8 19.3Q128.6 18.4 130 18.4Q131.4 18.5 132.4 18.7Q133.4 18.8 134.3 18.8Q135.1 18.9 136 19Q136.9 19.2 138 19.2Q139.1 19.2 140.5 19.6Q141.9 20 142.4 21.1Q143 22.3 142.8 23.6Q142.6 24.8 141.9 25.8Z"/><path d="M150.2 53.1Q149.8 54.2 149.4 55.4Q149 56.5 148.1 57.3Q147.1 58.1 145.9 58.1Q144.6 58.1 143.6 58.1Q142.6 58.1 141.8 58.1Q140.9 58.2 139.9 58.2Q138.9 58.2 138 57.8Q137.1 57.3 136.7 56.3Q136.4 55.4 136.1 54.5Q135.9 53.6 135.7 52.8Q135.6 51.9 135.2 50.9Q134.8 49.9 135.4 49.1Q136 48.2 136.7 47.5Q137.3 46.8 138.1 46.3Q138.9 45.8 139.8 45.1Q140.6 44.4 141.7 44.6Q142.8 44.7 143.7 45Q144.7 45.3 145.8 45.6Q146.9 45.9 148.2 46.4Q149.5 46.9 150.4 48Q151.3 49.1 150.9 50.5Q150.6 51.9 150.2 53.1Z"/><path d="M104.9 27.7Q105.5 28.9 105.5 30.3Q105.5 31.7 104.6 32.6Q103.6 33.4 102.3 33.7Q101 34 99.8 33.9Q98.7 33.8 97.6 34Q96.5 34.2 95.2 34.6Q93.8 34.9 93.4 33.5Q93 32 92.7 31Q92.5 29.9 92.2 29.1Q92 28.3 91.7 27.4Q91.4 26.6 91.1 25.6Q90.7 24.6 90.3 23.2Q89.9 21.7 90.6 20.5Q91.3 19.3 92.6 18.9Q93.9 18.5 95.1 18.3Q96.4 18.2 97.6 18.2Q98.8 18.2 99.9 18.8Q100.9 19.3 101.4 20.5Q101.9 21.6 102.3 22.4Q102.7 23.3 103.1 24.1Q103.4 24.9 103.8 25.7Q104.3 26.6 104.9 27.7Z"/><path d="M200.9 141.8Q201 142.7 201.2 143.9Q201.4 145.1 200.5 145.8Q199.6 146.5 198.5 146.6Q197.4 146.8 196.5 147Q195.6 147.2 194.7 147.3Q193.8 147.5 192.7 147.6Q191.6 147.7 190.1 147.8Q188.6 148 187.8 146.9Q187.1 145.8 186.2 144.7Q185.3 143.7 185.1 142.3Q185 140.9 185.2 139.5Q185.4 138.2 186.3 137.1Q187.2 136.1 188.4 135.5Q189.5 134.9 190.4 134.2Q191.3 133.5 192.4 132.7Q193.4 131.8 194.7 131.6Q196 131.4 197.5 131.5Q198.9 131.7 199.3 133.3Q199.8 135 200 136.1Q200.2 137.3 200.3 138.2Q200.4 139.2 200.5 140Q200.7 140.8 200.9 141.8Z"/><path d="M150.7 66.5Q150.4 67.7 150.1 68.9Q149.8 70.2 148.7 70.9Q147.7 71.7 146.6 72.2Q145.5 72.6 144.4 73Q143.3 73.4 142 73.9Q140.8 74.5 139.6 73.8Q138.5 73.1 138.1 71.8Q137.6 70.4 137.4 69.4Q137.1 68.4 136.8 67.7Q136.4 66.9 136.2 66.1Q135.9 65.3 135.5 64.3Q135.1 63.2 135.5 62.3Q135.9 61.3 136.5 60.4Q137 59.5 138.1 59.3Q139.2 59 140.2 59.1Q141.2 59.2 142 59.2Q142.9 59.2 143.9 59.2Q144.8 59.1 146.3 58.9Q147.7 58.6 148.6 59.5Q149.5 60.4 150.1 61.6Q150.7 62.7 150.9 64Q151.1 65.2 150.7 66.5Z"/><path d="M124 117.8Q123.7 118.8 123.7 119.8Q123.6 120.8 122.7 121.3Q121.8 121.8 120.9 122.2Q120.1 122.6 119.3 122.9Q118.4 123.2 117.5 123.3Q116.6 123.3 115.9 122.8Q115.1 122.3 114.5 121.8Q113.8 121.3 113 120.8Q112.2 120.4 111.2 119.8Q110.2 119.1 109.9 118.1Q109.7 117 109.5 115.8Q109.4 114.6 109.1 113Q108.8 111.4 110.2 110.7Q111.5 110.1 112.8 109.7Q114 109.3 115.2 109.5Q116.5 109.8 117.4 110.2Q118.4 110.6 119.2 110.9Q120.1 111.3 121.1 111.5Q122 111.7 123.2 112.1Q124.4 112.5 124.6 113.6Q124.8 114.8 124.5 115.9Q124.2 116.9 124 117.8Z"/><path d="M217.4 -8.4Q216.3 -7.4 215.6 -6.7Q214.9 -6 214.3 -5.4Q213.6 -4.9 213 -4.2Q212.4 -3.6 211.6 -2.8Q210.8 -2.1 209.8 -2.5Q208.9 -2.9 208 -3.3Q207.2 -3.6 206.3 -3.9Q205.4 -4.2 204.1 -4.6Q202.9 -4.9 201.8 -5.7Q200.6 -6.6 200.2 -7.9Q199.9 -9.3 200.3 -10.6Q200.7 -11.9 201.5 -13Q202.2 -14.1 202.6 -15.5Q203.1 -17 204.3 -17.7Q205.6 -18.4 206.9 -18.8Q208.3 -19.3 209.7 -19.3Q211.1 -19.3 212.6 -19.1Q214.1 -18.8 214.7 -17.3Q215.3 -15.7 215.8 -14.7Q216.4 -13.6 216.8 -12.6Q217.3 -11.6 217.9 -10.5Q218.5 -9.3 217.4 -8.4Z"/><path d="M48.7 151.4Q48.7 152.5 48.6 153.7Q48.5 154.9 47.4 155.4Q46.2 155.9 45.1 156Q44 156 43.2 156.1Q42.3 156.2 41.4 156.4Q40.6 156.5 39.5 156.7Q38.5 156.9 37.7 156.2Q36.9 155.6 36.5 154.7Q36 153.9 35.5 153.1Q35 152.3 34.5 151.3Q34 150.4 33.2 149Q32.3 147.7 32.9 146.5Q33.5 145.3 34.4 144.3Q35.3 143.4 36.3 142.4Q37.3 141.4 38.6 141Q40 140.6 41.3 141.4Q42.6 142.1 43.5 142.9Q44.5 143.6 45.3 144.2Q46.2 144.8 47.2 145.4Q48.1 146 48.6 147Q49.1 148.1 48.9 149.2Q48.7 150.3 48.7 151.4Z"/><path d="M191.5 167.3Q191.1 168.3 190.8 169.2Q190.4 170.1 190.1 171.2Q189.7 172.3 188.9 173.2Q188.1 174.2 186.9 174.4Q185.7 174.6 184.6 174.2Q183.5 173.7 182.5 173.3Q181.5 173 180.6 172.5Q179.6 172 179.3 170.9Q179.1 169.9 178.9 168.9Q178.8 168 178.7 167.2Q178.5 166.4 178.3 165.4Q178 164.5 178 163.3Q178 162.2 179.1 161.7Q180.1 161.3 181 160.9Q181.9 160.6 182.7 160.3Q183.6 160 184.6 159.5Q185.5 159.1 186.5 159.3Q187.5 159.6 188.2 160.5Q188.8 161.4 189.4 162.1Q190 162.8 190.8 163.5Q191.6 164.2 191.7 165.3Q191.9 166.3 191.5 167.3Z"/><path d="M10.8 5.2Q11 6.5 10.3 7.7Q9.5 8.8 8.6 9.8Q7.7 10.8 6.3 11Q5 11.1 3.8 11.2Q2.7 11.2 1.6 11.1Q0.6 11 -0.7 11.3Q-1.9 11.6 -3.3 11.3Q-4.6 11 -5.5 10Q-6.4 9 -6.8 7.7Q-7.3 6.4 -6.7 5.1Q-6.2 3.8 -5.5 2.9Q-4.8 1.9 -4.4 1.1Q-4 0.2 -3.5 -0.7Q-3 -1.5 -2.5 -2.7Q-1.9 -3.8 -0.7 -3.9Q0.5 -3.9 1.5 -3.6Q2.6 -3.2 3.6 -3Q4.5 -2.7 5.5 -2.3Q6.4 -1.8 7.7 -1.4Q8.9 -0.9 9.3 0.2Q9.6 1.4 10.1 2.6Q10.6 3.8 10.8 5.2Z"/><path d="M145.4 -10.2Q145.9 -9 144.9 -8.3Q143.9 -7.6 143.1 -7Q142.4 -6.4 141.6 -5.8Q140.8 -5.3 140 -4.6Q139.2 -3.9 138 -3Q136.8 -2.2 135.6 -2.8Q134.5 -3.3 133.3 -3.9Q132.2 -4.4 132.2 -6Q132.3 -7.5 132.3 -8.6Q132.3 -9.6 132.5 -10.4Q132.6 -11.3 132.5 -12.1Q132.4 -12.9 132.4 -13.9Q132.5 -14.9 132.4 -16.4Q132.3 -17.9 133.2 -18.9Q134.1 -19.8 135.5 -19.9Q136.8 -20 138.1 -20.1Q139.3 -20.3 140.6 -19.9Q141.8 -19.5 142.2 -18.1Q142.7 -16.7 143 -15.7Q143.3 -14.7 143.7 -13.9Q144 -13.1 144.5 -12.2Q145 -11.3 145.4 -10.2Z"/><path d="M4.1 144.3Q4.1 145.3 4 146.4Q3.8 147.5 3.6 148.9Q3.3 150.3 2.2 150.9Q1.1 151.5 -0.3 151.1Q-1.6 150.8 -2.6 150.1Q-3.6 149.5 -4.4 149.2Q-5.2 148.9 -5.9 148.4Q-6.6 147.9 -7.7 147.6Q-8.7 147.2 -9.6 146.4Q-10.6 145.7 -11 144.5Q-11.4 143.4 -10.9 142.3Q-10.3 141.1 -9.5 140.3Q-8.7 139.5 -8.1 138.7Q-7.4 138 -6.6 137.3Q-5.8 136.7 -4.8 136Q-3.9 135.3 -2.8 135.7Q-1.7 136.1 -0.6 136.2Q0.4 136.4 1.6 136.7Q2.7 137.1 3.7 137.8Q4.7 138.5 4.6 139.9Q4.4 141.2 4.2 142.3Q4 143.3 4.1 144.3Z"/><path d="M117 128.1Q117 129 117.1 130.1Q117.1 131.3 116.6 132.3Q116.1 133.3 115.2 134Q114.2 134.6 113.2 135.4Q112.1 136.2 110.8 136.2Q109.6 136.2 108.3 135.9Q107 135.6 106.5 134.2Q106 132.9 105.6 131.9Q105.2 130.9 105 130Q104.7 129 104.4 128.2Q104 127.3 104.4 126.4Q104.9 125.5 105.4 124.8Q106 124.2 106.6 123.6Q107.1 123 107.8 122.5Q108.4 121.9 109 120.8Q109.7 119.7 110.7 120.5Q111.7 121.2 112.4 121.7Q113.1 122.3 113.7 122.7Q114.3 123.1 115.2 123.5Q116 123.9 116.5 124.6Q117 125.4 117 126.3Q116.9 127.2 117 128.1Z"/><path d="M41.9 102Q41.3 103 41 103.9Q40.8 104.9 40.2 105.8Q39.7 106.7 39.1 108Q38.5 109.2 37.2 108.7Q35.9 108.3 34.9 107.9Q33.9 107.5 32.9 107.5Q31.9 107.4 31 107.1Q30 106.7 29.4 105.8Q28.9 104.9 28.7 103.9Q28.5 103 28.2 102Q27.9 101.1 27.6 100Q27.4 98.9 28 98.1Q28.7 97.2 29.4 96.4Q30 95.6 30.9 95Q31.7 94.4 32.6 93.3Q33.5 92.3 34.8 92.2Q36.1 92.1 37.3 92.6Q38.4 93 39.4 93.8Q40.4 94.6 41.3 95.4Q42.2 96.3 42.7 97.4Q43.2 98.6 42.8 99.8Q42.4 101.1 41.9 102Z"/><path d="M210.6 13.6Q210.5 14.9 209.8 16Q209 17 207.8 17.5Q206.6 17.9 205.6 18.3Q204.7 18.6 203.8 19.2Q202.9 19.9 201.7 20.4Q200.6 20.9 199.5 20.3Q198.4 19.8 197.2 19.4Q196 19.1 195 18.3Q194 17.4 193.6 16.2Q193.3 14.9 193 13.7Q192.6 12.4 193.4 11.3Q194.1 10.2 195.1 9.4Q196 8.7 196.5 7.8Q197 7 197.8 6.1Q198.5 5.2 199.6 5.4Q200.8 5.5 201.7 5.9Q202.7 6.2 203.5 6.6Q204.3 6.9 205.1 7.2Q206 7.5 207 7.9Q208.1 8.3 209 9.1Q210 9.9 210.4 11.2Q210.7 12.4 210.6 13.6Z"/><path d="M36.9 55.1Q37.1 56 37 57Q37 58 36.2 58.6Q35.5 59.2 34.7 59.7Q34 60.2 33.1 60.8Q32.3 61.3 31.2 61.8Q30.1 62.3 29 61.9Q28 61.5 27.5 60.3Q27.1 59.1 26.7 58.3Q26.2 57.5 26.2 56.7Q26.1 55.8 26 55Q25.8 54.3 25.5 53.4Q25.3 52.6 25.7 51.8Q26.1 51 26.9 50.7Q27.7 50.3 28.3 49.7Q28.8 49.1 29.6 48.6Q30.3 48.1 31.3 47.3Q32.3 46.5 33.4 46.8Q34.5 47.1 35.1 48.1Q35.6 49.1 35.9 50.1Q36.2 51.1 36.3 51.9Q36.4 52.7 36.5 53.5Q36.7 54.3 36.9 55.1Z"/><path d="M185.8 181.7Q185.5 182.6 185.6 183.6Q185.7 184.6 185.4 185.8Q185.1 186.9 184.4 187.9Q183.6 189 182.4 189.3Q181.2 189.6 179.9 189.6Q178.7 189.6 177.5 189.3Q176.2 189 175.5 187.9Q174.8 186.8 174.2 185.9Q173.6 185 173.2 184Q172.8 183 172.2 182Q171.5 181 172.3 180Q173.1 179 173.9 178.3Q174.6 177.6 175.3 177Q175.9 176.3 176.5 175.7Q177.2 175.1 178 174.4Q178.8 173.8 179.9 173.8Q180.9 173.8 181.9 174.1Q182.9 174.3 184 174.6Q185.1 174.9 185.9 175.7Q186.7 176.5 186.5 177.8Q186.3 179 186.1 180Q186 180.9 185.8 181.7Z"/><path d="M190.7 18.8Q190.4 19.9 189.4 20.8Q188.5 21.6 187.7 22.2Q186.9 22.8 186 23.4Q185.2 24 184.2 24Q183.2 23.9 182.4 23.6Q181.5 23.3 180.8 23Q180 22.6 179.3 22.3Q178.6 21.9 177.7 21.6Q176.7 21.2 175.7 20.5Q174.8 19.8 174.6 18.7Q174.4 17.6 174.8 16.6Q175.2 15.5 176.2 14.9Q177.2 14.4 178 14Q178.8 13.6 179.4 13.1Q180 12.6 180.7 12Q181.4 11.4 182.4 10.8Q183.4 10.1 184.4 10.5Q185.4 10.8 186.4 11.2Q187.5 11.6 188.4 12.3Q189.3 13.1 189.9 14.1Q190.5 15.2 190.7 16.4Q191 17.6 190.7 18.8Z"/><path d="M125.7 69Q125.6 69.8 125.6 70.8Q125.6 71.8 124.7 72.2Q123.9 72.7 123.2 73.1Q122.4 73.5 121.7 73.8Q120.9 74.1 120 74.4Q119.1 74.6 117.7 75.5Q116.3 76.3 115.6 75.3Q114.8 74.3 114.3 73.3Q113.8 72.2 113.3 71.3Q112.7 70.4 112.2 69.3Q111.7 68.2 112.7 67.3Q113.7 66.4 114.5 65.8Q115.3 65.2 115.8 64.6Q116.3 64 117 63.5Q117.6 63.1 118.3 62.3Q119 61.5 120.1 61Q121.1 60.5 122 61.2Q122.9 61.9 123.7 62.4Q124.6 62.9 125.4 63.5Q126.2 64.2 126 65.3Q125.9 66.5 125.8 67.3Q125.8 68.2 125.7 69Z"/><path d="M183.6 140.1Q183.4 141.3 182.9 142.4Q182.4 143.5 181.1 143.7Q179.7 144 178.8 144.3Q178 144.7 177.1 144.7Q176.2 144.8 175.4 145.1Q174.5 145.3 173.4 145.7Q172.2 146 171.4 145.3Q170.5 144.7 170 143.8Q169.5 142.8 168.7 142Q167.9 141.2 167.5 140.1Q167.1 139 167.8 138Q168.5 137 169.1 136.2Q169.6 135.3 170.2 134.5Q170.7 133.7 171.4 132.7Q172 131.6 173.1 131.1Q174.1 130.6 175.3 131Q176.4 131.5 177.3 132.2Q178.1 132.9 178.8 133.5Q179.6 134.1 180.5 134.6Q181.5 135.1 182.3 135.9Q183.2 136.7 183.6 137.8Q183.9 139 183.6 140.1Z"/><path d="M89.4 16.4Q89.5 17.5 89 18.6Q88.6 19.8 87.5 20.3Q86.4 20.9 85.3 20.8Q84.1 20.8 83.3 21Q82.4 21.3 81.6 21.4Q80.7 21.5 79.8 21.4Q78.8 21.2 78.4 20.3Q78 19.3 77.6 18.7Q77.1 18.1 76.7 17.5Q76.3 16.8 75.8 16Q75.3 15.3 75.4 14.4Q75.4 13.5 76 12.8Q76.6 12.1 76.9 11.2Q77.2 10.3 77.7 9.1Q78.1 7.8 79.2 7.4Q80.3 7.1 81.5 7Q82.7 6.9 83.9 7.2Q85 7.5 85.6 8.7Q86.2 9.8 86.8 10.6Q87.3 11.5 87.8 12.4Q88.3 13.2 88.8 14.2Q89.3 15.2 89.4 16.4Z"/><path d="M168.7 97.1Q168.9 98.3 168.5 99.4Q168.1 100.5 167.3 101.4Q166.6 102.3 165.2 102.2Q163.9 102.1 162.9 101.9Q161.9 101.6 161.1 101.6Q160.3 101.6 159.5 101.4Q158.7 101.3 157.7 101.1Q156.8 101 156.2 100.2Q155.7 99.5 155.6 98.6Q155.5 97.7 155.3 96.8Q155.1 96 154.8 95.1Q154.5 94.1 155 93.3Q155.5 92.4 156.2 91.8Q156.8 91.2 157.6 90.6Q158.3 90 159.2 89.7Q160.1 89.5 161 89.9Q161.9 90.4 162.6 90.6Q163.4 90.8 164.1 91.3Q164.8 91.7 165.7 92Q166.7 92.4 167.2 93.2Q167.7 94 168.1 95Q168.5 96 168.7 97.1Z"/><path d="M40 -4.1Q40.3 -3 39.8 -2.1Q39.2 -1.1 38.2 -0.6Q37.2 -0.1 36.4 0.4Q35.5 0.8 34.7 1.4Q33.8 1.9 32.7 2.5Q31.6 3 30.5 2.6Q29.4 2.1 28.7 1.3Q27.9 0.5 27.6 -0.6Q27.3 -1.7 27.1 -2.6Q26.8 -3.4 26.6 -4.3Q26.4 -5.2 26.1 -6.2Q25.9 -7.2 26.3 -8.1Q26.7 -9.1 27.5 -9.8Q28.2 -10.5 28.9 -11.3Q29.6 -12 30.7 -12Q31.8 -12 32.8 -12.1Q33.7 -12.2 34.8 -12.2Q35.9 -12.1 36.5 -11.2Q37.1 -10.3 37.5 -9.4Q37.9 -8.5 38.3 -7.8Q38.6 -7 39.2 -6.1Q39.7 -5.2 40 -4.1Z"/><path d="M92.3 102Q91.9 103.1 90.7 103.6Q89.6 104.2 88.9 104.7Q88.3 105.2 87.6 105.6Q86.9 106.1 86.2 106.6Q85.5 107.1 84.6 107.4Q83.6 107.6 82.9 107Q82.1 106.4 81.5 105.8Q80.9 105.2 80.2 104.7Q79.5 104.2 78.5 103.7Q77.5 103.1 77 102Q76.6 101 76.6 99.8Q76.7 98.7 77.4 97.8Q78.2 96.9 78.7 95.9Q79.3 94.9 80.2 94.3Q81.2 93.6 82.3 93.6Q83.5 93.6 84.5 93.8Q85.5 94 86.5 94.3Q87.4 94.6 88.5 94.9Q89.6 95.1 90.5 95.8Q91.4 96.5 92 97.6Q92.5 98.6 92.6 99.8Q92.7 100.9 92.3 102Z"/><path d="M204.8 48.5Q205 49.6 204.6 50.7Q204.2 51.8 203 52.2Q201.9 52.6 200.9 52.9Q200 53.2 199.1 53.7Q198.3 54.2 197.2 54.7Q196.2 55.3 195.1 55Q193.9 54.8 193.4 53.6Q192.9 52.4 192.7 51.5Q192.4 50.5 192.3 49.7Q192.2 48.9 192 48.1Q191.7 47.4 191.6 46.5Q191.5 45.7 191.1 44.4Q190.8 43.2 191.9 42.8Q193 42.4 193.9 42.2Q194.8 42 195.6 41.7Q196.4 41.4 197.3 41.3Q198.1 41.3 199.3 40.9Q200.4 40.6 200.9 41.5Q201.5 42.5 201.9 43.3Q202.4 44.1 202.8 44.9Q203.2 45.6 203.8 46.5Q204.5 47.3 204.8 48.5Z"/><path d="M155.1 122.8Q154.7 123.5 154.2 124.2Q153.7 124.8 153.3 125.5Q152.9 126.1 152.4 127Q152 127.8 151.3 129.1Q150.5 130.4 149.3 130.3Q148.1 130.3 147 129.9Q145.9 129.6 144.9 128.9Q143.9 128.3 143.1 127.4Q142.3 126.5 142.2 125.3Q142.1 124.1 142.1 123.1Q142.1 122 142.5 121.1Q142.8 120.1 142.8 119Q142.8 117.8 144 117.5Q145.2 117.2 146.1 117.1Q147 117 147.8 116.8Q148.5 116.6 149.3 116.4Q150.1 116.1 151.1 115.9Q152.1 115.8 152.8 116.4Q153.5 117.1 154.3 117.6Q155.1 118.2 156.2 118.9Q157.3 119.6 156.5 120.8Q155.6 122 155.1 122.8Z"/><path d="M79.9 163.3Q79.9 164.5 79 165.4Q78.1 166.3 77 166.7Q75.9 167.1 75.1 167.6Q74.3 168.1 73.4 168.3Q72.5 168.5 71.5 169Q70.5 169.4 69.4 169.2Q68.3 169.1 67.8 168Q67.4 166.9 67 166.1Q66.7 165.2 66.4 164.5Q66 163.7 65.6 162.9Q65.2 162.1 64.5 161Q63.9 159.9 64.5 158.9Q65.1 158 65.8 157.2Q66.5 156.3 67.4 155.7Q68.3 155.1 69.4 155Q70.4 154.8 71.5 154.8Q72.5 154.7 73.3 155.7Q74 156.6 74.7 157.1Q75.3 157.7 76 158.2Q76.6 158.8 77.2 159.5Q77.8 160.2 78.9 161.1Q79.9 162.1 79.9 163.3Z"/><path d="M183.5 28.6Q183.4 29.5 183.1 30.3Q182.9 31.2 182.7 32.2Q182.4 33.3 181.8 34.3Q181.1 35.3 180 35.6Q178.8 35.8 177.7 35.4Q176.7 35 175.8 34.3Q175 33.7 174.4 33Q173.8 32.3 173.1 31.7Q172.4 31.2 171.8 30.5Q171.1 29.8 171.1 28.8Q171.1 27.8 171.5 27Q171.9 26.2 172.4 25.4Q172.8 24.7 173.2 23.9Q173.5 23.1 174.1 22.2Q174.6 21.3 175.7 21.7Q176.8 22.1 177.6 22.4Q178.4 22.7 179 23Q179.7 23.3 180.4 23.6Q181 23.9 181.8 24.3Q182.6 24.6 183.3 25.3Q184.1 25.9 183.9 26.8Q183.7 27.8 183.5 28.6Z"/><path d="M36.3 135.6Q36.1 136.8 35.8 138Q35.5 139.2 34.5 139.9Q33.5 140.5 32.6 141.3Q31.7 142 30.6 142.4Q29.5 142.9 28.3 142.6Q27.1 142.3 26.4 141.3Q25.6 140.3 25.1 139.6Q24.5 138.8 24 138.2Q23.4 137.6 22.8 137Q22.1 136.3 22 135.4Q22 134.5 22.2 133.7Q22.4 132.8 22.9 132.2Q23.5 131.5 23.9 130.8Q24.3 130.1 24.9 129.3Q25.5 128.6 26.5 128.8Q27.4 129 28.2 129Q29 129 29.7 129.3Q30.5 129.6 31.5 129.6Q32.5 129.6 33.7 129.9Q35 130.2 35.4 131.2Q35.8 132.3 36.1 133.4Q36.5 134.5 36.3 135.6Z"/><path d="M64 120.8Q63.7 122 63.3 123.2Q63 124.4 62 125.3Q61.1 126.2 59.7 126.1Q58.3 126 57.2 125.7Q56.2 125.4 55.4 125.2Q54.6 125.1 53.8 124.9Q53 124.7 52 124.6Q51.1 124.5 49.8 124.2Q48.6 123.9 48.9 122.6Q49.2 121.4 49.4 120.5Q49.7 119.6 49.7 118.8Q49.8 118 50 117.1Q50.1 116.3 50.7 115.6Q51.3 115 52.1 114.6Q52.9 114.2 53.7 114Q54.5 113.7 55.4 113Q56.3 112.3 57.3 112.7Q58.2 113.1 59 113.8Q59.7 114.5 60.4 115.1Q61.2 115.8 62 116.5Q62.9 117.3 63.6 118.4Q64.3 119.5 64 120.8Z"/><path d="M2.7 71Q2.2 71.9 1.7 72.6Q1.3 73.4 0.8 74.1Q0.4 74.9 -0.1 75.9Q-0.6 77 -1.4 78.2Q-2.3 79.5 -3.6 79.5Q-5 79.4 -6.2 78.9Q-7.4 78.4 -8.2 77.4Q-9 76.4 -9 75Q-9 73.6 -9.2 72.8Q-9.4 71.9 -9.3 71Q-9.3 70.2 -9.5 69.3Q-9.7 68.5 -9.8 67.4Q-9.8 66.3 -8.7 66Q-7.6 65.7 -6.8 65.4Q-6 65.1 -5.3 64.7Q-4.5 64.4 -3.7 64.1Q-2.8 63.7 -1.6 63.3Q-0.4 62.9 0.5 63.6Q1.4 64.3 2 65.2Q2.6 66.1 3.3 67Q3.9 67.9 3.6 69.1Q3.3 70.2 2.7 71Z"/><path d="M214.8 140.1Q214.2 141.2 213.2 141.9Q212.3 142.6 211.6 143.2Q210.9 143.9 210.1 144.4Q209.4 145 208.5 145.7Q207.7 146.5 206.6 147Q205.4 147.6 204.3 147.1Q203.2 146.5 202.6 145.4Q202 144.3 201.9 143.2Q201.9 142.1 201.7 141.3Q201.5 140.5 201.5 139.8Q201.5 139 201.3 138.2Q201.1 137.4 200.7 136.2Q200.4 135 200.7 133.8Q201 132.6 202 131.8Q202.9 131 204.2 131Q205.4 131 206.5 131.8Q207.5 132.6 208.2 133.2Q209 133.8 209.6 134.3Q210.2 134.9 210.9 135.3Q211.7 135.7 212.7 136.3Q213.8 136.9 214.6 137.9Q215.4 139 214.8 140.1Z"/><path d="M108.1 120.2Q107.2 121 106.7 121.6Q106.3 122.2 105.8 122.7Q105.3 123.2 104.8 123.9Q104.3 124.5 103.6 125.4Q103 126.3 102 125.9Q101.1 125.5 100.4 125.1Q99.6 124.6 98.8 124.3Q98.1 124 97 123.6Q96 123.3 94.9 122.6Q93.8 121.9 94.5 120.7Q95.3 119.5 95.9 118.7Q96.6 117.9 97.1 117.3Q97.5 116.6 97.9 115.9Q98.3 115.2 98.9 114.6Q99.4 114 100.1 112.9Q100.8 111.8 102 111.6Q103.1 111.5 104.3 111.5Q105.5 111.6 106.5 112.3Q107.5 113 108.1 114Q108.8 115.1 108.8 116.2Q108.8 117.4 108.9 118.4Q108.9 119.4 108.1 120.2Z"/><path d="M170.5 149.9Q170.1 150.8 169.9 151.7Q169.7 152.7 169.4 153.8Q169 154.9 168.3 155.9Q167.6 156.9 166.4 157.3Q165.2 157.6 163.9 157.8Q162.7 158 161.5 157.5Q160.3 157 159.7 155.8Q159.1 154.6 158.8 153.6Q158.5 152.6 158.3 151.7Q158.1 150.7 157.8 149.9Q157.5 149 157.2 148Q156.9 147 156.8 145.7Q156.6 144.4 157.4 143.3Q158.1 142.3 159.2 141.7Q160.2 141 161.5 140.8Q162.7 140.6 163.9 140.6Q165.1 140.5 166.2 141.2Q167.2 141.8 168 142.6Q168.7 143.4 169.3 144.3Q169.8 145.2 170.5 146.1Q171.1 146.9 171 147.9Q170.8 149 170.5 149.9Z"/><path d="M23.4 129.6Q22.9 130.4 22.6 131.1Q22.3 131.8 21.9 132.5Q21.5 133.3 20.9 134Q20.3 134.8 19.4 134.7Q18.4 134.6 17.7 134.3Q16.9 134.1 16.1 134Q15.3 134 14.2 134Q13.2 134 12.2 133.5Q11.2 133 11.4 131.8Q11.6 130.6 11.9 129.7Q12.1 128.9 12.3 128.1Q12.4 127.3 12.5 126.5Q12.6 125.6 12.7 124.5Q12.9 123.5 13.5 122.5Q14.2 121.4 15.3 121.1Q16.4 120.7 17.5 121Q18.7 121.2 19.4 122.3Q20.1 123.3 20.6 124.1Q21.1 124.8 21.6 125.3Q22.2 125.9 22.6 126.6Q23 127.2 23.5 128Q24 128.8 23.4 129.6Z"/><path d="M6.8 175.8Q6.8 176.7 6.9 177.8Q7 178.9 5.9 179.3Q4.8 179.6 3.9 179.7Q2.9 179.8 2.2 179.9Q1.5 180.1 0.7 180.1Q-0 180.2 -0.9 180.3Q-1.8 180.5 -3.1 180.7Q-4.4 180.9 -5.4 180.2Q-6.4 179.5 -6.8 178.4Q-7.2 177.3 -7.2 176.1Q-7.1 174.9 -7.2 173.8Q-7.2 172.6 -6.9 171.4Q-6.6 170.3 -5.7 169.4Q-4.8 168.6 -3.7 168.2Q-2.6 167.8 -1.4 168.2Q-0.2 168.6 0.7 168.9Q1.5 169.2 2.3 169.3Q3.2 169.5 4 169.8Q4.8 170.1 5.8 170.6Q6.7 171 6.7 172.1Q6.6 173.1 6.7 174Q6.8 174.9 6.8 175.8Z"/><path d="M28 105.4Q28.3 106.4 27.6 107.1Q26.8 107.8 26 108.2Q25.2 108.6 24.6 109Q23.9 109.3 23.2 109.8Q22.4 110.2 21.5 110.9Q20.6 111.6 19.4 111.7Q18.2 111.8 17.9 110.5Q17.6 109.1 17.3 108.2Q17.1 107.4 16.9 106.6Q16.6 105.9 16.5 105.2Q16.3 104.5 16.1 103.6Q15.9 102.8 15.5 101.5Q15 100.3 15.9 99.6Q16.7 98.9 17.9 98.9Q19.1 98.9 19.9 99Q20.8 99 21.6 99Q22.4 99 23.2 99.1Q24 99.1 25.2 99Q26.3 98.9 26.7 99.9Q27 100.9 27.2 101.8Q27.5 102.7 27.6 103.6Q27.7 104.4 28 105.4Z"/><path d="M36.2 157.8Q35.8 158.7 35.2 159.3Q34.7 160 34.1 160.6Q33.5 161.1 33 161.8Q32.5 162.6 31.8 163.5Q31 164.5 30 164.2Q28.9 164 28.1 163.4Q27.2 162.9 26.4 162.5Q25.5 162.1 24.6 161.5Q23.8 160.9 23.2 160Q22.6 159.1 22.5 158.1Q22.3 157 22.6 156Q22.9 154.9 23.4 154.1Q24 153.2 24.7 152.5Q25.4 151.8 26.1 151Q26.8 150.1 27.8 149.7Q28.8 149.3 29.9 149.3Q31 149.2 31.9 149.8Q32.8 150.5 33.3 151.5Q33.8 152.5 34.3 153.1Q34.9 153.8 35.2 154.5Q35.5 155.3 36.1 156.1Q36.7 156.9 36.2 157.8Z"/><path d="M146.1 166.9Q145.8 167.5 145.5 168Q145.1 168.6 144.9 169.2Q144.6 169.8 144.2 170.5Q143.8 171.2 143.1 172Q142.5 172.8 141.5 172.8Q140.6 172.8 139.7 172.5Q138.8 172.2 138 171.7Q137.2 171.2 136.7 170.5Q136.2 169.7 135.6 169Q135 168.2 135.3 167.2Q135.6 166.3 136.1 165.5Q136.5 164.8 136.7 164.1Q136.9 163.3 137.3 162.6Q137.8 162 138.3 161.2Q138.8 160.4 139.7 160.2Q140.6 160 141.4 160.5Q142.3 160.9 142.9 161.3Q143.6 161.7 144.2 162.1Q144.8 162.4 145.6 162.8Q146.4 163.1 147 163.8Q147.6 164.4 147 165.3Q146.4 166.2 146.1 166.9Z"/><path d="M44.6 66.4Q44.7 67.3 44.5 68.1Q44.2 69 43.4 69.3Q42.5 69.7 41.8 70Q41.2 70.3 40.4 70.6Q39.7 70.9 38.9 71.4Q38.1 72 37 72.2Q35.9 72.4 35.2 71.6Q34.5 70.8 34.1 69.9Q33.6 69 33.1 68.3Q32.5 67.5 31.9 66.6Q31.3 65.6 31.4 64.5Q31.6 63.4 32.4 62.7Q33.2 61.9 34 61.4Q34.8 60.8 35.5 60.3Q36.3 59.8 37.1 59.3Q38 58.8 38.9 59Q39.8 59.2 40.6 59.7Q41.4 60.1 42.2 60.5Q43 60.8 43.7 61.4Q44.4 62 44.4 63Q44.4 64 44.4 64.8Q44.5 65.6 44.6 66.4Z"/><path d="M96.2 -4.3Q96.4 -3.5 96.5 -2.6Q96.6 -1.6 95.7 -1.4Q94.7 -1.2 94.1 -0.9Q93.4 -0.5 92.8 -0.2Q92.1 0 91.4 0.3Q90.6 0.6 89.6 0.9Q88.6 1.3 87.7 0.8Q86.8 0.4 86.1 -0.3Q85.3 -1.1 85.2 -2.1Q85.1 -3.1 85.3 -4Q85.6 -5 85.5 -5.8Q85.4 -6.7 85.5 -7.7Q85.6 -8.7 86.3 -9.4Q86.9 -10.1 88 -10.1Q89 -10.2 89.8 -10.2Q90.6 -10.3 91.4 -10.4Q92.2 -10.6 93.2 -10.9Q94.2 -11.1 94.9 -10.5Q95.6 -9.8 95.7 -8.8Q95.8 -7.8 95.8 -7.1Q95.9 -6.3 96 -5.6Q96.1 -5 96.2 -4.3Z"/><path d="M164.6 69.9Q164.6 70.7 164.4 71.6Q164.3 72.5 164.1 73.6Q163.8 74.6 162.9 75.1Q162 75.5 161.1 76Q160.1 76.5 159.1 76.1Q158.1 75.8 157.3 75.3Q156.5 74.8 155.9 74.2Q155.2 73.6 154.3 73.2Q153.4 72.8 152.6 72.1Q151.9 71.3 151.7 70.2Q151.5 69.2 151.5 68.1Q151.6 67 152.1 66Q152.6 65 153.8 64.8Q155.1 64.6 156.1 64.7Q157.1 64.8 157.7 64.8Q158.4 64.9 159.1 64.9Q159.7 64.8 160.3 64.8Q161 64.9 162 64.8Q162.9 64.7 164 64.9Q165.2 65.2 165 66.3Q164.8 67.4 164.7 68.3Q164.6 69.1 164.6 69.9Z"/><path d="M219.3 89Q219.2 89.8 219.2 90.8Q219.2 91.7 219.1 92.9Q219 94.1 218.1 94.9Q217.3 95.6 216 95.2Q214.8 94.8 213.9 94.4Q213.1 94.1 212.2 94Q211.3 93.9 210.5 93.5Q209.7 93.1 209.4 92.2Q209.2 91.3 209 90.5Q208.8 89.8 208.5 89Q208.2 88.3 207.8 87.3Q207.4 86.4 207.5 85.4Q207.7 84.3 208.5 83.6Q209.2 83 210.2 82.7Q211.2 82.4 212.1 82.7Q213.1 82.9 213.8 83.1Q214.6 83.3 215.2 83.6Q215.9 83.9 216.7 83.9Q217.6 84 218.7 84.2Q219.7 84.5 219.7 85.5Q219.7 86.6 219.6 87.4Q219.4 88.3 219.3 89Z"/><path d="M151.3 112.1Q151.4 112.8 151.6 113.7Q151.8 114.7 150.9 115Q150.1 115.3 149.3 115.4Q148.6 115.6 147.9 115.7Q147.3 115.8 146.6 116.1Q145.9 116.4 145.1 116.6Q144.2 116.8 143.2 116.7Q142.2 116.5 141.8 115.7Q141.3 114.8 140.8 114.1Q140.3 113.3 140.1 112.3Q139.8 111.4 140.3 110.5Q140.7 109.7 141.3 109Q141.9 108.4 142.5 107.9Q143.1 107.4 143.7 106.7Q144.2 106.1 144.9 105.4Q145.7 104.7 146.6 105.1Q147.5 105.5 148.3 105.6Q149.2 105.8 149.9 106.2Q150.7 106.7 150.8 107.7Q150.9 108.6 151 109.4Q151 110.1 151.1 110.7Q151.2 111.4 151.3 112.1Z"/><path d="M231.8 43.5Q231.7 44.5 231.2 45.3Q230.7 46.2 229.7 46.5Q228.7 46.8 227.8 47Q227 47.1 226.3 47.4Q225.6 47.6 224.9 47.8Q224.1 48 223.1 48.3Q222.1 48.6 221.1 48.3Q220.1 48.1 219.5 47.2Q218.9 46.4 218.4 45.5Q218 44.6 218.2 43.5Q218.4 42.5 218.5 41.6Q218.6 40.7 218.8 39.7Q219 38.7 219.6 37.9Q220.2 37.1 221 36.5Q221.8 35.9 222.8 35.7Q223.9 35.4 224.9 35.3Q225.9 35.2 226.7 35.9Q227.5 36.6 228.1 37.3Q228.7 38 229.4 38.6Q230.1 39.1 230.8 39.8Q231.6 40.5 231.7 41.5Q231.8 42.5 231.8 43.5Z"/><path d="M212.5 26.1Q212.5 26.8 212.5 27.7Q212.5 28.5 212.4 29.7Q212.4 30.9 211.3 30.9Q210.2 31 209.3 31.1Q208.5 31.3 207.6 31.3Q206.8 31.4 205.8 31.4Q204.9 31.4 204.5 30.4Q204.2 29.4 203.8 28.7Q203.5 28.1 203.2 27.5Q202.8 26.8 202.6 26.1Q202.3 25.4 201.8 24.5Q201.4 23.6 201.3 22.5Q201.3 21.4 202.3 21Q203.3 20.5 204.2 20.1Q205 19.7 205.8 19.3Q206.7 18.9 207.6 18.7Q208.6 18.5 209.6 18.7Q210.5 19 211.4 19.5Q212.2 20.1 212.3 21.2Q212.4 22.3 212.3 23.2Q212.1 24.1 212.3 24.7Q212.5 25.4 212.5 26.1Z"/><path d="M122.8 171Q122.3 171.8 121.8 172.4Q121.4 173.1 120.8 173.6Q120.3 174 119.8 174.7Q119.4 175.4 118.7 176.1Q117.9 176.7 117.1 176.1Q116.3 175.6 115.7 175Q115.1 174.4 114.6 174.1Q114 173.8 113.5 173.3Q113 172.9 112.3 172.4Q111.7 171.9 111.2 171.1Q110.7 170.3 110.8 169.4Q110.8 168.5 111.2 167.6Q111.5 166.8 112.1 166.1Q112.7 165.4 113.6 165Q114.4 164.6 115.2 164.2Q116.1 163.9 117 163.9Q117.9 164 118.8 164.2Q119.7 164.4 120.2 165.1Q120.8 165.8 121.4 166.4Q122 167 122.5 167.8Q122.9 168.5 123.1 169.4Q123.3 170.3 122.8 171Z"/><path d="M128.7 3.3Q128.1 4.2 127.7 5Q127.2 5.7 126.8 6.6Q126.4 7.5 125.8 8.4Q125.2 9.4 124.2 9.7Q123.2 10.1 122.2 9.4Q121.2 8.8 120.3 8.4Q119.5 8.1 118.7 7.6Q117.9 7.2 116.9 6.8Q115.9 6.4 115.3 5.5Q114.6 4.7 114.3 3.6Q114.1 2.5 114.3 1.4Q114.5 0.3 114.9 -0.8Q115.3 -1.9 116.4 -2.3Q117.5 -2.7 118.6 -2.7Q119.7 -2.6 120.5 -2.5Q121.3 -2.4 122 -2.4Q122.7 -2.5 123.4 -2.3Q124.1 -2.2 125.1 -2.2Q126 -2.2 127.3 -2Q128.6 -1.8 129.1 -0.8Q129.6 0.2 129.5 1.3Q129.3 2.4 128.7 3.3Z"/><path d="M60.5 96.1Q60.9 97 60.7 97.9Q60.5 98.7 59.7 99.2Q59 99.7 58.4 100.5Q57.9 101.3 57 101.5Q56.1 101.8 55.2 101.4Q54.3 101.1 53.6 100.6Q52.9 100.1 52.2 99.8Q51.5 99.5 50.7 99.1Q49.9 98.7 49.1 98Q48.3 97.3 48 96.3Q47.8 95.3 48.5 94.4Q49.2 93.6 50.1 93.1Q50.9 92.6 51.6 92.3Q52.2 92 52.8 91.7Q53.3 91.5 53.9 91Q54.4 90.6 55.1 90.1Q55.9 89.6 57 89Q58.2 88.4 58.6 89.6Q58.9 90.9 59.1 91.7Q59.3 92.5 59.6 93.2Q59.9 93.9 60 94.6Q60.2 95.3 60.5 96.1Z"/><path d="M56.7 65.7Q57.1 66.6 57.4 67.9Q57.7 69.2 56.9 70Q56 70.7 54.9 70.8Q53.7 70.9 52.7 70.7Q51.7 70.6 51 70.2Q50.2 69.9 49.5 69.6Q48.9 69.3 48.1 69.2Q47.2 69.1 46.4 68.7Q45.6 68.3 45.5 67.4Q45.4 66.5 45.4 65.7Q45.4 64.9 45.4 64.1Q45.5 63.3 45.3 62.2Q45.1 61.2 46.2 60.9Q47.2 60.6 47.9 60.3Q48.6 59.9 49.3 59.5Q50.1 59.1 50.9 58.8Q51.8 58.6 52.7 58.6Q53.7 58.7 54 59.8Q54.3 60.9 54.6 61.5Q55 62.2 55.3 62.8Q55.7 63.4 56 64.1Q56.3 64.8 56.7 65.7Z"/><path d="M31.2 45.9Q30.8 46.9 29.9 47.4Q29 47.9 28.4 48.4Q27.8 48.8 27.2 49.2Q26.6 49.6 26 50.1Q25.4 50.7 24.6 50.5Q23.8 50.3 23.2 49.9Q22.6 49.4 22.1 49Q21.5 48.6 20.9 48.2Q20.3 47.8 19.6 47.3Q19 46.7 18.2 45.9Q17.4 45.1 17.5 44.1Q17.5 43 18.1 42.1Q18.6 41.3 19.3 40.5Q19.9 39.7 20.8 39.2Q21.7 38.7 22.7 39Q23.7 39.3 24.5 39.7Q25.3 40.1 25.9 40.3Q26.6 40.5 27.3 40.8Q28 41.1 28.7 41.5Q29.4 41.9 30.4 42.5Q31.4 43 31.6 44Q31.7 45 31.2 45.9Z"/><path d="M177.1 120Q176.6 120.7 176.4 121.4Q176.2 122.1 175.8 122.7Q175.4 123.3 175 124.3Q174.7 125.3 173.9 126.2Q173 127.1 172 126.6Q170.9 126.2 170.2 125.4Q169.5 124.6 169 124Q168.4 123.4 167.8 122.8Q167.3 122.3 166.7 121.7Q166.1 121 165.2 120.2Q164.2 119.3 164.8 118.4Q165.3 117.4 165.8 116.5Q166.2 115.7 166.8 114.9Q167.4 114.2 168.1 113.4Q168.8 112.6 169.9 113.2Q171.1 113.7 171.8 114.1Q172.6 114.5 173.2 114.8Q173.8 115.1 174.4 115.4Q175.1 115.6 175.8 115.9Q176.6 116.3 177.5 116.8Q178.5 117.3 178.1 118.3Q177.7 119.3 177.1 120Z"/><path d="M0.5 115.8Q-0.7 116.7 -1.3 117.3Q-2 117.8 -2.6 118.2Q-3.2 118.6 -3.7 119.1Q-4.2 119.6 -4.9 120Q-5.5 120.4 -6.4 121.2Q-7.3 121.9 -8.4 122.1Q-9.6 122.2 -10.5 121.6Q-11.4 120.9 -12.2 120.1Q-13 119.3 -12.7 118.1Q-12.5 116.9 -12.1 116Q-11.7 115.1 -11.5 114.3Q-11.3 113.6 -11 112.9Q-10.7 112.3 -10.4 111.5Q-10.1 110.7 -9.7 109.6Q-9.3 108.6 -8.4 108.2Q-7.4 107.9 -6.4 108Q-5.4 108.1 -4.2 108Q-3.1 107.9 -2.1 108.5Q-1.2 109.1 -0.5 109.9Q0.2 110.8 0.7 111.8Q1.3 112.8 1.5 113.9Q1.8 115 0.5 115.8Z"/><path d="M64.1 47Q64.2 47.9 64 48.8Q63.9 49.7 63.4 50.5Q62.9 51.3 61.9 51.5Q61 51.7 60.2 52Q59.4 52.3 58.5 52.4Q57.6 52.6 56.5 52.9Q55.3 53.1 54.9 52Q54.4 51 54.2 50Q54 49.1 53.7 48.4Q53.4 47.7 53 47Q52.7 46.2 52.2 45.3Q51.8 44.3 51.9 43.2Q52.1 42.2 53.1 41.7Q54.1 41.2 55 40.9Q55.9 40.6 56.7 40.3Q57.5 40 58.5 39.5Q59.5 39.1 60.3 39.7Q61.1 40.4 61.8 40.9Q62.5 41.5 63.2 42.1Q63.8 42.8 64 43.6Q64.2 44.5 64.1 45.4Q64 46.2 64.1 47Z"/><path d="M217.9 55.4Q217.8 56.2 217.5 57Q217.1 57.8 216.6 58.5Q216.1 59.3 215.4 59.8Q214.8 60.4 213.9 60.7Q213 60.9 212.1 60.7Q211.2 60.5 210.7 59.6Q210.2 58.7 209.8 58.2Q209.3 57.8 209 57.2Q208.8 56.7 208.4 56.2Q208.1 55.8 207.6 55.2Q207.1 54.6 206.5 53.7Q205.9 52.8 206.3 52Q206.7 51.2 207.4 50.6Q208 49.9 208.7 49.4Q209.4 48.9 210.3 48.9Q211.2 48.8 212.1 48.7Q212.9 48.5 213.8 48.7Q214.6 48.9 215.4 49.4Q216.1 49.9 216.7 50.5Q217.3 51.2 217.6 52Q217.9 52.8 218 53.7Q218.1 54.6 217.9 55.4Z"/><path d="M197.6 100.5Q197.5 101.5 196.7 102.4Q196 103.2 194.8 103.2Q193.5 103.3 192.8 103.5Q192.1 103.7 191.4 103.8Q190.8 103.9 190.1 104Q189.4 104.2 188.6 104.4Q187.7 104.7 187.1 104.1Q186.5 103.6 186.1 102.9Q185.8 102.2 185.4 101.6Q185 100.9 184.5 100.2Q184 99.4 183.6 98.4Q183.2 97.4 183.5 96.4Q183.8 95.4 184.8 94.9Q185.8 94.5 186.9 94.6Q187.9 94.7 188.7 94.6Q189.4 94.5 190.1 94.5Q190.8 94.5 191.6 94.4Q192.4 94.3 193.4 94.3Q194.5 94.4 195.3 94.9Q196.2 95.5 196.7 96.4Q197.2 97.3 197.4 98.3Q197.7 99.4 197.6 100.5Z"/><path d="M182.2 9.7Q181.6 10.4 180.9 10.9Q180.2 11.4 179.7 11.7Q179.1 12 178.6 12.3Q178.1 12.5 177.6 12.9Q177.1 13.2 176.4 13.9Q175.7 14.5 174.7 14.8Q173.7 15 173.1 14.3Q172.5 13.5 171.9 12.9Q171.4 12.2 170.8 11.5Q170.2 10.8 169.8 9.9Q169.3 9 169.6 8Q169.9 7.1 170.9 6.5Q171.8 6 172.5 5.6Q173.2 5.2 173.7 4.7Q174.3 4.2 175 3.9Q175.6 3.5 176.5 2.8Q177.4 2.1 178.3 2.6Q179.1 3 179.6 3.8Q180.1 4.7 180.6 5.3Q181 6 181.3 6.7Q181.6 7.4 182.2 8.2Q182.8 8.9 182.2 9.7Z"/><path d="M66.9 167.9Q67.3 168.9 67 169.8Q66.7 170.7 66 171.3Q65.4 172 64.6 172.5Q63.8 173.1 62.9 173.1Q61.9 173.2 61.1 173.1Q60.2 173 59.4 172.7Q58.5 172.5 57.6 172.3Q56.6 172.2 56.2 171.3Q55.9 170.4 55.9 169.5Q55.8 168.6 55.7 167.8Q55.7 167.1 55.7 166.3Q55.8 165.5 55.6 164.5Q55.3 163.4 56 162.7Q56.6 162 57.4 161.5Q58.3 161 59.2 160.9Q60.1 160.7 61 160.6Q62 160.4 62.8 160.8Q63.6 161.3 64.1 162Q64.7 162.8 64.9 163.6Q65.2 164.3 65.5 165Q65.7 165.6 66.1 166.3Q66.4 167 66.9 167.9Z"/><path d="M224.4 167.4Q224.3 168.1 224.2 168.9Q224.1 169.6 223.8 170.5Q223.5 171.4 222.8 171.9Q222.1 172.4 221.2 172.4Q220.3 172.5 219.4 172.5Q218.6 172.5 217.7 172.5Q216.8 172.4 216.4 171.5Q216 170.6 215.8 169.9Q215.6 169.1 215.5 168.5Q215.4 167.9 215.3 167.3Q215.1 166.7 214.9 166Q214.6 165.3 214.4 164.3Q214.2 163.3 215.2 163.1Q216.1 162.9 216.9 162.8Q217.6 162.7 218.2 162.6Q218.8 162.5 219.4 162.4Q220 162.4 220.7 162.3Q221.4 162.2 222.5 162Q223.6 161.8 224.2 162.5Q224.8 163.2 224.7 164.2Q224.6 165.1 224.6 165.9Q224.5 166.7 224.4 167.4Z"/><path d="M74.1 37.8Q74 38.7 73.1 39.3Q72.1 39.9 71.3 40.1Q70.5 40.4 69.9 40.6Q69.2 40.7 68.6 41.1Q68 41.4 67.4 41.6Q66.7 41.8 65.7 42.1Q64.8 42.5 64.1 41.9Q63.4 41.4 62.9 40.7Q62.4 40 61.6 39.4Q60.8 38.8 60.9 37.8Q61 36.8 61.5 36.1Q62.1 35.3 62.4 34.5Q62.6 33.8 63 33Q63.4 32.2 63.9 31.4Q64.5 30.5 65.4 30.2Q66.4 30 67.3 30.3Q68.2 30.6 69.2 30.7Q70.1 30.8 71 31.2Q71.8 31.6 72.4 32.4Q72.9 33.2 73.3 34.1Q73.7 34.9 74 35.9Q74.3 36.8 74.1 37.8Z"/><path d="M40.6 20.2Q40.3 21 39.9 21.7Q39.6 22.3 39.1 22.9Q38.7 23.5 38.3 24.5Q37.9 25.5 37 25.9Q36.1 26.3 35.2 26.2Q34.2 26.1 33.4 25.6Q32.6 25.1 31.6 24.9Q30.7 24.7 30.4 23.7Q30.2 22.7 30.3 21.8Q30.5 20.9 30.4 20.2Q30.4 19.5 30.5 18.8Q30.5 18.2 30.6 17.4Q30.7 16.7 30.7 15.6Q30.8 14.5 31.5 13.7Q32.1 13 33.2 13.5Q34.3 14.1 35.1 14.4Q35.8 14.7 36.4 15Q37 15.3 37.6 15.6Q38.3 15.9 39 16.2Q39.8 16.5 40.8 17Q41.7 17.5 41.4 18.5Q41 19.5 40.6 20.2Z"/><path d="M74.8 140Q74.4 140.9 73.9 141.6Q73.5 142.3 73 143Q72.6 143.8 71.7 143.8Q70.8 143.8 70 143.8Q69.3 143.7 68.7 143.6Q68 143.6 67.3 143.6Q66.6 143.6 65.7 143.6Q64.8 143.6 64 143.2Q63.2 142.7 62.6 141.9Q62.1 141.1 62 140.2Q62 139.2 62.2 138.3Q62.3 137.4 62.7 136.5Q63 135.6 63.6 134.9Q64.2 134.1 65 133.6Q65.8 133.1 66.7 132.7Q67.6 132.3 68.6 132.5Q69.6 132.7 70.3 133.3Q71 133.9 71.8 134.3Q72.5 134.7 73.3 135.2Q74.1 135.6 74.6 136.4Q75.1 137.3 75.2 138.2Q75.3 139.2 74.8 140Z"/><path d="M136.3 69.6Q136.5 70.3 136.8 71.4Q137.1 72.5 136.4 73.1Q135.7 73.7 135 74.4Q134.3 75 133.3 75Q132.3 74.9 131.5 74.6Q130.7 74.2 130.1 73.8Q129.4 73.3 128.8 73Q128.2 72.7 127.4 72.4Q126.6 72 126.6 71.2Q126.6 70.3 126.6 69.6Q126.7 68.9 126.7 68.2Q126.7 67.5 126.8 66.7Q126.9 66 127.2 65.2Q127.5 64.3 128.3 64.1Q129.2 63.9 129.9 63.7Q130.7 63.5 131.5 63.3Q132.3 63.2 133.2 62.9Q134.2 62.7 134.5 63.8Q134.9 64.9 135.1 65.7Q135.3 66.4 135.5 67Q135.7 67.6 135.9 68.3Q136.1 68.9 136.3 69.6Z"/><path d="M125.8 106.6Q126.3 107.3 126.2 108.2Q126.1 109 125.6 109.6Q125.1 110.2 124.4 110.6Q123.7 111.1 122.9 111Q122.1 110.8 121.4 110.6Q120.7 110.3 120.2 110.1Q119.6 109.8 118.9 109.7Q118.3 109.5 117.4 109.3Q116.6 109 116.3 108.3Q115.9 107.5 116 106.7Q116 105.9 116.5 105.3Q117 104.6 117.3 104.1Q117.7 103.6 118.1 103.1Q118.4 102.6 118.8 101.8Q119.1 101 119.8 100.7Q120.5 100.3 121.3 100.3Q122.1 100.4 122.7 101Q123.3 101.6 123.7 102.2Q124 102.9 124.2 103.4Q124.5 103.9 124.6 104.4Q124.8 104.9 125 105.4Q125.3 105.9 125.8 106.6Z"/><path d="M93.5 167.7Q93.8 168.4 93.9 169.3Q93.9 170.2 93.3 170.8Q92.7 171.4 91.9 171.8Q91.2 172.1 90.4 172.3Q89.6 172.6 88.9 172.1Q88.2 171.5 87.7 171Q87.2 170.6 86.7 170.2Q86.3 169.9 85.8 169.6Q85.3 169.3 84.7 168.8Q84.1 168.4 83.5 167.7Q83 167 83.1 166.2Q83.2 165.4 83.6 164.6Q83.9 163.9 84.5 163.2Q85 162.6 85.7 162.3Q86.5 162 87.3 161.8Q88 161.6 88.8 161.5Q89.6 161.3 90.4 161.5Q91.2 161.6 91.7 162.3Q92.2 163 92.4 163.8Q92.6 164.5 92.8 165.1Q92.9 165.8 93.1 166.4Q93.2 167 93.5 167.7Z"/><path d="M205.4 120Q205.1 120.6 205 121.3Q204.8 122 204.5 122.7Q204.3 123.5 203.7 124.1Q203.1 124.7 202.3 124.9Q201.5 125.2 200.7 125.1Q199.8 125 199 124.9Q198.2 124.8 197.5 124.2Q196.8 123.7 196.2 123.1Q195.6 122.5 195.3 121.8Q195.1 121 194.9 120.1Q194.8 119.3 195.1 118.6Q195.5 117.8 196.1 117.3Q196.8 116.8 197.3 116.4Q197.8 116.1 198.2 115.6Q198.7 115.1 199.2 114.5Q199.8 113.9 200.6 113.6Q201.5 113.3 202.3 113.6Q203.1 113.9 203.8 114.3Q204.6 114.7 205.1 115.4Q205.6 116.1 205.9 116.9Q206.2 117.7 205.9 118.5Q205.6 119.3 205.4 120Z"/><path d="M154.9 99.5Q155 100.2 154.7 101Q154.4 101.7 153.9 102.3Q153.4 103 152.8 103.5Q152.1 103.9 151.4 104.6Q150.6 105.3 149.7 104.9Q148.8 104.6 148 104.4Q147.1 104.3 146.4 103.8Q145.8 103.2 145.7 102.2Q145.7 101.3 145.7 100.6Q145.6 99.9 145.6 99.3Q145.6 98.7 145.4 98.1Q145.3 97.4 145.3 96.6Q145.2 95.8 145.2 94.7Q145.3 93.7 146.3 93.6Q147.3 93.5 148.1 93.5Q148.9 93.6 149.7 93.6Q150.4 93.6 151.1 93.7Q151.9 93.8 152.7 94Q153.6 94.1 153.8 95Q154 95.9 154.1 96.6Q154.2 97.3 154.5 98Q154.7 98.7 154.9 99.5Z"/><path d="M72 148.5Q72 149 72 149.6Q72 150.2 71.9 151Q71.8 151.8 71.2 152.1Q70.5 152.4 69.9 152.6Q69.2 152.8 68.5 152.8Q67.8 152.8 67.1 152.6Q66.5 152.4 66 151.8Q65.6 151.3 65.5 150.6Q65.4 150 65.2 149.5Q65 149 64.8 148.5Q64.5 148 64.2 147.3Q64 146.6 64.1 145.9Q64.2 145.2 64.8 144.9Q65.4 144.5 66.2 144.5Q66.9 144.6 67.5 144.6Q68 144.6 68.5 144.6Q69 144.6 69.5 144.6Q70 144.6 70.8 144.5Q71.5 144.5 71.8 145Q72.2 145.6 72.2 146.2Q72.3 146.8 72.2 147.4Q72.1 147.9 72 148.5Z"/><path d="M180.5 92.7Q180.6 93.6 180.1 94.4Q179.5 95.2 178.9 95.8Q178.3 96.5 177.4 96.7Q176.5 96.9 175.7 97.1Q175 97.3 174.2 97.4Q173.3 97.6 172.4 97.7Q171.4 97.9 170.7 97.2Q170 96.6 169.5 95.8Q169 95.1 168.8 94.3Q168.5 93.4 168.5 92.6Q168.6 91.8 169.2 91.1Q169.8 90.5 170.3 90Q170.8 89.6 171.2 89.2Q171.6 88.8 172 88.4Q172.4 87.9 172.9 87.3Q173.4 86.6 174.3 85.8Q175.1 84.9 176 85.4Q176.8 85.9 177.3 86.7Q177.9 87.4 178.3 88.1Q178.8 88.8 179.2 89.5Q179.5 90.2 180 90.9Q180.5 91.7 180.5 92.7Z"/><path d="M152.1 13.8Q151.8 14.4 151.5 15Q151.2 15.5 150.9 16.1Q150.7 16.7 150.3 17.5Q149.9 18.2 149.2 18.7Q148.5 19.2 147.7 19.1Q146.8 19.1 146 18.8Q145.2 18.6 144.4 18.3Q143.5 18 143.1 17.2Q142.7 16.4 143.1 15.4Q143.4 14.5 143.7 13.9Q143.9 13.3 143.9 12.7Q144 12.2 144.1 11.6Q144.3 11.1 144.4 10.4Q144.5 9.6 144.9 9Q145.4 8.4 146.1 8.3Q146.9 8.3 147.6 8.2Q148.3 8.2 149.2 8Q150.1 7.8 150.9 8.2Q151.6 8.6 152.2 9.2Q152.8 9.9 153 10.8Q153.2 11.6 152.8 12.4Q152.4 13.2 152.1 13.8Z"/><path d="M208.4 92.3Q208.6 93.1 208 93.6Q207.4 94.1 206.7 94.4Q206.1 94.7 205.6 95Q205.1 95.3 204.6 95.6Q204 95.8 203.3 96.2Q202.7 96.5 201.7 96.9Q200.8 97.3 200 96.8Q199.3 96.3 198.6 95.7Q198 95.1 197.6 94.2Q197.3 93.4 197.7 92.5Q198.1 91.6 198.7 91Q199.4 90.4 199.6 89.9Q199.9 89.4 200.3 88.9Q200.6 88.3 201 87.8Q201.4 87.3 202 86.5Q202.5 85.7 203.4 85.4Q204.3 85 205.2 85.4Q206 85.7 206.5 86.5Q207 87.3 207.2 88.2Q207.4 89 207.6 89.6Q207.8 90.2 208 90.9Q208.2 91.5 208.4 92.3Z"/><path d="M49 118.2Q48.9 118.8 48.7 119.4Q48.6 120.1 48.4 120.9Q48.3 121.8 47.8 122.5Q47.3 123.3 46.4 123.6Q45.5 123.9 44.6 123.8Q43.7 123.6 42.9 123.4Q42.1 123.1 41.6 122.4Q41 121.7 41.1 120.8Q41.1 119.8 41 119.2Q41 118.6 41 118.1Q41 117.6 40.9 117Q40.8 116.5 40.6 115.7Q40.5 114.9 40.5 113.9Q40.4 112.8 41.3 112.6Q42.2 112.4 43.1 112.8Q44 113.3 44.6 113.5Q45.1 113.8 45.6 114Q46.1 114.2 46.6 114.4Q47.1 114.6 47.7 114.9Q48.2 115.2 48.7 115.7Q49.2 116.2 49.2 116.9Q49.2 117.5 49 118.2Z"/><path d="M76.3 9.9Q75.9 10.7 75.5 11.4Q75.1 12 74.7 12.7Q74.3 13.3 73.6 13.6Q72.9 14 72.1 14Q71.4 14 70.7 13.9Q70 13.8 69.3 13.9Q68.5 14 67.7 13.8Q66.8 13.7 66.3 13Q65.9 12.3 65.7 11.5Q65.5 10.8 65.5 10Q65.6 9.2 65.7 8.5Q65.8 7.8 65.9 7Q66 6.2 66.4 5.5Q66.8 4.8 67.8 4.9Q68.7 4.9 69.4 5Q70.1 5.1 70.7 5.2Q71.2 5.3 71.9 5.3Q72.5 5.2 73.2 5.4Q73.8 5.5 74.8 5.7Q75.7 6 76 6.8Q76.3 7.5 76.5 8.4Q76.7 9.2 76.3 9.9Z"/><path d="M210 2.4Q209.9 3 209.8 3.7Q209.7 4.3 209.7 5.2Q209.6 6.2 209 6.7Q208.4 7.3 207.5 7Q206.6 6.7 205.9 6.5Q205.3 6.2 204.7 6Q204.1 5.7 203.5 5.5Q202.9 5.4 202.1 5.1Q201.4 4.8 200.7 4.2Q200 3.6 200 2.7Q200 1.9 200 1Q199.9 0.1 200.3 -0.7Q200.7 -1.5 201.2 -2.2Q201.8 -2.9 202.6 -3.2Q203.4 -3.6 204.3 -3.4Q205.1 -3.2 205.8 -3Q206.5 -2.7 207.1 -2.5Q207.7 -2.2 208.4 -2.1Q209.2 -1.9 209.8 -1.5Q210.3 -1 210.3 -0.2Q210.3 0.6 210.2 1.2Q210.1 1.8 210 2.4Z"/><path d="M195 64.8Q195.1 65.5 194.8 66.2Q194.5 67 194 67.6Q193.5 68.2 192.9 68.7Q192.2 69.1 191.4 69Q190.5 68.8 189.8 68.9Q189.1 69.1 188.3 69.1Q187.5 69.1 186.9 68.6Q186.3 68.1 185.7 67.6Q185.1 67.1 184.9 66.3Q184.7 65.5 184.4 64.8Q184.2 64 184.2 63.2Q184.3 62.4 185.1 61.9Q185.8 61.4 186.4 61.1Q187.1 60.8 187.6 60.5Q188.1 60.2 188.6 59.8Q189.2 59.4 189.9 58.9Q190.6 58.5 191.3 58.8Q192.1 59.1 192.7 59.5Q193.4 59.8 194 60.4Q194.6 60.9 194.7 61.7Q194.8 62.5 194.8 63.3Q194.9 64 195 64.8Z"/><path d="M200 171.1Q200 171.6 200.2 172.3Q200.3 173 200.2 173.9Q200.2 174.8 199.5 175.2Q198.9 175.6 198.1 175.3Q197.3 175.1 196.6 175Q196 174.9 195.4 174.8Q194.8 174.7 194.1 174.6Q193.4 174.4 192.6 174.1Q191.8 173.8 191.5 173Q191.1 172.3 191.2 171.5Q191.2 170.7 191.5 169.9Q191.7 169.2 191.9 168.5Q192.2 167.8 192.6 167.1Q193 166.5 193.7 166.1Q194.4 165.8 195.1 165.8Q195.9 165.8 196.6 166Q197.3 166.1 198 166Q198.8 165.9 199.3 166.4Q199.9 166.9 199.9 167.7Q199.9 168.5 199.9 169.1Q199.8 169.7 199.9 170.2Q200 170.6 200 171.1Z"/><path d="M209.1 78.4Q209.2 79 209.4 79.9Q209.6 80.8 209.2 81.4Q208.7 82.1 208 82.4Q207.3 82.8 206.5 83Q205.8 83.2 205 83.3Q204.2 83.3 203.5 83Q202.8 82.7 202.6 81.7Q202.5 80.7 202.3 80.2Q202.1 79.7 202 79.2Q201.9 78.7 201.7 78.3Q201.5 77.8 201.3 77.3Q201.1 76.7 200.9 75.9Q200.7 75.1 201 74.3Q201.3 73.6 202 73.2Q202.7 72.8 203.4 72.6Q204.2 72.4 205 72.5Q205.7 72.6 206.5 72.7Q207.2 72.8 207.8 73.4Q208.3 73.9 208.4 74.7Q208.5 75.5 208.7 76.1Q208.8 76.7 208.9 77.2Q209 77.8 209.1 78.4Z"/><path d="M83.2 110Q83.1 110.7 82.7 111.3Q82.3 111.9 81.6 112.2Q80.9 112.4 80.3 112.4Q79.6 112.4 79.1 112.4Q78.7 112.4 78.2 112.5Q77.7 112.5 77.2 112.5Q76.7 112.5 76 112.6Q75.3 112.6 74.6 112.3Q73.9 112 73.8 111.3Q73.8 110.6 74 109.9Q74.2 109.3 74.2 108.7Q74.2 108.1 74.4 107.6Q74.6 107 74.7 106.2Q74.8 105.3 75.4 105Q76.1 104.7 76.8 104.5Q77.4 104.2 78.1 104.6Q78.8 105 79.3 105.4Q79.7 105.9 80.2 106.2Q80.6 106.5 81.1 106.8Q81.6 107.1 82.1 107.5Q82.6 108 82.9 108.6Q83.2 109.2 83.2 110Z"/><path d="M126.6 127.6Q126.5 128.3 126.1 129Q125.8 129.6 125.4 130.2Q125 130.8 124.4 131.2Q123.8 131.6 123.1 131.8Q122.3 131.9 121.6 132Q120.9 132 120.2 131.8Q119.5 131.6 118.8 131.2Q118.2 130.9 118 130.1Q117.8 129.4 117.8 128.7Q117.8 128.1 117.8 127.5Q117.8 126.9 117.8 126.4Q117.7 125.8 117.8 125.2Q117.8 124.5 118.4 124.3Q119.1 124 119.6 123.9Q120.1 123.7 120.6 123.5Q121.1 123.2 121.6 122.9Q122.2 122.6 122.9 122.5Q123.7 122.3 124.1 122.9Q124.5 123.5 124.8 124.1Q125.1 124.7 125.4 125.2Q125.8 125.7 126.2 126.3Q126.7 126.9 126.6 127.6Z"/></g><path fill="#3c2420" opacity="0.8" d="M88.9 41.4a1 1 0 1 0 0.01 0ZM100.4 58.6a0.6 0.6 0 1 0 0.01 0ZM82 21.8a1.2 1.2 0 1 0 0.01 0ZM24.8 163a1.2 1.2 0 1 0 0.01 0ZM191.8 17a0.7 0.7 0 1 0 0.01 0ZM24.5 150.9a1.4 1.4 0 1 0 0.01 0ZM10.3 87.7a0.7 0.7 0 1 0 0.01 0ZM54.2 161.5a0.9 0.9 0 1 0 0.01 0ZM42.1 124a0.9 0.9 0 1 0 0.01 0ZM99.7 60.3a1.1 1.1 0 1 0 0.01 0ZM103.6 86.4a1.3 1.3 0 1 0 0.01 0ZM34.6 140.2a1 1 0 1 0 0.01 0ZM209.9 18.1a0.7 0.7 0 1 0 0.01 0ZM16.5 116.5a0.6 0.6 0 1 0 0.01 0ZM33.3 152.2a1.1 1.1 0 1 0 0.01 0ZM48.6 124.3a1.3 1.3 0 1 0 0.01 0ZM35.3 132.1a0.7 0.7 0 1 0 0.01 0ZM23.9 151.8a0.7 0.7 0 1 0 0.01 0ZM36 158.5a1 1 0 1 0 0.01 0ZM143.5 161.5a0.8 0.8 0 1 0 0.01 0ZM111.8 2.1a0.6 0.6 0 1 0 0.01 0ZM87 2a0.7 0.7 0 1 0 0.01 0ZM63.2 145.9a0.5 0.5 0 1 0 0.01 0ZM71.8 144.3a1.3 1.3 0 1 0 0.01 0ZM69.3 169.9a0.9 0.9 0 1 0 0.01 0ZM65.4 132.1a0.8 0.8 0 1 0 0.01 0ZM45.8 155.8a1.3 1.3 0 1 0 0.01 0ZM71.9 149.2a0.5 0.5 0 1 0 0.01 0ZM50.7 125a1.2 1.2 0 1 0 0.01 0ZM211.3 14.3a0.6 0.6 0 1 0 0.01 0ZM65 153.9a1.2 1.2 0 1 0 0.01 0ZM116.6 7.8a1.3 1.3 0 1 0 0.01 0ZM150.8 7.9a0.8 0.8 0 1 0 0.01 0ZM209.7 5a0.8 0.8 0 1 0 0.01 0ZM131.2 132.1a1.3 1.3 0 1 0 0.01 0ZM208.2 8.2a1 1 0 1 0 0.01 0ZM28 146.7a1.1 1.1 0 1 0 0.01 0ZM24.7 162.9a0.8 0.8 0 1 0 0.01 0ZM188 58.3a1 1 0 1 0 0.01 0ZM205.7 71.3a0.8 0.8 0 1 0 0.01 0ZM104.4 133.9a1.3 1.3 0 1 0 0.01 0ZM165.4 158.2a0.7 0.7 0 1 0 0.01 0ZM19.7 159.9a1.2 1.2 0 1 0 0.01 0ZM37.4 136a1.2 1.2 0 1 0 0.01 0ZM149 71.6a0.6 0.6 0 1 0 0.01 0ZM113.4 84.5a1 1 0 1 0 0.01 0ZM134.6 151.6a0.9 0.9 0 1 0 0.01 0ZM23.4 140.5a1.3 1.3 0 1 0 0.01 0ZM12.3 119.1a0.9 0.9 0 1 0 0.01 0ZM116.9 8a1 1 0 1 0 0.01 0ZM129.6 132.9a0.8 0.8 0 1 0 0.01 0ZM74.7 136.5a1.2 1.2 0 1 0 0.01 0ZM129.1 150.1a0.9 0.9 0 1 0 0.01 0ZM136.6 73.3a0.9 0.9 0 1 0 0.01 0ZM98.5 52.5a0.9 0.9 0 1 0 0.01 0ZM160.8 159.5a1 1 0 1 0 0.01 0ZM137.1 76.9a1.3 1.3 0 1 0 0.01 0ZM142.2 74.6a0.6 0.6 0 1 0 0.01 0ZM35.3 43.1a0.7 0.7 0 1 0 0.01 0ZM182.2 142.4a1.3 1.3 0 1 0 0.01 0ZM152.6 92.9a1.4 1.4 0 1 0 0.01 0ZM168 9.9a0.9 0.9 0 1 0 0.01 0ZM86.8 42.5a0.9 0.9 0 1 0 0.01 0ZM75.8 6a1.2 1.2 0 1 0 0.01 0ZM42.4 123.9a0.8 0.8 0 1 0 0.01 0ZM200.5 129.8a1.3 1.3 0 1 0 0.01 0ZM211 14.2a0.7 0.7 0 1 0 0.01 0ZM71.7 152.8a0.9 0.9 0 1 0 0.01 0ZM136.8 75.1a1.2 1.2 0 1 0 0.01 0ZM206.2 18.3a1.1 1.1 0 1 0 0.01 0ZM148.8 47a1.2 1.2 0 1 0 0.01 0ZM45.6 124.3a1.3 1.3 0 1 0 0.01 0ZM2.4 71a1.2 1.2 0 1 0 0.01 0ZM36.2 135.6a1.1 1.1 0 1 0 0.01 0ZM148.9 137a1.3 1.3 0 1 0 0.01 0ZM150.9 113.5a0.7 0.7 0 1 0 0.01 0ZM142.1 73.8a1.3 1.3 0 1 0 0.01 0ZM100.8 1.2a0.7 0.7 0 1 0 0.01 0ZM58.7 143a1.1 1.1 0 1 0 0.01 0ZM137.1 71.4a1 1 0 1 0 0.01 0ZM112 4.2a0.7 0.7 0 1 0 0.01 0ZM102.9 65.2a0.9 0.9 0 1 0 0.01 0ZM32 151.6a1.4 1.4 0 1 0 0.01 0ZM145.3 72.9a1.1 1.1 0 1 0 0.01 0ZM95.9 82.7a1.4 1.4 0 1 0 0.01 0ZM125.1 67.1a1.4 1.4 0 1 0 0.01 0ZM156.3 151.3a1.3 1.3 0 1 0 0.01 0ZM198.4 21.4a1.4 1.4 0 1 0 0.01 0ZM115.9 8.4a1.3 1.3 0 1 0 0.01 0ZM62.5 128.2a1.3 1.3 0 1 0 0.01 0ZM94.8 50.6a1.1 1.1 0 1 0 0.01 0ZM71.7 149.4a0.8 0.8 0 1 0 0.01 0ZM30.4 4.1a0.5 0.5 0 1 0 0.01 0ZM110.6 145.1a1.2 1.2 0 1 0 0.01 0ZM10.2 70.8a0.9 0.9 0 1 0 0.01 0ZM200.7 25.2a1.3 1.3 0 1 0 0.01 0ZM63.5 149a1 1 0 1 0 0.01 0ZM10.9 46.1a0.6 0.6 0 1 0 0.01 0ZM149.4 115.7a0.7 0.7 0 1 0 0.01 0ZM133.4 150a0.5 0.5 0 1 0 0.01 0ZM142.6 161.2a1.2 1.2 0 1 0 0.01 0ZM149.8 71.4a1.2 1.2 0 1 0 0.01 0ZM47.1 145.4a1.2 1.2 0 1 0 0.01 0ZM35.4 140.8a1.2 1.2 0 1 0 0.01 0ZM59.5 141.6a1.2 1.2 0 1 0 0.01 0ZM65.6 165.3a0.8 0.8 0 1 0 0.01 0ZM136.2 76a1.1 1.1 0 1 0 0.01 0ZM144.3 21.7a1 1 0 1 0 0.01 0ZM154.4 91.7a1.1 1.1 0 1 0 0.01 0ZM202.5 28.9a0.7 0.7 0 1 0 0.01 0ZM81.4 4.1a1.3 1.3 0 1 0 0.01 0ZM64.6 151.6a0.9 0.9 0 1 0 0.01 0ZM65.4 153a1.3 1.3 0 1 0 0.01 0ZM96.1 148.2a0.9 0.9 0 1 0 0.01 0ZM47.7 115.4a1.3 1.3 0 1 0 0.01 0ZM172.3 60.9a0.6 0.6 0 1 0 0.01 0ZM47.9 155.6a0.9 0.9 0 1 0 0.01 0ZM139.2 74.8a1.4 1.4 0 1 0 0.01 0ZM207.5 57.2a0.6 0.6 0 1 0 0.01 0ZM102.6 12a1.2 1.2 0 1 0 0.01 0ZM199.4 21.9a0.8 0.8 0 1 0 0.01 0ZM73 35.7a1.3 1.3 0 1 0 0.01 0ZM130.5 145.1a1.1 1.1 0 1 0 0.01 0ZM41.2 141a0.9 0.9 0 1 0 0.01 0ZM204.6 6.7a1.2 1.2 0 1 0 0.01 0ZM200.5 23.1a0.6 0.6 0 1 0 0.01 0ZM65.5 42.4a0.7 0.7 0 1 0 0.01 0ZM149.6 139.9a0.7 0.7 0 1 0 0.01 0ZM131.8 87.4a0.9 0.9 0 1 0 0.01 0ZM160.1 158.9a1.2 1.2 0 1 0 0.01 0ZM98.8 141.2a0.5 0.5 0 1 0 0.01 0ZM73.1 156.4a1.2 1.2 0 1 0 0.01 0ZM210.6 18.7a1.1 1.1 0 1 0 0.01 0ZM64.4 163.1a1.1 1.1 0 1 0 0.01 0ZM43.6 125.4a1.1 1.1 0 1 0 0.01 0ZM71.4 153.3a1.1 1.1 0 1 0 0.01 0ZM7.9 167.6a1.2 1.2 0 1 0 0.01 0ZM125.2 110.2a0.6 0.6 0 1 0 0.01 0ZM204.6 32.3a0.9 0.9 0 1 0 0.01 0ZM3.8 47.6a0.5 0.5 0 1 0 0.01 0ZM185.1 10.7a1.2 1.2 0 1 0 0.01 0ZM62.3 144.7a1.3 1.3 0 1 0 0.01 0ZM65.7 152.8a0.9 0.9 0 1 0 0.01 0ZM148.1 71.5a0.7 0.7 0 1 0 0.01 0ZM81.4 3.4a0.9 0.9 0 1 0 0.01 0ZM22 138.6a1.4 1.4 0 1 0 0.01 0ZM103.9 51.2a0.5 0.5 0 1 0 0.01 0ZM43.9 125.4a1 1 0 1 0 0.01 0ZM100.8 109a0.5 0.5 0 1 0 0.01 0ZM39.5 126.7a0.9 0.9 0 1 0 0.01 0ZM92.9 72.5a0.8 0.8 0 1 0 0.01 0ZM80.9 4.6a1.4 1.4 0 1 0 0.01 0ZM131.5 62.3a1 1 0 1 0 0.01 0ZM146.9 105.2a1 1 0 1 0 0.01 0ZM93.6 75.8a1.2 1.2 0 1 0 0.01 0ZM102.4 110.1a0.8 0.8 0 1 0 0.01 0ZM130.9 62.8a0.5 0.5 0 1 0 0.01 0ZM14.3 118.8a1 1 0 1 0 0.01 0ZM59.5 70.7a0.6 0.6 0 1 0 0.01 0ZM207.4 160.4a1.2 1.2 0 1 0 0.01 0ZM206.1 7.8a0.8 0.8 0 1 0 0.01 0ZM68.7 144.2a0.7 0.7 0 1 0 0.01 0ZM68.5 14.5a1.1 1.1 0 1 0 0.01 0ZM166.6 102.6a0.7 0.7 0 1 0 0.01 0ZM2.5 11.4a1 1 0 1 0 0.01 0ZM150.8 140.4a0.5 0.5 0 1 0 0.01 0ZM65.5 165.8a1.1 1.1 0 1 0 0.01 0ZM152.1 103.8a1.4 1.4 0 1 0 0.01 0ZM80.7 22a1 1 0 1 0 0.01 0ZM174.3 61.6a0.8 0.8 0 1 0 0.01 0ZM56.2 109.8a0.9 0.9 0 1 0 0.01 0ZM71.1 61.6a0.9 0.9 0 1 0 0.01 0ZM163.7 74.2a1.1 1.1 0 1 0 0.01 0ZM212.1 16.3a0.6 0.6 0 1 0 0.01 0ZM202.8 29.8a0.8 0.8 0 1 0 0.01 0ZM123.6 26.9a1 1 0 1 0 0.01 0ZM187.4 148.8a1 1 0 1 0 0.01 0ZM66.6 154a0.6 0.6 0 1 0 0.01 0ZM141.9 13.3a1 1 0 1 0 0.01 0ZM76.5 9.6a1 1 0 1 0 0.01 0ZM159.2 5.8a0.8 0.8 0 1 0 0.01 0ZM205.6 116.5a1.1 1.1 0 1 0 0.01 0ZM150.9 110.8a0.7 0.7 0 1 0 0.01 0ZM47.2 122.1a1.3 1.3 0 1 0 0.01 0ZM65.7 153.9a0.5 0.5 0 1 0 0.01 0ZM5.5 116.5a1.2 1.2 0 1 0 0.01 0ZM189.4 13.5a1.1 1.1 0 1 0 0.01 0ZM82.6 168.3a0.9 0.9 0 1 0 0.01 0ZM67.1 14.2a1.2 1.2 0 1 0 0.01 0ZM28.9 143.4a0.6 0.6 0 1 0 0.01 0ZM95.3 91.3a1 1 0 1 0 0.01 0ZM143.5 73.9a1.1 1.1 0 1 0 0.01 0ZM120.9 93.3a0.9 0.9 0 1 0 0.01 0ZM158.9 44.5a1.3 1.3 0 1 0 0.01 0ZM211 21.6a1.3 1.3 0 1 0 0.01 0ZM2.6 47.8a0.9 0.9 0 1 0 0.01 0ZM164.9 65.2a0.8 0.8 0 1 0 0.01 0ZM41 60.2a1.3 1.3 0 1 0 0.01 0ZM93.6 49.3a1.1 1.1 0 1 0 0.01 0ZM151.4 104.4a0.6 0.6 0 1 0 0.01 0ZM41.3 123.8a0.9 0.9 0 1 0 0.01 0ZM99.9 55.6a0.8 0.8 0 1 0 0.01 0ZM32 144.3a1.3 1.3 0 1 0 0.01 0ZM63.5 144.7a0.8 0.8 0 1 0 0.01 0ZM38.7 128.6a1.2 1.2 0 1 0 0.01 0ZM28.7 143.8a1.4 1.4 0 1 0 0.01 0ZM168.2 157.1a0.6 0.6 0 1 0 0.01 0ZM168.2 29.8a1.4 1.4 0 1 0 0.01 0ZM45.9 124.4a1.4 1.4 0 1 0 0.01 0ZM153 117.1a1.3 1.3 0 1 0 0.01 0ZM140 75.2a1.1 1.1 0 1 0 0.01 0ZM80 4.3a1.1 1.1 0 1 0 0.01 0ZM72.4 32.8a1.2 1.2 0 1 0 0.01 0ZM204.6 113.4a1.1 1.1 0 1 0 0.01 0ZM65.2 154.2a1.3 1.3 0 1 0 0.01 0ZM98.9 52.4a0.9 0.9 0 1 0 0.01 0ZM36.8 129.8a0.9 0.9 0 1 0 0.01 0ZM103.2 50.8a1.2 1.2 0 1 0 0.01 0ZM104.9 86.7a0.7 0.7 0 1 0 0.01 0ZM146.5 163.2a0.8 0.8 0 1 0 0.01 0ZM113.4 75.3a1.3 1.3 0 1 0 0.01 0ZM103.8 9.9a1 1 0 1 0 0.01 0ZM155.4 118.2a1.1 1.1 0 1 0 0.01 0ZM136.5 78.1a0.6 0.6 0 1 0 0.01 0ZM31.3 145.7a1 1 0 1 0 0.01 0ZM153 102.4a1.3 1.3 0 1 0 0.01 0ZM36.3 138.2a0.7 0.7 0 1 0 0.01 0ZM206.5 17.6a1.3 1.3 0 1 0 0.01 0ZM199.2 131.1a1.1 1.1 0 1 0 0.01 0ZM134.6 75a1.3 1.3 0 1 0 0.01 0ZM90.8 18.4a1 1 0 1 0 0.01 0ZM2.6 66a0.7 0.7 0 1 0 0.01 0ZM93.2 76.4a1.3 1.3 0 1 0 0.01 0ZM39.4 117a0.7 0.7 0 1 0 0.01 0ZM99.9 65.1a0.8 0.8 0 1 0 0.01 0ZM71.2 150.6a0.9 0.9 0 1 0 0.01 0ZM59.5 70.7a0.5 0.5 0 1 0 0.01 0ZM209.4 4.6a0.8 0.8 0 1 0 0.01 0ZM36.6 138.3a1.4 1.4 0 1 0 0.01 0ZM72.7 64.8a1.2 1.2 0 1 0 0.01 0ZM142.8 19.2a0.9 0.9 0 1 0 0.01 0ZM35.5 129.3a0.9 0.9 0 1 0 0.01 0ZM109.9 4.5a0.6 0.6 0 1 0 0.01 0ZM135.7 111.5a1.2 1.2 0 1 0 0.01 0ZM170.5 79a1.1 1.1 0 1 0 0.01 0ZM41.5 125.4a0.9 0.9 0 1 0 0.01 0ZM29.5 11.1a0.6 0.6 0 1 0 0.01 0ZM182.1 63.9a0.5 0.5 0 1 0 0.01 0ZM212.2 22.1a1.2 1.2 0 1 0 0.01 0ZM97.6 85.9a0.6 0.6 0 1 0 0.01 0ZM35 129.7a1.4 1.4 0 1 0 0.01 0ZM136.9 71.2a1.1 1.1 0 1 0 0.01 0ZM208.5 17.4a1.2 1.2 0 1 0 0.01 0ZM160.6 89.7a1.2 1.2 0 1 0 0.01 0ZM35.5 137.4a1.1 1.1 0 1 0 0.01 0ZM100 53.8a1.1 1.1 0 1 0 0.01 0ZM65.7 80.7a1 1 0 1 0 0.01 0ZM49.7 124.7a1 1 0 1 0 0.01 0ZM59.1 142.8a1.1 1.1 0 1 0 0.01 0ZM135.5 78.6a1.3 1.3 0 1 0 0.01 0ZM39.6 37.3a0.7 0.7 0 1 0 0.01 0ZM144.2 21.9a0.9 0.9 0 1 0 0.01 0ZM51.1 125.6a1.2 1.2 0 1 0 0.01 0ZM30.2 167a0.9 0.9 0 1 0 0.01 0ZM184 67.8a1 1 0 1 0 0.01 0ZM81.6 164.3a1.4 1.4 0 1 0 0.01 0ZM157.8 101.8a1.3 1.3 0 1 0 0.01 0ZM65.6 155.6a0.6 0.6 0 1 0 0.01 0ZM208.5 17.9a1 1 0 1 0 0.01 0ZM128.6 132a1 1 0 1 0 0.01 0ZM139.4 110.4a0.7 0.7 0 1 0 0.01 0ZM157.3 101.9a0.8 0.8 0 1 0 0.01 0ZM96.1 51.7a1.3 1.3 0 1 0 0.01 0ZM75.8 7.4a1.4 1.4 0 1 0 0.01 0ZM-0.3 52a1 1 0 1 0 0.01 0ZM27.7 143.9a1.3 1.3 0 1 0 0.01 0ZM131.5 62.7a1.2 1.2 0 1 0 0.01 0ZM135.4 34.2a1 1 0 1 0 0.01 0ZM212.4 19.8a1 1 0 1 0 0.01 0ZM186.8 11.2a0.9 0.9 0 1 0 0.01 0ZM141.2 74.3a1 1 0 1 0 0.01 0ZM86 43.6a1.3 1.3 0 1 0 0.01 0ZM154.4 117.8a1.3 1.3 0 1 0 0.01 0ZM157.4 36.7a0.8 0.8 0 1 0 0.01 0ZM67 169.8a1 1 0 1 0 0.01 0ZM144.1 20.2a0.9 0.9 0 1 0 0.01 0ZM75.1 138.4a0.7 0.7 0 1 0 0.01 0ZM45.6 124.9a0.6 0.6 0 1 0 0.01 0ZM64.7 7.4a0.9 0.9 0 1 0 0.01 0ZM9.6 95.6a0.8 0.8 0 1 0 0.01 0ZM150.1 106.2a0.7 0.7 0 1 0 0.01 0ZM114.2 163.3a0.6 0.6 0 1 0 0.01 0ZM2.7 148.2a1.2 1.2 0 1 0 0.01 0ZM209.1 4.7a1.2 1.2 0 1 0 0.01 0ZM195 19.4a0.8 0.8 0 1 0 0.01 0ZM136.4 76.4a1.3 1.3 0 1 0 0.01 0ZM66.1 155.5a0.9 0.9 0 1 0 0.01 0ZM135.2 58.5a1.2 1.2 0 1 0 0.01 0ZM166.9 10.1a1.4 1.4 0 1 0 0.01 0ZM35.6 131.4a0.7 0.7 0 1 0 0.01 0ZM70 152.9a0.5 0.5 0 1 0 0.01 0ZM73.9 36.8a0.8 0.8 0 1 0 0.01 0ZM202.3 28.6a1.1 1.1 0 1 0 0.01 0ZM155.5 144.1a0.6 0.6 0 1 0 0.01 0ZM76 18.3a0.9 0.9 0 1 0 0.01 0ZM41.1 124.3a0.9 0.9 0 1 0 0.01 0ZM103.8 10.5a0.8 0.8 0 1 0 0.01 0ZM95.6 79.4a0.6 0.6 0 1 0 0.01 0ZM30.3 146.5a0.6 0.6 0 1 0 0.01 0ZM199.1 21.7a0.5 0.5 0 1 0 0.01 0ZM48.6 14.7a0.6 0.6 0 1 0 0.01 0ZM2.4 11.5a0.8 0.8 0 1 0 0.01 0ZM174.8 80.9a1.4 1.4 0 1 0 0.01 0ZM191.6 13.8a1 1 0 1 0 0.01 0ZM81.7 164.9a0.8 0.8 0 1 0 0.01 0ZM77.7 136.9a1.4 1.4 0 1 0 0.01 0ZM107 6a1.2 1.2 0 1 0 0.01 0ZM42.6 126.3a1.1 1.1 0 1 0 0.01 0ZM164.5 158.9a0.7 0.7 0 1 0 0.01 0ZM124.1 131.1a1.3 1.3 0 1 0 0.01 0ZM175.9 1.7a1.1 1.1 0 1 0 0.01 0ZM95.5 80.3a0.8 0.8 0 1 0 0.01 0ZM85.4 133.2a1 1 0 1 0 0.01 0ZM205.5 70.3a1.1 1.1 0 1 0 0.01 0ZM134 169.3a1.1 1.1 0 1 0 0.01 0ZM81.5 168.2a1.3 1.3 0 1 0 0.01 0ZM62.7 145.6a0.6 0.6 0 1 0 0.01 0ZM10.8 164.6a0.7 0.7 0 1 0 0.01 0ZM67.3 153.4a0.5 0.5 0 1 0 0.01 0ZM152.8 95.4a1.4 1.4 0 1 0 0.01 0ZM77.5 166.1a1.4 1.4 0 1 0 0.01 0ZM81.7 164.3a0.5 0.5 0 1 0 0.01 0ZM27.7 3.8a0.9 0.9 0 1 0 0.01 0ZM65.2 152.8a1.3 1.3 0 1 0 0.01 0ZM156.8 161.5a1 1 0 1 0 0.01 0ZM-0.7 75.9a0.8 0.8 0 1 0 0.01 0ZM192.3 17.4a0.9 0.9 0 1 0 0.01 0ZM110.7 49.3a1.3 1.3 0 1 0 0.01 0ZM137.2 85.8a0.7 0.7 0 1 0 0.01 0ZM149.8 7.6a0.8 0.8 0 1 0 0.01 0ZM144.1 144.7a0.6 0.6 0 1 0 0.01 0ZM145.1 169a0.8 0.8 0 1 0 0.01 0ZM77.7 5.5a1.2 1.2 0 1 0 0.01 0ZM74.3 13.4a0.6 0.6 0 1 0 0.01 0ZM141.1 74a1.1 1.1 0 1 0 0.01 0ZM31.8 163.2a0.5 0.5 0 1 0 0.01 0ZM6.8 69.3a0.8 0.8 0 1 0 0.01 0ZM59.9 143a1 1 0 1 0 0.01 0ZM6 116.8a1.4 1.4 0 1 0 0.01 0ZM81.9 162.3a0.9 0.9 0 1 0 0.01 0ZM210.5 12.6a1 1 0 1 0 0.01 0ZM74.8 157.3a0.6 0.6 0 1 0 0.01 0ZM63.3 143.8a0.9 0.9 0 1 0 0.01 0ZM149.7 26.1a1.2 1.2 0 1 0 0.01 0ZM105.2 29.3a1.2 1.2 0 1 0 0.01 0ZM25.4 163.1a0.8 0.8 0 1 0 0.01 0ZM208.7 16.4a1.2 1.2 0 1 0 0.01 0ZM152.5 104.1a0.7 0.7 0 1 0 0.01 0ZM69 153.5a1.2 1.2 0 1 0 0.01 0ZM97.9 84.3a0.5 0.5 0 1 0 0.01 0ZM148.6 137a0.9 0.9 0 1 0 0.01 0ZM134.6 151.7a0.9 0.9 0 1 0 0.01 0ZM122.1 133.8a1.3 1.3 0 1 0 0.01 0ZM84.8 6.3a1.2 1.2 0 1 0 0.01 0ZM76.1 9.8a1.2 1.2 0 1 0 0.01 0ZM98.2 51.9a0.8 0.8 0 1 0 0.01 0ZM39.1 122.1a1.4 1.4 0 1 0 0.01 0ZM173.3 61.6a1.3 1.3 0 1 0 0.01 0ZM190.6 14.5a0.8 0.8 0 1 0 0.01 0ZM-0.2 62.2a0.6 0.6 0 1 0 0.01 0ZM34.7 140.4a1.2 1.2 0 1 0 0.01 0ZM180.2 96.3a0.8 0.8 0 1 0 0.01 0ZM61.3 39.9a0.5 0.5 0 1 0 0.01 0ZM200.5 25.6a0.9 0.9 0 1 0 0.01 0ZM163.6 158.5a1 1 0 1 0 0.01 0ZM77.1 6.6a1.1 1.1 0 1 0 0.01 0ZM43.4 126.1a1.1 1.1 0 1 0 0.01 0ZM36.9 130.7a0.6 0.6 0 1 0 0.01 0ZM95.1 50.1a0.6 0.6 0 1 0 0.01 0ZM106 4.8a1 1 0 1 0 0.01 0ZM172.5 33.2a0.8 0.8 0 1 0 0.01 0ZM213.5 166.6a1.1 1.1 0 1 0 0.01 0ZM199.7 130.5a1.3 1.3 0 1 0 0.01 0ZM85.9 133a1.2 1.2 0 1 0 0.01 0ZM109.9 136.8a1 1 0 1 0 0.01 0ZM96.2 80.8a0.6 0.6 0 1 0 0.01 0ZM158.9 169.8a1.3 1.3 0 1 0 0.01 0ZM149.3 93.1a1 1 0 1 0 0.01 0ZM40.8 125.6a0.7 0.7 0 1 0 0.01 0ZM208.9 17.7a0.9 0.9 0 1 0 0.01 0ZM140.5 128.9a1 1 0 1 0 0.01 0ZM136.4 76a1.3 1.3 0 1 0 0.01 0ZM161.8 75.9a0.7 0.7 0 1 0 0.01 0ZM62.9 143.7a1.3 1.3 0 1 0 0.01 0ZM124.7 12.1a0.7 0.7 0 1 0 0.01 0ZM197.8 126.4a0.5 0.5 0 1 0 0.01 0ZM153 103.3a0.9 0.9 0 1 0 0.01 0ZM150.9 15.5a1.1 1.1 0 1 0 0.01 0ZM211.7 94.6a0.8 0.8 0 1 0 0.01 0ZM156.2 161.1a0.9 0.9 0 1 0 0.01 0ZM113.8 75.4a0.9 0.9 0 1 0 0.01 0ZM104.5 49.7a1.1 1.1 0 1 0 0.01 0ZM39.1 37a1 1 0 1 0 0.01 0ZM210.7 14.7a1.2 1.2 0 1 0 0.01 0ZM40 59.4a0.9 0.9 0 1 0 0.01 0ZM63.2 127a0.7 0.7 0 1 0 0.01 0ZM63.3 126.5a1 1 0 1 0 0.01 0ZM119.1 30.5a1.3 1.3 0 1 0 0.01 0ZM118.1 89.8a1.1 1.1 0 1 0 0.01 0ZM192.3 16.3a0.8 0.8 0 1 0 0.01 0ZM158.6 165.5a1.2 1.2 0 1 0 0.01 0ZM164.6 158.6a0.5 0.5 0 1 0 0.01 0ZM74.9 136.6a1.3 1.3 0 1 0 0.01 0ZM163 158.6a0.6 0.6 0 1 0 0.01 0ZM100.4 53.7a0.6 0.6 0 1 0 0.01 0ZM34 159.5a1.3 1.3 0 1 0 0.01 0ZM92.6 73.3a0.5 0.5 0 1 0 0.01 0ZM209.4 17a1.1 1.1 0 1 0 0.01 0ZM37.5 129a1.4 1.4 0 1 0 0.01 0ZM144.1 102.2a1.3 1.3 0 1 0 0.01 0ZM146.7 130.9a0.8 0.8 0 1 0 0.01 0ZM49.2 15.3a1.1 1.1 0 1 0 0.01 0ZM98.4 113.4a1.1 1.1 0 1 0 0.01 0ZM147.9 7.9a0.7 0.7 0 1 0 0.01 0ZM48.4 122.1a0.6 0.6 0 1 0 0.01 0ZM157.6 162.5a1.2 1.2 0 1 0 0.01 0ZM69 132.2a0.5 0.5 0 1 0 0.01 0ZM159.9 160.3a0.8 0.8 0 1 0 0.01 0ZM102.8 86.4a0.7 0.7 0 1 0 0.01 0ZM149.8 106.2a0.8 0.8 0 1 0 0.01 0ZM119.9 97.3a0.9 0.9 0 1 0 0.01 0ZM192.8 17.4a0.6 0.6 0 1 0 0.01 0ZM105.7 7a1.3 1.3 0 1 0 0.01 0ZM16.4 45.2a0.7 0.7 0 1 0 0.01 0ZM3.6 68.8a1.3 1.3 0 1 0 0.01 0ZM63.7 151.1a1.2 1.2 0 1 0 0.01 0ZM96 82.1a0.9 0.9 0 1 0 0.01 0ZM36.5 138.5a0.9 0.9 0 1 0 0.01 0ZM175 20.8a0.7 0.7 0 1 0 0.01 0ZM142.9 20.9a0.6 0.6 0 1 0 0.01 0ZM123.1 27a1.2 1.2 0 1 0 0.01 0ZM174.8 80.1a1.3 1.3 0 1 0 0.01 0ZM36.6 130.1a0.5 0.5 0 1 0 0.01 0ZM81.2 5.3a0.9 0.9 0 1 0 0.01 0ZM119.6 98.9a1.3 1.3 0 1 0 0.01 0ZM65.8 132.1a0.8 0.8 0 1 0 0.01 0ZM16.3 79.5a1 1 0 1 0 0.01 0ZM71.6 150.4a0.9 0.9 0 1 0 0.01 0ZM167.6 109.9a0.5 0.5 0 1 0 0.01 0ZM145.7 93.3a0.8 0.8 0 1 0 0.01 0ZM136.1 85.7a1.2 1.2 0 1 0 0.01 0ZM163.4 159.2a0.7 0.7 0 1 0 0.01 0ZM119.6 58.9a1.2 1.2 0 1 0 0.01 0ZM150.9 92.7a1.1 1.1 0 1 0 0.01 0ZM41 126a0.9 0.9 0 1 0 0.01 0ZM-0.4 54.6a1.2 1.2 0 1 0 0.01 0ZM43.9 96.3a1.1 1.1 0 1 0 0.01 0ZM99.9 16.9a1.1 1.1 0 1 0 0.01 0ZM126.1 7.7a0.5 0.5 0 1 0 0.01 0ZM38.4 130.1a1.1 1.1 0 1 0 0.01 0ZM43.1 124.7a0.7 0.7 0 1 0 0.01 0ZM65 3.8a0.9 0.9 0 1 0 0.01 0ZM93.6 167.7a0.5 0.5 0 1 0 0.01 0ZM148.6 21.3a0.7 0.7 0 1 0 0.01 0ZM59.8 140.5a1.3 1.3 0 1 0 0.01 0ZM68.8 153.3a1.3 1.3 0 1 0 0.01 0ZM77.9 21.8a0.9 0.9 0 1 0 0.01 0ZM0.8 30.7a0.6 0.6 0 1 0 0.01 0ZM103.2 65.5a1 1 0 1 0 0.01 0ZM146 163.1a1.1 1.1 0 1 0 0.01 0ZM94.8 34.8a0.9 0.9 0 1 0 0.01 0ZM45.9 157.1a0.8 0.8 0 1 0 0.01 0ZM197.6 99.8a1.4 1.4 0 1 0 0.01 0ZM157.9 161.9a1 1 0 1 0 0.01 0ZM82.5 2.7a1.4 1.4 0 1 0 0.01 0ZM39.3 118.6a1 1 0 1 0 0.01 0ZM154 95.2a0.7 0.7 0 1 0 0.01 0ZM77 137.5a1 1 0 1 0 0.01 0ZM138.3 111.2a1 1 0 1 0 0.01 0ZM208.3 17.6a1.1 1.1 0 1 0 0.01 0ZM30.7 145.8a0.7 0.7 0 1 0 0.01 0ZM137.1 160a1.2 1.2 0 1 0 0.01 0ZM65.3 13.5a0.7 0.7 0 1 0 0.01 0ZM125.3 90.2a1.4 1.4 0 1 0 0.01 0ZM79.6 5.4a1 1 0 1 0 0.01 0ZM94.7 142.1a1.1 1.1 0 1 0 0.01 0ZM91.9 32.7a1.3 1.3 0 1 0 0.01 0ZM88.5 43.3a0.7 0.7 0 1 0 0.01 0ZM40.4 123.4a0.9 0.9 0 1 0 0.01 0ZM157.6 153.3a0.6 0.6 0 1 0 0.01 0ZM150.3 70.8a1 1 0 1 0 0.01 0ZM127.7 130.6a0.8 0.8 0 1 0 0.01 0ZM98.4 85.6a0.6 0.6 0 1 0 0.01 0ZM25.8 7.2a1.4 1.4 0 1 0 0.01 0ZM21 158.7a0.9 0.9 0 1 0 0.01 0ZM193 68.8a0.8 0.8 0 1 0 0.01 0ZM30.7 143.1a1 1 0 1 0 0.01 0ZM208.8 7.9a0.6 0.6 0 1 0 0.01 0ZM169.3 154.2a0.9 0.9 0 1 0 0.01 0ZM63.4 144.4a0.9 0.9 0 1 0 0.01 0ZM45.3 124.3a1.3 1.3 0 1 0 0.01 0ZM78 136.4a0.5 0.5 0 1 0 0.01 0ZM69.4 80.9a0.7 0.7 0 1 0 0.01 0ZM20.2 157.2a0.5 0.5 0 1 0 0.01 0ZM76.1 167a0.6 0.6 0 1 0 0.01 0ZM79.8 43a1.3 1.3 0 1 0 0.01 0ZM37.7 136.3a1.2 1.2 0 1 0 0.01 0ZM102.8 65a0.7 0.7 0 1 0 0.01 0ZM95.6 79.4a0.7 0.7 0 1 0 0.01 0ZM10.9 164.3a0.8 0.8 0 1 0 0.01 0ZM87.9 12.8a1.1 1.1 0 1 0 0.01 0ZM173.6 15.5a0.9 0.9 0 1 0 0.01 0ZM38.3 133.3a0.7 0.7 0 1 0 0.01 0ZM84.1 1.6a0.6 0.6 0 1 0 0.01 0ZM45.9 95.3a1.3 1.3 0 1 0 0.01 0ZM87.1 12.2a1.2 1.2 0 1 0 0.01 0ZM140.6 108.8a0.7 0.7 0 1 0 0.01 0ZM34.2 129.6a1.4 1.4 0 1 0 0.01 0ZM76.3 7.7a1 1 0 1 0 0.01 0ZM210.9 16a0.8 0.8 0 1 0 0.01 0ZM61.1 143.4a0.9 0.9 0 1 0 0.01 0ZM65 154.7a1.1 1.1 0 1 0 0.01 0ZM103.9 8.8a1.3 1.3 0 1 0 0.01 0ZM156.1 161.3a0.5 0.5 0 1 0 0.01 0ZM111.2 4.4a1.1 1.1 0 1 0 0.01 0ZM75.8 7.3a1 1 0 1 0 0.01 0ZM66.4 153.2a1 1 0 1 0 0.01 0ZM211.4 22a1.4 1.4 0 1 0 0.01 0ZM154.2 95.7a0.6 0.6 0 1 0 0.01 0ZM123.4 31.6a1.2 1.2 0 1 0 0.01 0ZM102.5 127.2a1.2 1.2 0 1 0 0.01 0ZM10.4 70.5a0.7 0.7 0 1 0 0.01 0ZM40.8 123.4a0.6 0.6 0 1 0 0.01 0ZM173 114.4a0.7 0.7 0 1 0 0.01 0ZM155.1 161.7a1 1 0 1 0 0.01 0ZM135.4 164.7a0.6 0.6 0 1 0 0.01 0ZM102.1 65.7a0.5 0.5 0 1 0 0.01 0ZM103.2 2.3a1.3 1.3 0 1 0 0.01 0ZM149.8 105.7a0.6 0.6 0 1 0 0.01 0ZM6.1 86.9a1.4 1.4 0 1 0 0.01 0ZM78.7 92.7a1 1 0 1 0 0.01 0ZM191 16.9a0.9 0.9 0 1 0 0.01 0ZM159.7 168.1a0.6 0.6 0 1 0 0.01 0ZM191.3 10.9a0.8 0.8 0 1 0 0.01 0ZM115 157.5a0.7 0.7 0 1 0 0.01 0ZM155.1 75.3a1.3 1.3 0 1 0 0.01 0ZM106.3 6.5a1.3 1.3 0 1 0 0.01 0ZM37.6 129.3a1.2 1.2 0 1 0 0.01 0ZM24.7 162.6a0.5 0.5 0 1 0 0.01 0ZM149.2 141.4a0.7 0.7 0 1 0 0.01 0ZM147.2 22.8a1 1 0 1 0 0.01 0ZM153.4 141.2a1.3 1.3 0 1 0 0.01 0ZM199.9 41.9a1.4 1.4 0 1 0 0.01 0ZM152.2 10.7a1.2 1.2 0 1 0 0.01 0ZM29 148.3a0.6 0.6 0 1 0 0.01 0ZM43.4 124.9a0.7 0.7 0 1 0 0.01 0ZM82.8 6a1.3 1.3 0 1 0 0.01 0ZM1.9 65.4a1.3 1.3 0 1 0 0.01 0ZM80.5 161.9a1.1 1.1 0 1 0 0.01 0ZM158.8 119.4a1.3 1.3 0 1 0 0.01 0ZM98.1 84.8a0.7 0.7 0 1 0 0.01 0ZM149.8 105.7a1.1 1.1 0 1 0 0.01 0ZM149.9 72.1a0.8 0.8 0 1 0 0.01 0ZM73.4 5.1a1.2 1.2 0 1 0 0.01 0ZM137.9 29.6a1.2 1.2 0 1 0 0.01 0ZM149.9 137.2a0.5 0.5 0 1 0 0.01 0ZM56.5 112.1a1.1 1.1 0 1 0 0.01 0ZM8.8 10.7a1.3 1.3 0 1 0 0.01 0ZM110.9 3.8a1.4 1.4 0 1 0 0.01 0ZM164.3 158.5a0.8 0.8 0 1 0 0.01 0ZM164 69.1a1.2 1.2 0 1 0 0.01 0ZM37.9 15.5a1.1 1.1 0 1 0 0.01 0ZM94.6 78.8a1.4 1.4 0 1 0 0.01 0ZM73.8 14.8a1 1 0 1 0 0.01 0ZM40.3 157.2a1.3 1.3 0 1 0 0.01 0ZM159 157.9a0.8 0.8 0 1 0 0.01 0ZM51.3 145.3a1.1 1.1 0 1 0 0.01 0ZM28.7 64.9a1.3 1.3 0 1 0 0.01 0ZM154.9 100.9a1 1 0 1 0 0.01 0ZM189.2 93.4a1 1 0 1 0 0.01 0ZM206 7.5a0.5 0.5 0 1 0 0.01 0ZM84.6 2a0.9 0.9 0 1 0 0.01 0ZM209.2 9a0.8 0.8 0 1 0 0.01 0ZM107.9 5.3a0.9 0.9 0 1 0 0.01 0ZM112.5 84.3a0.7 0.7 0 1 0 0.01 0ZM105.4 4.1a1 1 0 1 0 0.01 0ZM135.8 170.7a0.6 0.6 0 1 0 0.01 0ZM163.7 120.7a0.5 0.5 0 1 0 0.01 0ZM181.7 93.4a0.9 0.9 0 1 0 0.01 0ZM80.4 4.4a0.7 0.7 0 1 0 0.01 0ZM-0 63a1 1 0 1 0 0.01 0ZM159.1 170.6a1.2 1.2 0 1 0 0.01 0ZM47.2 4.4a1.3 1.3 0 1 0 0.01 0ZM197.5 70.2a0.8 0.8 0 1 0 0.01 0ZM157.4 161.8a0.9 0.9 0 1 0 0.01 0ZM59.9 97.4a1.2 1.2 0 1 0 0.01 0ZM58.6 113.2a1.1 1.1 0 1 0 0.01 0ZM32.4 141.7a1 1 0 1 0 0.01 0ZM64.4 157.3a0.7 0.7 0 1 0 0.01 0ZM149.8 141.8a1.3 1.3 0 1 0 0.01 0ZM99.5 60.2a1.2 1.2 0 1 0 0.01 0ZM146.8 165.8a0.6 0.6 0 1 0 0.01 0ZM106.1 4.3a0.5 0.5 0 1 0 0.01 0ZM68.1 153.8a0.6 0.6 0 1 0 0.01 0ZM199.3 22.2a0.7 0.7 0 1 0 0.01 0ZM185.5 60.5a1.1 1.1 0 1 0 0.01 0ZM39 122.5a1.3 1.3 0 1 0 0.01 0ZM94.7 142a1.1 1.1 0 1 0 0.01 0ZM27.1 0.9a0.6 0.6 0 1 0 0.01 0ZM205.2 7.3a1.4 1.4 0 1 0 0.01 0ZM63.1 118.2a0.7 0.7 0 1 0 0.01 0ZM96.7 82.9a0.8 0.8 0 1 0 0.01 0ZM68.9 154.1a0.7 0.7 0 1 0 0.01 0ZM153.2 117.2a1.3 1.3 0 1 0 0.01 0ZM148.1 135.1a0.6 0.6 0 1 0 0.01 0ZM160.2 159.3a0.6 0.6 0 1 0 0.01 0ZM161.7 159a0.8 0.8 0 1 0 0.01 0ZM152.5 162.4a0.8 0.8 0 1 0 0.01 0ZM81.1 5.2a0.7 0.7 0 1 0 0.01 0ZM107.9 5.8a1.2 1.2 0 1 0 0.01 0ZM157.7 162a0.5 0.5 0 1 0 0.01 0ZM166.8 109.8a1.3 1.3 0 1 0 0.01 0ZM155.1 118.4a0.9 0.9 0 1 0 0.01 0ZM194.9 8.4a0.7 0.7 0 1 0 0.01 0ZM150.1 141.3a1 1 0 1 0 0.01 0ZM79.9 162.5a0.7 0.7 0 1 0 0.01 0ZM151.4 93.6a1 1 0 1 0 0.01 0ZM67.6 41.2a1.3 1.3 0 1 0 0.01 0ZM150.5 163.3a1.2 1.2 0 1 0 0.01 0ZM80.3 163.7a0.6 0.6 0 1 0 0.01 0ZM211.6 113.5a0.7 0.7 0 1 0 0.01 0ZM81.4 6a1 1 0 1 0 0.01 0ZM90.2 138.9a0.9 0.9 0 1 0 0.01 0ZM98 141.5a0.7 0.7 0 1 0 0.01 0ZM87.7 137.4a0.9 0.9 0 1 0 0.01 0ZM38.7 129.3a1 1 0 1 0 0.01 0ZM37.4 137.6a0.9 0.9 0 1 0 0.01 0ZM140.8 117a1.1 1.1 0 1 0 0.01 0ZM80.8 165.6a1.1 1.1 0 1 0 0.01 0ZM197.5 21.4a1.1 1.1 0 1 0 0.01 0ZM211.1 17.8a0.5 0.5 0 1 0 0.01 0ZM30.5 146.8a1.4 1.4 0 1 0 0.01 0ZM67.5 154.1a1.1 1.1 0 1 0 0.01 0ZM96.8 51.7a0.8 0.8 0 1 0 0.01 0ZM137.4 88.1a0.8 0.8 0 1 0 0.01 0ZM143.6 74.2a0.8 0.8 0 1 0 0.01 0ZM123.9 29.5a1.1 1.1 0 1 0 0.01 0ZM111.5 4.3a1.2 1.2 0 1 0 0.01 0ZM96.3 81.8a0.7 0.7 0 1 0 0.01 0ZM60.2 141.5a1 1 0 1 0 0.01 0ZM111.6 121.2a1.2 1.2 0 1 0 0.01 0ZM97.3 90.3a1 1 0 1 0 0.01 0ZM119.6 98.4a1 1 0 1 0 0.01 0ZM63.2 30a1 1 0 1 0 0.01 0ZM180 93a1.3 1.3 0 1 0 0.01 0ZM99.6 17.2a0.7 0.7 0 1 0 0.01 0ZM81.4 3.9a1.2 1.2 0 1 0 0.01 0ZM157.3 162.6a0.9 0.9 0 1 0 0.01 0ZM78.6 105.3a0.9 0.9 0 1 0 0.01 0ZM34.1 44.5a0.7 0.7 0 1 0 0.01 0ZM71.6 153.2a0.8 0.8 0 1 0 0.01 0ZM96.6 68.5a0.6 0.6 0 1 0 0.01 0ZM70.1 153.2a1.2 1.2 0 1 0 0.01 0ZM138.4 75.8a1.3 1.3 0 1 0 0.01 0ZM91.8 18.5a0.6 0.6 0 1 0 0.01 0ZM144.2 73.7a1.2 1.2 0 1 0 0.01 0ZM36.9 135.6a1 1 0 1 0 0.01 0ZM30.4 166.8a1.2 1.2 0 1 0 0.01 0ZM66.2 154.6a0.9 0.9 0 1 0 0.01 0ZM36.4 131.9a1.4 1.4 0 1 0 0.01 0ZM113.2 2.4a0.6 0.6 0 1 0 0.01 0ZM194.2 60.5a0.7 0.7 0 1 0 0.01 0ZM197.3 20a0.8 0.8 0 1 0 0.01 0ZM76.1 7.5a1.4 1.4 0 1 0 0.01 0ZM93.9 101.4a1 1 0 1 0 0.01 0ZM150.2 141.4a0.6 0.6 0 1 0 0.01 0ZM136.6 78.2a1.1 1.1 0 1 0 0.01 0ZM145.7 116.5a1 1 0 1 0 0.01 0ZM159 161.4a0.7 0.7 0 1 0 0.01 0ZM183.4 144.1a0.9 0.9 0 1 0 0.01 0ZM91.3 46.8a0.6 0.6 0 1 0 0.01 0ZM-0.3 82.3a0.7 0.7 0 1 0 0.01 0ZM159.1 77.1a0.7 0.7 0 1 0 0.01 0ZM157.5 163.7a0.9 0.9 0 1 0 0.01 0ZM103.2 25.5a0.9 0.9 0 1 0 0.01 0ZM183.7 140.7a0.8 0.8 0 1 0 0.01 0ZM58.4 100.6a0.6 0.6 0 1 0 0.01 0ZM59.7 142.6a0.6 0.6 0 1 0 0.01 0ZM64.1 156.7a1.2 1.2 0 1 0 0.01 0ZM155.2 143.6a0.8 0.8 0 1 0 0.01 0ZM74.9 137.2a0.9 0.9 0 1 0 0.01 0ZM127.2 109.7a0.5 0.5 0 1 0 0.01 0ZM199.8 4.7a1 1 0 1 0 0.01 0ZM40 122.7a1.3 1.3 0 1 0 0.01 0ZM82.2 3.2a1.1 1.1 0 1 0 0.01 0ZM200.4 131.6a1.3 1.3 0 1 0 0.01 0ZM198.2 71.2a1.4 1.4 0 1 0 0.01 0ZM113.2 6.5a0.8 0.8 0 1 0 0.01 0ZM102.1 86.5a1.3 1.3 0 1 0 0.01 0ZM36.8 132.3a0.7 0.7 0 1 0 0.01 0ZM103.3 34.1a1.2 1.2 0 1 0 0.01 0ZM26.8 163.3a0.6 0.6 0 1 0 0.01 0ZM6.5 46.7a1.3 1.3 0 1 0 0.01 0ZM96.7 51.5a0.9 0.9 0 1 0 0.01 0ZM213.6 61.4a0.7 0.7 0 1 0 0.01 0ZM3.3 67.9a0.9 0.9 0 1 0 0.01 0ZM141.6 145.9a1.1 1.1 0 1 0 0.01 0ZM197.2 95.9a0.9 0.9 0 1 0 0.01 0ZM152.4 116.9a1.4 1.4 0 1 0 0.01 0ZM40 127.1a0.8 0.8 0 1 0 0.01 0ZM153.4 93.1a1 1 0 1 0 0.01 0ZM95.4 79.6a1 1 0 1 0 0.01 0ZM108.4 85.8a0.6 0.6 0 1 0 0.01 0ZM110.3 86.1a0.8 0.8 0 1 0 0.01 0ZM32.5 143.2a1.3 1.3 0 1 0 0.01 0ZM140.1 74.8a1 1 0 1 0 0.01 0ZM195.4 7.6a0.6 0.6 0 1 0 0.01 0ZM105.5 3.8a0.9 0.9 0 1 0 0.01 0ZM11.3 156.2a0.6 0.6 0 1 0 0.01 0ZM172.6 79.7a0.8 0.8 0 1 0 0.01 0ZM134.8 151.1a0.7 0.7 0 1 0 0.01 0ZM103.8 86.5a1.1 1.1 0 1 0 0.01 0ZM210.4 12.1a0.7 0.7 0 1 0 0.01 0ZM16.9 113.9a1.3 1.3 0 1 0 0.01 0ZM125.1 133.9a1.1 1.1 0 1 0 0.01 0ZM104 25.9a0.7 0.7 0 1 0 0.01 0ZM164.1 117.2a0.8 0.8 0 1 0 0.01 0ZM95.8 124.2a1.4 1.4 0 1 0 0.01 0ZM159.4 158.2a0.9 0.9 0 1 0 0.01 0ZM91.8 18.4a1.4 1.4 0 1 0 0.01 0ZM85.1 6.9a0.6 0.6 0 1 0 0.01 0ZM191.3 16.8a1.1 1.1 0 1 0 0.01 0ZM211.8 18.3a0.7 0.7 0 1 0 0.01 0ZM25 150.7a0.7 0.7 0 1 0 0.01 0ZM63.3 144.5a1.2 1.2 0 1 0 0.01 0ZM96 50.2a0.6 0.6 0 1 0 0.01 0ZM199.1 21.9a1.4 1.4 0 1 0 0.01 0ZM197.7 99.1a0.9 0.9 0 1 0 0.01 0ZM56.4 161a0.5 0.5 0 1 0 0.01 0ZM144.7 103.3a0.5 0.5 0 1 0 0.01 0ZM41.5 126.7a0.7 0.7 0 1 0 0.01 0ZM87.6 11.4a0.6 0.6 0 1 0 0.01 0ZM157.8 119.7a1.1 1.1 0 1 0 0.01 0ZM36.9 137.4a1.3 1.3 0 1 0 0.01 0ZM39.7 126a0.9 0.9 0 1 0 0.01 0ZM123.2 133.5a1.2 1.2 0 1 0 0.01 0ZM31.4 162.8a1.4 1.4 0 1 0 0.01 0ZM146.2 132.1a1.2 1.2 0 1 0 0.01 0ZM200.5 131.5a1.1 1.1 0 1 0 0.01 0ZM87.3 119.2a1.3 1.3 0 1 0 0.01 0ZM36.8 131.7a0.6 0.6 0 1 0 0.01 0ZM29.5 42.3a0.9 0.9 0 1 0 0.01 0ZM92.9 166.2a0.8 0.8 0 1 0 0.01 0ZM101.9 13.8a0.7 0.7 0 1 0 0.01 0ZM135.1 74.9a1 1 0 1 0 0.01 0ZM84.2 1.2a1.1 1.1 0 1 0 0.01 0ZM100.3 87.4a1.4 1.4 0 1 0 0.01 0ZM68.6 100a1.2 1.2 0 1 0 0.01 0ZM151.5 163a0.6 0.6 0 1 0 0.01 0ZM148.7 105.7a1.3 1.3 0 1 0 0.01 0ZM2 72.1a0.7 0.7 0 1 0 0.01 0ZM61.3 142.7a0.8 0.8 0 1 0 0.01 0ZM142.7 58.2a0.7 0.7 0 1 0 0.01 0ZM38.9 126.8a0.9 0.9 0 1 0 0.01 0ZM92.2 18.3a0.8 0.8 0 1 0 0.01 0ZM196.5 5.1a1.1 1.1 0 1 0 0.01 0ZM164.6 140.2a0.6 0.6 0 1 0 0.01 0ZM154.5 101.2a0.8 0.8 0 1 0 0.01 0ZM64.9 156.2a0.9 0.9 0 1 0 0.01 0ZM87.3 1.7a0.8 0.8 0 1 0 0.01 0ZM159.3 157.3a0.9 0.9 0 1 0 0.01 0ZM192.1 10.7a0.8 0.8 0 1 0 0.01 0ZM76.3 6.1a0.6 0.6 0 1 0 0.01 0ZM60.9 143.1a1 1 0 1 0 0.01 0ZM87.2 94.2a0.8 0.8 0 1 0 0.01 0ZM75.7 7.5a1 1 0 1 0 0.01 0ZM99.6 53.5a1 1 0 1 0 0.01 0ZM61.7 143.8a0.9 0.9 0 1 0 0.01 0ZM134.2 150.3a1.4 1.4 0 1 0 0.01 0ZM14.4 159a1.2 1.2 0 1 0 0.01 0ZM193.9 122.7a0.6 0.6 0 1 0 0.01 0ZM145.9 21.1a0.8 0.8 0 1 0 0.01 0ZM203.4 6.3a0.9 0.9 0 1 0 0.01 0ZM34.7 159.2a1.3 1.3 0 1 0 0.01 0ZM150.6 113.3a1.1 1.1 0 1 0 0.01 0ZM45 156.5a1 1 0 1 0 0.01 0ZM95.7 155a0.7 0.7 0 1 0 0.01 0ZM102.3 110.1a0.7 0.7 0 1 0 0.01 0ZM191.6 18.4a0.5 0.5 0 1 0 0.01 0ZM122 132.7a1.1 1.1 0 1 0 0.01 0ZM107.4 5.6a1.2 1.2 0 1 0 0.01 0ZM114.8 159a0.8 0.8 0 1 0 0.01 0ZM84.9 161.5a0.6 0.6 0 1 0 0.01 0ZM35.2 129.6a0.5 0.5 0 1 0 0.01 0ZM23.2 162.3a0.8 0.8 0 1 0 0.01 0ZM110.1 48.1a0.7 0.7 0 1 0 0.01 0ZM209.1 5.2a1.2 1.2 0 1 0 0.01 0ZM81.5 162.1a0.5 0.5 0 1 0 0.01 0ZM110.5 85.8a0.8 0.8 0 1 0 0.01 0ZM82.6 43.5a1.3 1.3 0 1 0 0.01 0ZM86 9.6a0.7 0.7 0 1 0 0.01 0ZM98.4 52.7a1.4 1.4 0 1 0 0.01 0ZM211.6 17.1a0.6 0.6 0 1 0 0.01 0ZM155.3 118.6a1 1 0 1 0 0.01 0ZM87.9 41.7a0.9 0.9 0 1 0 0.01 0ZM144.9 72.8a1.1 1.1 0 1 0 0.01 0ZM160.3 159.1a0.6 0.6 0 1 0 0.01 0ZM58.5 127.3a1.4 1.4 0 1 0 0.01 0ZM200.5 139.2a0.7 0.7 0 1 0 0.01 0ZM62.1 145.3a0.9 0.9 0 1 0 0.01 0ZM11.9 71.1a1.1 1.1 0 1 0 0.01 0ZM34.2 129.9a1.3 1.3 0 1 0 0.01 0ZM93.3 48.3a0.9 0.9 0 1 0 0.01 0ZM205.3 115.5a0.5 0.5 0 1 0 0.01 0ZM60.8 141.8a0.6 0.6 0 1 0 0.01 0ZM89.3 19.8a0.6 0.6 0 1 0 0.01 0ZM144.2 73.1a1.3 1.3 0 1 0 0.01 0ZM77.9 4.9a1.3 1.3 0 1 0 0.01 0ZM39.2 118.1a1.1 1.1 0 1 0 0.01 0ZM79.7 105.2a0.6 0.6 0 1 0 0.01 0ZM158.6 165.9a1.3 1.3 0 1 0 0.01 0ZM37.3 134.3a0.5 0.5 0 1 0 0.01 0ZM154.7 98.2a0.6 0.6 0 1 0 0.01 0ZM27.7 148.3a0.7 0.7 0 1 0 0.01 0ZM14.9 72.2a1.2 1.2 0 1 0 0.01 0ZM29.4 147.1a0.7 0.7 0 1 0 0.01 0ZM30.2 148.1a1.4 1.4 0 1 0 0.01 0ZM65.8 132.3a0.7 0.7 0 1 0 0.01 0ZM199.6 22a0.9 0.9 0 1 0 0.01 0ZM167.7 61.3a1.2 1.2 0 1 0 0.01 0ZM75.7 136.4a0.6 0.6 0 1 0 0.01 0ZM37.6 138.8a1.3 1.3 0 1 0 0.01 0ZM81.4 163.4a0.7 0.7 0 1 0 0.01 0ZM178.9 90.1a1.4 1.4 0 1 0 0.01 0ZM142.4 161.2a1.1 1.1 0 1 0 0.01 0ZM38.6 114.7a0.8 0.8 0 1 0 0.01 0ZM53.9 144.4a1.2 1.2 0 1 0 0.01 0ZM1.8 64.6a0.8 0.8 0 1 0 0.01 0ZM30.3 4.2a1.2 1.2 0 1 0 0.01 0ZM135.4 78.8a1.3 1.3 0 1 0 0.01 0ZM36.6 136.5a1.2 1.2 0 1 0 0.01 0ZM77.3 104.1a1 1 0 1 0 0.01 0ZM71.1 153.7a1.3 1.3 0 1 0 0.01 0ZM84.6 161.7a1.4 1.4 0 1 0 0.01 0ZM35.4 158.6a1.1 1.1 0 1 0 0.01 0ZM158 166a1.4 1.4 0 1 0 0.01 0ZM3.4 145.8a0.9 0.9 0 1 0 0.01 0ZM93.3 48.5a0.7 0.7 0 1 0 0.01 0ZM153.9 117.3a0.7 0.7 0 1 0 0.01 0ZM99 87a1.3 1.3 0 1 0 0.01 0ZM100.9 21a1.3 1.3 0 1 0 0.01 0ZM136.9 75.7a1 1 0 1 0 0.01 0ZM37.4 133.7a0.8 0.8 0 1 0 0.01 0ZM80.1 4.3a1 1 0 1 0 0.01 0ZM197.3 20.7a0.9 0.9 0 1 0 0.01 0ZM36.7 133a0.9 0.9 0 1 0 0.01 0ZM30 166.6a0.8 0.8 0 1 0 0.01 0ZM29.9 166.6a1 1 0 1 0 0.01 0ZM66.7 154a0.7 0.7 0 1 0 0.01 0ZM29.7 64.8a0.7 0.7 0 1 0 0.01 0ZM29.4 17.3a0.6 0.6 0 1 0 0.01 0ZM152.4 162.3a0.7 0.7 0 1 0 0.01 0ZM45.5 113.5a0.6 0.6 0 1 0 0.01 0ZM73.7 155.9a0.6 0.6 0 1 0 0.01 0ZM7.1 86.5a1 1 0 1 0 0.01 0ZM144.1 170.9a0.9 0.9 0 1 0 0.01 0ZM90.5 46.6a1.4 1.4 0 1 0 0.01 0ZM176.2 97.1a0.9 0.9 0 1 0 0.01 0ZM151.7 114.6a0.9 0.9 0 1 0 0.01 0ZM36 137.3a0.8 0.8 0 1 0 0.01 0ZM84.9 2.7a1 1 0 1 0 0.01 0ZM60.8 136.7a1.3 1.3 0 1 0 0.01 0ZM136.6 160.9a1 1 0 1 0 0.01 0ZM210.4 13.2a1.2 1.2 0 1 0 0.01 0ZM19.1 158.2a1.3 1.3 0 1 0 0.01 0ZM36.2 56.4a1.2 1.2 0 1 0 0.01 0ZM59.3 142.5a0.8 0.8 0 1 0 0.01 0ZM95.9 68.4a0.9 0.9 0 1 0 0.01 0ZM71.5 62.7a1.4 1.4 0 1 0 0.01 0ZM94.9 69.6a0.6 0.6 0 1 0 0.01 0ZM37.8 136.6a0.8 0.8 0 1 0 0.01 0ZM175.8 62.6a1.2 1.2 0 1 0 0.01 0ZM89 1.5a1 1 0 1 0 0.01 0ZM97.5 51.7a0.8 0.8 0 1 0 0.01 0ZM52.1 57.6a0.8 0.8 0 1 0 0.01 0ZM144.6 162.2a0.6 0.6 0 1 0 0.01 0ZM11.1 70.8a0.8 0.8 0 1 0 0.01 0ZM116.2 157.2a1 1 0 1 0 0.01 0ZM93.8 75.5a1 1 0 1 0 0.01 0ZM138.3 41.3a1.4 1.4 0 1 0 0.01 0ZM203.9 161.1a1.4 1.4 0 1 0 0.01 0ZM26.5 6a0.9 0.9 0 1 0 0.01 0ZM181.6 66.3a1.3 1.3 0 1 0 0.01 0ZM148.4 72a1.1 1.1 0 1 0 0.01 0ZM135.3 74.2a1 1 0 1 0 0.01 0ZM76 137.3a0.8 0.8 0 1 0 0.01 0ZM20.3 159a0.9 0.9 0 1 0 0.01 0ZM155.6 146.9a0.8 0.8 0 1 0 0.01 0ZM117.1 7.8a0.6 0.6 0 1 0 0.01 0ZM160.5 158.7a1.3 1.3 0 1 0 0.01 0Z"/><rect width="215" height="171" fill="url(#gbay)"/></g></svg>
<rect x="467" y="27" width="217" height="173" fill="none" stroke="#000" stroke-width="2"/>
<line x1="616.2" y1="180.2" x2="665.9" y2="180.2" stroke="#1a1a1a" stroke-width="1.8"/>
<text x="-0.1" y="231.9" font-size="20" font-weight="bold" fill="#000">b</text>
<line x1="68" y1="232.5" x2="68" y2="404" stroke="#222" stroke-width="1.2"/>
<line x1="62.5" y1="403.4" x2="328.5" y2="403.4" stroke="#222" stroke-width="1.2"/>
<line x1="62.5" y1="403.4" x2="68" y2="403.4" stroke="#222" stroke-width="1.2"/>
<text x="56.5" y="408.4" font-size="14" text-anchor="end" fill="#111">0</text>
<line x1="62.5" y1="369.32" x2="68" y2="369.32" stroke="#222" stroke-width="1.2"/>
<text x="56.5" y="374.32" font-size="14" text-anchor="end" fill="#111">2</text>
<line x1="62.5" y1="335.24" x2="68" y2="335.24" stroke="#222" stroke-width="1.2"/>
<text x="56.5" y="340.24" font-size="14" text-anchor="end" fill="#111">4</text>
<line x1="62.5" y1="301.16" x2="68" y2="301.16" stroke="#222" stroke-width="1.2"/>
<text x="56.5" y="306.16" font-size="14" text-anchor="end" fill="#111">6</text>
<line x1="62.5" y1="267.08" x2="68" y2="267.08" stroke="#222" stroke-width="1.2"/>
<text x="56.5" y="272.08" font-size="14" text-anchor="end" fill="#111">8</text>
<line x1="62.5" y1="233" x2="68" y2="233" stroke="#222" stroke-width="1.2"/>
<text x="56.5" y="238" font-size="14" text-anchor="end" fill="#111">10</text>
<rect x="69.9" y="386.36" width="14.6" height="17.04" fill="#fff" stroke="#333" stroke-width="1"/>
<line x1="96" y1="309.34" x2="96" y2="262.99" stroke="#333" stroke-width="1.2"/>
<line x1="91.8" y1="262.99" x2="100.2" y2="262.99" stroke="#333" stroke-width="1.2"/>
<rect x="88.7" y="309.34" width="14.6" height="94.06" fill="#c80000" stroke="#5a1010" stroke-width="1"/>
<rect x="125.9" y="386.36" width="14.6" height="17.04" fill="#fff" stroke="#333" stroke-width="1"/>
<line x1="152" y1="384.14" x2="152" y2="382.27" stroke="#333" stroke-width="1.2"/>
<line x1="147.8" y1="382.27" x2="156.2" y2="382.27" stroke="#333" stroke-width="1.2"/>
<rect x="144.7" y="384.14" width="14.6" height="19.26" fill="#c80000" stroke="#5a1010" stroke-width="1"/>
<rect x="181.9" y="386.36" width="14.6" height="17.04" fill="#fff" stroke="#333" stroke-width="1"/>
<line x1="208" y1="388.4" x2="208" y2="384.83" stroke="#333" stroke-width="1.2"/>
<line x1="203.8" y1="384.83" x2="212.2" y2="384.83" stroke="#333" stroke-width="1.2"/>
<rect x="200.7" y="388.4" width="14.6" height="15" fill="#c80000" stroke="#5a1010" stroke-width="1"/>
<rect x="237.9" y="386.36" width="14.6" height="17.04" fill="#fff" stroke="#333" stroke-width="1"/>
<line x1="264" y1="382.61" x2="264" y2="380.57" stroke="#333" stroke-width="1.2"/>
<line x1="259.8" y1="380.57" x2="268.2" y2="380.57" stroke="#333" stroke-width="1.2"/>
<rect x="256.7" y="382.61" width="14.6" height="20.79" fill="#c80000" stroke="#5a1010" stroke-width="1"/>
<rect x="293.9" y="386.36" width="14.6" height="17.04" fill="#fff" stroke="#333" stroke-width="1"/>
<line x1="320" y1="366.59" x2="320" y2="356.2" stroke="#333" stroke-width="1.2"/>
<line x1="315.8" y1="356.2" x2="324.2" y2="356.2" stroke="#333" stroke-width="1.2"/>
<rect x="312.7" y="366.59" width="14.6" height="36.81" fill="#c80000" stroke="#5a1010" stroke-width="1"/>
<line x1="76.2" y1="251.9" x2="94.6" y2="251.9" stroke="#111" stroke-width="1.9"/>
<text x="85.1" y="253.4" font-size="15" font-weight="bold" text-anchor="middle" fill="#111">*</text>
<line x1="132.4" y1="377.3" x2="150.8" y2="377.3" stroke="#111" stroke-width="1.9"/>
<text x="141.1" y="378.6" font-size="15" font-weight="bold" text-anchor="middle" fill="#111">*</text>
<line x1="245.2" y1="375.7" x2="263.6" y2="375.7" stroke="#111" stroke-width="1.9"/>
<text x="254.6" y="378" font-size="15" font-weight="bold" text-anchor="middle" fill="#111">*</text>
<line x1="301.4" y1="351.2" x2="319.7" y2="351.2" stroke="#111" stroke-width="1.9"/>
<text x="310.8" y="353.4" font-size="15" font-weight="bold" text-anchor="middle" fill="#111">*</text>
<text transform="translate(90.5 409.5) rotate(-90)" font-size="14" font-style="italic" text-anchor="end" fill="#111">Ucp1</text>
<text transform="translate(146.5 409.5) rotate(-90)" font-size="14" font-style="italic" text-anchor="end" fill="#111">Pgc1<tspan font-family="DejaVu Sans">α</tspan></text>
<text transform="translate(202.5 409.5) rotate(-90)" font-size="14" font-style="italic" text-anchor="end" fill="#111">Cidea</text>
<text transform="translate(258.5 409.5) rotate(-90)" font-size="14" font-style="italic" text-anchor="end" fill="#111">Prdm16</text>
<text transform="translate(315.2 409.5) rotate(-90)" font-size="14" font-style="italic" text-anchor="end" fill="#111">Dio2</text>
<text x="165.3" y="249.9" font-size="13.6" fill="#111">Murine WA</text>
<rect x="278.2" y="234.4" width="8" height="8" fill="#fff" stroke="#222" stroke-width="1.2"/>
<text x="289.9" y="242.6" font-size="12.5" fill="#111">Control</text>
<rect x="278.2" y="252.5" width="8" height="8" fill="#c80000" stroke="#5a1010" stroke-width="1.2"/>
<text x="289.9" y="260.8" font-size="12.5" fill="#111">BAY</text>
<text transform="translate(14.2 320.1) rotate(-90)" font-size="14.2" text-anchor="middle" fill="#111">Relative mRNA</text>
<text transform="translate(31.6 318) rotate(-90)" font-size="14" text-anchor="middle" fill="#111">abundance</text>
<text x="356.5" y="230.8" font-size="20" font-weight="bold" fill="#000">c</text>
<line x1="415.3" y1="232.5" x2="415.3" y2="404" stroke="#222" stroke-width="1.2"/>
<line x1="409.8" y1="403.4" x2="672.6" y2="403.4" stroke="#222" stroke-width="1.2"/>
<line x1="409.8" y1="403.4" x2="415.3" y2="403.4" stroke="#222" stroke-width="1.2"/>
<text x="403.8" y="408.4" font-size="14" text-anchor="end" fill="#111">0</text>
<line x1="409.8" y1="360.8" x2="415.3" y2="360.8" stroke="#222" stroke-width="1.2"/>
<text x="403.8" y="365.8" font-size="14" text-anchor="end" fill="#111">1</text>
<line x1="409.8" y1="318.2" x2="415.3" y2="318.2" stroke="#222" stroke-width="1.2"/>
<text x="403.8" y="323.2" font-size="14" text-anchor="end" fill="#111">2</text>
<line x1="409.8" y1="275.6" x2="415.3" y2="275.6" stroke="#222" stroke-width="1.2"/>
<text x="403.8" y="280.6" font-size="14" text-anchor="end" fill="#111">3</text>
<line x1="409.8" y1="233" x2="415.3" y2="233" stroke="#222" stroke-width="1.2"/>
<text x="403.8" y="238" font-size="14" text-anchor="end" fill="#111">4</text>
<rect x="419" y="360.8" width="11.6" height="42.6" fill="#fff" stroke="#333" stroke-width="1"/>
<line x1="443" y1="307.98" x2="443" y2="284.97" stroke="#333" stroke-width="1.2"/>
<line x1="439.8" y1="284.97" x2="446.2" y2="284.97" stroke="#333" stroke-width="1.2"/>
<rect x="437.2" y="307.98" width="11.6" height="95.42" fill="#c80000" stroke="#5a1010" stroke-width="1"/>
<rect x="473.8" y="360.8" width="11.6" height="42.6" fill="#fff" stroke="#333" stroke-width="1"/>
<line x1="497.8" y1="353.98" x2="497.8" y2="349.3" stroke="#333" stroke-width="1.2"/>
<line x1="494.6" y1="349.3" x2="501" y2="349.3" stroke="#333" stroke-width="1.2"/>
<rect x="492" y="353.98" width="11.6" height="49.42" fill="#c80000" stroke="#5a1010" stroke-width="1"/>
<rect x="528.7" y="360.8" width="11.6" height="42.6" fill="#fff" stroke="#333" stroke-width="1"/>
<line x1="552.7" y1="310.53" x2="552.7" y2="284.97" stroke="#333" stroke-width="1.2"/>
<line x1="549.5" y1="284.97" x2="555.9" y2="284.97" stroke="#333" stroke-width="1.2"/>
<rect x="546.9" y="310.53" width="11.6" height="92.87" fill="#c80000" stroke="#5a1010" stroke-width="1"/>
<rect x="583.8" y="360.8" width="11.6" height="42.6" fill="#fff" stroke="#333" stroke-width="1"/>
<line x1="607.8" y1="352.28" x2="607.8" y2="347.17" stroke="#333" stroke-width="1.2"/>
<line x1="604.6" y1="347.17" x2="611" y2="347.17" stroke="#333" stroke-width="1.2"/>
<rect x="602" y="352.28" width="11.6" height="51.12" fill="#c80000" stroke="#5a1010" stroke-width="1"/>
<rect x="638.9" y="360.8" width="11.6" height="42.6" fill="#fff" stroke="#333" stroke-width="1"/>
<line x1="662.9" y1="294.34" x2="662.9" y2="265.38" stroke="#333" stroke-width="1.2"/>
<line x1="659.7" y1="265.38" x2="666.1" y2="265.38" stroke="#333" stroke-width="1.2"/>
<rect x="657.1" y="294.34" width="11.6" height="109.06" fill="#c80000" stroke="#5a1010" stroke-width="1"/>
<line x1="423.8" y1="278.9" x2="441.7" y2="278.9" stroke="#111" stroke-width="1.9"/>
<text x="432.5" y="277.4" font-size="15" font-weight="bold" text-anchor="middle" fill="#111">*</text>
<line x1="479" y1="344.2" x2="497.7" y2="344.2" stroke="#111" stroke-width="1.9"/>
<text x="488.4" y="342.6" font-size="15" font-weight="bold" text-anchor="middle" fill="#111">*</text>
<line x1="534.1" y1="276.8" x2="552.3" y2="276.8" stroke="#111" stroke-width="1.9"/>
<text x="543" y="275.6" font-size="15" font-weight="bold" text-anchor="middle" fill="#111">*</text>
<line x1="643.9" y1="259.2" x2="662.6" y2="259.2" stroke="#111" stroke-width="1.9"/>
<text x="653" y="258.3" font-size="15" font-weight="bold" text-anchor="middle" fill="#111">*</text>
<text transform="translate(439.5 409.5) rotate(-90)" font-size="14" font-style="italic" text-anchor="end" fill="#111">UCP 1</text>
<text transform="translate(495.8 409.5) rotate(-90)" font-size="14" font-style="italic" text-anchor="end" fill="#111">PGC1<tspan font-family="DejaVu Sans">α</tspan></text>
<text transform="translate(550.3 409.5) rotate(-90)" font-size="14" font-style="italic" text-anchor="end" fill="#111">CIDEA</text>
<text transform="translate(618.3 409.5) rotate(-90)" font-size="14" font-style="italic" text-anchor="end" fill="#111">PRDM16</text>
<text transform="translate(661.3 409.5) rotate(-90)" font-size="14" font-style="italic" text-anchor="end" fill="#111">DIO2</text>
<text x="509.4" y="250.3" font-size="13.6" fill="#111">Human WA</text>
<rect x="425.6" y="234.6" width="8" height="8" fill="#fff" stroke="#222" stroke-width="1.2"/>
<text x="437" y="242.9" font-size="12.5" fill="#111">Control</text>
<rect x="425.6" y="252.7" width="8" height="8" fill="#c80000" stroke="#5a1010" stroke-width="1.2"/>
<text x="437" y="261" font-size="12.5" fill="#111">BAY</text>
<text transform="translate(369 320.1) rotate(-90)" font-size="14.2" text-anchor="middle" fill="#111">Relative mRNA</text>
<text transform="translate(387.7 318) rotate(-90)" font-size="14" text-anchor="middle" fill="#111">abundance</text>
<text x="0.3" y="493.9" font-size="20" font-weight="bold" fill="#000">d</text>
<line x1="66.6" y1="498.3" x2="66.6" y2="676" stroke="#222" stroke-width="1.3"/>
<line x1="66.6" y1="671" x2="325.19" y2="671" stroke="#222" stroke-width="1.3"/>
<line x1="61.1" y1="498.8" x2="66.6" y2="498.8" stroke="#222" stroke-width="1.2"/>
<text x="56.1" y="503.8" font-size="14" text-anchor="end" fill="#111">50</text>
<line x1="61.1" y1="548.2" x2="66.6" y2="548.2" stroke="#222" stroke-width="1.2"/>
<text x="56.1" y="553.2" font-size="14" text-anchor="end" fill="#111">40</text>
<line x1="61.1" y1="597.6" x2="66.6" y2="597.6" stroke="#222" stroke-width="1.2"/>
<text x="56.1" y="602.6" font-size="14" text-anchor="end" fill="#111">30</text>
<line x1="61.1" y1="647" x2="66.6" y2="647" stroke="#222" stroke-width="1.2"/>
<text x="56.1" y="652" font-size="14" text-anchor="end" fill="#111">20</text>
<line x1="66.6" y1="671" x2="66.6" y2="676" stroke="#222" stroke-width="1.2"/>
<text x="66.6" y="690.3" font-size="11.5" text-anchor="middle" fill="#111">0</text>
<line x1="80.93" y1="671" x2="80.93" y2="676" stroke="#222" stroke-width="1.2"/>
<text x="80.93" y="690.3" font-size="11.5" text-anchor="middle" fill="#111">1</text>
<line x1="95.27" y1="671" x2="95.27" y2="676" stroke="#222" stroke-width="1.2"/>
<text x="95.27" y="690.3" font-size="11.5" text-anchor="middle" fill="#111">2</text>
<line x1="109.6" y1="671" x2="109.6" y2="676" stroke="#222" stroke-width="1.2"/>
<text x="109.6" y="690.3" font-size="11.5" text-anchor="middle" fill="#111">3</text>
<line x1="123.93" y1="671" x2="123.93" y2="676" stroke="#222" stroke-width="1.2"/>
<text x="123.93" y="690.3" font-size="11.5" text-anchor="middle" fill="#111">4</text>
<line x1="138.26" y1="671" x2="138.26" y2="676" stroke="#222" stroke-width="1.2"/>
<text x="138.26" y="690.3" font-size="11.5" text-anchor="middle" fill="#111">5</text>
<line x1="152.6" y1="671" x2="152.6" y2="676" stroke="#222" stroke-width="1.2"/>
<text x="152.6" y="690.3" font-size="11.5" text-anchor="middle" fill="#111">6</text>
<line x1="166.93" y1="671" x2="166.93" y2="676" stroke="#222" stroke-width="1.2"/>
<text x="166.93" y="690.3" font-size="11.5" text-anchor="middle" fill="#111">7</text>
<line x1="181.26" y1="671" x2="181.26" y2="676" stroke="#222" stroke-width="1.2"/>
<text x="181.26" y="690.3" font-size="11.5" text-anchor="middle" fill="#111">8</text>
<line x1="195.6" y1="671" x2="195.6" y2="676" stroke="#222" stroke-width="1.2"/>
<text x="195.6" y="690.3" font-size="11.5" text-anchor="middle" fill="#111">9</text>
<line x1="209.93" y1="671" x2="209.93" y2="676" stroke="#222" stroke-width="1.2"/>
<text x="209.93" y="690.3" font-size="11.5" text-anchor="middle" fill="#111">10</text>
<line x1="224.26" y1="671" x2="224.26" y2="676" stroke="#222" stroke-width="1.2"/>
<text x="224.26" y="690.3" font-size="11.5" text-anchor="middle" fill="#111">11</text>
<line x1="238.6" y1="671" x2="238.6" y2="676" stroke="#222" stroke-width="1.2"/>
<text x="238.6" y="690.3" font-size="11.5" text-anchor="middle" fill="#111">12</text>
<line x1="252.93" y1="671" x2="252.93" y2="676" stroke="#222" stroke-width="1.2"/>
<text x="252.93" y="690.3" font-size="11.5" text-anchor="middle" fill="#111">13</text>
<line x1="267.26" y1="671" x2="267.26" y2="676" stroke="#222" stroke-width="1.2"/>
<text x="267.26" y="690.3" font-size="11.5" text-anchor="middle" fill="#111">14</text>
<line x1="281.6" y1="671" x2="281.6" y2="676" stroke="#222" stroke-width="1.2"/>
<text x="281.6" y="690.3" font-size="11.5" text-anchor="middle" fill="#111">15</text>
<line x1="295.93" y1="671" x2="295.93" y2="676" stroke="#222" stroke-width="1.2"/>
<text x="295.93" y="690.3" font-size="11.5" text-anchor="middle" fill="#111">16</text>
<line x1="310.26" y1="671" x2="310.26" y2="676" stroke="#222" stroke-width="1.2"/>
<text x="310.26" y="690.3" font-size="11.5" text-anchor="middle" fill="#111">17</text>
<line x1="324.59" y1="671" x2="324.59" y2="676" stroke="#222" stroke-width="1.2"/>
<text x="324.59" y="690.3" font-size="11.5" text-anchor="middle" fill="#111">18</text>
<text x="195.6" y="715.7" font-size="14" text-anchor="middle" fill="#111">Weeks</text>
<line x1="80.93" y1="633.6" x2="80.93" y2="635.6" stroke="#111" stroke-width="1.2"/>
<line x1="77.23" y1="633.6" x2="84.63" y2="633.6" stroke="#111" stroke-width="1.4"/>
<line x1="77.23" y1="635.6" x2="84.63" y2="635.6" stroke="#111" stroke-width="1.4"/>
<line x1="95.27" y1="628.1" x2="95.27" y2="630.1" stroke="#111" stroke-width="1.2"/>
<line x1="91.57" y1="628.1" x2="98.97" y2="628.1" stroke="#111" stroke-width="1.4"/>
<line x1="91.57" y1="630.1" x2="98.97" y2="630.1" stroke="#111" stroke-width="1.4"/>
<line x1="109.6" y1="619.9" x2="109.6" y2="621.9" stroke="#111" stroke-width="1.2"/>
<line x1="105.9" y1="619.9" x2="113.3" y2="619.9" stroke="#111" stroke-width="1.4"/>
<line x1="105.9" y1="621.9" x2="113.3" y2="621.9" stroke="#111" stroke-width="1.4"/>
<line x1="123.93" y1="613.4" x2="123.93" y2="615.4" stroke="#111" stroke-width="1.2"/>
<line x1="120.23" y1="613.4" x2="127.63" y2="613.4" stroke="#111" stroke-width="1.4"/>
<line x1="120.23" y1="615.4" x2="127.63" y2="615.4" stroke="#111" stroke-width="1.4"/>
<line x1="138.26" y1="605.4" x2="138.26" y2="607.4" stroke="#111" stroke-width="1.2"/>
<line x1="134.56" y1="605.4" x2="141.96" y2="605.4" stroke="#111" stroke-width="1.4"/>
<line x1="134.56" y1="607.4" x2="141.96" y2="607.4" stroke="#111" stroke-width="1.4"/>
<line x1="152.6" y1="599.8" x2="152.6" y2="602.8" stroke="#111" stroke-width="1.2"/>
<line x1="148.9" y1="599.8" x2="156.3" y2="599.8" stroke="#111" stroke-width="1.4"/>
<line x1="148.9" y1="602.8" x2="156.3" y2="602.8" stroke="#111" stroke-width="1.4"/>
<line x1="166.93" y1="592.6" x2="166.93" y2="595.6" stroke="#111" stroke-width="1.2"/>
<line x1="163.23" y1="592.6" x2="170.63" y2="592.6" stroke="#111" stroke-width="1.4"/>
<line x1="163.23" y1="595.6" x2="170.63" y2="595.6" stroke="#111" stroke-width="1.4"/>
<line x1="181.26" y1="581.9" x2="181.26" y2="586.9" stroke="#111" stroke-width="1.2"/>
<line x1="177.56" y1="581.9" x2="184.96" y2="581.9" stroke="#111" stroke-width="1.4"/>
<line x1="177.56" y1="586.9" x2="184.96" y2="586.9" stroke="#111" stroke-width="1.4"/>
<line x1="195.6" y1="570.3" x2="195.6" y2="577.3" stroke="#111" stroke-width="1.2"/>
<line x1="191.9" y1="570.3" x2="199.3" y2="570.3" stroke="#111" stroke-width="1.4"/>
<line x1="191.9" y1="577.3" x2="199.3" y2="577.3" stroke="#111" stroke-width="1.4"/>
<line x1="209.93" y1="559.5" x2="209.93" y2="570.5" stroke="#111" stroke-width="1.2"/>
<line x1="206.23" y1="559.5" x2="213.63" y2="559.5" stroke="#111" stroke-width="1.4"/>
<line x1="206.23" y1="570.5" x2="213.63" y2="570.5" stroke="#111" stroke-width="1.4"/>
<line x1="224.26" y1="552.8" x2="224.26" y2="563.8" stroke="#111" stroke-width="1.2"/>
<line x1="220.56" y1="552.8" x2="227.96" y2="552.8" stroke="#111" stroke-width="1.4"/>
<line x1="220.56" y1="563.8" x2="227.96" y2="563.8" stroke="#111" stroke-width="1.4"/>
<line x1="238.6" y1="541.5" x2="238.6" y2="554.7" stroke="#111" stroke-width="1.2"/>
<line x1="234.9" y1="541.5" x2="242.3" y2="541.5" stroke="#111" stroke-width="1.4"/>
<line x1="234.9" y1="554.7" x2="242.3" y2="554.7" stroke="#111" stroke-width="1.4"/>
<line x1="252.93" y1="535.8" x2="252.93" y2="546.8" stroke="#111" stroke-width="1.2"/>
<line x1="249.23" y1="535.8" x2="256.63" y2="535.8" stroke="#111" stroke-width="1.4"/>
<line x1="249.23" y1="546.8" x2="256.63" y2="546.8" stroke="#111" stroke-width="1.4"/>
<line x1="267.26" y1="530.3" x2="267.26" y2="541.3" stroke="#111" stroke-width="1.2"/>
<line x1="263.56" y1="530.3" x2="270.96" y2="530.3" stroke="#111" stroke-width="1.4"/>
<line x1="263.56" y1="541.3" x2="270.96" y2="541.3" stroke="#111" stroke-width="1.4"/>
<line x1="281.6" y1="520.8" x2="281.6" y2="532.4" stroke="#111" stroke-width="1.2"/>
<line x1="277.9" y1="520.8" x2="285.3" y2="520.8" stroke="#111" stroke-width="1.4"/>
<line x1="277.9" y1="532.4" x2="285.3" y2="532.4" stroke="#111" stroke-width="1.4"/>
<line x1="295.93" y1="512" x2="295.93" y2="523.6" stroke="#111" stroke-width="1.2"/>
<line x1="292.23" y1="512" x2="299.63" y2="512" stroke="#111" stroke-width="1.4"/>
<line x1="292.23" y1="523.6" x2="299.63" y2="523.6" stroke="#111" stroke-width="1.4"/>
<line x1="310.26" y1="505.2" x2="310.26" y2="517.6" stroke="#111" stroke-width="1.2"/>
<line x1="306.56" y1="505.2" x2="313.96" y2="505.2" stroke="#111" stroke-width="1.4"/>
<line x1="306.56" y1="517.6" x2="313.96" y2="517.6" stroke="#111" stroke-width="1.4"/>
<line x1="324.59" y1="503" x2="324.59" y2="515.4" stroke="#111" stroke-width="1.2"/>
<line x1="320.89" y1="503" x2="328.29" y2="503" stroke="#111" stroke-width="1.4"/>
<line x1="320.89" y1="515.4" x2="328.29" y2="515.4" stroke="#111" stroke-width="1.4"/>
<line x1="80.93" y1="631.6" x2="80.93" y2="633.6" stroke="#111" stroke-width="1.2"/>
<line x1="77.23" y1="631.6" x2="84.63" y2="631.6" stroke="#111" stroke-width="1.4"/>
<line x1="77.23" y1="633.6" x2="84.63" y2="633.6" stroke="#111" stroke-width="1.4"/>
<line x1="95.27" y1="627" x2="95.27" y2="629" stroke="#111" stroke-width="1.2"/>
<line x1="91.57" y1="627" x2="98.97" y2="627" stroke="#111" stroke-width="1.4"/>
<line x1="91.57" y1="629" x2="98.97" y2="629" stroke="#111" stroke-width="1.4"/>
<line x1="109.6" y1="619.3" x2="109.6" y2="621.3" stroke="#111" stroke-width="1.2"/>
<line x1="105.9" y1="619.3" x2="113.3" y2="619.3" stroke="#111" stroke-width="1.4"/>
<line x1="105.9" y1="621.3" x2="113.3" y2="621.3" stroke="#111" stroke-width="1.4"/>
<line x1="123.93" y1="613.4" x2="123.93" y2="615.4" stroke="#111" stroke-width="1.2"/>
<line x1="120.23" y1="613.4" x2="127.63" y2="613.4" stroke="#111" stroke-width="1.4"/>
<line x1="120.23" y1="615.4" x2="127.63" y2="615.4" stroke="#111" stroke-width="1.4"/>
<line x1="138.26" y1="605.8" x2="138.26" y2="607.8" stroke="#111" stroke-width="1.2"/>
<line x1="134.56" y1="605.8" x2="141.96" y2="605.8" stroke="#111" stroke-width="1.4"/>
<line x1="134.56" y1="607.8" x2="141.96" y2="607.8" stroke="#111" stroke-width="1.4"/>
<line x1="152.6" y1="600.2" x2="152.6" y2="603.2" stroke="#111" stroke-width="1.2"/>
<line x1="148.9" y1="600.2" x2="156.3" y2="600.2" stroke="#111" stroke-width="1.4"/>
<line x1="148.9" y1="603.2" x2="156.3" y2="603.2" stroke="#111" stroke-width="1.4"/>
<line x1="166.93" y1="593" x2="166.93" y2="596" stroke="#111" stroke-width="1.2"/>
<line x1="163.23" y1="593" x2="170.63" y2="593" stroke="#111" stroke-width="1.4"/>
<line x1="163.23" y1="596" x2="170.63" y2="596" stroke="#111" stroke-width="1.4"/>
<line x1="181.26" y1="583.8" x2="181.26" y2="588.8" stroke="#111" stroke-width="1.2"/>
<line x1="177.56" y1="583.8" x2="184.96" y2="583.8" stroke="#111" stroke-width="1.4"/>
<line x1="177.56" y1="588.8" x2="184.96" y2="588.8" stroke="#111" stroke-width="1.4"/>
<line x1="195.6" y1="573.8" x2="195.6" y2="583.8" stroke="#111" stroke-width="1.2"/>
<line x1="191.9" y1="573.8" x2="199.3" y2="573.8" stroke="#111" stroke-width="1.4"/>
<line x1="191.9" y1="583.8" x2="199.3" y2="583.8" stroke="#111" stroke-width="1.4"/>
<line x1="209.93" y1="567.5" x2="209.93" y2="576.9" stroke="#111" stroke-width="1.2"/>
<line x1="206.23" y1="567.5" x2="213.63" y2="567.5" stroke="#111" stroke-width="1.4"/>
<line x1="206.23" y1="576.9" x2="213.63" y2="576.9" stroke="#111" stroke-width="1.4"/>
<line x1="224.26" y1="562.1" x2="224.26" y2="571.5" stroke="#111" stroke-width="1.2"/>
<line x1="220.56" y1="562.1" x2="227.96" y2="562.1" stroke="#111" stroke-width="1.4"/>
<line x1="220.56" y1="571.5" x2="227.96" y2="571.5" stroke="#111" stroke-width="1.4"/>
<line x1="238.6" y1="558" x2="238.6" y2="567.6" stroke="#111" stroke-width="1.2"/>
<line x1="234.9" y1="558" x2="242.3" y2="558" stroke="#111" stroke-width="1.4"/>
<line x1="234.9" y1="567.6" x2="242.3" y2="567.6" stroke="#111" stroke-width="1.4"/>
<line x1="252.93" y1="554" x2="252.93" y2="564" stroke="#111" stroke-width="1.2"/>
<line x1="249.23" y1="554" x2="256.63" y2="554" stroke="#111" stroke-width="1.4"/>
<line x1="249.23" y1="564" x2="256.63" y2="564" stroke="#111" stroke-width="1.4"/>
<line x1="267.26" y1="552.9" x2="267.26" y2="562.9" stroke="#111" stroke-width="1.2"/>
<line x1="263.56" y1="552.9" x2="270.96" y2="552.9" stroke="#111" stroke-width="1.4"/>
<line x1="263.56" y1="562.9" x2="270.96" y2="562.9" stroke="#111" stroke-width="1.4"/>
<line x1="281.6" y1="546.6" x2="281.6" y2="557" stroke="#111" stroke-width="1.2"/>
<line x1="277.9" y1="546.6" x2="285.3" y2="546.6" stroke="#111" stroke-width="1.4"/>
<line x1="277.9" y1="557" x2="285.3" y2="557" stroke="#111" stroke-width="1.4"/>
<line x1="295.93" y1="540" x2="295.93" y2="550.4" stroke="#111" stroke-width="1.2"/>
<line x1="292.23" y1="540" x2="299.63" y2="540" stroke="#111" stroke-width="1.4"/>
<line x1="292.23" y1="550.4" x2="299.63" y2="550.4" stroke="#111" stroke-width="1.4"/>
<line x1="310.26" y1="531.4" x2="310.26" y2="543.8" stroke="#111" stroke-width="1.2"/>
<line x1="306.56" y1="531.4" x2="313.96" y2="531.4" stroke="#111" stroke-width="1.4"/>
<line x1="306.56" y1="543.8" x2="313.96" y2="543.8" stroke="#111" stroke-width="1.4"/>
<line x1="324.59" y1="533.1" x2="324.59" y2="545.5" stroke="#111" stroke-width="1.2"/>
<line x1="320.89" y1="533.1" x2="328.29" y2="533.1" stroke="#111" stroke-width="1.4"/>
<line x1="320.89" y1="545.5" x2="328.29" y2="545.5" stroke="#111" stroke-width="1.4"/>
<polyline fill="none" stroke="#111" stroke-width="1.2" points="66.6,649.9 80.93,634.6 95.27,629.1 109.6,620.9 123.93,614.4 138.26,606.4 152.6,601.3 166.93,594.1 181.26,584.4 195.6,573.8 209.93,565 224.26,558.3 238.6,548.1 252.93,541.3 267.26,535.8 281.6,526.6 295.93,517.8 310.26,511.4 324.59,509.2"/>
<polyline fill="none" stroke="#111" stroke-width="1.2" points="66.6,649.9 80.93,632.6 95.27,628 109.6,620.3 123.93,614.4 138.26,606.8 152.6,601.7 166.93,594.5 181.26,586.3 195.6,578.8 209.93,572.2 224.26,566.8 238.6,562.8 252.93,559 267.26,557.9 281.6,551.8 295.93,545.2 310.26,537.6 324.59,539.3"/>
<rect x="63" y="646.4" width="7.2" height="7" fill="#000" stroke="none" stroke-width="1"/>
<rect x="77.33" y="631.1" width="7.2" height="7" fill="#000" stroke="none" stroke-width="1"/>
<rect x="91.67" y="625.6" width="7.2" height="7" fill="#000" stroke="none" stroke-width="1"/>
<rect x="106" y="617.4" width="7.2" height="7" fill="#000" stroke="none" stroke-width="1"/>
<rect x="120.33" y="610.9" width="7.2" height="7" fill="#000" stroke="none" stroke-width="1"/>
<rect x="134.66" y="602.9" width="7.2" height="7" fill="#000" stroke="none" stroke-width="1"/>
<rect x="149" y="597.8" width="7.2" height="7" fill="#000" stroke="none" stroke-width="1"/>
<rect x="163.33" y="590.6" width="7.2" height="7" fill="#000" stroke="none" stroke-width="1"/>
<rect x="177.66" y="580.9" width="7.2" height="7" fill="#000" stroke="none" stroke-width="1"/>
<rect x="192" y="570.3" width="7.2" height="7" fill="#000" stroke="none" stroke-width="1"/>
<rect x="206.33" y="561.5" width="7.2" height="7" fill="#000" stroke="none" stroke-width="1"/>
<rect x="220.66" y="554.8" width="7.2" height="7" fill="#000" stroke="none" stroke-width="1"/>
<rect x="235" y="544.6" width="7.2" height="7" fill="#000" stroke="none" stroke-width="1"/>
<rect x="249.33" y="537.8" width="7.2" height="7" fill="#000" stroke="none" stroke-width="1"/>
<rect x="263.66" y="532.3" width="7.2" height="7" fill="#000" stroke="none" stroke-width="1"/>
<rect x="278" y="523.1" width="7.2" height="7" fill="#000" stroke="none" stroke-width="1"/>
<rect x="292.33" y="514.3" width="7.2" height="7" fill="#000" stroke="none" stroke-width="1"/>
<rect x="306.66" y="507.9" width="7.2" height="7" fill="#000" stroke="none" stroke-width="1"/>
<rect x="320.99" y="505.7" width="7.2" height="7" fill="#000" stroke="none" stroke-width="1"/>
<polygon points="66.6,646.34 70.2,652.82 63,652.82" fill="#c00000" stroke="#8a0000" stroke-width="0.5"/>
<polygon points="80.93,629.04 84.53,635.52 77.33,635.52" fill="#c00000" stroke="#8a0000" stroke-width="0.5"/>
<polygon points="95.27,624.44 98.87,630.92 91.67,630.92" fill="#c00000" stroke="#8a0000" stroke-width="0.5"/>
<polygon points="109.6,616.74 113.2,623.22 106,623.22" fill="#c00000" stroke="#8a0000" stroke-width="0.5"/>
<polygon points="123.93,610.84 127.53,617.32 120.33,617.32" fill="#c00000" stroke="#8a0000" stroke-width="0.5"/>
<polygon points="138.26,603.24 141.86,609.72 134.66,609.72" fill="#c00000" stroke="#8a0000" stroke-width="0.5"/>
<polygon points="152.6,598.14 156.2,604.62 149,604.62" fill="#c00000" stroke="#8a0000" stroke-width="0.5"/>
<polygon points="166.93,590.94 170.53,597.42 163.33,597.42" fill="#c00000" stroke="#8a0000" stroke-width="0.5"/>
<polygon points="181.26,582.74 184.86,589.22 177.66,589.22" fill="#c00000" stroke="#8a0000" stroke-width="0.5"/>
<polygon points="195.6,575.24 199.2,581.72 192,581.72" fill="#c00000" stroke="#8a0000" stroke-width="0.5"/>
<polygon points="209.93,568.64 213.53,575.12 206.33,575.12" fill="#c00000" stroke="#8a0000" stroke-width="0.5"/>
<polygon points="224.26,563.24 227.86,569.72 220.66,569.72" fill="#c00000" stroke="#8a0000" stroke-width="0.5"/>
<polygon points="238.6,559.24 242.2,565.72 235,565.72" fill="#c00000" stroke="#8a0000" stroke-width="0.5"/>
<polygon points="252.93,555.44 256.53,561.92 249.33,561.92" fill="#c00000" stroke="#8a0000" stroke-width="0.5"/>
<polygon points="267.26,554.34 270.86,560.82 263.66,560.82" fill="#c00000" stroke="#8a0000" stroke-width="0.5"/>
<polygon points="281.6,548.24 285.2,554.72 278,554.72" fill="#c00000" stroke="#8a0000" stroke-width="0.5"/>
<polygon points="295.93,541.64 299.53,548.12 292.33,548.12" fill="#c00000" stroke="#8a0000" stroke-width="0.5"/>
<polygon points="310.26,534.04 313.86,540.52 306.66,540.52" fill="#c00000" stroke="#8a0000" stroke-width="0.5"/>
<polygon points="324.59,535.74 328.19,542.22 320.99,542.22" fill="#c00000" stroke="#8a0000" stroke-width="0.5"/>
<text x="281.6" y="522.7" font-size="14" font-weight="bold" text-anchor="middle" fill="#111">*</text>
<text x="292.33" y="514" font-size="14" font-weight="bold" text-anchor="middle" fill="#111">*</text>
<text x="299.53" y="514" font-size="14" font-weight="bold" text-anchor="middle" fill="#111">*</text>
<text x="306.66" y="506.3" font-size="14" font-weight="bold" text-anchor="middle" fill="#111">*</text>
<text x="313.86" y="506.3" font-size="14" font-weight="bold" text-anchor="middle" fill="#111">*</text>
<text x="320.99" y="501.6" font-size="14" font-weight="bold" text-anchor="middle" fill="#111">*</text>
<text x="328.19" y="501.6" font-size="14" font-weight="bold" text-anchor="middle" fill="#111">*</text>
<line x1="238.6" y1="517.3" x2="238.6" y2="530.9" stroke="#000" stroke-width="1.8"/>
<polygon points="234.9,530.4 242.3,530.4 238.6,536.4" fill="#000"/>
<rect x="73.5" y="502" width="6.4" height="6" fill="#000" stroke="none" stroke-width="1"/>
<text x="84.4" y="509.6" font-size="12.1" fill="#111">HFD - HFD</text>
<polygon points="76.8,523.93 80.1,529.87 73.5,529.87" fill="#c00000" stroke="#8a0000" stroke-width="0.5"/>
<text x="84.4" y="531.2" font-size="12.1" fill="#111">HFD - BAY+HFD</text>
<text transform="translate(27.8 585.2) rotate(-90)" font-size="14.3" text-anchor="middle" fill="#111">Body weight (g)</text>
<text x="369.5" y="493.9" font-size="20" font-weight="bold" fill="#000">e</text>
<line x1="416.8" y1="497.7" x2="416.8" y2="676" stroke="#222" stroke-width="1.3"/>
<line x1="416.8" y1="671" x2="676.29" y2="671" stroke="#222" stroke-width="1.3"/>
<line x1="411.3" y1="498.3" x2="416.8" y2="498.3" stroke="#222" stroke-width="1.2"/>
<text x="408.2" y="503.3" font-size="14" text-anchor="end" fill="#111">50</text>
<line x1="411.3" y1="547.4" x2="416.8" y2="547.4" stroke="#222" stroke-width="1.2"/>
<text x="408.2" y="552.4" font-size="14" text-anchor="end" fill="#111">40</text>
<line x1="411.3" y1="596.8" x2="416.8" y2="596.8" stroke="#222" stroke-width="1.2"/>
<text x="408.2" y="601.8" font-size="14" text-anchor="end" fill="#111">30</text>
<line x1="411.3" y1="646.2" x2="416.8" y2="646.2" stroke="#222" stroke-width="1.2"/>
<text x="408.2" y="651.2" font-size="14" text-anchor="end" fill="#111">20</text>
<line x1="416.8" y1="671" x2="416.8" y2="676" stroke="#222" stroke-width="1.2"/>
<text x="416.8" y="690.3" font-size="11.5" text-anchor="middle" fill="#111">0</text>
<line x1="431.18" y1="671" x2="431.18" y2="676" stroke="#222" stroke-width="1.2"/>
<text x="431.18" y="690.3" font-size="11.5" text-anchor="middle" fill="#111">1</text>
<line x1="445.57" y1="671" x2="445.57" y2="676" stroke="#222" stroke-width="1.2"/>
<text x="445.57" y="690.3" font-size="11.5" text-anchor="middle" fill="#111">2</text>
<line x1="459.95" y1="671" x2="459.95" y2="676" stroke="#222" stroke-width="1.2"/>
<text x="459.95" y="690.3" font-size="11.5" text-anchor="middle" fill="#111">3</text>
<line x1="474.33" y1="671" x2="474.33" y2="676" stroke="#222" stroke-width="1.2"/>
<text x="474.33" y="690.3" font-size="11.5" text-anchor="middle" fill="#111">4</text>
<line x1="488.72" y1="671" x2="488.72" y2="676" stroke="#222" stroke-width="1.2"/>
<text x="488.72" y="690.3" font-size="11.5" text-anchor="middle" fill="#111">5</text>
<line x1="503.1" y1="671" x2="503.1" y2="676" stroke="#222" stroke-width="1.2"/>
<text x="503.1" y="690.3" font-size="11.5" text-anchor="middle" fill="#111">6</text>
<line x1="517.48" y1="671" x2="517.48" y2="676" stroke="#222" stroke-width="1.2"/>
<text x="517.48" y="690.3" font-size="11.5" text-anchor="middle" fill="#111">7</text>
<line x1="531.86" y1="671" x2="531.86" y2="676" stroke="#222" stroke-width="1.2"/>
<text x="531.86" y="690.3" font-size="11.5" text-anchor="middle" fill="#111">8</text>
<line x1="546.25" y1="671" x2="546.25" y2="676" stroke="#222" stroke-width="1.2"/>
<text x="546.25" y="690.3" font-size="11.5" text-anchor="middle" fill="#111">9</text>
<line x1="560.63" y1="671" x2="560.63" y2="676" stroke="#222" stroke-width="1.2"/>
<text x="560.63" y="690.3" font-size="11.5" text-anchor="middle" fill="#111">10</text>
<line x1="575.01" y1="671" x2="575.01" y2="676" stroke="#222" stroke-width="1.2"/>
<text x="575.01" y="690.3" font-size="11.5" text-anchor="middle" fill="#111">11</text>
<line x1="589.4" y1="671" x2="589.4" y2="676" stroke="#222" stroke-width="1.2"/>
<text x="589.4" y="690.3" font-size="11.5" text-anchor="middle" fill="#111">12</text>
<line x1="603.78" y1="671" x2="603.78" y2="676" stroke="#222" stroke-width="1.2"/>
<text x="603.78" y="690.3" font-size="11.5" text-anchor="middle" fill="#111">13</text>
<line x1="618.16" y1="671" x2="618.16" y2="676" stroke="#222" stroke-width="1.2"/>
<text x="618.16" y="690.3" font-size="11.5" text-anchor="middle" fill="#111">14</text>
<line x1="632.54" y1="671" x2="632.54" y2="676" stroke="#222" stroke-width="1.2"/>
<text x="632.54" y="690.3" font-size="11.5" text-anchor="middle" fill="#111">15</text>
<line x1="646.93" y1="671" x2="646.93" y2="676" stroke="#222" stroke-width="1.2"/>
<text x="646.93" y="690.3" font-size="11.5" text-anchor="middle" fill="#111">16</text>
<line x1="661.31" y1="671" x2="661.31" y2="676" stroke="#222" stroke-width="1.2"/>
<text x="661.31" y="690.3" font-size="11.5" text-anchor="middle" fill="#111">17</text>
<line x1="675.69" y1="671" x2="675.69" y2="676" stroke="#222" stroke-width="1.2"/>
<text x="675.69" y="690.3" font-size="11.5" text-anchor="middle" fill="#111">18</text>
<text x="546.3" y="715.7" font-size="14" text-anchor="middle" fill="#111">Weeks</text>
<line x1="560.63" y1="605.7" x2="560.63" y2="614.1" stroke="#555" stroke-width="1.2"/>
<line x1="557.13" y1="605.7" x2="564.13" y2="605.7" stroke="#555" stroke-width="1.4"/>
<line x1="557.13" y1="614.1" x2="564.13" y2="614.1" stroke="#555" stroke-width="1.4"/>
<line x1="575.01" y1="599.5" x2="575.01" y2="608.5" stroke="#555" stroke-width="1.2"/>
<line x1="571.51" y1="599.5" x2="578.51" y2="599.5" stroke="#555" stroke-width="1.4"/>
<line x1="571.51" y1="608.5" x2="578.51" y2="608.5" stroke="#555" stroke-width="1.4"/>
<line x1="589.4" y1="603.5" x2="589.4" y2="612.1" stroke="#555" stroke-width="1.2"/>
<line x1="585.9" y1="603.5" x2="592.9" y2="603.5" stroke="#555" stroke-width="1.4"/>
<line x1="585.9" y1="612.1" x2="592.9" y2="612.1" stroke="#555" stroke-width="1.4"/>
<line x1="603.78" y1="598.5" x2="603.78" y2="607.5" stroke="#555" stroke-width="1.2"/>
<line x1="600.28" y1="598.5" x2="607.28" y2="598.5" stroke="#555" stroke-width="1.4"/>
<line x1="600.28" y1="607.5" x2="607.28" y2="607.5" stroke="#555" stroke-width="1.4"/>
<line x1="618.16" y1="600.5" x2="618.16" y2="607.5" stroke="#555" stroke-width="1.2"/>
<line x1="614.66" y1="600.5" x2="621.66" y2="600.5" stroke="#555" stroke-width="1.4"/>
<line x1="614.66" y1="607.5" x2="621.66" y2="607.5" stroke="#555" stroke-width="1.4"/>
<line x1="632.54" y1="598.9" x2="632.54" y2="607.9" stroke="#555" stroke-width="1.2"/>
<line x1="629.04" y1="598.9" x2="636.04" y2="598.9" stroke="#555" stroke-width="1.4"/>
<line x1="629.04" y1="607.9" x2="636.04" y2="607.9" stroke="#555" stroke-width="1.4"/>
<line x1="646.93" y1="595.5" x2="646.93" y2="603.5" stroke="#555" stroke-width="1.2"/>
<line x1="643.43" y1="595.5" x2="650.43" y2="595.5" stroke="#555" stroke-width="1.4"/>
<line x1="643.43" y1="603.5" x2="650.43" y2="603.5" stroke="#555" stroke-width="1.4"/>
<line x1="661.31" y1="596" x2="661.31" y2="603" stroke="#555" stroke-width="1.2"/>
<line x1="657.81" y1="596" x2="664.81" y2="596" stroke="#555" stroke-width="1.4"/>
<line x1="657.81" y1="603" x2="664.81" y2="603" stroke="#555" stroke-width="1.4"/>
<line x1="675.69" y1="598.5" x2="675.69" y2="602.5" stroke="#555" stroke-width="1.2"/>
<line x1="672.19" y1="598.5" x2="679.19" y2="598.5" stroke="#555" stroke-width="1.4"/>
<line x1="672.19" y1="602.5" x2="679.19" y2="602.5" stroke="#555" stroke-width="1.4"/>
<line x1="431.18" y1="632" x2="431.18" y2="634" stroke="#111" stroke-width="1.2"/>
<line x1="427.68" y1="632" x2="434.68" y2="632" stroke="#111" stroke-width="1.4"/>
<line x1="427.68" y1="634" x2="434.68" y2="634" stroke="#111" stroke-width="1.4"/>
<line x1="445.57" y1="624.6" x2="445.57" y2="627" stroke="#111" stroke-width="1.2"/>
<line x1="442.07" y1="624.6" x2="449.07" y2="624.6" stroke="#111" stroke-width="1.4"/>
<line x1="442.07" y1="627" x2="449.07" y2="627" stroke="#111" stroke-width="1.4"/>
<line x1="459.95" y1="618.5" x2="459.95" y2="620.9" stroke="#111" stroke-width="1.2"/>
<line x1="456.45" y1="618.5" x2="463.45" y2="618.5" stroke="#111" stroke-width="1.4"/>
<line x1="456.45" y1="620.9" x2="463.45" y2="620.9" stroke="#111" stroke-width="1.4"/>
<line x1="474.33" y1="608.2" x2="474.33" y2="613.2" stroke="#111" stroke-width="1.2"/>
<line x1="470.83" y1="608.2" x2="477.83" y2="608.2" stroke="#111" stroke-width="1.4"/>
<line x1="470.83" y1="613.2" x2="477.83" y2="613.2" stroke="#111" stroke-width="1.4"/>
<line x1="488.72" y1="602.9" x2="488.72" y2="607.9" stroke="#111" stroke-width="1.2"/>
<line x1="485.22" y1="602.9" x2="492.22" y2="602.9" stroke="#111" stroke-width="1.4"/>
<line x1="485.22" y1="607.9" x2="492.22" y2="607.9" stroke="#111" stroke-width="1.4"/>
<line x1="503.1" y1="596.3" x2="503.1" y2="601.3" stroke="#111" stroke-width="1.2"/>
<line x1="499.6" y1="596.3" x2="506.6" y2="596.3" stroke="#111" stroke-width="1.4"/>
<line x1="499.6" y1="601.3" x2="506.6" y2="601.3" stroke="#111" stroke-width="1.4"/>
<line x1="517.48" y1="587.2" x2="517.48" y2="594.2" stroke="#111" stroke-width="1.2"/>
<line x1="513.98" y1="587.2" x2="520.98" y2="587.2" stroke="#111" stroke-width="1.4"/>
<line x1="513.98" y1="594.2" x2="520.98" y2="594.2" stroke="#111" stroke-width="1.4"/>
<line x1="531.86" y1="577.6" x2="531.86" y2="585.6" stroke="#111" stroke-width="1.2"/>
<line x1="528.36" y1="577.6" x2="535.36" y2="577.6" stroke="#111" stroke-width="1.4"/>
<line x1="528.36" y1="585.6" x2="535.36" y2="585.6" stroke="#111" stroke-width="1.4"/>
<line x1="546.25" y1="570.1" x2="546.25" y2="579.1" stroke="#111" stroke-width="1.2"/>
<line x1="542.75" y1="570.1" x2="549.75" y2="570.1" stroke="#111" stroke-width="1.4"/>
<line x1="542.75" y1="579.1" x2="549.75" y2="579.1" stroke="#111" stroke-width="1.4"/>
<line x1="560.63" y1="560.1" x2="560.63" y2="570.5" stroke="#111" stroke-width="1.2"/>
<line x1="557.13" y1="560.1" x2="564.13" y2="560.1" stroke="#111" stroke-width="1.4"/>
<line x1="557.13" y1="570.5" x2="564.13" y2="570.5" stroke="#111" stroke-width="1.4"/>
<line x1="575.01" y1="550.6" x2="575.01" y2="563.8" stroke="#111" stroke-width="1.2"/>
<line x1="571.51" y1="550.6" x2="578.51" y2="550.6" stroke="#111" stroke-width="1.4"/>
<line x1="571.51" y1="563.8" x2="578.51" y2="563.8" stroke="#111" stroke-width="1.4"/>
<line x1="589.4" y1="543.6" x2="589.4" y2="556.6" stroke="#111" stroke-width="1.2"/>
<line x1="585.9" y1="543.6" x2="592.9" y2="543.6" stroke="#111" stroke-width="1.4"/>
<line x1="585.9" y1="556.6" x2="592.9" y2="556.6" stroke="#111" stroke-width="1.4"/>
<line x1="603.78" y1="572" x2="603.78" y2="583.8" stroke="#111" stroke-width="1.2"/>
<line x1="600.28" y1="572" x2="607.28" y2="572" stroke="#111" stroke-width="1.4"/>
<line x1="600.28" y1="583.8" x2="607.28" y2="583.8" stroke="#111" stroke-width="1.4"/>
<line x1="618.16" y1="587.9" x2="618.16" y2="592.9" stroke="#111" stroke-width="1.2"/>
<line x1="614.66" y1="587.9" x2="621.66" y2="587.9" stroke="#111" stroke-width="1.4"/>
<line x1="614.66" y1="592.9" x2="621.66" y2="592.9" stroke="#111" stroke-width="1.4"/>
<line x1="632.54" y1="592.9" x2="632.54" y2="597.9" stroke="#111" stroke-width="1.2"/>
<line x1="629.04" y1="592.9" x2="636.04" y2="592.9" stroke="#111" stroke-width="1.4"/>
<line x1="629.04" y1="597.9" x2="636.04" y2="597.9" stroke="#111" stroke-width="1.4"/>
<line x1="646.93" y1="595.9" x2="646.93" y2="599.9" stroke="#111" stroke-width="1.2"/>
<line x1="643.43" y1="595.9" x2="650.43" y2="595.9" stroke="#111" stroke-width="1.4"/>
<line x1="643.43" y1="599.9" x2="650.43" y2="599.9" stroke="#111" stroke-width="1.4"/>
<line x1="661.31" y1="596.3" x2="661.31" y2="600.3" stroke="#111" stroke-width="1.2"/>
<line x1="657.81" y1="596.3" x2="664.81" y2="596.3" stroke="#111" stroke-width="1.4"/>
<line x1="657.81" y1="600.3" x2="664.81" y2="600.3" stroke="#111" stroke-width="1.4"/>
<line x1="675.69" y1="597.8" x2="675.69" y2="601.8" stroke="#111" stroke-width="1.2"/>
<line x1="672.19" y1="597.8" x2="679.19" y2="597.8" stroke="#111" stroke-width="1.4"/>
<line x1="672.19" y1="601.8" x2="679.19" y2="601.8" stroke="#111" stroke-width="1.4"/>
<line x1="431.18" y1="635" x2="431.18" y2="637" stroke="#111" stroke-width="1.2"/>
<line x1="427.68" y1="635" x2="434.68" y2="635" stroke="#111" stroke-width="1.4"/>
<line x1="427.68" y1="637" x2="434.68" y2="637" stroke="#111" stroke-width="1.4"/>
<line x1="445.57" y1="627.5" x2="445.57" y2="629.5" stroke="#111" stroke-width="1.2"/>
<line x1="442.07" y1="627.5" x2="449.07" y2="627.5" stroke="#111" stroke-width="1.4"/>
<line x1="442.07" y1="629.5" x2="449.07" y2="629.5" stroke="#111" stroke-width="1.4"/>
<line x1="459.95" y1="618.7" x2="459.95" y2="620.7" stroke="#111" stroke-width="1.2"/>
<line x1="456.45" y1="618.7" x2="463.45" y2="618.7" stroke="#111" stroke-width="1.4"/>
<line x1="456.45" y1="620.7" x2="463.45" y2="620.7" stroke="#111" stroke-width="1.4"/>
<line x1="474.33" y1="613.7" x2="474.33" y2="616.7" stroke="#111" stroke-width="1.2"/>
<line x1="470.83" y1="613.7" x2="477.83" y2="613.7" stroke="#111" stroke-width="1.4"/>
<line x1="470.83" y1="616.7" x2="477.83" y2="616.7" stroke="#111" stroke-width="1.4"/>
<line x1="488.72" y1="608.2" x2="488.72" y2="611.2" stroke="#111" stroke-width="1.2"/>
<line x1="485.22" y1="608.2" x2="492.22" y2="608.2" stroke="#111" stroke-width="1.4"/>
<line x1="485.22" y1="611.2" x2="492.22" y2="611.2" stroke="#111" stroke-width="1.4"/>
<line x1="503.1" y1="601.8" x2="503.1" y2="604.8" stroke="#111" stroke-width="1.2"/>
<line x1="499.6" y1="601.8" x2="506.6" y2="601.8" stroke="#111" stroke-width="1.4"/>
<line x1="499.6" y1="604.8" x2="506.6" y2="604.8" stroke="#111" stroke-width="1.4"/>
<line x1="517.48" y1="592.8" x2="517.48" y2="595.8" stroke="#111" stroke-width="1.2"/>
<line x1="513.98" y1="592.8" x2="520.98" y2="592.8" stroke="#111" stroke-width="1.4"/>
<line x1="513.98" y1="595.8" x2="520.98" y2="595.8" stroke="#111" stroke-width="1.4"/>
<line x1="531.86" y1="584.3" x2="531.86" y2="588.3" stroke="#111" stroke-width="1.2"/>
<line x1="528.36" y1="584.3" x2="535.36" y2="584.3" stroke="#111" stroke-width="1.4"/>
<line x1="528.36" y1="588.3" x2="535.36" y2="588.3" stroke="#111" stroke-width="1.4"/>
<line x1="546.25" y1="576.6" x2="546.25" y2="580.6" stroke="#111" stroke-width="1.2"/>
<line x1="542.75" y1="576.6" x2="549.75" y2="576.6" stroke="#111" stroke-width="1.4"/>
<line x1="542.75" y1="580.6" x2="549.75" y2="580.6" stroke="#111" stroke-width="1.4"/>
<line x1="560.63" y1="568.3" x2="560.63" y2="572.3" stroke="#111" stroke-width="1.2"/>
<line x1="557.13" y1="568.3" x2="564.13" y2="568.3" stroke="#111" stroke-width="1.4"/>
<line x1="557.13" y1="572.3" x2="564.13" y2="572.3" stroke="#111" stroke-width="1.4"/>
<line x1="575.01" y1="559.8" x2="575.01" y2="563.8" stroke="#111" stroke-width="1.2"/>
<line x1="571.51" y1="559.8" x2="578.51" y2="559.8" stroke="#111" stroke-width="1.4"/>
<line x1="571.51" y1="563.8" x2="578.51" y2="563.8" stroke="#111" stroke-width="1.4"/>
<line x1="589.4" y1="552" x2="589.4" y2="557" stroke="#111" stroke-width="1.2"/>
<line x1="585.9" y1="552" x2="592.9" y2="552" stroke="#111" stroke-width="1.4"/>
<line x1="585.9" y1="557" x2="592.9" y2="557" stroke="#111" stroke-width="1.4"/>
<line x1="603.78" y1="591.5" x2="603.78" y2="595.5" stroke="#111" stroke-width="1.2"/>
<line x1="600.28" y1="591.5" x2="607.28" y2="591.5" stroke="#111" stroke-width="1.4"/>
<line x1="600.28" y1="595.5" x2="607.28" y2="595.5" stroke="#111" stroke-width="1.4"/>
<line x1="618.16" y1="601" x2="618.16" y2="607" stroke="#111" stroke-width="1.2"/>
<line x1="614.66" y1="601" x2="621.66" y2="601" stroke="#111" stroke-width="1.4"/>
<line x1="614.66" y1="607" x2="621.66" y2="607" stroke="#111" stroke-width="1.4"/>
<line x1="632.54" y1="608.2" x2="632.54" y2="614.2" stroke="#111" stroke-width="1.2"/>
<line x1="629.04" y1="608.2" x2="636.04" y2="608.2" stroke="#111" stroke-width="1.4"/>
<line x1="629.04" y1="614.2" x2="636.04" y2="614.2" stroke="#111" stroke-width="1.4"/>
<line x1="646.93" y1="606.7" x2="646.93" y2="610.7" stroke="#111" stroke-width="1.2"/>
<line x1="643.43" y1="606.7" x2="650.43" y2="606.7" stroke="#111" stroke-width="1.4"/>
<line x1="643.43" y1="610.7" x2="650.43" y2="610.7" stroke="#111" stroke-width="1.4"/>
<line x1="661.31" y1="607.7" x2="661.31" y2="611.7" stroke="#111" stroke-width="1.2"/>
<line x1="657.81" y1="607.7" x2="664.81" y2="607.7" stroke="#111" stroke-width="1.4"/>
<line x1="657.81" y1="611.7" x2="664.81" y2="611.7" stroke="#111" stroke-width="1.4"/>
<line x1="675.69" y1="608" x2="675.69" y2="612" stroke="#111" stroke-width="1.2"/>
<line x1="672.19" y1="608" x2="679.19" y2="608" stroke="#111" stroke-width="1.4"/>
<line x1="672.19" y1="612" x2="679.19" y2="612" stroke="#111" stroke-width="1.4"/>
<polyline fill="none" stroke="#333" stroke-width="1.2" points="416.8,649.9 431.18,648.3 445.57,644.2 459.95,635 474.33,629.9 488.72,620.9 503.1,620.3 517.48,618.9 531.86,614.2 546.25,613 560.63,609.9 575.01,604 589.4,607.8 603.78,603 618.16,604 632.54,603.4 646.93,599.5 661.31,599.5 675.69,600.5"/>
<polyline fill="none" stroke="#111" stroke-width="1.2" points="416.8,649.9 431.18,633 445.57,625.8 459.95,619.7 474.33,610.7 488.72,605.4 503.1,598.8 517.48,590.7 531.86,581.6 546.25,574.6 560.63,565.3 575.01,557.2 589.4,550.1 603.78,577.9 618.16,590.4 632.54,595.4 646.93,597.9 661.31,598.3 675.69,599.8"/>
<polyline fill="none" stroke="#111" stroke-width="1.2" points="416.8,649.9 431.18,636 445.57,628.5 459.95,619.7 474.33,615.2 488.72,609.7 503.1,603.3 517.48,594.3 531.86,586.3 546.25,578.6 560.63,570.3 575.01,561.8 589.4,554.5 603.78,593.5 618.16,604 632.54,611.2 646.93,608.7 661.31,609.7 675.69,610"/>
<circle cx="416.8" cy="649.9" r="3.9" fill="#7f7f7f"/>
<circle cx="431.18" cy="648.3" r="3.9" fill="#7f7f7f"/>
<circle cx="445.57" cy="644.2" r="3.9" fill="#7f7f7f"/>
<circle cx="459.95" cy="635" r="3.9" fill="#7f7f7f"/>
<circle cx="474.33" cy="629.9" r="3.9" fill="#7f7f7f"/>
<circle cx="488.72" cy="620.9" r="3.9" fill="#7f7f7f"/>
<circle cx="503.1" cy="620.3" r="3.9" fill="#7f7f7f"/>
<circle cx="517.48" cy="618.9" r="3.9" fill="#7f7f7f"/>
<circle cx="531.86" cy="614.2" r="3.9" fill="#7f7f7f"/>
<circle cx="546.25" cy="613" r="3.9" fill="#7f7f7f"/>
<circle cx="560.63" cy="609.9" r="3.9" fill="#7f7f7f"/>
<circle cx="575.01" cy="604" r="3.9" fill="#7f7f7f"/>
<circle cx="589.4" cy="607.8" r="3.9" fill="#7f7f7f"/>
<circle cx="603.78" cy="603" r="3.9" fill="#7f7f7f"/>
<circle cx="618.16" cy="604" r="3.9" fill="#7f7f7f"/>
<circle cx="632.54" cy="603.4" r="3.9" fill="#7f7f7f"/>
<circle cx="646.93" cy="599.5" r="3.9" fill="#7f7f7f"/>
<circle cx="661.31" cy="599.5" r="3.9" fill="#7f7f7f"/>
<circle cx="675.69" cy="600.5" r="3.9" fill="#7f7f7f"/>
<circle cx="416.8" cy="649.9" r="3.5" fill="#fff" stroke="#111" stroke-width="1.2"/>
<circle cx="431.18" cy="633" r="3.5" fill="#fff" stroke="#111" stroke-width="1.2"/>
<circle cx="445.57" cy="625.8" r="3.5" fill="#fff" stroke="#111" stroke-width="1.2"/>
<circle cx="459.95" cy="619.7" r="3.5" fill="#fff" stroke="#111" stroke-width="1.2"/>
<circle cx="474.33" cy="610.7" r="3.5" fill="#fff" stroke="#111" stroke-width="1.2"/>
<circle cx="488.72" cy="605.4" r="3.5" fill="#fff" stroke="#111" stroke-width="1.2"/>
<circle cx="503.1" cy="598.8" r="3.5" fill="#fff" stroke="#111" stroke-width="1.2"/>
<circle cx="517.48" cy="590.7" r="3.5" fill="#fff" stroke="#111" stroke-width="1.2"/>
<circle cx="531.86" cy="581.6" r="3.5" fill="#fff" stroke="#111" stroke-width="1.2"/>
<circle cx="546.25" cy="574.6" r="3.5" fill="#fff" stroke="#111" stroke-width="1.2"/>
<circle cx="560.63" cy="565.3" r="3.5" fill="#fff" stroke="#111" stroke-width="1.2"/>
<circle cx="575.01" cy="557.2" r="3.5" fill="#fff" stroke="#111" stroke-width="1.2"/>
<circle cx="589.4" cy="550.1" r="3.5" fill="#fff" stroke="#111" stroke-width="1.2"/>
<circle cx="603.78" cy="577.9" r="3.5" fill="#fff" stroke="#111" stroke-width="1.2"/>
<circle cx="618.16" cy="590.4" r="3.5" fill="#fff" stroke="#111" stroke-width="1.2"/>
<circle cx="632.54" cy="595.4" r="3.5" fill="#fff" stroke="#111" stroke-width="1.2"/>
<circle cx="646.93" cy="597.9" r="3.5" fill="#fff" stroke="#111" stroke-width="1.2"/>
<circle cx="661.31" cy="598.3" r="3.5" fill="#fff" stroke="#111" stroke-width="1.2"/>
<circle cx="675.69" cy="599.8" r="3.5" fill="#fff" stroke="#111" stroke-width="1.2"/>
<circle cx="416.8" cy="649.9" r="3.9" fill="#cc0000"/>
<circle cx="431.18" cy="636" r="3.9" fill="#cc0000"/>
<circle cx="445.57" cy="628.5" r="3.9" fill="#cc0000"/>
<circle cx="459.95" cy="619.7" r="3.9" fill="#cc0000"/>
<circle cx="474.33" cy="615.2" r="3.9" fill="#cc0000"/>
<circle cx="488.72" cy="609.7" r="3.9" fill="#cc0000"/>
<circle cx="503.1" cy="603.3" r="3.9" fill="#cc0000"/>
<circle cx="517.48" cy="594.3" r="3.9" fill="#cc0000"/>
<circle cx="531.86" cy="586.3" r="3.9" fill="#cc0000"/>
<circle cx="546.25" cy="578.6" r="3.9" fill="#cc0000"/>
<circle cx="560.63" cy="570.3" r="3.9" fill="#cc0000"/>
<circle cx="575.01" cy="561.8" r="3.9" fill="#cc0000"/>
<circle cx="589.4" cy="554.5" r="3.9" fill="#cc0000"/>
<circle cx="603.78" cy="593.5" r="3.9" fill="#cc0000"/>
<circle cx="618.16" cy="604" r="3.9" fill="#cc0000"/>
<circle cx="632.54" cy="611.2" r="3.9" fill="#cc0000"/>
<circle cx="646.93" cy="608.7" r="3.9" fill="#cc0000"/>
<circle cx="661.31" cy="609.7" r="3.9" fill="#cc0000"/>
<circle cx="675.69" cy="610" r="3.9" fill="#cc0000"/>
<line x1="589.4" y1="518.6" x2="589.4" y2="532.5" stroke="#000" stroke-width="1.8"/>
<polygon points="585.5,532 593.3,532 589.4,537.8" fill="#000"/>
<text x="604.4" y="573.1" font-size="14" font-weight="bold" text-anchor="middle" fill="#111">*</text>
<text x="632.5" y="591.4" font-size="14" font-weight="bold" text-anchor="middle" fill="#111">*</text>
<text x="443.8" y="661.2" font-size="14.5" text-anchor="middle" fill="#000">#</text>
<text x="473.5" y="646.2" font-size="14.5" text-anchor="middle" fill="#000">#</text>
<text x="503.3" y="636.2" font-size="14.5" text-anchor="middle" fill="#000">##</text>
<text x="519.2" y="642.2" font-size="14" text-anchor="middle" fill="#000">+</text>
<text x="573.8" y="624.4" font-size="14.5" text-anchor="middle" fill="#000">###</text>
<text x="571.7" y="641.2" font-size="14" text-anchor="middle" fill="#000">+++</text>
<line x1="518.4" y1="626.4" x2="605.6" y2="626.4" stroke="#111" stroke-width="1.7"/>
<line x1="532.5" y1="641.9" x2="605.6" y2="641.9" stroke="#111" stroke-width="1.7"/>
<circle cx="425.6" cy="506.3" r="2.6" fill="#fff" stroke="#111" stroke-width="1.1"/>
<text x="432.3" y="510.4" font-size="12.1" fill="#111">HFD – CD</text>
<circle cx="425.6" cy="527.9" r="3.1" fill="#cc0000"/>
<text x="432.3" y="532.1" font-size="12.1" fill="#111">HFD – BAY+CD</text>
<circle cx="425.6" cy="549.6" r="3.1" fill="#7f7f7f"/>
<text x="432.3" y="554" font-size="12.1" fill="#111">CD</text>
<text transform="translate(381.6 583.3) rotate(-90)" font-size="14.3" text-anchor="middle" fill="#111">Body weight (g)</text>
</svg>
</body></html>
